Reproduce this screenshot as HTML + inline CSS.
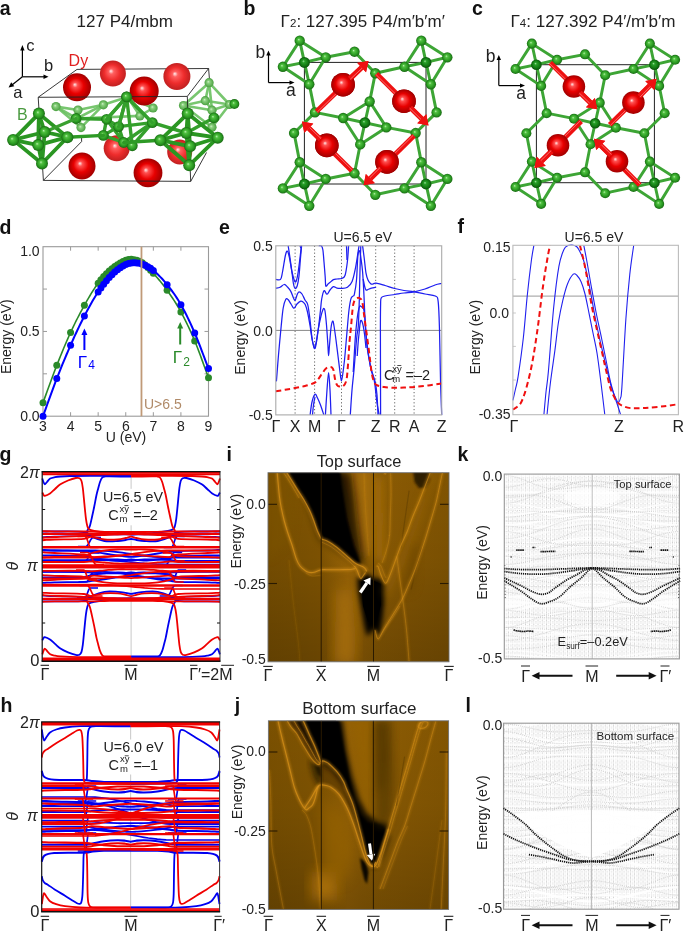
<!DOCTYPE html>
<html><head><meta charset="utf-8"><style>
html,body{margin:0;padding:0;background:#fff;}
svg{display:block;font-family:"Liberation Sans",sans-serif;will-change:transform;}
</style></head><body>
<svg width="685" height="932" viewBox="0 0 685 932">
<rect x="0" y="0" width="685" height="932" fill="#fff"/>
<defs>
<radialGradient id="gRed" cx="0.5" cy="0.5" r="0.5" fx="0.42" fy="0.40">
 <stop offset="0" stop-color="#ffe8e8"/><stop offset="0.18" stop-color="#ff5050"/><stop offset="0.55" stop-color="#e80000"/><stop offset="1" stop-color="#a00000"/>
</radialGradient>
<radialGradient id="gRedL" cx="0.5" cy="0.5" r="0.5" fx="0.42" fy="0.40">
 <stop offset="0" stop-color="#fff0f0"/><stop offset="0.2" stop-color="#ff6060"/><stop offset="0.6" stop-color="#ee2c2c"/><stop offset="1" stop-color="#c02020"/>
</radialGradient>
<radialGradient id="gGrn" cx="0.5" cy="0.5" r="0.5" fx="0.40" fy="0.38">
 <stop offset="0" stop-color="#b8f0b0"/><stop offset="0.25" stop-color="#50c040"/><stop offset="0.7" stop-color="#2a9a22"/><stop offset="1" stop-color="#1a6a14"/>
</radialGradient>
<radialGradient id="gGrnD" cx="0.5" cy="0.5" r="0.5" fx="0.40" fy="0.38">
 <stop offset="0" stop-color="#a0e0a0"/><stop offset="0.25" stop-color="#28a028"/><stop offset="0.7" stop-color="#137a13"/><stop offset="1" stop-color="#0a500a"/>
</radialGradient>
<radialGradient id="gGrnL" cx="0.5" cy="0.5" r="0.5" fx="0.40" fy="0.38">
 <stop offset="0" stop-color="#d0f0c8"/><stop offset="0.3" stop-color="#8ad07e"/><stop offset="1" stop-color="#4aa040"/>
</radialGradient>

<filter id="bl1" x="-20%" y="-20%" width="140%" height="140%"><feGaussianBlur stdDeviation="1.2"/></filter>
<filter id="bl2" x="-20%" y="-20%" width="140%" height="140%"><feGaussianBlur stdDeviation="2.5"/></filter>
<filter id="bl4" x="-30%" y="-30%" width="160%" height="160%"><feGaussianBlur stdDeviation="4.5"/></filter>
<filter id="bl7" x="-30%" y="-30%" width="160%" height="160%"><feGaussianBlur stdDeviation="7"/></filter>
<linearGradient id="vdark" x1="0" y1="0" x2="0" y2="1">
 <stop offset="0" stop-color="#000" stop-opacity="0"/><stop offset="0.45" stop-color="#000" stop-opacity="0.05"/><stop offset="1" stop-color="#000" stop-opacity="0.2"/>
</linearGradient>
<clipPath id="clipI"><rect x="268.0" y="472.7" width="181.0" height="189.1"/></clipPath>
<clipPath id="clipJ"><rect x="268.4" y="720.8" width="180.2" height="188.6"/></clipPath>
<linearGradient id="baseI" x1="268" y1="0" x2="449" y2="0" gradientUnits="userSpaceOnUse">
 <stop offset="0" stop-color="#7a5001"/><stop offset="0.18" stop-color="#7e5302"/><stop offset="0.29" stop-color="#825502"/>
 <stop offset="0.37" stop-color="#915f04"/><stop offset="0.44" stop-color="#9e6706"/><stop offset="0.52" stop-color="#925f05"/>
 <stop offset="0.58" stop-color="#8c5c04"/><stop offset="0.75" stop-color="#875803"/><stop offset="1" stop-color="#805402"/>
</linearGradient>
<linearGradient id="baseJ" x1="268" y1="0" x2="449" y2="0" gradientUnits="userSpaceOnUse">
 <stop offset="0" stop-color="#7a5001"/><stop offset="0.18" stop-color="#7e5302"/><stop offset="0.29" stop-color="#825502"/>
 <stop offset="0.37" stop-color="#8c5c04"/><stop offset="0.44" stop-color="#946106"/><stop offset="0.52" stop-color="#8e5d05"/>
 <stop offset="0.58" stop-color="#8c5c04"/><stop offset="0.75" stop-color="#885903"/><stop offset="1" stop-color="#825502"/>
</linearGradient>

<pattern id="dotpat" x="0" y="0" width="4.2" height="3.9" patternUnits="userSpaceOnUse">
 <rect x="0" y="0" width="0.85" height="0.8" fill="#c4c4c4"/><rect x="2.1" y="1.3" width="0.85" height="0.8" fill="#c4c4c4"/>
 <rect x="0" y="2.6" width="0.85" height="0.8" fill="#c4c4c4"/><rect x="2.1" y="2.6" width="0.85" height="0.8" fill="#cccccc"/>
 <rect x="0" y="1.3" width="0.85" height="0.8" fill="#dadada"/>
</pattern>
</defs>
<text x="-0.3" y="14.5" font-size="19.5" text-anchor="start" fill="#111" font-weight="bold" >a</text>
<text x="243.6" y="14.5" font-size="19.5" text-anchor="start" fill="#111" font-weight="bold" >b</text>
<text x="472.0" y="14.5" font-size="19.5" text-anchor="start" fill="#111" font-weight="bold" >c</text>
<text x="-0.5" y="233.6" font-size="19.5" text-anchor="start" fill="#111" font-weight="bold" >d</text>
<text x="219.0" y="233.6" font-size="19.5" text-anchor="start" fill="#111" font-weight="bold" >e</text>
<text x="457.6" y="233.4" font-size="19.5" text-anchor="start" fill="#111" font-weight="bold" >f</text>
<text x="-0.5" y="460.5" font-size="19.5" text-anchor="start" fill="#111" font-weight="bold" >g</text>
<text x="226.6" y="461.0" font-size="19.5" text-anchor="start" fill="#111" font-weight="bold" >i</text>
<text x="457.6" y="460.8" font-size="19.5" text-anchor="start" fill="#111" font-weight="bold" >k</text>
<text x="0.4" y="711.7" font-size="19.5" text-anchor="start" fill="#111" font-weight="bold" >h</text>
<text x="234.8" y="712.0" font-size="19.5" text-anchor="start" fill="#111" font-weight="bold" >j</text>
<text x="465.6" y="711.8" font-size="19.5" text-anchor="start" fill="#111" font-weight="bold" >l</text>
<text x="76.6" y="26.9" font-size="17.0" text-anchor="start" fill="#222" font-weight="normal" >127 P4/mbm</text>
<line x1="22.40" y1="76.80" x2="22.40" y2="49.50" stroke="#000" stroke-width="1.2" />
<path d="M22.4,45.0 L20.2,50.5 L24.599999999999998,50.5 Z" fill="#000"/>
<line x1="22.40" y1="76.80" x2="44.50" y2="76.80" stroke="#000" stroke-width="1.2" />
<path d="M48.5,76.8 L43.5,74.6 L43.5,79.0 Z" fill="#000"/>
<line x1="22.40" y1="76.80" x2="12.00" y2="85.00" stroke="#000" stroke-width="1.2" />
<path d="M8.6,87.4 L11.2,82.2 L14.3,86.2 Z" fill="#000"/>
<text x="26.2" y="50.6" font-size="16.5" text-anchor="start" fill="#222" font-weight="normal" >c</text>
<text x="44.0" y="70.6" font-size="16.5" text-anchor="start" fill="#222" font-weight="normal" >b</text>
<text x="13.2" y="98.2" font-size="16.5" text-anchor="start" fill="#222" font-weight="normal" >a</text>
<text x="68.6" y="66.0" font-size="16" text-anchor="start" fill="#e02020" font-weight="normal" >Dy</text>
<text x="17.0" y="120.0" font-size="16" text-anchor="start" fill="#4a9a40" font-weight="normal" >B</text>
<line x1="77.00" y1="69.40" x2="208.60" y2="68.50" stroke="#222" stroke-width="0.9" />
<line x1="77.00" y1="69.40" x2="38.20" y2="97.30" stroke="#222" stroke-width="0.9" />
<line x1="208.60" y1="68.50" x2="187.30" y2="96.40" stroke="#222" stroke-width="0.9" />
<line x1="208.60" y1="68.50" x2="209.50" y2="80.00" stroke="#222" stroke-width="0.9" />
<line x1="43.40" y1="180.40" x2="81.60" y2="141.60" stroke="#222" stroke-width="0.9" />
<line x1="81.60" y1="141.60" x2="81.60" y2="136.00" stroke="#222" stroke-width="0.9" />
<line x1="190.70" y1="181.40" x2="206.50" y2="152.50" stroke="#222" stroke-width="0.9" />
<circle cx="112.90" cy="73.60" r="13.00" fill="url(#gRedL)"/>
<circle cx="176.90" cy="76.40" r="13.50" fill="url(#gRedL)"/>
<circle cx="116.70" cy="148.20" r="13.00" fill="url(#gRedL)"/>
<circle cx="179.70" cy="152.00" r="12.50" fill="url(#gRedL)"/>
<line x1="56.00" y1="106.60" x2="78.00" y2="110.00" stroke="#6ac060" stroke-width="2.6" stroke-linecap="round" opacity="0.9"/>
<line x1="78.00" y1="110.00" x2="103.40" y2="104.80" stroke="#6ac060" stroke-width="2.6" stroke-linecap="round" opacity="0.9"/>
<line x1="56.00" y1="106.60" x2="81.00" y2="127.60" stroke="#6ac060" stroke-width="2.6" stroke-linecap="round" opacity="0.9"/>
<line x1="78.00" y1="110.00" x2="81.00" y2="127.60" stroke="#6ac060" stroke-width="2.6" stroke-linecap="round" opacity="0.9"/>
<line x1="103.40" y1="104.80" x2="81.00" y2="127.60" stroke="#6ac060" stroke-width="2.6" stroke-linecap="round" opacity="0.9"/>
<line x1="56.00" y1="106.60" x2="76.70" y2="118.50" stroke="#6ac060" stroke-width="2.6" stroke-linecap="round" opacity="0.9"/>
<line x1="103.40" y1="104.80" x2="76.70" y2="118.50" stroke="#6ac060" stroke-width="2.6" stroke-linecap="round" opacity="0.9"/>
<line x1="78.00" y1="110.00" x2="76.70" y2="118.50" stroke="#6ac060" stroke-width="2.6" stroke-linecap="round" opacity="0.9"/>
<line x1="103.40" y1="104.80" x2="127.50" y2="97.00" stroke="#6ac060" stroke-width="2.6" stroke-linecap="round" opacity="0.9"/>
<line x1="127.50" y1="97.00" x2="153.10" y2="108.00" stroke="#6ac060" stroke-width="2.6" stroke-linecap="round" opacity="0.9"/>
<line x1="153.10" y1="108.00" x2="139.90" y2="115.90" stroke="#6ac060" stroke-width="2.6" stroke-linecap="round" opacity="0.9"/>
<line x1="127.50" y1="97.00" x2="139.90" y2="115.90" stroke="#6ac060" stroke-width="2.6" stroke-linecap="round" opacity="0.9"/>
<line x1="139.90" y1="115.90" x2="76.70" y2="118.50" stroke="#6ac060" stroke-width="2.6" stroke-linecap="round" opacity="0.9"/>
<line x1="209.10" y1="82.70" x2="183.50" y2="105.50" stroke="#6ac060" stroke-width="2.6" stroke-linecap="round" opacity="0.9"/>
<line x1="209.10" y1="82.70" x2="205.30" y2="100.70" stroke="#6ac060" stroke-width="2.6" stroke-linecap="round" opacity="0.9"/>
<line x1="209.10" y1="82.70" x2="212.00" y2="110.20" stroke="#6ac060" stroke-width="2.6" stroke-linecap="round" opacity="0.9"/>
<line x1="183.50" y1="105.50" x2="205.30" y2="100.70" stroke="#6ac060" stroke-width="2.6" stroke-linecap="round" opacity="0.9"/>
<line x1="205.30" y1="100.70" x2="212.00" y2="110.20" stroke="#6ac060" stroke-width="2.6" stroke-linecap="round" opacity="0.9"/>
<line x1="183.50" y1="105.50" x2="212.00" y2="110.20" stroke="#6ac060" stroke-width="2.6" stroke-linecap="round" opacity="0.9"/>
<line x1="212.00" y1="110.20" x2="212.00" y2="127.30" stroke="#6ac060" stroke-width="2.6" stroke-linecap="round" opacity="0.9"/>
<line x1="183.50" y1="105.50" x2="212.00" y2="127.30" stroke="#6ac060" stroke-width="2.6" stroke-linecap="round" opacity="0.9"/>
<line x1="212.00" y1="110.20" x2="229.50" y2="104.50" stroke="#6ac060" stroke-width="2.6" stroke-linecap="round" opacity="0.9"/>
<line x1="205.30" y1="100.70" x2="229.50" y2="104.50" stroke="#6ac060" stroke-width="2.6" stroke-linecap="round" opacity="0.9"/>
<line x1="209.10" y1="82.70" x2="229.50" y2="104.50" stroke="#6ac060" stroke-width="2.6" stroke-linecap="round" opacity="0.9"/>
<line x1="212.00" y1="127.30" x2="229.50" y2="104.50" stroke="#6ac060" stroke-width="2.6" stroke-linecap="round" opacity="0.9"/>
<circle cx="56.00" cy="106.60" r="4.60" fill="url(#gGrnL)"/>
<circle cx="78.00" cy="110.00" r="4.60" fill="url(#gGrnL)"/>
<circle cx="103.40" cy="104.80" r="4.60" fill="url(#gGrnL)"/>
<circle cx="81.00" cy="127.60" r="4.60" fill="url(#gGrnL)"/>
<circle cx="76.70" cy="118.50" r="4.60" fill="url(#gGrnL)"/>
<circle cx="127.50" cy="97.00" r="4.60" fill="url(#gGrnL)"/>
<circle cx="153.10" cy="108.00" r="4.60" fill="url(#gGrnL)"/>
<circle cx="139.90" cy="115.90" r="4.60" fill="url(#gGrnL)"/>
<circle cx="209.10" cy="82.70" r="4.60" fill="url(#gGrnL)"/>
<circle cx="183.50" cy="105.50" r="4.60" fill="url(#gGrnL)"/>
<circle cx="205.30" cy="100.70" r="4.60" fill="url(#gGrnL)"/>
<circle cx="212.00" cy="110.20" r="4.60" fill="url(#gGrnL)"/>
<circle cx="212.00" cy="127.30" r="4.60" fill="url(#gGrnL)"/>
<circle cx="229.50" cy="104.50" r="4.60" fill="url(#gGrnL)"/>
<line x1="126.60" y1="96.90" x2="106.60" y2="119.30" stroke="#34a02c" stroke-width="3.4" stroke-linecap="round" opacity="1.0"/>
<line x1="126.60" y1="96.90" x2="118.60" y2="126.60" stroke="#34a02c" stroke-width="3.4" stroke-linecap="round" opacity="1.0"/>
<line x1="126.60" y1="96.90" x2="152.30" y2="122.60" stroke="#34a02c" stroke-width="3.4" stroke-linecap="round" opacity="1.0"/>
<line x1="106.60" y1="119.30" x2="118.60" y2="126.60" stroke="#34a02c" stroke-width="3.4" stroke-linecap="round" opacity="1.0"/>
<line x1="118.60" y1="126.60" x2="152.30" y2="122.60" stroke="#34a02c" stroke-width="3.4" stroke-linecap="round" opacity="1.0"/>
<line x1="106.60" y1="119.30" x2="123.70" y2="142.50" stroke="#34a02c" stroke-width="3.4" stroke-linecap="round" opacity="1.0"/>
<line x1="118.60" y1="126.60" x2="123.70" y2="142.50" stroke="#34a02c" stroke-width="3.4" stroke-linecap="round" opacity="1.0"/>
<line x1="152.30" y1="122.60" x2="123.70" y2="142.50" stroke="#34a02c" stroke-width="3.4" stroke-linecap="round" opacity="1.0"/>
<line x1="123.70" y1="142.50" x2="132.30" y2="145.80" stroke="#34a02c" stroke-width="3.4" stroke-linecap="round" opacity="1.0"/>
<line x1="152.30" y1="122.60" x2="132.30" y2="145.80" stroke="#34a02c" stroke-width="3.4" stroke-linecap="round" opacity="1.0"/>
<line x1="106.60" y1="119.30" x2="103.40" y2="135.40" stroke="#34a02c" stroke-width="3.4" stroke-linecap="round" opacity="1.0"/>
<line x1="103.40" y1="135.40" x2="123.70" y2="142.50" stroke="#34a02c" stroke-width="3.4" stroke-linecap="round" opacity="1.0"/>
<line x1="152.30" y1="122.60" x2="186.40" y2="133.00" stroke="#34a02c" stroke-width="3.4" stroke-linecap="round" opacity="1.0"/>
<line x1="186.40" y1="133.00" x2="213.90" y2="117.80" stroke="#34a02c" stroke-width="3.4" stroke-linecap="round" opacity="1.0"/>
<line x1="118.60" y1="126.60" x2="103.40" y2="135.40" stroke="#34a02c" stroke-width="3.4" stroke-linecap="round" opacity="1.0"/>
<line x1="76.10" y1="118.50" x2="106.60" y2="119.30" stroke="#34a02c" stroke-width="3.4" stroke-linecap="round" opacity="1.0"/>
<line x1="126.60" y1="96.90" x2="132.30" y2="145.80" stroke="#34a02c" stroke-width="3.4" stroke-linecap="round" opacity="1.0"/>
<circle cx="106.60" cy="119.30" r="5.40" fill="url(#gGrn)"/>
<circle cx="118.60" cy="126.60" r="5.40" fill="url(#gGrn)"/>
<circle cx="152.30" cy="122.60" r="5.40" fill="url(#gGrn)"/>
<circle cx="126.60" cy="96.90" r="5.40" fill="url(#gGrn)"/>
<circle cx="123.70" cy="142.50" r="5.40" fill="url(#gGrn)"/>
<circle cx="103.40" cy="135.40" r="5.40" fill="url(#gGrn)"/>
<circle cx="132.30" cy="145.80" r="5.40" fill="url(#gGrn)"/>
<circle cx="76.10" cy="118.50" r="5.40" fill="url(#gGrn)"/>
<circle cx="186.40" cy="133.00" r="5.40" fill="url(#gGrn)"/>
<circle cx="213.90" cy="117.80" r="5.40" fill="url(#gGrn)"/>
<circle cx="77.00" cy="87.30" r="14.00" fill="url(#gRed)"/>
<circle cx="144.20" cy="90.90" r="14.50" fill="url(#gRed)"/>
<line x1="126.60" y1="96.90" x2="118.60" y2="126.60" stroke="#34a02c" stroke-width="3.4" stroke-linecap="round" opacity="1.0"/>
<line x1="126.60" y1="96.90" x2="152.30" y2="122.60" stroke="#34a02c" stroke-width="3.4" stroke-linecap="round" opacity="1.0"/>
<line x1="126.60" y1="96.90" x2="106.60" y2="119.30" stroke="#34a02c" stroke-width="3.4" stroke-linecap="round" opacity="1.0"/>
<line x1="38.20" y1="97.30" x2="187.30" y2="96.40" stroke="#222" stroke-width="0.9" />
<line x1="38.20" y1="97.30" x2="43.40" y2="180.40" stroke="#222" stroke-width="0.9" />
<line x1="187.30" y1="96.40" x2="190.70" y2="181.40" stroke="#222" stroke-width="0.9" />
<circle cx="126.60" cy="96.90" r="5.40" fill="url(#gGrn)"/>
<line x1="38.90" y1="113.60" x2="13.10" y2="139.90" stroke="#2a9622" stroke-width="3.8" stroke-linecap="round" opacity="1.0"/>
<line x1="42.00" y1="163.50" x2="13.10" y2="139.90" stroke="#2a9622" stroke-width="3.8" stroke-linecap="round" opacity="1.0"/>
<line x1="38.90" y1="113.60" x2="38.20" y2="145.10" stroke="#2a9622" stroke-width="3.8" stroke-linecap="round" opacity="1.0"/>
<line x1="42.00" y1="163.50" x2="38.20" y2="145.10" stroke="#2a9622" stroke-width="3.8" stroke-linecap="round" opacity="1.0"/>
<line x1="38.90" y1="113.60" x2="67.40" y2="137.20" stroke="#2a9622" stroke-width="3.8" stroke-linecap="round" opacity="1.0"/>
<line x1="42.00" y1="163.50" x2="67.40" y2="137.20" stroke="#2a9622" stroke-width="3.8" stroke-linecap="round" opacity="1.0"/>
<line x1="38.90" y1="113.60" x2="44.70" y2="132.00" stroke="#2a9622" stroke-width="3.8" stroke-linecap="round" opacity="1.0"/>
<line x1="42.00" y1="163.50" x2="44.70" y2="132.00" stroke="#2a9622" stroke-width="3.8" stroke-linecap="round" opacity="1.0"/>
<line x1="13.10" y1="139.90" x2="38.20" y2="145.10" stroke="#2a9622" stroke-width="3.8" stroke-linecap="round" opacity="1.0"/>
<line x1="38.20" y1="145.10" x2="67.40" y2="137.20" stroke="#2a9622" stroke-width="3.8" stroke-linecap="round" opacity="1.0"/>
<line x1="67.40" y1="137.20" x2="44.70" y2="132.00" stroke="#2a9622" stroke-width="3.8" stroke-linecap="round" opacity="1.0"/>
<line x1="44.70" y1="132.00" x2="13.10" y2="139.90" stroke="#2a9622" stroke-width="3.8" stroke-linecap="round" opacity="1.0"/>
<line x1="187.70" y1="113.60" x2="160.40" y2="140.20" stroke="#2a9622" stroke-width="3.8" stroke-linecap="round" opacity="1.0"/>
<line x1="189.20" y1="165.30" x2="160.40" y2="140.20" stroke="#2a9622" stroke-width="3.8" stroke-linecap="round" opacity="1.0"/>
<line x1="187.70" y1="113.60" x2="190.10" y2="146.30" stroke="#2a9622" stroke-width="3.8" stroke-linecap="round" opacity="1.0"/>
<line x1="189.20" y1="165.30" x2="190.10" y2="146.30" stroke="#2a9622" stroke-width="3.8" stroke-linecap="round" opacity="1.0"/>
<line x1="187.70" y1="113.60" x2="217.70" y2="137.70" stroke="#2a9622" stroke-width="3.8" stroke-linecap="round" opacity="1.0"/>
<line x1="189.20" y1="165.30" x2="217.70" y2="137.70" stroke="#2a9622" stroke-width="3.8" stroke-linecap="round" opacity="1.0"/>
<line x1="187.70" y1="113.60" x2="186.40" y2="133.00" stroke="#2a9622" stroke-width="3.8" stroke-linecap="round" opacity="1.0"/>
<line x1="189.20" y1="165.30" x2="186.40" y2="133.00" stroke="#2a9622" stroke-width="3.8" stroke-linecap="round" opacity="1.0"/>
<line x1="160.40" y1="140.20" x2="190.10" y2="146.30" stroke="#2a9622" stroke-width="3.8" stroke-linecap="round" opacity="1.0"/>
<line x1="190.10" y1="146.30" x2="217.70" y2="137.70" stroke="#2a9622" stroke-width="3.8" stroke-linecap="round" opacity="1.0"/>
<line x1="217.70" y1="137.70" x2="186.40" y2="133.00" stroke="#2a9622" stroke-width="3.8" stroke-linecap="round" opacity="1.0"/>
<line x1="186.40" y1="133.00" x2="160.40" y2="140.20" stroke="#2a9622" stroke-width="3.8" stroke-linecap="round" opacity="1.0"/>
<line x1="67.40" y1="137.20" x2="103.40" y2="135.40" stroke="#2e9a26" stroke-width="3.4" stroke-linecap="round" opacity="1.0"/>
<line x1="123.70" y1="142.50" x2="160.40" y2="140.20" stroke="#2e9a26" stroke-width="3.4" stroke-linecap="round" opacity="1.0"/>
<line x1="44.70" y1="132.00" x2="76.10" y2="118.50" stroke="#3aa030" stroke-width="3.0" stroke-linecap="round" opacity="1.0"/>
<circle cx="44.70" cy="132.00" r="6.00" fill="url(#gGrn)"/>
<circle cx="67.40" cy="137.20" r="6.00" fill="url(#gGrn)"/>
<circle cx="38.20" cy="145.10" r="6.00" fill="url(#gGrn)"/>
<circle cx="13.10" cy="139.90" r="6.00" fill="url(#gGrn)"/>
<circle cx="42.00" cy="163.50" r="6.00" fill="url(#gGrn)"/>
<circle cx="38.90" cy="113.60" r="6.00" fill="url(#gGrn)"/>
<circle cx="186.40" cy="133.00" r="6.00" fill="url(#gGrn)"/>
<circle cx="217.70" cy="137.70" r="6.00" fill="url(#gGrn)"/>
<circle cx="190.10" cy="146.30" r="6.00" fill="url(#gGrn)"/>
<circle cx="160.40" cy="140.20" r="6.00" fill="url(#gGrn)"/>
<circle cx="189.20" cy="165.30" r="6.00" fill="url(#gGrn)"/>
<circle cx="187.70" cy="113.60" r="6.00" fill="url(#gGrn)"/>
<circle cx="82.00" cy="166.00" r="13.50" fill="url(#gRed)"/>
<circle cx="148.00" cy="172.80" r="14.40" fill="url(#gRed)"/>
<line x1="43.40" y1="180.40" x2="190.70" y2="181.40" stroke="#222" stroke-width="0.9" />
<text x="280.6" y="26.5" font-size="17.0" text-anchor="start" fill="#222" font-weight="normal" >Γ<tspan font-size="11.5">2</tspan>: 127.395 P4/m′b′m′</text>
<rect x="304.40" y="62.40" width="121.60" height="121.60" stroke="#222" stroke-width="1.0" fill="none" />
<line x1="304.40" y1="62.40" x2="299.72" y2="40.67" stroke="#3da535" stroke-width="2.990163934426229" stroke-linecap="round" opacity="1.0"/>
<line x1="304.40" y1="62.40" x2="325.73" y2="57.32" stroke="#3da535" stroke-width="2.990163934426229" stroke-linecap="round" opacity="1.0"/>
<line x1="304.40" y1="62.40" x2="282.87" y2="66.79" stroke="#3da535" stroke-width="2.990163934426229" stroke-linecap="round" opacity="1.0"/>
<line x1="304.40" y1="62.40" x2="309.28" y2="84.23" stroke="#3da535" stroke-width="2.990163934426229" stroke-linecap="round" opacity="1.0"/>
<line x1="299.72" y1="40.67" x2="325.73" y2="57.32" stroke="#3da535" stroke-width="2.990163934426229" stroke-linecap="round" opacity="1.0"/>
<line x1="299.72" y1="40.67" x2="282.87" y2="66.79" stroke="#3da535" stroke-width="2.990163934426229" stroke-linecap="round" opacity="1.0"/>
<line x1="325.73" y1="57.32" x2="309.28" y2="84.23" stroke="#3da535" stroke-width="2.990163934426229" stroke-linecap="round" opacity="1.0"/>
<line x1="325.73" y1="57.32" x2="354.50" y2="51.70" stroke="#3da535" stroke-width="2.990163934426229" stroke-linecap="round" opacity="1.0"/>
<line x1="282.87" y1="66.79" x2="309.28" y2="84.23" stroke="#3da535" stroke-width="2.990163934426229" stroke-linecap="round" opacity="1.0"/>
<line x1="309.28" y1="84.23" x2="314.98" y2="112.38" stroke="#3da535" stroke-width="2.990163934426229" stroke-linecap="round" opacity="1.0"/>
<line x1="364.90" y1="122.71" x2="369.68" y2="101.48" stroke="#3da535" stroke-width="2.990163934426229" stroke-linecap="round" opacity="1.0"/>
<line x1="364.90" y1="122.71" x2="386.33" y2="127.40" stroke="#3da535" stroke-width="2.990163934426229" stroke-linecap="round" opacity="1.0"/>
<line x1="364.90" y1="122.71" x2="360.21" y2="144.44" stroke="#3da535" stroke-width="2.990163934426229" stroke-linecap="round" opacity="1.0"/>
<line x1="364.90" y1="122.71" x2="343.17" y2="118.03" stroke="#3da535" stroke-width="2.990163934426229" stroke-linecap="round" opacity="1.0"/>
<line x1="369.68" y1="101.48" x2="386.33" y2="127.40" stroke="#3da535" stroke-width="2.990163934426229" stroke-linecap="round" opacity="1.0"/>
<line x1="369.68" y1="101.48" x2="343.17" y2="118.03" stroke="#3da535" stroke-width="2.990163934426229" stroke-linecap="round" opacity="1.0"/>
<line x1="369.68" y1="101.48" x2="375.29" y2="73.22" stroke="#3da535" stroke-width="2.990163934426229" stroke-linecap="round" opacity="1.0"/>
<line x1="386.33" y1="127.40" x2="360.21" y2="144.44" stroke="#3da535" stroke-width="2.990163934426229" stroke-linecap="round" opacity="1.0"/>
<line x1="386.33" y1="127.40" x2="415.66" y2="133.05" stroke="#3da535" stroke-width="2.990163934426229" stroke-linecap="round" opacity="1.0"/>
<line x1="360.21" y1="144.44" x2="343.17" y2="118.03" stroke="#3da535" stroke-width="2.990163934426229" stroke-linecap="round" opacity="1.0"/>
<line x1="360.21" y1="144.44" x2="354.50" y2="173.30" stroke="#3da535" stroke-width="2.990163934426229" stroke-linecap="round" opacity="1.0"/>
<line x1="343.17" y1="118.03" x2="314.98" y2="112.38" stroke="#3da535" stroke-width="2.990163934426229" stroke-linecap="round" opacity="1.0"/>
<line x1="354.50" y1="51.70" x2="375.29" y2="73.22" stroke="#3da535" stroke-width="2.990163934426229" stroke-linecap="round" opacity="1.0"/>
<line x1="375.29" y1="73.22" x2="404.47" y2="66.79" stroke="#3da535" stroke-width="2.990163934426229" stroke-linecap="round" opacity="1.0"/>
<line x1="314.98" y1="112.38" x2="294.06" y2="133.05" stroke="#3da535" stroke-width="2.990163934426229" stroke-linecap="round" opacity="1.0"/>
<line x1="294.06" y1="133.05" x2="299.72" y2="162.27" stroke="#3da535" stroke-width="2.990163934426229" stroke-linecap="round" opacity="1.0"/>
<line x1="304.40" y1="184.00" x2="299.72" y2="162.27" stroke="#3da535" stroke-width="2.990163934426229" stroke-linecap="round" opacity="1.0"/>
<line x1="304.40" y1="184.00" x2="325.73" y2="178.92" stroke="#3da535" stroke-width="2.990163934426229" stroke-linecap="round" opacity="1.0"/>
<line x1="304.40" y1="184.00" x2="282.87" y2="188.39" stroke="#3da535" stroke-width="2.990163934426229" stroke-linecap="round" opacity="1.0"/>
<line x1="304.40" y1="184.00" x2="309.28" y2="205.83" stroke="#3da535" stroke-width="2.990163934426229" stroke-linecap="round" opacity="1.0"/>
<line x1="299.72" y1="162.27" x2="325.73" y2="178.92" stroke="#3da535" stroke-width="2.990163934426229" stroke-linecap="round" opacity="1.0"/>
<line x1="299.72" y1="162.27" x2="282.87" y2="188.39" stroke="#3da535" stroke-width="2.990163934426229" stroke-linecap="round" opacity="1.0"/>
<line x1="325.73" y1="178.92" x2="309.28" y2="205.83" stroke="#3da535" stroke-width="2.990163934426229" stroke-linecap="round" opacity="1.0"/>
<line x1="325.73" y1="178.92" x2="354.50" y2="173.30" stroke="#3da535" stroke-width="2.990163934426229" stroke-linecap="round" opacity="1.0"/>
<line x1="282.87" y1="188.39" x2="309.28" y2="205.83" stroke="#3da535" stroke-width="2.990163934426229" stroke-linecap="round" opacity="1.0"/>
<line x1="354.50" y1="173.30" x2="375.29" y2="194.82" stroke="#3da535" stroke-width="2.990163934426229" stroke-linecap="round" opacity="1.0"/>
<line x1="375.29" y1="194.82" x2="404.47" y2="188.39" stroke="#3da535" stroke-width="2.990163934426229" stroke-linecap="round" opacity="1.0"/>
<line x1="426.00" y1="62.40" x2="421.32" y2="40.67" stroke="#3da535" stroke-width="2.990163934426229" stroke-linecap="round" opacity="1.0"/>
<line x1="426.00" y1="62.40" x2="447.33" y2="57.32" stroke="#3da535" stroke-width="2.990163934426229" stroke-linecap="round" opacity="1.0"/>
<line x1="426.00" y1="62.40" x2="404.47" y2="66.79" stroke="#3da535" stroke-width="2.990163934426229" stroke-linecap="round" opacity="1.0"/>
<line x1="426.00" y1="62.40" x2="430.88" y2="84.23" stroke="#3da535" stroke-width="2.990163934426229" stroke-linecap="round" opacity="1.0"/>
<line x1="421.32" y1="40.67" x2="447.33" y2="57.32" stroke="#3da535" stroke-width="2.990163934426229" stroke-linecap="round" opacity="1.0"/>
<line x1="421.32" y1="40.67" x2="404.47" y2="66.79" stroke="#3da535" stroke-width="2.990163934426229" stroke-linecap="round" opacity="1.0"/>
<line x1="447.33" y1="57.32" x2="430.88" y2="84.23" stroke="#3da535" stroke-width="2.990163934426229" stroke-linecap="round" opacity="1.0"/>
<line x1="404.47" y1="66.79" x2="430.88" y2="84.23" stroke="#3da535" stroke-width="2.990163934426229" stroke-linecap="round" opacity="1.0"/>
<line x1="430.88" y1="84.23" x2="436.58" y2="112.38" stroke="#3da535" stroke-width="2.990163934426229" stroke-linecap="round" opacity="1.0"/>
<line x1="436.58" y1="112.38" x2="415.66" y2="133.05" stroke="#3da535" stroke-width="2.990163934426229" stroke-linecap="round" opacity="1.0"/>
<line x1="415.66" y1="133.05" x2="421.32" y2="162.27" stroke="#3da535" stroke-width="2.990163934426229" stroke-linecap="round" opacity="1.0"/>
<line x1="426.00" y1="184.00" x2="421.32" y2="162.27" stroke="#3da535" stroke-width="2.990163934426229" stroke-linecap="round" opacity="1.0"/>
<line x1="426.00" y1="184.00" x2="447.33" y2="178.92" stroke="#3da535" stroke-width="2.990163934426229" stroke-linecap="round" opacity="1.0"/>
<line x1="426.00" y1="184.00" x2="404.47" y2="188.39" stroke="#3da535" stroke-width="2.990163934426229" stroke-linecap="round" opacity="1.0"/>
<line x1="426.00" y1="184.00" x2="430.88" y2="205.83" stroke="#3da535" stroke-width="2.990163934426229" stroke-linecap="round" opacity="1.0"/>
<line x1="421.32" y1="162.27" x2="447.33" y2="178.92" stroke="#3da535" stroke-width="2.990163934426229" stroke-linecap="round" opacity="1.0"/>
<line x1="421.32" y1="162.27" x2="404.47" y2="188.39" stroke="#3da535" stroke-width="2.990163934426229" stroke-linecap="round" opacity="1.0"/>
<line x1="447.33" y1="178.92" x2="430.88" y2="205.83" stroke="#3da535" stroke-width="2.990163934426229" stroke-linecap="round" opacity="1.0"/>
<line x1="404.47" y1="188.39" x2="430.88" y2="205.83" stroke="#3da535" stroke-width="2.990163934426229" stroke-linecap="round" opacity="1.0"/>
<circle cx="304.40" cy="62.40" r="5.48" fill="url(#gGrnD)"/>
<circle cx="299.72" cy="40.67" r="5.18" fill="url(#gGrn)"/>
<circle cx="325.73" cy="57.32" r="5.18" fill="url(#gGrn)"/>
<circle cx="282.87" cy="66.79" r="5.18" fill="url(#gGrn)"/>
<circle cx="309.28" cy="84.23" r="5.18" fill="url(#gGrn)"/>
<circle cx="364.90" cy="122.71" r="5.48" fill="url(#gGrnD)"/>
<circle cx="369.68" cy="101.48" r="5.18" fill="url(#gGrn)"/>
<circle cx="386.33" cy="127.40" r="5.18" fill="url(#gGrn)"/>
<circle cx="360.21" cy="144.44" r="5.18" fill="url(#gGrn)"/>
<circle cx="343.17" cy="118.03" r="5.18" fill="url(#gGrn)"/>
<circle cx="354.50" cy="51.70" r="5.18" fill="url(#gGrn)"/>
<circle cx="375.29" cy="73.22" r="5.18" fill="url(#gGrn)"/>
<circle cx="314.98" cy="112.38" r="5.18" fill="url(#gGrn)"/>
<circle cx="294.06" cy="133.05" r="5.18" fill="url(#gGrn)"/>
<circle cx="304.40" cy="184.00" r="5.48" fill="url(#gGrnD)"/>
<circle cx="299.72" cy="162.27" r="5.18" fill="url(#gGrn)"/>
<circle cx="325.73" cy="178.92" r="5.18" fill="url(#gGrn)"/>
<circle cx="282.87" cy="188.39" r="5.18" fill="url(#gGrn)"/>
<circle cx="309.28" cy="205.83" r="5.18" fill="url(#gGrn)"/>
<circle cx="354.50" cy="173.30" r="5.18" fill="url(#gGrn)"/>
<circle cx="375.29" cy="194.82" r="5.18" fill="url(#gGrn)"/>
<circle cx="426.00" cy="62.40" r="5.48" fill="url(#gGrnD)"/>
<circle cx="421.32" cy="40.67" r="5.18" fill="url(#gGrn)"/>
<circle cx="447.33" cy="57.32" r="5.18" fill="url(#gGrn)"/>
<circle cx="404.47" cy="66.79" r="5.18" fill="url(#gGrn)"/>
<circle cx="430.88" cy="84.23" r="5.18" fill="url(#gGrn)"/>
<circle cx="436.58" cy="112.38" r="5.18" fill="url(#gGrn)"/>
<circle cx="415.66" cy="133.05" r="5.18" fill="url(#gGrn)"/>
<circle cx="426.00" cy="184.00" r="5.48" fill="url(#gGrnD)"/>
<circle cx="421.32" cy="162.27" r="5.18" fill="url(#gGrn)"/>
<circle cx="447.33" cy="178.92" r="5.18" fill="url(#gGrn)"/>
<circle cx="404.47" cy="188.39" r="5.18" fill="url(#gGrn)"/>
<circle cx="430.88" cy="205.83" r="5.18" fill="url(#gGrn)"/>
<circle cx="343.10" cy="84.70" r="11.80" fill="url(#gRed)"/>
<circle cx="404.00" cy="101.20" r="11.80" fill="url(#gRed)"/>
<circle cx="387.00" cy="161.90" r="11.80" fill="url(#gRed)"/>
<circle cx="326.80" cy="145.40" r="11.80" fill="url(#gRed)"/>
<line x1="316.50" y1="111.50" x2="361.68" y2="67.62" stroke="#ee1111" stroke-width="5.0"/>
<line x1="317.13" y1="112.15" x2="362.31" y2="68.26" stroke="#ff9090" stroke-width="1" opacity="0.7"/>
<path d="M368.50,61.00 L366.14,72.21 L357.23,63.03 Z" fill="#ee1111"/>
<circle cx="343.10" cy="84.70" r="11.80" fill="url(#gRed)"/>
<line x1="349.57" y1="78.66" x2="361.55" y2="67.48" stroke="#ee1111" stroke-width="5.0"/>
<line x1="350.18" y1="79.32" x2="362.17" y2="68.14" stroke="#ff9090" stroke-width="1" opacity="0.7"/>
<path d="M368.50,61.00 L365.92,72.16 L357.19,62.80 Z" fill="#ee1111"/>
<line x1="376.50" y1="73.80" x2="421.76" y2="118.80" stroke="#ee1111" stroke-width="5.0"/>
<line x1="375.87" y1="74.44" x2="421.13" y2="119.44" stroke="#ff9090" stroke-width="1" opacity="0.7"/>
<path d="M428.50,125.50 L417.25,123.34 L426.28,114.26 Z" fill="#ee1111"/>
<circle cx="404.00" cy="101.20" r="11.80" fill="url(#gRed)"/>
<line x1="410.28" y1="107.43" x2="421.76" y2="118.81" stroke="#ee1111" stroke-width="5.0"/>
<line x1="409.65" y1="108.07" x2="421.12" y2="119.45" stroke="#ff9090" stroke-width="1" opacity="0.7"/>
<path d="M428.50,125.50 L417.25,123.35 L426.26,114.27 Z" fill="#ee1111"/>
<line x1="414.00" y1="135.80" x2="370.38" y2="178.64" stroke="#ee1111" stroke-width="5.0"/>
<line x1="413.37" y1="135.16" x2="369.75" y2="178.00" stroke="#ff9090" stroke-width="1" opacity="0.7"/>
<path d="M363.60,185.30 L365.89,174.08 L374.86,183.21 Z" fill="#ee1111"/>
<circle cx="387.00" cy="161.90" r="11.80" fill="url(#gRed)"/>
<line x1="380.74" y1="168.16" x2="370.32" y2="178.58" stroke="#ee1111" stroke-width="5.0"/>
<line x1="380.11" y1="167.52" x2="369.68" y2="177.95" stroke="#ff9090" stroke-width="1" opacity="0.7"/>
<path d="M363.60,185.30 L365.79,174.06 L374.84,183.11 Z" fill="#ee1111"/>
<line x1="351.80" y1="170.80" x2="308.75" y2="128.18" stroke="#ee1111" stroke-width="5.0"/>
<line x1="352.43" y1="170.16" x2="309.38" y2="127.54" stroke="#ff9090" stroke-width="1" opacity="0.7"/>
<path d="M302.00,121.50 L313.25,123.64 L304.25,132.73 Z" fill="#ee1111"/>
<circle cx="326.80" cy="145.40" r="11.80" fill="url(#gRed)"/>
<line x1="320.43" y1="139.26" x2="308.84" y2="128.09" stroke="#ee1111" stroke-width="5.0"/>
<line x1="321.05" y1="138.61" x2="309.47" y2="127.44" stroke="#ff9090" stroke-width="1" opacity="0.7"/>
<path d="M302.00,121.50 L313.28,123.48 L304.40,132.70 Z" fill="#ee1111"/>
<line x1="268.50" y1="82.60" x2="268.50" y2="54.50" stroke="#000" stroke-width="1.2" />
<path d="M268.5,50.5 L266.3,55.5 L270.7,55.5 Z" fill="#000"/>
<line x1="268.50" y1="82.60" x2="290.50" y2="82.60" stroke="#000" stroke-width="1.2" />
<path d="M294.5,82.6 L289.5,80.4 L289.5,84.8 Z" fill="#000"/>
<text x="255.4" y="58.4" font-size="17.5" text-anchor="start" fill="#222" font-weight="normal" >b</text>
<text x="285.9" y="95.6" font-size="17.5" text-anchor="start" fill="#222" font-weight="normal" >a</text>
<circle cx="234.40" cy="104.00" r="4.90" fill="url(#gGrn)"/>
<text x="510.4" y="27.0" font-size="17.1" text-anchor="start" fill="#222" font-weight="normal" >Γ<tspan font-size="11.5">4</tspan>: 127.392 P4′/m′b′m</text>
<rect x="536.40" y="64.70" width="118.00" height="118.00" stroke="#222" stroke-width="1.0" fill="none" />
<line x1="536.40" y1="64.70" x2="531.85" y2="43.61" stroke="#3da535" stroke-width="2.901639344262295" stroke-linecap="round" opacity="1.0"/>
<line x1="536.40" y1="64.70" x2="557.10" y2="59.77" stroke="#3da535" stroke-width="2.901639344262295" stroke-linecap="round" opacity="1.0"/>
<line x1="536.40" y1="64.70" x2="515.51" y2="68.96" stroke="#3da535" stroke-width="2.901639344262295" stroke-linecap="round" opacity="1.0"/>
<line x1="536.40" y1="64.70" x2="541.14" y2="85.88" stroke="#3da535" stroke-width="2.901639344262295" stroke-linecap="round" opacity="1.0"/>
<line x1="531.85" y1="43.61" x2="557.10" y2="59.77" stroke="#3da535" stroke-width="2.901639344262295" stroke-linecap="round" opacity="1.0"/>
<line x1="531.85" y1="43.61" x2="515.51" y2="68.96" stroke="#3da535" stroke-width="2.901639344262295" stroke-linecap="round" opacity="1.0"/>
<line x1="557.10" y1="59.77" x2="541.14" y2="85.88" stroke="#3da535" stroke-width="2.901639344262295" stroke-linecap="round" opacity="1.0"/>
<line x1="557.10" y1="59.77" x2="585.02" y2="54.32" stroke="#3da535" stroke-width="2.901639344262295" stroke-linecap="round" opacity="1.0"/>
<line x1="515.51" y1="68.96" x2="541.14" y2="85.88" stroke="#3da535" stroke-width="2.901639344262295" stroke-linecap="round" opacity="1.0"/>
<line x1="541.14" y1="85.88" x2="546.67" y2="113.20" stroke="#3da535" stroke-width="2.901639344262295" stroke-linecap="round" opacity="1.0"/>
<line x1="595.11" y1="123.23" x2="599.75" y2="102.63" stroke="#3da535" stroke-width="2.901639344262295" stroke-linecap="round" opacity="1.0"/>
<line x1="595.11" y1="123.23" x2="615.90" y2="127.77" stroke="#3da535" stroke-width="2.901639344262295" stroke-linecap="round" opacity="1.0"/>
<line x1="595.11" y1="123.23" x2="590.56" y2="144.31" stroke="#3da535" stroke-width="2.901639344262295" stroke-linecap="round" opacity="1.0"/>
<line x1="595.11" y1="123.23" x2="574.02" y2="118.68" stroke="#3da535" stroke-width="2.901639344262295" stroke-linecap="round" opacity="1.0"/>
<line x1="599.75" y1="102.63" x2="615.90" y2="127.77" stroke="#3da535" stroke-width="2.901639344262295" stroke-linecap="round" opacity="1.0"/>
<line x1="599.75" y1="102.63" x2="574.02" y2="118.68" stroke="#3da535" stroke-width="2.901639344262295" stroke-linecap="round" opacity="1.0"/>
<line x1="599.75" y1="102.63" x2="605.19" y2="75.20" stroke="#3da535" stroke-width="2.901639344262295" stroke-linecap="round" opacity="1.0"/>
<line x1="615.90" y1="127.77" x2="590.56" y2="144.31" stroke="#3da535" stroke-width="2.901639344262295" stroke-linecap="round" opacity="1.0"/>
<line x1="615.90" y1="127.77" x2="644.37" y2="133.26" stroke="#3da535" stroke-width="2.901639344262295" stroke-linecap="round" opacity="1.0"/>
<line x1="590.56" y1="144.31" x2="574.02" y2="118.68" stroke="#3da535" stroke-width="2.901639344262295" stroke-linecap="round" opacity="1.0"/>
<line x1="590.56" y1="144.31" x2="585.02" y2="172.32" stroke="#3da535" stroke-width="2.901639344262295" stroke-linecap="round" opacity="1.0"/>
<line x1="574.02" y1="118.68" x2="546.67" y2="113.20" stroke="#3da535" stroke-width="2.901639344262295" stroke-linecap="round" opacity="1.0"/>
<line x1="585.02" y1="54.32" x2="605.19" y2="75.20" stroke="#3da535" stroke-width="2.901639344262295" stroke-linecap="round" opacity="1.0"/>
<line x1="605.19" y1="75.20" x2="633.51" y2="68.96" stroke="#3da535" stroke-width="2.901639344262295" stroke-linecap="round" opacity="1.0"/>
<line x1="546.67" y1="113.20" x2="526.37" y2="133.26" stroke="#3da535" stroke-width="2.901639344262295" stroke-linecap="round" opacity="1.0"/>
<line x1="526.37" y1="133.26" x2="531.85" y2="161.61" stroke="#3da535" stroke-width="2.901639344262295" stroke-linecap="round" opacity="1.0"/>
<line x1="536.40" y1="182.70" x2="531.85" y2="161.61" stroke="#3da535" stroke-width="2.901639344262295" stroke-linecap="round" opacity="1.0"/>
<line x1="536.40" y1="182.70" x2="557.10" y2="177.77" stroke="#3da535" stroke-width="2.901639344262295" stroke-linecap="round" opacity="1.0"/>
<line x1="536.40" y1="182.70" x2="515.51" y2="186.96" stroke="#3da535" stroke-width="2.901639344262295" stroke-linecap="round" opacity="1.0"/>
<line x1="536.40" y1="182.70" x2="541.14" y2="203.88" stroke="#3da535" stroke-width="2.901639344262295" stroke-linecap="round" opacity="1.0"/>
<line x1="531.85" y1="161.61" x2="557.10" y2="177.77" stroke="#3da535" stroke-width="2.901639344262295" stroke-linecap="round" opacity="1.0"/>
<line x1="531.85" y1="161.61" x2="515.51" y2="186.96" stroke="#3da535" stroke-width="2.901639344262295" stroke-linecap="round" opacity="1.0"/>
<line x1="557.10" y1="177.77" x2="541.14" y2="203.88" stroke="#3da535" stroke-width="2.901639344262295" stroke-linecap="round" opacity="1.0"/>
<line x1="557.10" y1="177.77" x2="585.02" y2="172.32" stroke="#3da535" stroke-width="2.901639344262295" stroke-linecap="round" opacity="1.0"/>
<line x1="515.51" y1="186.96" x2="541.14" y2="203.88" stroke="#3da535" stroke-width="2.901639344262295" stroke-linecap="round" opacity="1.0"/>
<line x1="585.02" y1="172.32" x2="605.19" y2="193.20" stroke="#3da535" stroke-width="2.901639344262295" stroke-linecap="round" opacity="1.0"/>
<line x1="605.19" y1="193.20" x2="633.51" y2="186.96" stroke="#3da535" stroke-width="2.901639344262295" stroke-linecap="round" opacity="1.0"/>
<line x1="654.40" y1="64.70" x2="649.85" y2="43.61" stroke="#3da535" stroke-width="2.901639344262295" stroke-linecap="round" opacity="1.0"/>
<line x1="654.40" y1="64.70" x2="675.10" y2="59.77" stroke="#3da535" stroke-width="2.901639344262295" stroke-linecap="round" opacity="1.0"/>
<line x1="654.40" y1="64.70" x2="633.51" y2="68.96" stroke="#3da535" stroke-width="2.901639344262295" stroke-linecap="round" opacity="1.0"/>
<line x1="654.40" y1="64.70" x2="659.14" y2="85.88" stroke="#3da535" stroke-width="2.901639344262295" stroke-linecap="round" opacity="1.0"/>
<line x1="649.85" y1="43.61" x2="675.10" y2="59.77" stroke="#3da535" stroke-width="2.901639344262295" stroke-linecap="round" opacity="1.0"/>
<line x1="649.85" y1="43.61" x2="633.51" y2="68.96" stroke="#3da535" stroke-width="2.901639344262295" stroke-linecap="round" opacity="1.0"/>
<line x1="675.10" y1="59.77" x2="659.14" y2="85.88" stroke="#3da535" stroke-width="2.901639344262295" stroke-linecap="round" opacity="1.0"/>
<line x1="633.51" y1="68.96" x2="659.14" y2="85.88" stroke="#3da535" stroke-width="2.901639344262295" stroke-linecap="round" opacity="1.0"/>
<line x1="659.14" y1="85.88" x2="664.67" y2="113.20" stroke="#3da535" stroke-width="2.901639344262295" stroke-linecap="round" opacity="1.0"/>
<line x1="664.67" y1="113.20" x2="644.37" y2="133.26" stroke="#3da535" stroke-width="2.901639344262295" stroke-linecap="round" opacity="1.0"/>
<line x1="644.37" y1="133.26" x2="649.85" y2="161.61" stroke="#3da535" stroke-width="2.901639344262295" stroke-linecap="round" opacity="1.0"/>
<line x1="654.40" y1="182.70" x2="649.85" y2="161.61" stroke="#3da535" stroke-width="2.901639344262295" stroke-linecap="round" opacity="1.0"/>
<line x1="654.40" y1="182.70" x2="675.10" y2="177.77" stroke="#3da535" stroke-width="2.901639344262295" stroke-linecap="round" opacity="1.0"/>
<line x1="654.40" y1="182.70" x2="633.51" y2="186.96" stroke="#3da535" stroke-width="2.901639344262295" stroke-linecap="round" opacity="1.0"/>
<line x1="654.40" y1="182.70" x2="659.14" y2="203.88" stroke="#3da535" stroke-width="2.901639344262295" stroke-linecap="round" opacity="1.0"/>
<line x1="649.85" y1="161.61" x2="675.10" y2="177.77" stroke="#3da535" stroke-width="2.901639344262295" stroke-linecap="round" opacity="1.0"/>
<line x1="649.85" y1="161.61" x2="633.51" y2="186.96" stroke="#3da535" stroke-width="2.901639344262295" stroke-linecap="round" opacity="1.0"/>
<line x1="675.10" y1="177.77" x2="659.14" y2="203.88" stroke="#3da535" stroke-width="2.901639344262295" stroke-linecap="round" opacity="1.0"/>
<line x1="633.51" y1="186.96" x2="659.14" y2="203.88" stroke="#3da535" stroke-width="2.901639344262295" stroke-linecap="round" opacity="1.0"/>
<circle cx="536.40" cy="64.70" r="5.32" fill="url(#gGrnD)"/>
<circle cx="531.85" cy="43.61" r="5.03" fill="url(#gGrn)"/>
<circle cx="557.10" cy="59.77" r="5.03" fill="url(#gGrn)"/>
<circle cx="515.51" cy="68.96" r="5.03" fill="url(#gGrn)"/>
<circle cx="541.14" cy="85.88" r="5.03" fill="url(#gGrn)"/>
<circle cx="595.11" cy="123.23" r="5.32" fill="url(#gGrnD)"/>
<circle cx="599.75" cy="102.63" r="5.03" fill="url(#gGrn)"/>
<circle cx="615.90" cy="127.77" r="5.03" fill="url(#gGrn)"/>
<circle cx="590.56" cy="144.31" r="5.03" fill="url(#gGrn)"/>
<circle cx="574.02" cy="118.68" r="5.03" fill="url(#gGrn)"/>
<circle cx="585.02" cy="54.32" r="5.03" fill="url(#gGrn)"/>
<circle cx="605.19" cy="75.20" r="5.03" fill="url(#gGrn)"/>
<circle cx="546.67" cy="113.20" r="5.03" fill="url(#gGrn)"/>
<circle cx="526.37" cy="133.26" r="5.03" fill="url(#gGrn)"/>
<circle cx="536.40" cy="182.70" r="5.32" fill="url(#gGrnD)"/>
<circle cx="531.85" cy="161.61" r="5.03" fill="url(#gGrn)"/>
<circle cx="557.10" cy="177.77" r="5.03" fill="url(#gGrn)"/>
<circle cx="515.51" cy="186.96" r="5.03" fill="url(#gGrn)"/>
<circle cx="541.14" cy="203.88" r="5.03" fill="url(#gGrn)"/>
<circle cx="585.02" cy="172.32" r="5.03" fill="url(#gGrn)"/>
<circle cx="605.19" cy="193.20" r="5.03" fill="url(#gGrn)"/>
<circle cx="654.40" cy="64.70" r="5.32" fill="url(#gGrnD)"/>
<circle cx="649.85" cy="43.61" r="5.03" fill="url(#gGrn)"/>
<circle cx="675.10" cy="59.77" r="5.03" fill="url(#gGrn)"/>
<circle cx="633.51" cy="68.96" r="5.03" fill="url(#gGrn)"/>
<circle cx="659.14" cy="85.88" r="5.03" fill="url(#gGrn)"/>
<circle cx="664.67" cy="113.20" r="5.03" fill="url(#gGrn)"/>
<circle cx="644.37" cy="133.26" r="5.03" fill="url(#gGrn)"/>
<circle cx="654.40" cy="182.70" r="5.32" fill="url(#gGrnD)"/>
<circle cx="649.85" cy="161.61" r="5.03" fill="url(#gGrn)"/>
<circle cx="675.10" cy="177.77" r="5.03" fill="url(#gGrn)"/>
<circle cx="633.51" cy="186.96" r="5.03" fill="url(#gGrn)"/>
<circle cx="659.14" cy="203.88" r="5.03" fill="url(#gGrn)"/>
<line x1="550.20" y1="62.80" x2="590.45" y2="102.62" stroke="#ee1111" stroke-width="5.0"/>
<line x1="549.57" y1="63.44" x2="589.81" y2="103.26" stroke="#ff9090" stroke-width="1" opacity="0.7"/>
<path d="M597.20,109.30 L585.95,107.17 L594.95,98.07 Z" fill="#ee1111"/>
<circle cx="573.90" cy="86.50" r="11.30" fill="url(#gRed)"/>
<line x1="579.96" y1="92.43" x2="590.41" y2="102.66" stroke="#ee1111" stroke-width="5.0"/>
<line x1="579.33" y1="93.07" x2="589.78" y2="103.30" stroke="#ff9090" stroke-width="1" opacity="0.7"/>
<path d="M597.20,109.30 L585.93,107.23 L594.89,98.08 Z" fill="#ee1111"/>
<line x1="609.70" y1="124.80" x2="649.72" y2="85.46" stroke="#ee1111" stroke-width="5.0"/>
<line x1="610.33" y1="125.44" x2="650.36" y2="86.10" stroke="#ff9090" stroke-width="1" opacity="0.7"/>
<path d="M656.50,78.80 L654.21,90.02 L645.24,80.90 Z" fill="#ee1111"/>
<circle cx="633.40" cy="102.60" r="11.30" fill="url(#gRed)"/>
<line x1="639.30" y1="96.52" x2="649.88" y2="85.62" stroke="#ee1111" stroke-width="5.0"/>
<line x1="639.95" y1="97.15" x2="650.53" y2="86.24" stroke="#ff9090" stroke-width="1" opacity="0.7"/>
<path d="M656.50,78.80 L654.48,90.07 L645.29,81.16 Z" fill="#ee1111"/>
<line x1="639.80" y1="185.00" x2="600.69" y2="145.55" stroke="#ee1111" stroke-width="5.0"/>
<line x1="640.44" y1="184.37" x2="601.33" y2="144.91" stroke="#ff9090" stroke-width="1" opacity="0.7"/>
<path d="M594.00,138.80 L605.23,141.04 L596.14,150.05 Z" fill="#ee1111"/>
<circle cx="617.00" cy="161.30" r="11.30" fill="url(#gRed)"/>
<line x1="610.94" y1="155.37" x2="600.79" y2="145.44" stroke="#ee1111" stroke-width="5.0"/>
<line x1="611.57" y1="154.73" x2="601.42" y2="144.80" stroke="#ff9090" stroke-width="1" opacity="0.7"/>
<path d="M594.00,138.80 L605.27,140.87 L596.32,150.02 Z" fill="#ee1111"/>
<line x1="581.20" y1="121.20" x2="541.21" y2="161.28" stroke="#ee1111" stroke-width="5.0"/>
<line x1="580.56" y1="120.56" x2="540.57" y2="160.64" stroke="#ff9090" stroke-width="1" opacity="0.7"/>
<path d="M534.50,168.00 L536.68,156.75 L545.74,165.80 Z" fill="#ee1111"/>
<circle cx="558.00" cy="145.30" r="11.30" fill="url(#gRed)"/>
<line x1="551.90" y1="151.19" x2="541.33" y2="161.40" stroke="#ee1111" stroke-width="5.0"/>
<line x1="551.28" y1="150.54" x2="540.71" y2="160.75" stroke="#ff9090" stroke-width="1" opacity="0.7"/>
<path d="M534.50,168.00 L536.89,156.80 L545.78,166.00 Z" fill="#ee1111"/>
<line x1="498.80" y1="85.60" x2="498.80" y2="59.00" stroke="#000" stroke-width="1.2" />
<path d="M498.8,55.0 L496.6,60.0 L501.0,60.0 Z" fill="#000"/>
<line x1="498.80" y1="85.60" x2="521.00" y2="85.60" stroke="#000" stroke-width="1.2" />
<path d="M525.0,85.6 L520.0,83.4 L520.0,87.8 Z" fill="#000"/>
<text x="485.7" y="61.6" font-size="17.5" text-anchor="start" fill="#222" font-weight="normal" >b</text>
<text x="516.2" y="98.8" font-size="17.5" text-anchor="start" fill="#222" font-weight="normal" >a</text>
<rect x="43.00" y="246.70" width="165.50" height="169.50" stroke="#9a9a9a" stroke-width="1.1" fill="none" />
<line x1="70.58" y1="416.20" x2="70.58" y2="412.20" stroke="#9a9a9a" stroke-width="1" />
<line x1="70.58" y1="246.70" x2="70.58" y2="250.70" stroke="#9a9a9a" stroke-width="1" />
<line x1="98.17" y1="416.20" x2="98.17" y2="412.20" stroke="#9a9a9a" stroke-width="1" />
<line x1="98.17" y1="246.70" x2="98.17" y2="250.70" stroke="#9a9a9a" stroke-width="1" />
<line x1="125.75" y1="416.20" x2="125.75" y2="412.20" stroke="#9a9a9a" stroke-width="1" />
<line x1="125.75" y1="246.70" x2="125.75" y2="250.70" stroke="#9a9a9a" stroke-width="1" />
<line x1="153.33" y1="416.20" x2="153.33" y2="412.20" stroke="#9a9a9a" stroke-width="1" />
<line x1="153.33" y1="246.70" x2="153.33" y2="250.70" stroke="#9a9a9a" stroke-width="1" />
<line x1="180.92" y1="416.20" x2="180.92" y2="412.20" stroke="#9a9a9a" stroke-width="1" />
<line x1="180.92" y1="246.70" x2="180.92" y2="250.70" stroke="#9a9a9a" stroke-width="1" />
<line x1="43.00" y1="373.82" x2="47.00" y2="373.82" stroke="#9a9a9a" stroke-width="1" />
<line x1="208.50" y1="373.82" x2="204.50" y2="373.82" stroke="#9a9a9a" stroke-width="1" />
<line x1="43.00" y1="331.45" x2="47.00" y2="331.45" stroke="#9a9a9a" stroke-width="1" />
<line x1="208.50" y1="331.45" x2="204.50" y2="331.45" stroke="#9a9a9a" stroke-width="1" />
<line x1="43.00" y1="289.07" x2="47.00" y2="289.07" stroke="#9a9a9a" stroke-width="1" />
<line x1="208.50" y1="289.07" x2="204.50" y2="289.07" stroke="#9a9a9a" stroke-width="1" />
<path d="M43.00,402.64 L44.38,398.89 L45.76,395.11 L47.14,391.31 L48.52,387.51 L49.90,383.72 L51.27,379.95 L52.65,376.21 L54.03,372.53 L55.41,368.90 L56.79,365.35 L58.17,361.86 L59.55,358.40 L60.93,354.98 L62.31,351.60 L63.69,348.27 L65.07,344.99 L66.45,341.77 L67.83,338.60 L69.20,335.50 L70.58,332.47 L71.96,329.50 L73.34,326.60 L74.72,323.75 L76.10,320.97 L77.48,318.24 L78.86,315.56 L80.24,312.94 L81.62,310.36 L83.00,307.83 L84.38,305.35 L85.75,302.89 L87.13,300.47 L88.51,298.08 L89.89,295.74 L91.27,293.45 L92.65,291.23 L94.03,289.08 L95.41,287.01 L96.79,285.03 L98.17,283.14 L99.55,281.36 L100.92,279.67 L102.30,278.06 L103.68,276.53 L105.06,275.08 L106.44,273.70 L107.82,272.38 L109.20,271.11 L110.58,269.90 L111.96,268.74 L113.34,267.63 L114.72,266.59 L116.10,265.61 L117.48,264.70 L118.85,263.84 L120.23,263.04 L121.61,262.28 L122.99,261.57 L124.37,260.90 L125.75,260.26 L127.13,259.74 L128.51,259.41 L129.89,259.26 L131.27,259.27 L132.65,259.41 L134.03,259.64 L135.40,259.92 L136.78,260.27 L138.16,260.72 L139.54,261.27 L140.92,261.96 L142.30,262.80 L143.68,263.80 L145.06,264.91 L146.44,266.14 L147.82,267.46 L149.20,268.85 L150.57,270.30 L151.95,271.79 L153.33,273.31 L154.71,274.85 L156.09,276.41 L157.47,278.00 L158.85,279.62 L160.23,281.28 L161.61,282.98 L162.99,284.72 L164.37,286.51 L165.75,288.36 L167.12,290.26 L168.50,292.21 L169.88,294.18 L171.26,296.19 L172.64,298.25 L174.02,300.36 L175.40,302.53 L176.78,304.76 L178.16,307.08 L179.54,309.47 L180.92,311.96 L182.30,314.53 L183.68,317.16 L185.05,319.87 L186.43,322.65 L187.81,325.51 L189.19,328.44 L190.57,331.44 L191.95,334.53 L193.33,337.69 L194.71,340.94 L196.09,344.30 L197.47,347.80 L198.85,351.40 L200.22,355.09 L201.60,358.85 L202.98,362.64 L204.36,366.44 L205.74,370.24 L207.12,374.01 L208.50,377.72" fill="none" stroke="#2a8a2a" stroke-width="1.6"/>
<circle cx="43.00" cy="402.64" r="3.5" fill="#2a8a2a"/>
<circle cx="56.79" cy="365.35" r="3.5" fill="#2a8a2a"/>
<circle cx="70.58" cy="332.47" r="3.5" fill="#2a8a2a"/>
<circle cx="84.38" cy="305.35" r="3.5" fill="#2a8a2a"/>
<circle cx="98.17" cy="283.14" r="3.5" fill="#2a8a2a"/>
<circle cx="100.92" cy="279.67" r="3.5" fill="#2a8a2a"/>
<circle cx="103.68" cy="276.53" r="3.5" fill="#2a8a2a"/>
<circle cx="106.44" cy="273.70" r="3.5" fill="#2a8a2a"/>
<circle cx="109.20" cy="271.11" r="3.5" fill="#2a8a2a"/>
<circle cx="111.96" cy="268.74" r="3.5" fill="#2a8a2a"/>
<circle cx="114.72" cy="266.59" r="3.5" fill="#2a8a2a"/>
<circle cx="117.48" cy="264.70" r="3.5" fill="#2a8a2a"/>
<circle cx="120.23" cy="263.04" r="3.5" fill="#2a8a2a"/>
<circle cx="122.99" cy="261.57" r="3.5" fill="#2a8a2a"/>
<circle cx="125.75" cy="260.26" r="3.5" fill="#2a8a2a"/>
<circle cx="128.51" cy="259.41" r="3.5" fill="#2a8a2a"/>
<circle cx="131.27" cy="259.27" r="3.5" fill="#2a8a2a"/>
<circle cx="134.02" cy="259.64" r="3.5" fill="#2a8a2a"/>
<circle cx="136.78" cy="260.27" r="3.5" fill="#2a8a2a"/>
<circle cx="139.54" cy="261.27" r="3.5" fill="#2a8a2a"/>
<circle cx="142.30" cy="262.80" r="3.5" fill="#2a8a2a"/>
<circle cx="145.06" cy="264.91" r="3.5" fill="#2a8a2a"/>
<circle cx="147.82" cy="267.46" r="3.5" fill="#2a8a2a"/>
<circle cx="150.57" cy="270.30" r="3.5" fill="#2a8a2a"/>
<circle cx="153.33" cy="273.31" r="3.5" fill="#2a8a2a"/>
<circle cx="167.12" cy="290.26" r="3.5" fill="#2a8a2a"/>
<circle cx="180.92" cy="311.96" r="3.5" fill="#2a8a2a"/>
<circle cx="194.71" cy="340.94" r="3.5" fill="#2a8a2a"/>
<circle cx="208.50" cy="377.72" r="3.5" fill="#2a8a2a"/>
<path d="M43.00,416.20 L44.38,412.42 L45.76,408.61 L47.14,404.78 L48.52,400.94 L49.90,397.12 L51.27,393.32 L52.65,389.55 L54.03,385.83 L55.41,382.16 L56.79,378.57 L58.17,375.04 L59.55,371.55 L60.93,368.11 L62.31,364.71 L63.69,361.35 L65.07,358.03 L66.45,354.75 L67.83,351.52 L69.20,348.33 L70.58,345.18 L71.96,342.07 L73.34,339.00 L74.72,335.96 L76.10,332.97 L77.48,330.02 L78.86,327.12 L80.24,324.26 L81.62,321.46 L83.00,318.72 L84.38,316.03 L85.75,313.38 L87.13,310.78 L88.51,308.22 L89.89,305.71 L91.27,303.25 L92.65,300.85 L94.03,298.52 L95.41,296.26 L96.79,294.07 L98.17,291.96 L99.55,289.92 L100.92,287.95 L102.30,286.05 L103.68,284.21 L105.06,282.44 L106.44,280.75 L107.82,279.12 L109.20,277.56 L110.58,276.08 L111.96,274.67 L113.34,273.34 L114.72,272.09 L116.10,270.92 L117.48,269.82 L118.85,268.79 L120.23,267.83 L121.61,266.92 L122.99,266.07 L124.37,265.26 L125.75,264.50 L127.13,263.86 L128.51,263.41 L129.89,263.12 L131.27,262.94 L132.65,262.84 L134.03,262.80 L135.40,262.81 L136.78,262.89 L138.16,263.05 L139.54,263.31 L140.92,263.68 L142.30,264.16 L143.68,264.72 L145.06,265.32 L146.44,265.98 L147.82,266.70 L149.20,267.49 L150.57,268.37 L151.95,269.35 L153.33,270.43 L154.71,271.60 L156.09,272.82 L157.47,274.10 L158.85,275.44 L160.23,276.83 L161.61,278.28 L162.99,279.79 L164.37,281.36 L165.75,282.99 L167.12,284.67 L168.50,286.40 L169.88,288.17 L171.26,289.98 L172.64,291.85 L174.02,293.79 L175.40,295.79 L176.78,297.88 L178.16,300.05 L179.54,302.31 L180.92,304.67 L182.30,307.13 L183.68,309.68 L185.05,312.32 L186.43,315.04 L187.81,317.85 L189.19,320.73 L190.57,323.69 L191.95,326.71 L193.33,329.81 L194.71,332.98 L196.09,336.24 L197.47,339.63 L198.85,343.12 L200.22,346.69 L201.60,350.32 L202.98,353.98 L204.36,357.66 L205.74,361.33 L207.12,364.98 L208.50,368.57" fill="none" stroke="#0000ff" stroke-width="2.0"/>
<circle cx="43.00" cy="416.20" r="3.5" fill="#0000ff"/>
<circle cx="56.79" cy="378.57" r="3.5" fill="#0000ff"/>
<circle cx="70.58" cy="345.18" r="3.5" fill="#0000ff"/>
<circle cx="84.38" cy="316.03" r="3.5" fill="#0000ff"/>
<circle cx="98.17" cy="291.96" r="3.5" fill="#0000ff"/>
<circle cx="100.92" cy="287.95" r="3.5" fill="#0000ff"/>
<circle cx="103.68" cy="284.21" r="3.5" fill="#0000ff"/>
<circle cx="106.44" cy="280.75" r="3.5" fill="#0000ff"/>
<circle cx="109.20" cy="277.56" r="3.5" fill="#0000ff"/>
<circle cx="111.96" cy="274.67" r="3.5" fill="#0000ff"/>
<circle cx="114.72" cy="272.09" r="3.5" fill="#0000ff"/>
<circle cx="117.48" cy="269.82" r="3.5" fill="#0000ff"/>
<circle cx="120.23" cy="267.83" r="3.5" fill="#0000ff"/>
<circle cx="122.99" cy="266.07" r="3.5" fill="#0000ff"/>
<circle cx="125.75" cy="264.50" r="3.5" fill="#0000ff"/>
<circle cx="128.51" cy="263.41" r="3.5" fill="#0000ff"/>
<circle cx="131.27" cy="262.94" r="3.5" fill="#0000ff"/>
<circle cx="134.02" cy="262.80" r="3.5" fill="#0000ff"/>
<circle cx="136.78" cy="262.89" r="3.5" fill="#0000ff"/>
<circle cx="139.54" cy="263.31" r="3.5" fill="#0000ff"/>
<circle cx="142.30" cy="264.16" r="3.5" fill="#0000ff"/>
<circle cx="145.06" cy="265.32" r="3.5" fill="#0000ff"/>
<circle cx="147.82" cy="266.70" r="3.5" fill="#0000ff"/>
<circle cx="150.57" cy="268.37" r="3.5" fill="#0000ff"/>
<circle cx="153.33" cy="270.43" r="3.5" fill="#0000ff"/>
<circle cx="167.12" cy="284.67" r="3.5" fill="#0000ff"/>
<circle cx="180.92" cy="304.67" r="3.5" fill="#0000ff"/>
<circle cx="194.71" cy="332.98" r="3.5" fill="#0000ff"/>
<circle cx="208.50" cy="368.57" r="3.5" fill="#0000ff"/>
<line x1="141.47" y1="246.70" x2="141.47" y2="416.20" stroke="#c09a78" stroke-width="1.8" />
<text x="43.0" y="430.6" font-size="14" text-anchor="middle" fill="#222" font-weight="normal" >3</text>
<text x="70.6" y="430.6" font-size="14" text-anchor="middle" fill="#222" font-weight="normal" >4</text>
<text x="98.2" y="430.6" font-size="14" text-anchor="middle" fill="#222" font-weight="normal" >5</text>
<text x="125.8" y="430.6" font-size="14" text-anchor="middle" fill="#222" font-weight="normal" >6</text>
<text x="153.3" y="430.6" font-size="14" text-anchor="middle" fill="#222" font-weight="normal" >7</text>
<text x="180.9" y="430.6" font-size="14" text-anchor="middle" fill="#222" font-weight="normal" >8</text>
<text x="208.5" y="430.6" font-size="14" text-anchor="middle" fill="#222" font-weight="normal" >9</text>
<text x="39.6" y="255.8" font-size="14" text-anchor="end" fill="#222" font-weight="normal" >1.0</text>
<text x="39.6" y="336.0" font-size="14" text-anchor="end" fill="#222" font-weight="normal" >0.5</text>
<text x="39.6" y="421.0" font-size="14" text-anchor="end" fill="#222" font-weight="normal" >0.0</text>
<text x="126.0" y="441.5" font-size="14" text-anchor="middle" fill="#222" font-weight="normal" >U (eV)</text>
<text x="0.0" y="0.0" font-size="14" text-anchor="middle" fill="#222" font-weight="normal" transform="translate(11.3,336.7) rotate(-90)">Energy (eV)</text>
<line x1="84.40" y1="333.00" x2="84.40" y2="350.00" stroke="#0000ff" stroke-width="2" />
<path d="M84.4,328.5 L81.4,335 L87.4,335 Z" fill="#0000ff"/>
<text x="77.8" y="368.3" font-size="17" text-anchor="start" fill="#0000ff" font-weight="normal" >Γ</text>
<text x="88.2" y="369.2" font-size="12" text-anchor="start" fill="#0000ff" font-weight="normal" >4</text>
<line x1="180.20" y1="326.50" x2="180.20" y2="344.50" stroke="#2a8a2a" stroke-width="2" />
<path d="M180.2,322 L177.2,328.5 L183.2,328.5 Z" fill="#2a8a2a"/>
<text x="172.8" y="362.7" font-size="17" text-anchor="start" fill="#2a8a2a" font-weight="normal" >Γ</text>
<text x="183.2" y="366.0" font-size="12" text-anchor="start" fill="#2a8a2a" font-weight="normal" >2</text>
<text x="144.0" y="409.0" font-size="14" text-anchor="start" fill="#b08a68" font-weight="normal" >U&gt;6.5</text>
<line x1="295.10" y1="245.80" x2="295.10" y2="414.90" stroke="#555" stroke-width="0.9" stroke-dasharray="1.2,2.2"/>
<line x1="314.60" y1="245.80" x2="314.60" y2="414.90" stroke="#555" stroke-width="0.9" stroke-dasharray="1.2,2.2"/>
<line x1="341.50" y1="245.80" x2="341.50" y2="414.90" stroke="#555" stroke-width="0.9" stroke-dasharray="1.2,2.2"/>
<line x1="375.70" y1="245.80" x2="375.70" y2="414.90" stroke="#555" stroke-width="0.9" stroke-dasharray="1.2,2.2"/>
<line x1="394.70" y1="245.80" x2="394.70" y2="414.90" stroke="#555" stroke-width="0.9" stroke-dasharray="1.2,2.2"/>
<line x1="414.10" y1="245.80" x2="414.10" y2="414.90" stroke="#555" stroke-width="0.9" stroke-dasharray="1.2,2.2"/>
<line x1="275.80" y1="330.40" x2="441.70" y2="330.40" stroke="#888" stroke-width="1" />
<path d="M275.80,279.40 C276.58,279.40 279.38,280.63 280.50,279.40 C281.62,278.17 281.67,276.07 282.50,272.00 C283.33,267.93 284.67,258.45 285.50,255.00 C286.33,251.55 286.83,250.80 287.50,251.30 C288.17,251.80 288.75,254.55 289.50,258.00 C290.25,261.45 291.05,268.00 292.00,272.00 C292.95,276.00 294.28,281.33 295.20,282.00 C296.12,282.67 296.78,279.33 297.50,276.00 C298.22,272.67 298.85,267.03 299.50,262.00 C300.15,256.97 301.08,248.50 301.40,245.80" fill="none" stroke="#1e1ef0" stroke-width="1.25"/>
<path d="M288.20,245.80 C288.50,247.83 289.40,253.80 290.00,258.00 C290.60,262.20 291.22,266.67 291.80,271.00 C292.38,275.33 292.93,281.08 293.50,284.00 C294.07,286.92 294.57,288.25 295.20,288.50 C295.83,288.75 296.67,287.58 297.30,285.50 C297.93,283.42 298.47,280.58 299.00,276.00 C299.53,271.42 300.07,263.03 300.50,258.00 C300.93,252.97 301.42,247.83 301.60,245.80" fill="none" stroke="#1e1ef0" stroke-width="1.25"/>
<path d="M275.80,288.20 C276.50,288.03 278.60,287.82 280.00,287.20 C281.40,286.58 282.95,284.53 284.20,284.50 C285.45,284.47 286.40,285.85 287.50,287.00 C288.60,288.15 289.80,289.57 290.80,291.40 C291.80,293.23 292.77,296.53 293.50,298.00 C294.23,299.47 294.58,300.78 295.20,300.20 C295.82,299.62 296.57,295.90 297.20,294.50 C297.83,293.10 298.20,291.88 299.00,291.80 C299.80,291.72 301.00,292.63 302.00,294.00 C303.00,295.37 304.05,298.22 305.00,300.00 C305.95,301.78 306.90,301.70 307.70,304.70 C308.50,307.70 309.08,312.45 309.80,318.00 C310.52,323.55 311.22,332.92 312.00,338.00 C312.78,343.08 313.75,347.83 314.50,348.50 C315.25,349.17 315.78,345.92 316.50,342.00 C317.22,338.08 318.13,330.33 318.80,325.00 C319.47,319.67 320.02,314.33 320.50,310.00 C320.98,305.67 321.12,302.22 321.70,299.00 C322.28,295.78 323.12,291.50 324.00,290.70 C324.88,289.90 326.00,294.32 327.00,294.20 C328.00,294.08 328.93,291.27 330.00,290.00 C331.07,288.73 332.25,286.92 333.40,286.60 C334.55,286.28 335.55,287.80 336.90,288.10 C338.25,288.40 339.75,288.55 341.50,288.40 C343.25,288.25 345.63,288.37 347.40,287.20 C349.17,286.03 350.73,284.70 352.10,281.40 C353.47,278.10 354.45,273.33 355.60,267.40 C356.75,261.47 358.43,249.40 359.00,245.80" fill="none" stroke="#1e1ef0" stroke-width="1.25"/>
<path d="M276.40,381.40 C276.75,377.00 277.70,364.23 278.50,355.00 C279.30,345.77 280.42,333.83 281.20,326.00 C281.98,318.17 282.45,312.42 283.20,308.00 C283.95,303.58 284.90,300.92 285.70,299.50 C286.50,298.08 287.12,298.75 288.00,299.50 C288.88,300.25 290.08,302.58 291.00,304.00 C291.92,305.42 292.80,307.50 293.50,308.00 C294.20,308.50 294.62,307.67 295.20,307.00 C295.78,306.33 296.08,304.97 297.00,304.00 C297.92,303.03 299.70,301.53 300.70,301.20 C301.70,300.87 302.23,301.42 303.00,302.00 C303.77,302.58 304.55,303.03 305.30,304.70 C306.05,306.37 306.70,308.45 307.50,312.00 C308.30,315.55 309.32,321.33 310.10,326.00 C310.88,330.67 311.47,336.25 312.20,340.00 C312.93,343.75 314.12,347.08 314.50,348.50" fill="none" stroke="#1e1ef0" stroke-width="1.25"/>
<path d="M318.80,245.80 C319.25,245.83 320.82,245.30 321.50,246.00 C322.18,246.70 322.48,247.33 322.90,250.00 C323.32,252.67 323.62,257.50 324.00,262.00 C324.38,266.50 324.90,273.00 325.20,277.00 C325.50,281.00 325.33,284.83 325.80,286.00 C326.27,287.17 327.32,284.58 328.00,284.00 C328.68,283.42 329.00,283.23 329.90,282.50 C330.80,281.77 332.22,280.18 333.40,279.60 C334.58,279.02 335.65,279.18 337.00,279.00 C338.35,278.82 340.17,279.08 341.50,278.50 C342.83,277.92 344.02,278.33 345.00,275.50 C345.98,272.67 346.80,266.45 347.40,261.50 C348.00,256.55 348.40,248.42 348.60,245.80" fill="none" stroke="#1e1ef0" stroke-width="1.25"/>
<path d="M314.50,348.50 C314.78,347.42 315.53,345.42 316.20,342.00 C316.87,338.58 317.70,332.33 318.50,328.00 C319.30,323.67 320.25,319.08 321.00,316.00 C321.75,312.92 322.50,310.75 323.00,309.50 C323.50,308.25 323.67,308.25 324.00,308.50 C324.33,308.75 324.58,308.25 325.00,311.00 C325.42,313.75 326.02,319.33 326.50,325.00 C326.98,330.67 327.55,339.88 327.90,345.00 C328.25,350.12 328.33,355.70 328.60,355.70 C328.87,355.70 329.10,349.62 329.50,345.00 C329.90,340.38 330.47,331.98 331.00,328.00 C331.53,324.02 332.20,321.43 332.70,321.10 C333.20,320.77 333.45,322.85 334.00,326.00 C334.55,329.15 335.25,334.33 336.00,340.00 C336.75,345.67 337.75,354.00 338.50,360.00 C339.25,366.00 340.02,372.52 340.50,376.00 C340.98,379.48 341.07,380.90 341.40,380.90 C341.73,380.90 341.98,379.48 342.50,376.00 C343.02,372.52 343.87,366.00 344.50,360.00 C345.13,354.00 345.80,345.67 346.30,340.00 C346.80,334.33 347.05,331.00 347.50,326.00 C347.95,321.00 348.43,314.52 349.00,310.00 C349.57,305.48 350.23,301.23 350.90,298.90 C351.57,296.57 352.42,296.78 353.00,296.00 C353.58,295.22 353.82,296.87 354.40,294.20 C354.98,291.53 355.92,286.42 356.50,280.00 C357.08,273.58 357.38,260.53 357.90,255.70 C358.42,250.87 359.02,250.03 359.60,251.00 C360.18,251.97 360.90,258.00 361.40,261.50 C361.90,265.00 362.22,267.25 362.60,272.00 C362.98,276.75 363.13,279.67 363.70,290.00 C364.27,300.33 364.88,321.32 366.00,334.00 C367.12,346.68 369.00,358.20 370.40,366.10 C371.80,374.00 373.33,375.50 374.40,381.40 C375.47,387.30 376.00,395.92 376.80,401.50 C377.60,407.08 378.80,412.67 379.20,414.90" fill="none" stroke="#1e1ef0" stroke-width="1.25"/>
<path d="M362.60,245.80 C362.87,247.83 363.63,253.43 364.20,258.00 C364.77,262.57 365.37,269.53 366.00,273.20 C366.63,276.87 367.22,278.25 368.00,280.00 C368.78,281.75 369.87,283.03 370.70,283.70 C371.53,284.37 372.12,284.10 373.00,284.00 C373.88,283.90 374.00,282.85 376.00,283.10 C378.00,283.35 381.88,284.60 385.00,285.50 C388.12,286.40 391.53,287.67 394.70,288.50 C397.87,289.33 400.77,289.95 404.00,290.50 C407.23,291.05 410.60,291.22 414.10,291.80 C417.60,292.38 421.47,293.30 425.00,294.00 C428.53,294.70 433.10,294.70 435.30,296.00 C437.50,297.30 437.50,296.13 438.20,301.80 C438.90,307.47 439.12,316.97 439.50,330.00 C439.88,343.03 440.13,365.85 440.50,380.00 C440.87,394.15 441.50,409.08 441.70,414.90" fill="none" stroke="#1e1ef0" stroke-width="1.25"/>
<path d="M363.20,279.00 C363.47,280.33 364.33,285.15 364.80,287.00 C365.27,288.85 365.47,289.68 366.00,290.10 C366.53,290.52 367.22,289.78 368.00,289.50 C368.78,289.22 369.87,288.68 370.70,288.40 C371.53,288.12 372.12,288.00 373.00,287.80 C373.88,287.60 375.50,287.30 376.00,287.20" fill="none" stroke="#1e1ef0" stroke-width="1.25"/>
<path d="M380.60,414.90 C380.57,400.75 380.40,348.32 380.40,330.00 C380.40,311.68 380.47,310.33 380.60,305.00 C380.73,299.67 380.47,299.50 381.20,298.00 C381.93,296.50 382.75,296.58 385.00,296.00 C387.25,295.42 391.53,295.00 394.70,294.50 C397.87,294.00 400.77,293.45 404.00,293.00 C407.23,292.55 410.60,292.47 414.10,291.80 C417.60,291.13 421.52,290.13 425.00,289.00 C428.48,287.87 432.22,285.92 435.00,285.00 C437.78,284.08 440.58,283.75 441.70,283.50" fill="none" stroke="#1e1ef0" stroke-width="1.25"/>
<path d="M353.20,372.00 C353.40,368.67 354.00,358.33 354.40,352.00 C354.80,345.67 355.08,340.00 355.60,334.00 C356.12,328.00 356.83,320.58 357.50,316.00 C358.17,311.42 358.93,308.03 359.60,306.50 C360.27,304.97 360.82,306.32 361.50,306.80 C362.18,307.28 363.12,307.20 363.70,309.40 C364.28,311.60 364.62,315.90 365.00,320.00 C365.38,324.10 365.58,329.00 366.00,334.00 C366.42,339.00 366.77,344.67 367.50,350.00 C368.23,355.33 369.65,362.33 370.40,366.00 C371.15,369.67 371.20,369.30 372.00,372.00 C372.80,374.70 374.37,378.37 375.20,382.20 C376.03,386.03 376.53,389.55 377.00,395.00 C377.47,400.45 377.83,411.58 378.00,414.90" fill="none" stroke="#1e1ef0" stroke-width="1.25"/>
<path d="M357.20,356.00 C357.37,353.67 357.90,345.67 358.20,342.00 C358.50,338.33 358.70,337.00 359.00,334.00 C359.30,331.00 359.70,326.25 360.00,324.00 C360.30,321.75 360.47,320.92 360.80,320.50 C361.13,320.08 361.60,320.62 362.00,321.50 C362.40,322.38 362.78,323.72 363.20,325.80 C363.62,327.88 364.03,330.30 364.50,334.00 C364.97,337.70 365.75,345.67 366.00,348.00" fill="none" stroke="#1e1ef0" stroke-width="1.25"/>
<path d="M310.10,414.90 C310.42,412.75 311.18,405.43 312.00,402.00 C312.82,398.57 314.08,394.97 315.00,394.30 C315.92,393.63 316.58,396.22 317.50,398.00 C318.42,399.78 319.45,402.18 320.50,405.00 C321.55,407.82 323.25,413.25 323.80,414.90" fill="none" stroke="#1e1ef0" stroke-width="1.25"/>
<path d="M312.50,414.90 C312.67,413.25 313.08,407.98 313.50,405.00 C313.92,402.02 314.75,398.33 315.00,397.00" fill="none" stroke="#1e1ef0" stroke-width="1.25"/>
<path d="M325.40,414.90 C325.67,410.75 326.47,397.05 327.00,390.00 C327.53,382.95 328.10,372.60 328.60,372.60 C329.10,372.60 329.60,382.95 330.00,390.00 C330.40,397.05 330.83,410.75 331.00,414.90" fill="none" stroke="#1e1ef0" stroke-width="1.25"/>
<path d="M350.30,414.90 C350.58,410.75 351.38,397.48 352.00,390.00 C352.62,382.52 353.35,377.18 354.00,370.00 C354.65,362.82 355.40,352.73 355.90,346.90 C356.40,341.07 356.60,338.48 357.00,335.00 C357.40,331.52 357.92,331.83 358.30,326.00 C358.68,320.17 359.02,309.33 359.30,300.00 C359.58,290.67 359.75,279.03 360.00,270.00 C360.25,260.97 360.67,249.83 360.80,245.80" fill="none" stroke="#1e1ef0" stroke-width="1.25"/>
<path d="M346.50,245.80 C346.58,248.17 346.92,257.63 347.00,260.00" fill="none" stroke="#1e1ef0" stroke-width="1.25"/>
<path d="M300.00,245.80 C300.13,246.17 300.67,247.63 300.80,248.00" fill="none" stroke="#1e1ef0" stroke-width="1.25"/>
<path d="M275.80,391.20 C277.33,390.97 281.78,390.33 285.00,389.80 C288.22,389.27 291.77,388.63 295.10,388.00 C298.43,387.37 301.83,386.83 305.00,386.00 C308.17,385.17 311.93,384.08 314.10,383.00 C316.27,381.92 316.65,381.10 318.00,379.50 C319.35,377.90 320.87,375.23 322.20,373.40 C323.53,371.57 324.80,369.57 326.00,368.50 C327.20,367.43 328.40,367.17 329.40,367.00 C330.40,366.83 331.30,366.92 332.00,367.50 C332.70,368.08 333.10,368.58 333.60,370.50 C334.10,372.42 334.43,376.58 335.00,379.00 C335.57,381.42 336.25,383.75 337.00,385.00 C337.75,386.25 338.50,386.30 339.50,386.50 C340.50,386.70 341.87,387.18 343.00,386.20 C344.13,385.22 345.48,383.95 346.30,380.60 C347.12,377.25 347.37,372.52 347.90,366.10 C348.43,359.68 348.97,348.78 349.50,342.10 C350.03,335.42 350.60,331.35 351.10,326.00 C351.60,320.65 352.02,314.03 352.50,310.00 C352.98,305.97 353.12,303.82 354.00,301.80 C354.88,299.78 356.80,298.45 357.80,297.90 C358.80,297.35 359.25,297.85 360.00,298.50 C360.75,299.15 361.57,298.67 362.30,301.80 C363.03,304.93 363.35,309.57 364.40,317.30 C365.45,325.03 367.42,339.18 368.60,348.20 C369.78,357.22 370.67,366.00 371.50,371.40 C372.33,376.80 372.78,378.35 373.60,380.60 C374.42,382.85 374.67,383.83 376.40,384.90 C378.13,385.97 381.10,386.52 384.00,387.00 C386.90,387.48 390.47,387.70 393.80,387.80 C397.13,387.90 400.47,387.75 404.00,387.60 C407.53,387.45 411.00,387.25 415.00,386.90 C419.00,386.55 423.55,386.08 428.00,385.50 C432.45,384.92 439.42,383.75 441.70,383.40" fill="none" stroke="#f01010" stroke-width="2" stroke-dasharray="5.5,3.5"/>
<rect x="275.80" y="245.80" width="165.90" height="169.10" stroke="#aaa" stroke-width="1.1" fill="none" />
<text x="362.8" y="241.5" font-size="14" text-anchor="middle" fill="#222" font-weight="normal" >U=6.5 eV</text>
<text x="272.8" y="251.2" font-size="14" text-anchor="end" fill="#222" font-weight="normal" >0.5</text>
<text x="272.8" y="335.5" font-size="14" text-anchor="end" fill="#222" font-weight="normal" >0.0</text>
<text x="272.8" y="419.6" font-size="14" text-anchor="end" fill="#222" font-weight="normal" >-0.5</text>
<text x="0.0" y="0.0" font-size="14" text-anchor="middle" fill="#222" font-weight="normal" transform="translate(245.3,337.4) rotate(-90)">Energy (eV)</text>
<text x="275.8" y="431.6" font-size="16" text-anchor="middle" fill="#222" font-weight="normal" >Γ</text>
<text x="295.1" y="431.6" font-size="16" text-anchor="middle" fill="#222" font-weight="normal" >X</text>
<text x="314.6" y="431.6" font-size="16" text-anchor="middle" fill="#222" font-weight="normal" >M</text>
<text x="341.5" y="431.6" font-size="16" text-anchor="middle" fill="#222" font-weight="normal" >Γ</text>
<text x="375.7" y="431.6" font-size="16" text-anchor="middle" fill="#222" font-weight="normal" >Z</text>
<text x="394.7" y="431.6" font-size="16" text-anchor="middle" fill="#222" font-weight="normal" >R</text>
<text x="414.1" y="431.6" font-size="16" text-anchor="middle" fill="#222" font-weight="normal" >A</text>
<text x="441.7" y="431.6" font-size="16" text-anchor="middle" fill="#222" font-weight="normal" >Z</text>
<text x="384.0" y="379.5" font-size="14.5" text-anchor="start" fill="#222" font-weight="normal" >C</text>
<text x="392.2" y="371.8" font-size="9.5" text-anchor="start" fill="#222" font-weight="normal" >x<tspan>y</tspan></text>
<line x1="397.30" y1="365.50" x2="401.30" y2="365.50" stroke="#222" stroke-width="0.8" />
<text x="392.2" y="381.8" font-size="9.5" text-anchor="start" fill="#222" font-weight="normal" >m</text>
<text x="405.5" y="379.5" font-size="14.5" text-anchor="start" fill="#222" font-weight="normal" >=–2</text>
<line x1="512.90" y1="296.10" x2="678.40" y2="296.10" stroke="#999" stroke-width="1" />
<line x1="618.50" y1="245.30" x2="618.50" y2="414.70" stroke="#bbb" stroke-width="1" />
<line x1="512.90" y1="279.40" x2="515.90" y2="279.40" stroke="#bbb" stroke-width="0.8" />
<line x1="512.90" y1="313.00" x2="515.90" y2="313.00" stroke="#bbb" stroke-width="0.8" />
<line x1="512.90" y1="346.40" x2="515.90" y2="346.40" stroke="#bbb" stroke-width="0.8" />
<line x1="512.90" y1="380.00" x2="515.90" y2="380.00" stroke="#bbb" stroke-width="0.8" />
<path d="M512.90,400.30 C513.33,398.42 514.63,392.95 515.50,389.00 C516.37,385.05 516.78,385.23 518.10,376.60 C519.42,367.97 521.87,350.77 523.40,337.20 C524.93,323.63 525.98,307.90 527.30,295.20 C528.62,282.50 530.20,269.32 531.30,261.00 C532.40,252.68 533.47,247.92 533.90,245.30" fill="none" stroke="#2020ee" stroke-width="1.1"/>
<path d="M543.90,414.70 C544.25,410.92 545.25,399.22 546.00,392.00 C546.75,384.78 547.13,385.35 548.40,371.40 C549.67,357.45 551.85,325.82 553.60,308.30 C555.35,290.78 557.15,276.15 558.90,266.30 C560.65,256.45 562.58,252.65 564.10,249.20 C565.62,245.75 566.68,246.30 568.00,245.60 C569.32,244.90 570.67,244.90 572.00,245.00 C573.33,245.10 574.90,245.50 576.00,246.20 C577.10,246.90 577.30,246.73 578.60,249.20 C579.90,251.67 582.05,255.08 583.80,261.00 C585.55,266.92 586.90,273.75 589.10,284.70 C591.30,295.65 594.38,314.00 597.00,326.70 C599.62,339.40 602.40,350.83 604.80,360.90 C607.20,370.97 609.42,380.53 611.40,387.10 C613.38,393.67 615.52,397.75 616.70,400.30 C617.88,402.85 617.87,402.78 618.50,402.40 C619.13,402.02 619.93,400.55 620.50,398.00 C621.07,395.45 621.00,400.30 621.90,387.10 C622.80,373.90 624.58,337.62 625.90,318.80 C627.22,299.98 628.50,286.45 629.80,274.20 C631.10,261.95 633.05,250.12 633.70,245.30" fill="none" stroke="#2020ee" stroke-width="1.1"/>
<path d="M547.00,414.70 C547.58,409.25 549.18,392.72 550.50,382.00 C551.82,371.28 553.57,360.40 554.90,350.40 C556.23,340.40 557.18,330.33 558.50,322.00 C559.82,313.67 561.30,306.73 562.80,300.40 C564.30,294.07 565.75,288.37 567.50,284.00 C569.25,279.63 571.72,275.62 573.30,274.20 C574.88,272.78 575.68,274.20 577.00,275.50 C578.32,276.80 579.87,278.92 581.20,282.00 C582.53,285.08 583.68,288.73 585.00,294.00 C586.32,299.27 587.77,307.10 589.10,313.60 C590.43,320.10 591.68,326.43 593.00,333.00 C594.32,339.57 595.67,344.67 597.00,353.00 C598.33,361.33 599.70,372.72 601.00,383.00 C602.30,393.28 604.17,409.42 604.80,414.70" fill="none" stroke="#2020ee" stroke-width="1.1"/>
<path d="M583.80,245.30 C584.33,248.08 585.80,255.38 587.00,262.00 C588.20,268.62 589.50,276.67 591.00,285.00 C592.50,293.33 594.25,303.17 596.00,312.00 C597.75,320.83 599.83,330.00 601.50,338.00 C603.17,346.00 604.50,352.67 606.00,360.00 C607.50,367.33 609.08,376.00 610.50,382.00 C611.92,388.00 613.33,392.17 614.50,396.00 C615.67,399.83 616.48,401.88 617.50,405.00 C618.52,408.12 620.08,413.08 620.60,414.70" fill="none" stroke="#2020ee" stroke-width="1.1"/>
<path d="M512.90,409.50 C513.58,409.08 515.68,408.10 517.00,407.00 C518.32,405.90 519.55,405.07 520.80,402.90 C522.05,400.73 523.20,397.93 524.50,394.00 C525.80,390.07 527.35,384.30 528.60,379.30 C529.85,374.30 530.90,369.70 532.00,364.00 C533.10,358.30 534.12,352.10 535.20,345.10 C536.28,338.10 537.40,330.32 538.50,322.00 C539.60,313.68 540.80,302.87 541.80,295.20 C542.80,287.53 543.63,281.70 544.50,276.00 C545.37,270.30 546.32,265.00 547.00,261.00 C547.68,257.00 548.07,254.62 548.60,252.00 C549.13,249.38 549.93,246.42 550.20,245.30" fill="none" stroke="#f01010" stroke-width="2" stroke-dasharray="5.5,3.5"/>
<path d="M579.90,245.30 C580.58,248.08 582.65,255.72 584.00,262.00 C585.35,268.28 586.72,275.72 588.00,283.00 C589.28,290.28 590.20,297.87 591.70,305.70 C593.20,313.53 595.25,322.12 597.00,330.00 C598.75,337.88 600.70,346.33 602.20,353.00 C603.70,359.67 604.68,364.32 606.00,370.00 C607.32,375.68 608.77,382.68 610.10,387.10 C611.43,391.52 612.68,393.87 614.00,396.50 C615.32,399.13 616.33,401.23 618.00,402.90 C619.67,404.57 621.82,405.62 624.00,406.50 C626.18,407.38 628.43,407.92 631.10,408.20 C633.77,408.48 636.93,408.30 640.00,408.20 C643.07,408.10 645.50,407.93 649.50,407.60 C653.50,407.27 659.18,406.77 664.00,406.20 C668.82,405.63 676.00,404.53 678.40,404.20" fill="none" stroke="#f01010" stroke-width="2" stroke-dasharray="5.5,3.5"/>
<rect x="512.90" y="245.30" width="165.50" height="169.40" stroke="#bbb" stroke-width="1.1" fill="none" />
<text x="593.9" y="241.7" font-size="14" text-anchor="middle" fill="#222" font-weight="normal" >U=6.5 eV</text>
<text x="510.6" y="251.8" font-size="14" text-anchor="end" fill="#222" font-weight="normal" >0.15</text>
<text x="509.0" y="318.0" font-size="14" text-anchor="end" fill="#222" font-weight="normal" >0.0</text>
<text x="510.6" y="418.8" font-size="14" text-anchor="end" fill="#222" font-weight="normal" >-0.35</text>
<text x="0.0" y="0.0" font-size="14" text-anchor="middle" fill="#222" font-weight="normal" transform="translate(479.6,337.2) rotate(-90)">Energy (eV)</text>
<text x="513.8" y="432.2" font-size="16" text-anchor="middle" fill="#222" font-weight="normal" >Γ</text>
<text x="618.9" y="432.2" font-size="16" text-anchor="middle" fill="#222" font-weight="normal" >Z</text>
<text x="678.3" y="432.2" font-size="16" text-anchor="middle" fill="#222" font-weight="normal" >R</text>
<line x1="131.10" y1="471.60" x2="131.10" y2="661.30" stroke="#c8c8c8" stroke-width="1" />
<path d="M42.30,478.50 C42.50,479.08 43.08,481.03 43.50,482.00 C43.92,482.97 44.22,484.30 44.80,484.30 C45.38,484.30 46.10,482.95 47.00,482.00 C47.90,481.05 48.87,479.40 50.20,478.60 C51.53,477.80 53.30,477.55 55.00,477.20 C56.70,476.85 57.90,476.70 60.40,476.50 C62.90,476.30 65.07,476.12 70.00,476.00 C74.93,475.88 79.82,475.83 90.00,475.80 C100.18,475.77 124.25,475.80 131.10,475.80" fill="none" stroke="#0000f0" stroke-width="1.8"/>
<path d="M219.90,654.40 C219.70,653.82 219.12,651.87 218.70,650.90 C218.28,649.93 217.98,648.60 217.40,648.60 C216.82,648.60 216.10,649.95 215.20,650.90 C214.30,651.85 213.33,653.50 212.00,654.30 C210.67,655.10 208.90,655.35 207.20,655.70 C205.50,656.05 204.30,656.20 201.80,656.40 C199.30,656.60 197.13,656.78 192.20,656.90 C187.27,657.02 182.38,657.07 172.20,657.10 C162.02,657.13 137.95,657.10 131.10,657.10" fill="none" stroke="#0000f0" stroke-width="1.8"/>
<path d="M42.30,640.40 C42.50,640.02 43.08,638.65 43.50,638.10 C43.92,637.55 43.72,636.88 44.80,637.10 C45.88,637.32 48.30,638.27 50.00,639.40 C51.70,640.53 53.27,642.37 55.00,643.90 C56.73,645.43 58.23,647.18 60.40,648.60 C62.57,650.02 65.43,651.35 68.00,652.40 C70.57,653.45 73.88,654.52 75.80,654.90 C77.72,655.28 78.55,655.20 79.50,654.70 C80.45,654.20 80.95,653.53 81.50,651.90 C82.05,650.27 82.40,647.85 82.80,644.90 C83.20,641.95 83.53,637.87 83.90,634.20 C84.27,630.53 84.65,626.30 85.00,622.90 C85.35,619.50 85.62,616.47 86.00,613.80 C86.38,611.13 86.80,608.60 87.30,606.90 C87.80,605.20 87.85,604.43 89.00,603.60 C90.15,602.77 90.70,602.55 94.20,601.90 C97.70,601.25 103.85,600.28 110.00,599.70 C116.15,599.12 127.58,598.62 131.10,598.40" fill="none" stroke="#0000f0" stroke-width="1.8"/>
<path d="M219.90,492.50 C219.70,492.88 219.12,494.25 218.70,494.80 C218.28,495.35 218.48,496.02 217.40,495.80 C216.32,495.58 213.90,494.63 212.20,493.50 C210.50,492.37 208.93,490.53 207.20,489.00 C205.47,487.47 203.97,485.72 201.80,484.30 C199.63,482.88 196.77,481.55 194.20,480.50 C191.63,479.45 188.32,478.38 186.40,478.00 C184.48,477.62 183.65,477.70 182.70,478.20 C181.75,478.70 181.25,479.37 180.70,481.00 C180.15,482.63 179.80,485.05 179.40,488.00 C179.00,490.95 178.67,495.03 178.30,498.70 C177.93,502.37 177.55,506.60 177.20,510.00 C176.85,513.40 176.58,516.43 176.20,519.10 C175.82,521.77 175.40,524.30 174.90,526.00 C174.40,527.70 174.35,528.47 173.20,529.30 C172.05,530.13 171.50,530.35 168.00,531.00 C164.50,531.65 158.35,532.62 152.20,533.20 C146.05,533.78 134.62,534.28 131.10,534.50" fill="none" stroke="#0000f0" stroke-width="1.8"/>
<path d="M87.00,531.00 C87.25,530.63 87.98,529.77 88.50,528.80 C89.02,527.83 89.52,527.17 90.10,525.20 C90.68,523.23 91.32,520.07 92.00,517.00 C92.68,513.93 93.45,510.47 94.20,506.80 C94.95,503.13 95.83,498.07 96.50,495.00 C97.17,491.93 97.62,490.57 98.20,488.40 C98.78,486.23 99.32,483.82 100.00,482.00 C100.68,480.18 101.47,478.42 102.30,477.50 C103.13,476.58 103.72,476.68 105.00,476.50 C106.28,476.32 105.65,476.38 110.00,476.40 C114.35,476.42 127.58,476.57 131.10,476.60" fill="none" stroke="#0000f0" stroke-width="1.8"/>
<path d="M175.20,601.90 C174.95,602.27 174.22,603.13 173.70,604.10 C173.18,605.07 172.68,605.73 172.10,607.70 C171.52,609.67 170.88,612.83 170.20,615.90 C169.52,618.97 168.75,622.43 168.00,626.10 C167.25,629.77 166.37,634.83 165.70,637.90 C165.03,640.97 164.58,642.33 164.00,644.50 C163.42,646.67 162.88,649.08 162.20,650.90 C161.52,652.72 160.73,654.48 159.90,655.40 C159.07,656.32 158.48,656.22 157.20,656.40 C155.92,656.58 156.55,656.52 152.20,656.50 C147.85,656.48 134.62,656.33 131.10,656.30" fill="none" stroke="#0000f0" stroke-width="1.8"/>
<path d="M42.20,531.50 C42.64,531.50 42.79,531.50 44.87,531.50 C46.94,531.50 48.13,531.42 54.65,531.50 C61.17,531.58 77.76,531.08 83.98,532.00 C90.21,532.92 88.58,535.50 91.98,537.00 C95.39,538.50 100.13,540.33 104.43,541.00 C108.73,541.67 114.21,541.17 117.77,541.00 C121.32,540.83 123.54,540.33 125.77,540.00 C127.99,539.67 129.32,539.00 131.10,539.00 C132.88,539.00 134.21,539.67 136.43,540.00 C138.66,540.33 140.88,540.83 144.44,541.00 C147.99,541.17 153.47,541.67 157.77,541.00 C162.07,540.33 166.81,538.50 170.22,537.00 C173.62,535.50 171.99,532.92 178.22,532.00 C184.44,531.08 201.03,531.58 207.55,531.50 C214.07,531.42 215.26,531.50 217.33,531.50 C219.41,531.50 219.56,531.50 220.00,531.50" fill="none" stroke="#0000f0" stroke-width="1.8"/>
<path d="M42.20,537.00 C42.64,537.00 42.79,537.08 44.87,537.00 C46.94,536.92 48.13,536.67 54.65,536.50 C61.17,536.33 77.76,536.25 83.98,536.00 C90.21,535.75 88.58,535.25 91.98,535.00 C95.39,534.75 100.13,534.58 104.43,534.50 C108.73,534.42 114.21,534.50 117.77,534.50 C121.32,534.50 123.54,534.50 125.77,534.50 C127.99,534.50 129.32,534.50 131.10,534.50 C132.88,534.50 134.21,534.50 136.43,534.50 C138.66,534.50 140.88,534.50 144.44,534.50 C147.99,534.50 153.47,534.42 157.77,534.50 C162.07,534.58 166.81,534.75 170.22,535.00 C173.62,535.25 171.99,535.75 178.22,536.00 C184.44,536.25 201.03,536.33 207.55,536.50 C214.07,536.67 215.26,536.92 217.33,537.00 C219.41,537.08 219.56,537.00 220.00,537.00" fill="none" stroke="#0000f0" stroke-width="1.6"/>
<path d="M42.20,550.00 C42.64,550.00 42.79,549.92 44.87,550.00 C46.94,550.08 48.13,550.33 54.65,550.50 C61.17,550.67 77.76,550.77 83.98,551.00 C90.21,551.23 88.58,551.48 91.98,551.90 C95.39,552.32 100.13,552.90 104.43,553.50 C108.73,554.10 114.21,555.00 117.77,555.50 C121.32,556.00 123.54,556.28 125.77,556.50 C127.99,556.72 129.32,556.80 131.10,556.80 C132.88,556.80 134.21,556.72 136.43,556.50 C138.66,556.28 140.88,556.00 144.44,555.50 C147.99,555.00 153.47,554.10 157.77,553.50 C162.07,552.90 166.81,552.32 170.22,551.90 C173.62,551.48 171.99,551.23 178.22,551.00 C184.44,550.77 201.03,550.67 207.55,550.50 C214.07,550.33 215.26,550.08 217.33,550.00 C219.41,549.92 219.56,550.00 220.00,550.00" fill="none" stroke="#0000f0" stroke-width="1.8"/>
<path d="M42.20,555.50 C42.64,555.50 42.79,555.50 44.87,555.50 C46.94,555.50 48.13,555.42 54.65,555.50 C61.17,555.58 77.76,555.58 83.98,556.00 C90.21,556.42 88.58,557.42 91.98,558.00 C95.39,558.58 100.13,559.08 104.43,559.50 C108.73,559.92 114.21,560.42 117.77,560.50 C121.32,560.58 123.54,560.17 125.77,560.00 C127.99,559.83 129.32,559.50 131.10,559.50 C132.88,559.50 134.21,559.83 136.43,560.00 C138.66,560.17 140.88,560.58 144.44,560.50 C147.99,560.42 153.47,559.92 157.77,559.50 C162.07,559.08 166.81,558.58 170.22,558.00 C173.62,557.42 171.99,556.42 178.22,556.00 C184.44,555.58 201.03,555.58 207.55,555.50 C214.07,555.42 215.26,555.50 217.33,555.50 C219.41,555.50 219.56,555.50 220.00,555.50" fill="none" stroke="#0000f0" stroke-width="1.8"/>
<path d="M42.20,561.00 C42.64,561.00 42.79,561.00 44.87,561.00 C46.94,561.00 48.13,561.03 54.65,561.00 C61.17,560.97 77.76,560.97 83.98,560.80 C90.21,560.63 88.58,560.22 91.98,560.00 C95.39,559.78 100.13,559.58 104.43,559.50 C108.73,559.42 114.21,559.42 117.77,559.50 C121.32,559.58 123.54,559.83 125.77,560.00 C127.99,560.17 129.32,560.50 131.10,560.50 C132.88,560.50 134.21,560.17 136.43,560.00 C138.66,559.83 140.88,559.58 144.44,559.50 C147.99,559.42 153.47,559.42 157.77,559.50 C162.07,559.58 166.81,559.78 170.22,560.00 C173.62,560.22 171.99,560.63 178.22,560.80 C184.44,560.97 201.03,560.97 207.55,561.00 C214.07,561.03 215.26,561.00 217.33,561.00 C219.41,561.00 219.56,561.00 220.00,561.00" fill="none" stroke="#0000f0" stroke-width="1.8"/>
<path d="M42.20,601.30 C42.64,601.30 42.79,601.30 44.87,601.30 C46.94,601.30 48.13,601.38 54.65,601.30 C61.17,601.22 77.76,601.72 83.98,600.80 C90.21,599.88 88.58,597.30 91.98,595.80 C95.39,594.30 100.13,592.47 104.43,591.80 C108.73,591.13 114.21,591.63 117.77,591.80 C121.32,591.97 123.54,592.47 125.77,592.80 C127.99,593.13 129.32,593.80 131.10,593.80 C132.88,593.80 134.21,593.13 136.43,592.80 C138.66,592.47 140.88,591.97 144.44,591.80 C147.99,591.63 153.47,591.13 157.77,591.80 C162.07,592.47 166.81,594.30 170.22,595.80 C173.62,597.30 171.99,599.88 178.22,600.80 C184.44,601.72 201.03,601.22 207.55,601.30 C214.07,601.38 215.26,601.30 217.33,601.30 C219.41,601.30 219.56,601.30 220.00,601.30" fill="none" stroke="#0000f0" stroke-width="1.8"/>
<path d="M42.20,595.80 C42.64,595.80 42.79,595.72 44.87,595.80 C46.94,595.88 48.13,596.13 54.65,596.30 C61.17,596.47 77.76,596.55 83.98,596.80 C90.21,597.05 88.58,597.55 91.98,597.80 C95.39,598.05 100.13,598.22 104.43,598.30 C108.73,598.38 114.21,598.30 117.77,598.30 C121.32,598.30 123.54,598.30 125.77,598.30 C127.99,598.30 129.32,598.30 131.10,598.30 C132.88,598.30 134.21,598.30 136.43,598.30 C138.66,598.30 140.88,598.30 144.44,598.30 C147.99,598.30 153.47,598.38 157.77,598.30 C162.07,598.22 166.81,598.05 170.22,597.80 C173.62,597.55 171.99,597.05 178.22,596.80 C184.44,596.55 201.03,596.47 207.55,596.30 C214.07,596.13 215.26,595.88 217.33,595.80 C219.41,595.72 219.56,595.80 220.00,595.80" fill="none" stroke="#0000f0" stroke-width="1.6"/>
<path d="M42.20,582.80 C42.64,582.80 42.79,582.88 44.87,582.80 C46.94,582.72 48.13,582.47 54.65,582.30 C61.17,582.13 77.76,582.03 83.98,581.80 C90.21,581.57 88.58,581.32 91.98,580.90 C95.39,580.48 100.13,579.90 104.43,579.30 C108.73,578.70 114.21,577.80 117.77,577.30 C121.32,576.80 123.54,576.52 125.77,576.30 C127.99,576.08 129.32,576.00 131.10,576.00 C132.88,576.00 134.21,576.08 136.43,576.30 C138.66,576.52 140.88,576.80 144.44,577.30 C147.99,577.80 153.47,578.70 157.77,579.30 C162.07,579.90 166.81,580.48 170.22,580.90 C173.62,581.32 171.99,581.57 178.22,581.80 C184.44,582.03 201.03,582.13 207.55,582.30 C214.07,582.47 215.26,582.72 217.33,582.80 C219.41,582.88 219.56,582.80 220.00,582.80" fill="none" stroke="#0000f0" stroke-width="1.8"/>
<path d="M42.20,577.30 C42.64,577.30 42.79,577.30 44.87,577.30 C46.94,577.30 48.13,577.38 54.65,577.30 C61.17,577.22 77.76,577.22 83.98,576.80 C90.21,576.38 88.58,575.38 91.98,574.80 C95.39,574.22 100.13,573.72 104.43,573.30 C108.73,572.88 114.21,572.38 117.77,572.30 C121.32,572.22 123.54,572.63 125.77,572.80 C127.99,572.97 129.32,573.30 131.10,573.30 C132.88,573.30 134.21,572.97 136.43,572.80 C138.66,572.63 140.88,572.22 144.44,572.30 C147.99,572.38 153.47,572.88 157.77,573.30 C162.07,573.72 166.81,574.22 170.22,574.80 C173.62,575.38 171.99,576.38 178.22,576.80 C184.44,577.22 201.03,577.22 207.55,577.30 C214.07,577.38 215.26,577.30 217.33,577.30 C219.41,577.30 219.56,577.30 220.00,577.30" fill="none" stroke="#0000f0" stroke-width="1.8"/>
<path d="M42.20,571.80 C42.64,571.80 42.79,571.80 44.87,571.80 C46.94,571.80 48.13,571.77 54.65,571.80 C61.17,571.83 77.76,571.83 83.98,572.00 C90.21,572.17 88.58,572.58 91.98,572.80 C95.39,573.02 100.13,573.22 104.43,573.30 C108.73,573.38 114.21,573.38 117.77,573.30 C121.32,573.22 123.54,572.97 125.77,572.80 C127.99,572.63 129.32,572.30 131.10,572.30 C132.88,572.30 134.21,572.63 136.43,572.80 C138.66,572.97 140.88,573.22 144.44,573.30 C147.99,573.38 153.47,573.38 157.77,573.30 C162.07,573.22 166.81,573.02 170.22,572.80 C173.62,572.58 171.99,572.17 178.22,572.00 C184.44,571.83 201.03,571.83 207.55,571.80 C214.07,571.77 215.26,571.80 217.33,571.80 C219.41,571.80 219.56,571.80 220.00,571.80" fill="none" stroke="#0000f0" stroke-width="1.8"/>
<path d="M163.7,547.5 L165.0,547.5 L166.3,547.5 L167.6,547.5 L168.9,547.5 L170.3,547.5 L171.6,547.5 L172.9,545.9 L174.2,542.0 L175.5,538.1 L176.8,536.5 L178.1,536.5 L179.4,536.5 L180.8,536.5 L182.1,536.5 L183.4,536.5 L184.7,536.5" fill="none" stroke="#0000f0" stroke-width="1.7"/>
<path d="M78.0,546.5 L79.4,546.5 L80.9,546.5 L82.3,546.5 L83.8,546.5 L85.2,546.5 L86.6,546.3 L88.1,544.6 L89.5,542.0 L90.9,539.4 L92.4,537.7 L93.8,537.5 L95.2,537.5 L96.7,537.5 L98.1,537.5 L99.6,537.5 L101.0,537.5" fill="none" stroke="#0000f0" stroke-width="1.7"/>
<path d="M158.2,564.5 L159.7,564.5 L161.2,564.5 L162.7,564.5 L164.2,564.5 L165.7,564.5 L167.2,564.0 L168.7,561.7 L170.2,558.5 L171.7,555.3 L173.2,553.0 L174.7,552.5 L176.2,552.5 L177.7,552.5 L179.2,552.5 L180.7,552.5 L182.2,552.5" fill="none" stroke="#0000f0" stroke-width="1.7"/>
<path d="M77.5,561.0 L78.9,561.0 L80.2,561.0 L81.6,561.0 L83.0,561.0 L84.4,561.0 L85.8,561.0 L87.1,559.6 L88.5,557.0 L89.9,554.4 L91.2,553.0 L92.6,553.0 L94.0,553.0 L95.4,553.0 L96.8,553.0 L98.1,553.0 L99.5,553.0" fill="none" stroke="#0000f0" stroke-width="1.7"/>
<path d="M165.2,580.0 L166.5,580.0 L167.8,580.0 L169.1,580.0 L170.4,580.0 L171.8,580.0 L173.1,580.0 L174.4,578.6 L175.7,575.0 L177.0,571.4 L178.3,570.0 L179.6,570.0 L180.9,570.0 L182.3,570.0 L183.6,570.0 L184.9,570.0 L186.2,570.0" fill="none" stroke="#0000f0" stroke-width="1.7"/>
<path d="M78.5,582.0 L79.9,582.0 L81.4,582.0 L82.8,582.0 L84.2,582.0 L85.7,582.0 L87.1,581.8 L88.6,579.9 L90.0,577.0 L91.4,574.1 L92.9,572.2 L94.3,572.0 L95.8,572.0 L97.2,572.0 L98.6,572.0 L100.1,572.0 L101.5,572.0" fill="none" stroke="#0000f0" stroke-width="1.7"/>
<path d="M159.7,596.0 L161.1,596.0 L162.6,596.0 L164.0,596.0 L165.4,596.0 L166.9,596.0 L168.3,595.8 L169.8,593.8 L171.2,590.8 L172.6,587.7 L174.1,585.7 L175.5,585.5 L176.9,585.5 L178.4,585.5 L179.8,585.5 L181.3,585.5 L182.7,585.5" fill="none" stroke="#0000f0" stroke-width="1.7"/>
<path d="M77.0,598.0 L78.3,598.0 L79.6,598.0 L80.9,598.0 L82.2,598.0 L83.6,598.0 L84.9,598.0 L86.2,596.6 L87.5,593.0 L88.8,589.4 L90.1,588.0 L91.4,588.0 L92.8,588.0 L94.1,588.0 L95.4,588.0 L96.7,588.0 L98.0,588.0" fill="none" stroke="#0000f0" stroke-width="1.7"/>
<path d="M42.2,550.5 L46.6,550.5 L51.1,550.5 L55.5,550.5 L60.0,550.5 L64.4,550.5 L68.9,550.5 L73.3,550.5 L77.8,550.5 L82.2,550.5 L86.7,550.5 L91.1,550.5 L95.5,550.5 L100.0,550.6 L104.4,550.8 L108.9,551.2 L113.3,551.6 L117.8,552.1 L122.2,552.7 L126.7,553.3 L131.1,553.9 L135.5,554.6 L140.0,555.2 L144.4,555.8 L148.9,556.3 L153.3,556.8 L157.8,557.1 L162.2,557.4 L166.7,557.5 L171.1,557.5 L175.6,557.5 L180.0,557.5 L184.4,557.5 L188.9,557.5 L193.3,557.5 L197.8,557.5 L202.2,557.5 L206.7,557.5 L211.1,557.5 L215.6,557.5 L220.0,557.5" fill="none" stroke="#0000f0" stroke-width="1.8"/>
<path d="M42.2,571.5 L46.6,571.5 L51.1,571.5 L55.5,571.5 L60.0,571.5 L64.4,571.5 L68.9,571.5 L73.3,571.5 L77.8,571.5 L82.2,571.5 L86.7,571.5 L91.1,571.5 L95.5,571.5 L100.0,571.6 L104.4,571.8 L108.9,572.2 L113.3,572.6 L117.8,573.1 L122.2,573.7 L126.7,574.3 L131.1,574.9 L135.5,575.6 L140.0,576.2 L144.4,576.8 L148.9,577.3 L153.3,577.8 L157.8,578.1 L162.2,578.4 L166.7,578.5 L171.1,578.5 L175.6,578.5 L180.0,578.5 L184.4,578.5 L188.9,578.5 L193.3,578.5 L197.8,578.5 L202.2,578.5 L206.7,578.5 L211.1,578.5 L215.6,578.5 L220.0,578.5" fill="none" stroke="#0000f0" stroke-width="1.8"/>
<path d="M42.2,560.0 L46.6,560.0 L51.1,560.0 L55.5,560.0 L60.0,560.0 L64.4,560.0 L68.9,560.0 L73.3,560.0 L77.8,560.0 L82.2,560.0 L86.7,560.0 L91.1,560.0 L95.5,560.0 L100.0,560.1 L104.4,560.2 L108.9,560.4 L113.3,560.7 L117.8,561.0 L122.2,561.4 L126.7,561.8 L131.1,562.2 L135.5,562.6 L140.0,563.0 L144.4,563.4 L148.9,563.7 L153.3,564.0 L157.8,564.3 L162.2,564.4 L166.7,564.5 L171.1,564.5 L175.6,564.5 L180.0,564.5 L184.4,564.5 L188.9,564.5 L193.3,564.5 L197.8,564.5 L202.2,564.5 L206.7,564.5 L211.1,564.5 L215.6,564.5 L220.0,564.5" fill="none" stroke="#0000f0" stroke-width="1.6"/>
<path d="M42.30,654.40 C42.50,653.82 43.08,651.87 43.50,650.90 C43.92,649.93 44.22,648.60 44.80,648.60 C45.38,648.60 46.10,649.95 47.00,650.90 C47.90,651.85 48.87,653.50 50.20,654.30 C51.53,655.10 53.30,655.35 55.00,655.70 C56.70,656.05 57.90,656.20 60.40,656.40 C62.90,656.60 65.07,656.78 70.00,656.90 C74.93,657.02 79.82,657.07 90.00,657.10 C100.18,657.13 124.25,657.10 131.10,657.10" fill="none" stroke="#f00000" stroke-width="1.8"/>
<path d="M219.90,478.50 C219.70,479.08 219.12,481.03 218.70,482.00 C218.28,482.97 217.98,484.30 217.40,484.30 C216.82,484.30 216.10,482.95 215.20,482.00 C214.30,481.05 213.33,479.40 212.00,478.60 C210.67,477.80 208.90,477.55 207.20,477.20 C205.50,476.85 204.30,476.70 201.80,476.50 C199.30,476.30 197.13,476.12 192.20,476.00 C187.27,475.88 182.38,475.83 172.20,475.80 C162.02,475.77 137.95,475.80 131.10,475.80" fill="none" stroke="#f00000" stroke-width="1.8"/>
<path d="M42.30,492.50 C42.50,492.88 43.08,494.25 43.50,494.80 C43.92,495.35 43.72,496.02 44.80,495.80 C45.88,495.58 48.30,494.63 50.00,493.50 C51.70,492.37 53.27,490.53 55.00,489.00 C56.73,487.47 58.23,485.72 60.40,484.30 C62.57,482.88 65.43,481.55 68.00,480.50 C70.57,479.45 73.88,478.38 75.80,478.00 C77.72,477.62 78.55,477.70 79.50,478.20 C80.45,478.70 80.95,479.37 81.50,481.00 C82.05,482.63 82.40,485.05 82.80,488.00 C83.20,490.95 83.53,495.03 83.90,498.70 C84.27,502.37 84.65,506.60 85.00,510.00 C85.35,513.40 85.62,516.43 86.00,519.10 C86.38,521.77 86.80,524.30 87.30,526.00 C87.80,527.70 87.85,528.47 89.00,529.30 C90.15,530.13 90.70,530.35 94.20,531.00 C97.70,531.65 103.85,532.62 110.00,533.20 C116.15,533.78 127.58,534.28 131.10,534.50" fill="none" stroke="#f00000" stroke-width="1.8"/>
<path d="M219.90,640.40 C219.70,640.02 219.12,638.65 218.70,638.10 C218.28,637.55 218.48,636.88 217.40,637.10 C216.32,637.32 213.90,638.27 212.20,639.40 C210.50,640.53 208.93,642.37 207.20,643.90 C205.47,645.43 203.97,647.18 201.80,648.60 C199.63,650.02 196.77,651.35 194.20,652.40 C191.63,653.45 188.32,654.52 186.40,654.90 C184.48,655.28 183.65,655.20 182.70,654.70 C181.75,654.20 181.25,653.53 180.70,651.90 C180.15,650.27 179.80,647.85 179.40,644.90 C179.00,641.95 178.67,637.87 178.30,634.20 C177.93,630.53 177.55,626.30 177.20,622.90 C176.85,619.50 176.58,616.47 176.20,613.80 C175.82,611.13 175.40,608.60 174.90,606.90 C174.40,605.20 174.35,604.43 173.20,603.60 C172.05,602.77 171.50,602.55 168.00,601.90 C164.50,601.25 158.35,600.28 152.20,599.70 C146.05,599.12 134.62,598.62 131.10,598.40" fill="none" stroke="#f00000" stroke-width="1.8"/>
<path d="M87.00,601.90 C87.25,602.27 87.98,603.13 88.50,604.10 C89.02,605.07 89.52,605.73 90.10,607.70 C90.68,609.67 91.32,612.83 92.00,615.90 C92.68,618.97 93.45,622.43 94.20,626.10 C94.95,629.77 95.83,634.83 96.50,637.90 C97.17,640.97 97.62,642.33 98.20,644.50 C98.78,646.67 99.32,649.08 100.00,650.90 C100.68,652.72 101.47,654.48 102.30,655.40 C103.13,656.32 103.72,656.22 105.00,656.40 C106.28,656.58 105.65,656.52 110.00,656.50 C114.35,656.48 127.58,656.33 131.10,656.30" fill="none" stroke="#f00000" stroke-width="1.8"/>
<path d="M175.20,531.00 C174.95,530.63 174.22,529.77 173.70,528.80 C173.18,527.83 172.68,527.17 172.10,525.20 C171.52,523.23 170.88,520.07 170.20,517.00 C169.52,513.93 168.75,510.47 168.00,506.80 C167.25,503.13 166.37,498.07 165.70,495.00 C165.03,491.93 164.58,490.57 164.00,488.40 C163.42,486.23 162.88,483.82 162.20,482.00 C161.52,480.18 160.73,478.42 159.90,477.50 C159.07,476.58 158.48,476.68 157.20,476.50 C155.92,476.32 156.55,476.38 152.20,476.40 C147.85,476.42 134.62,476.57 131.10,476.60" fill="none" stroke="#f00000" stroke-width="1.8"/>
<path d="M42.20,533.90 C42.64,533.90 42.79,533.90 44.87,533.90 C46.94,533.90 48.13,533.90 54.65,533.90 C61.17,533.90 77.76,533.90 83.98,533.90 C90.21,533.90 88.58,533.90 91.98,533.90 C95.39,533.90 100.13,533.90 104.43,533.90 C108.73,533.90 114.21,533.90 117.77,533.90 C121.32,533.90 123.54,533.90 125.77,533.90 C127.99,533.90 129.32,533.90 131.10,533.90 C132.88,533.90 134.21,533.90 136.43,533.90 C138.66,533.90 140.88,533.90 144.44,533.90 C147.99,533.90 153.47,533.90 157.77,533.90 C162.07,533.90 166.81,533.90 170.22,533.90 C173.62,533.90 171.99,533.90 178.22,533.90 C184.44,533.90 201.03,533.90 207.55,533.90 C214.07,533.90 215.26,533.90 217.33,533.90 C219.41,533.90 219.56,533.90 220.00,533.90" fill="none" stroke="#f00000" stroke-width="2.4"/>
<path d="M42.20,531.00 C42.64,531.03 42.79,531.13 44.87,531.20 C46.94,531.27 48.13,531.35 54.65,531.40 C61.17,531.45 77.76,531.48 83.98,531.50 C90.21,531.52 88.58,531.45 91.98,531.50 C95.39,531.55 100.13,531.72 104.43,531.80 C108.73,531.88 114.21,531.97 117.77,532.00 C121.32,532.03 123.54,532.00 125.77,532.00 C127.99,532.00 129.32,532.00 131.10,532.00 C132.88,532.00 134.21,532.00 136.43,532.00 C138.66,532.00 140.88,532.03 144.44,532.00 C147.99,531.97 153.47,531.88 157.77,531.80 C162.07,531.72 166.81,531.55 170.22,531.50 C173.62,531.45 171.99,531.52 178.22,531.50 C184.44,531.48 201.03,531.45 207.55,531.40 C214.07,531.35 215.26,531.27 217.33,531.20 C219.41,531.13 219.56,531.03 220.00,531.00" fill="none" stroke="#f00000" stroke-width="1.8"/>
<path d="M42.20,538.00 C42.64,537.92 42.79,537.67 44.87,537.50 C46.94,537.33 48.13,537.25 54.65,537.00 C61.17,536.75 77.76,536.00 83.98,536.00 C90.21,536.00 88.58,536.42 91.98,537.00 C95.39,537.58 100.13,539.08 104.43,539.50 C108.73,539.92 114.21,539.75 117.77,539.50 C121.32,539.25 123.54,538.48 125.77,538.00 C127.99,537.52 129.32,536.60 131.10,536.60 C132.88,536.60 134.21,537.52 136.43,538.00 C138.66,538.48 140.88,539.25 144.44,539.50 C147.99,539.75 153.47,539.92 157.77,539.50 C162.07,539.08 166.81,537.58 170.22,537.00 C173.62,536.42 171.99,536.00 178.22,536.00 C184.44,536.00 201.03,536.75 207.55,537.00 C214.07,537.25 215.26,537.33 217.33,537.50 C219.41,537.67 219.56,537.92 220.00,538.00" fill="none" stroke="#f00000" stroke-width="1.8"/>
<path d="M42.20,540.30 C42.64,540.25 42.79,540.13 44.87,540.00 C46.94,539.87 48.13,539.70 54.65,539.50 C61.17,539.30 77.76,539.38 83.98,538.80 C90.21,538.22 88.58,536.63 91.98,536.00 C95.39,535.37 100.13,535.25 104.43,535.00 C108.73,534.75 114.21,534.63 117.77,534.50 C121.32,534.37 123.54,534.25 125.77,534.20 C127.99,534.15 129.32,534.20 131.10,534.20 C132.88,534.20 134.21,534.15 136.43,534.20 C138.66,534.25 140.88,534.37 144.44,534.50 C147.99,534.63 153.47,534.75 157.77,535.00 C162.07,535.25 166.81,535.37 170.22,536.00 C173.62,536.63 171.99,538.22 178.22,538.80 C184.44,539.38 201.03,539.30 207.55,539.50 C214.07,539.70 215.26,539.87 217.33,540.00 C219.41,540.13 219.56,540.25 220.00,540.30" fill="none" stroke="#f00000" stroke-width="1.8"/>
<path d="M42.20,547.30 C42.64,547.30 42.79,547.30 44.87,547.30 C46.94,547.30 48.13,547.30 54.65,547.30 C61.17,547.30 77.76,547.30 83.98,547.30 C90.21,547.30 88.58,547.30 91.98,547.30 C95.39,547.30 100.13,547.30 104.43,547.30 C108.73,547.30 114.21,547.30 117.77,547.30 C121.32,547.30 123.54,547.30 125.77,547.30 C127.99,547.30 129.32,547.30 131.10,547.30 C132.88,547.30 134.21,547.30 136.43,547.30 C138.66,547.30 140.88,547.30 144.44,547.30 C147.99,547.30 153.47,547.30 157.77,547.30 C162.07,547.30 166.81,547.30 170.22,547.30 C173.62,547.30 171.99,547.30 178.22,547.30 C184.44,547.30 201.03,547.30 207.55,547.30 C214.07,547.30 215.26,547.30 217.33,547.30 C219.41,547.30 219.56,547.30 220.00,547.30" fill="none" stroke="#f00000" stroke-width="2.4"/>
<path d="M42.20,552.50 C42.64,552.50 42.79,552.42 44.87,552.50 C46.94,552.58 48.13,552.67 54.65,553.00 C61.17,553.33 77.76,553.83 83.98,554.50 C90.21,555.17 88.58,556.67 91.98,557.00 C95.39,557.33 100.13,556.75 104.43,556.50 C108.73,556.25 114.21,555.75 117.77,555.50 C121.32,555.25 123.54,555.13 125.77,555.00 C127.99,554.87 129.32,554.70 131.10,554.70 C132.88,554.70 134.21,554.87 136.43,555.00 C138.66,555.13 140.88,555.25 144.44,555.50 C147.99,555.75 153.47,556.25 157.77,556.50 C162.07,556.75 166.81,557.33 170.22,557.00 C173.62,556.67 171.99,555.17 178.22,554.50 C184.44,553.83 201.03,553.33 207.55,553.00 C214.07,552.67 215.26,552.58 217.33,552.50 C219.41,552.42 219.56,552.50 220.00,552.50" fill="none" stroke="#f00000" stroke-width="1.8"/>
<path d="M42.20,557.60 C42.64,557.58 42.79,557.60 44.87,557.50 C46.94,557.40 48.13,557.25 54.65,557.00 C61.17,556.75 77.76,556.67 83.98,556.00 C90.21,555.33 88.58,553.92 91.98,553.00 C95.39,552.08 100.13,551.08 104.43,550.50 C108.73,549.92 114.21,549.67 117.77,549.50 C121.32,549.33 123.54,549.50 125.77,549.50 C127.99,549.50 129.32,549.50 131.10,549.50 C132.88,549.50 134.21,549.50 136.43,549.50 C138.66,549.50 140.88,549.33 144.44,549.50 C147.99,549.67 153.47,549.92 157.77,550.50 C162.07,551.08 166.81,552.08 170.22,553.00 C173.62,553.92 171.99,555.33 178.22,556.00 C184.44,556.67 201.03,556.75 207.55,557.00 C214.07,557.25 215.26,557.40 217.33,557.50 C219.41,557.60 219.56,557.58 220.00,557.60" fill="none" stroke="#f00000" stroke-width="1.8"/>
<path d="M42.20,562.00 C42.64,562.00 42.79,562.00 44.87,562.00 C46.94,562.00 48.13,562.00 54.65,562.00 C61.17,562.00 77.76,562.08 83.98,562.00 C90.21,561.92 88.58,561.42 91.98,561.50 C95.39,561.58 100.13,562.17 104.43,562.50 C108.73,562.83 114.21,563.33 117.77,563.50 C121.32,563.67 123.54,563.50 125.77,563.50 C127.99,563.50 129.32,563.50 131.10,563.50 C132.88,563.50 134.21,563.50 136.43,563.50 C138.66,563.50 140.88,563.67 144.44,563.50 C147.99,563.33 153.47,562.83 157.77,562.50 C162.07,562.17 166.81,561.58 170.22,561.50 C173.62,561.42 171.99,561.92 178.22,562.00 C184.44,562.08 201.03,562.00 207.55,562.00 C214.07,562.00 215.26,562.00 217.33,562.00 C219.41,562.00 219.56,562.00 220.00,562.00" fill="none" stroke="#f00000" stroke-width="1.8"/>
<path d="M42.20,598.90 C42.64,598.90 42.79,598.90 44.87,598.90 C46.94,598.90 48.13,598.90 54.65,598.90 C61.17,598.90 77.76,598.90 83.98,598.90 C90.21,598.90 88.58,598.90 91.98,598.90 C95.39,598.90 100.13,598.90 104.43,598.90 C108.73,598.90 114.21,598.90 117.77,598.90 C121.32,598.90 123.54,598.90 125.77,598.90 C127.99,598.90 129.32,598.90 131.10,598.90 C132.88,598.90 134.21,598.90 136.43,598.90 C138.66,598.90 140.88,598.90 144.44,598.90 C147.99,598.90 153.47,598.90 157.77,598.90 C162.07,598.90 166.81,598.90 170.22,598.90 C173.62,598.90 171.99,598.90 178.22,598.90 C184.44,598.90 201.03,598.90 207.55,598.90 C214.07,598.90 215.26,598.90 217.33,598.90 C219.41,598.90 219.56,598.90 220.00,598.90" fill="none" stroke="#f00000" stroke-width="2.4"/>
<path d="M42.20,601.80 C42.64,601.77 42.79,601.67 44.87,601.60 C46.94,601.53 48.13,601.45 54.65,601.40 C61.17,601.35 77.76,601.32 83.98,601.30 C90.21,601.28 88.58,601.35 91.98,601.30 C95.39,601.25 100.13,601.08 104.43,601.00 C108.73,600.92 114.21,600.83 117.77,600.80 C121.32,600.77 123.54,600.80 125.77,600.80 C127.99,600.80 129.32,600.80 131.10,600.80 C132.88,600.80 134.21,600.80 136.43,600.80 C138.66,600.80 140.88,600.77 144.44,600.80 C147.99,600.83 153.47,600.92 157.77,601.00 C162.07,601.08 166.81,601.25 170.22,601.30 C173.62,601.35 171.99,601.28 178.22,601.30 C184.44,601.32 201.03,601.35 207.55,601.40 C214.07,601.45 215.26,601.53 217.33,601.60 C219.41,601.67 219.56,601.77 220.00,601.80" fill="none" stroke="#f00000" stroke-width="1.8"/>
<path d="M42.20,594.80 C42.64,594.88 42.79,595.13 44.87,595.30 C46.94,595.47 48.13,595.55 54.65,595.80 C61.17,596.05 77.76,596.80 83.98,596.80 C90.21,596.80 88.58,596.38 91.98,595.80 C95.39,595.22 100.13,593.72 104.43,593.30 C108.73,592.88 114.21,593.05 117.77,593.30 C121.32,593.55 123.54,594.32 125.77,594.80 C127.99,595.28 129.32,596.20 131.10,596.20 C132.88,596.20 134.21,595.28 136.43,594.80 C138.66,594.32 140.88,593.55 144.44,593.30 C147.99,593.05 153.47,592.88 157.77,593.30 C162.07,593.72 166.81,595.22 170.22,595.80 C173.62,596.38 171.99,596.80 178.22,596.80 C184.44,596.80 201.03,596.05 207.55,595.80 C214.07,595.55 215.26,595.47 217.33,595.30 C219.41,595.13 219.56,594.88 220.00,594.80" fill="none" stroke="#f00000" stroke-width="1.8"/>
<path d="M42.20,592.50 C42.64,592.55 42.79,592.67 44.87,592.80 C46.94,592.93 48.13,593.10 54.65,593.30 C61.17,593.50 77.76,593.42 83.98,594.00 C90.21,594.58 88.58,596.17 91.98,596.80 C95.39,597.43 100.13,597.55 104.43,597.80 C108.73,598.05 114.21,598.17 117.77,598.30 C121.32,598.43 123.54,598.55 125.77,598.60 C127.99,598.65 129.32,598.60 131.10,598.60 C132.88,598.60 134.21,598.65 136.43,598.60 C138.66,598.55 140.88,598.43 144.44,598.30 C147.99,598.17 153.47,598.05 157.77,597.80 C162.07,597.55 166.81,597.43 170.22,596.80 C173.62,596.17 171.99,594.58 178.22,594.00 C184.44,593.42 201.03,593.50 207.55,593.30 C214.07,593.10 215.26,592.93 217.33,592.80 C219.41,592.67 219.56,592.55 220.00,592.50" fill="none" stroke="#f00000" stroke-width="1.8"/>
<path d="M42.20,585.50 C42.64,585.50 42.79,585.50 44.87,585.50 C46.94,585.50 48.13,585.50 54.65,585.50 C61.17,585.50 77.76,585.50 83.98,585.50 C90.21,585.50 88.58,585.50 91.98,585.50 C95.39,585.50 100.13,585.50 104.43,585.50 C108.73,585.50 114.21,585.50 117.77,585.50 C121.32,585.50 123.54,585.50 125.77,585.50 C127.99,585.50 129.32,585.50 131.10,585.50 C132.88,585.50 134.21,585.50 136.43,585.50 C138.66,585.50 140.88,585.50 144.44,585.50 C147.99,585.50 153.47,585.50 157.77,585.50 C162.07,585.50 166.81,585.50 170.22,585.50 C173.62,585.50 171.99,585.50 178.22,585.50 C184.44,585.50 201.03,585.50 207.55,585.50 C214.07,585.50 215.26,585.50 217.33,585.50 C219.41,585.50 219.56,585.50 220.00,585.50" fill="none" stroke="#f00000" stroke-width="2.4"/>
<path d="M42.20,580.30 C42.64,580.30 42.79,580.38 44.87,580.30 C46.94,580.22 48.13,580.13 54.65,579.80 C61.17,579.47 77.76,578.97 83.98,578.30 C90.21,577.63 88.58,576.13 91.98,575.80 C95.39,575.47 100.13,576.05 104.43,576.30 C108.73,576.55 114.21,577.05 117.77,577.30 C121.32,577.55 123.54,577.67 125.77,577.80 C127.99,577.93 129.32,578.10 131.10,578.10 C132.88,578.10 134.21,577.93 136.43,577.80 C138.66,577.67 140.88,577.55 144.44,577.30 C147.99,577.05 153.47,576.55 157.77,576.30 C162.07,576.05 166.81,575.47 170.22,575.80 C173.62,576.13 171.99,577.63 178.22,578.30 C184.44,578.97 201.03,579.47 207.55,579.80 C214.07,580.13 215.26,580.22 217.33,580.30 C219.41,580.38 219.56,580.30 220.00,580.30" fill="none" stroke="#f00000" stroke-width="1.8"/>
<path d="M42.20,575.20 C42.64,575.22 42.79,575.20 44.87,575.30 C46.94,575.40 48.13,575.55 54.65,575.80 C61.17,576.05 77.76,576.13 83.98,576.80 C90.21,577.47 88.58,578.88 91.98,579.80 C95.39,580.72 100.13,581.72 104.43,582.30 C108.73,582.88 114.21,583.13 117.77,583.30 C121.32,583.47 123.54,583.30 125.77,583.30 C127.99,583.30 129.32,583.30 131.10,583.30 C132.88,583.30 134.21,583.30 136.43,583.30 C138.66,583.30 140.88,583.47 144.44,583.30 C147.99,583.13 153.47,582.88 157.77,582.30 C162.07,581.72 166.81,580.72 170.22,579.80 C173.62,578.88 171.99,577.47 178.22,576.80 C184.44,576.13 201.03,576.05 207.55,575.80 C214.07,575.55 215.26,575.40 217.33,575.30 C219.41,575.20 219.56,575.22 220.00,575.20" fill="none" stroke="#f00000" stroke-width="1.8"/>
<path d="M42.20,570.80 C42.64,570.80 42.79,570.80 44.87,570.80 C46.94,570.80 48.13,570.80 54.65,570.80 C61.17,570.80 77.76,570.72 83.98,570.80 C90.21,570.88 88.58,571.38 91.98,571.30 C95.39,571.22 100.13,570.63 104.43,570.30 C108.73,569.97 114.21,569.47 117.77,569.30 C121.32,569.13 123.54,569.30 125.77,569.30 C127.99,569.30 129.32,569.30 131.10,569.30 C132.88,569.30 134.21,569.30 136.43,569.30 C138.66,569.30 140.88,569.13 144.44,569.30 C147.99,569.47 153.47,569.97 157.77,570.30 C162.07,570.63 166.81,571.22 170.22,571.30 C173.62,571.38 171.99,570.88 178.22,570.80 C184.44,570.72 201.03,570.80 207.55,570.80 C214.07,570.80 215.26,570.80 217.33,570.80 C219.41,570.80 219.56,570.80 220.00,570.80" fill="none" stroke="#f00000" stroke-width="1.8"/>
<path d="M42.20,566.40 C42.64,566.40 42.79,566.40 44.87,566.40 C46.94,566.40 48.13,566.40 54.65,566.40 C61.17,566.40 77.76,566.40 83.98,566.40 C90.21,566.40 88.58,566.40 91.98,566.40 C95.39,566.40 100.13,566.40 104.43,566.40 C108.73,566.40 114.21,566.40 117.77,566.40 C121.32,566.40 123.54,566.40 125.77,566.40 C127.99,566.40 129.32,566.40 131.10,566.40 C132.88,566.40 134.21,566.40 136.43,566.40 C138.66,566.40 140.88,566.40 144.44,566.40 C147.99,566.40 153.47,566.40 157.77,566.40 C162.07,566.40 166.81,566.40 170.22,566.40 C173.62,566.40 171.99,566.40 178.22,566.40 C184.44,566.40 201.03,566.40 207.55,566.40 C214.07,566.40 215.26,566.40 217.33,566.40 C219.41,566.40 219.56,566.40 220.00,566.40" fill="none" stroke="#f00000" stroke-width="2.6"/>
<path d="M42.20,565.00 C42.64,565.00 42.79,565.00 44.87,565.00 C46.94,565.00 48.13,565.00 54.65,565.00 C61.17,565.00 77.76,565.00 83.98,565.00 C90.21,565.00 88.58,565.00 91.98,565.00 C95.39,565.00 100.13,565.00 104.43,565.00 C108.73,565.00 114.21,565.00 117.77,565.00 C121.32,565.00 123.54,565.00 125.77,565.00 C127.99,565.00 129.32,565.00 131.10,565.00 C132.88,565.00 134.21,565.00 136.43,565.00 C138.66,565.00 140.88,565.00 144.44,565.00 C147.99,565.00 153.47,565.00 157.77,565.00 C162.07,565.00 166.81,565.00 170.22,565.00 C173.62,565.00 171.99,565.00 178.22,565.00 C184.44,565.00 201.03,565.00 207.55,565.00 C214.07,565.00 215.26,565.00 217.33,565.00 C219.41,565.00 219.56,565.00 220.00,565.00" fill="none" stroke="#f00000" stroke-width="1.6"/>
<path d="M42.20,567.80 C42.64,567.80 42.79,567.80 44.87,567.80 C46.94,567.80 48.13,567.80 54.65,567.80 C61.17,567.80 77.76,567.80 83.98,567.80 C90.21,567.80 88.58,567.80 91.98,567.80 C95.39,567.80 100.13,567.80 104.43,567.80 C108.73,567.80 114.21,567.80 117.77,567.80 C121.32,567.80 123.54,567.80 125.77,567.80 C127.99,567.80 129.32,567.80 131.10,567.80 C132.88,567.80 134.21,567.80 136.43,567.80 C138.66,567.80 140.88,567.80 144.44,567.80 C147.99,567.80 153.47,567.80 157.77,567.80 C162.07,567.80 166.81,567.80 170.22,567.80 C173.62,567.80 171.99,567.80 178.22,567.80 C184.44,567.80 201.03,567.80 207.55,567.80 C214.07,567.80 215.26,567.80 217.33,567.80 C219.41,567.80 219.56,567.80 220.00,567.80" fill="none" stroke="#f00000" stroke-width="1.6"/>
<path d="M77.5,536.5 L78.8,536.5 L80.1,536.5 L81.4,536.5 L82.8,536.5 L84.1,536.5 L85.4,536.5 L86.7,538.1 L88.0,542.0 L89.3,545.9 L90.6,547.5 L91.9,547.5 L93.2,547.5 L94.6,547.5 L95.9,547.5 L97.2,547.5 L98.5,547.5" fill="none" stroke="#f00000" stroke-width="1.7"/>
<path d="M161.2,537.5 L162.6,537.5 L164.1,537.5 L165.5,537.5 L166.9,537.5 L168.4,537.5 L169.8,537.7 L171.3,539.4 L172.7,542.0 L174.1,544.6 L175.6,546.3 L177.0,546.5 L178.4,546.5 L179.9,546.5 L181.3,546.5 L182.8,546.5 L184.2,546.5" fill="none" stroke="#f00000" stroke-width="1.7"/>
<path d="M80.0,552.5 L81.5,552.5 L83.0,552.5 L84.5,552.5 L86.0,552.5 L87.5,552.5 L89.0,553.0 L90.5,555.3 L92.0,558.5 L93.5,561.7 L95.0,564.0 L96.5,564.5 L98.0,564.5 L99.5,564.5 L101.0,564.5 L102.5,564.5 L104.0,564.5" fill="none" stroke="#f00000" stroke-width="1.7"/>
<path d="M162.7,553.0 L164.1,553.0 L165.4,553.0 L166.8,553.0 L168.2,553.0 L169.6,553.0 L170.9,553.0 L172.3,554.4 L173.7,557.0 L175.1,559.6 L176.4,561.0 L177.8,561.0 L179.2,561.0 L180.6,561.0 L181.9,561.0 L183.3,561.0 L184.7,561.0" fill="none" stroke="#f00000" stroke-width="1.7"/>
<path d="M76.0,570.0 L77.3,570.0 L78.6,570.0 L79.9,570.0 L81.2,570.0 L82.6,570.0 L83.9,570.0 L85.2,571.4 L86.5,575.0 L87.8,578.6 L89.1,580.0 L90.4,580.0 L91.8,580.0 L93.1,580.0 L94.4,580.0 L95.7,580.0 L97.0,580.0" fill="none" stroke="#f00000" stroke-width="1.7"/>
<path d="M160.7,572.0 L162.1,572.0 L163.6,572.0 L165.0,572.0 L166.4,572.0 L167.9,572.0 L169.3,572.2 L170.8,574.1 L172.2,577.0 L173.6,579.9 L175.1,581.8 L176.5,582.0 L177.9,582.0 L179.4,582.0 L180.8,582.0 L182.3,582.0 L183.7,582.0" fill="none" stroke="#f00000" stroke-width="1.7"/>
<path d="M79.5,585.5 L80.9,585.5 L82.4,585.5 L83.8,585.5 L85.2,585.5 L86.7,585.5 L88.1,585.7 L89.6,587.7 L91.0,590.8 L92.4,593.8 L93.9,595.8 L95.3,596.0 L96.8,596.0 L98.2,596.0 L99.6,596.0 L101.1,596.0 L102.5,596.0" fill="none" stroke="#f00000" stroke-width="1.7"/>
<path d="M164.2,588.0 L165.5,588.0 L166.8,588.0 L168.1,588.0 L169.4,588.0 L170.8,588.0 L172.1,588.0 L173.4,589.4 L174.7,593.0 L176.0,596.6 L177.3,598.0 L178.6,598.0 L179.9,598.0 L181.3,598.0 L182.6,598.0 L183.9,598.0 L185.2,598.0" fill="none" stroke="#f00000" stroke-width="1.7"/>
<path d="M42.2,557.5 L46.6,557.5 L51.1,557.5 L55.5,557.5 L60.0,557.5 L64.4,557.5 L68.9,557.5 L73.3,557.5 L77.8,557.5 L82.2,557.5 L86.7,557.5 L91.1,557.5 L95.5,557.5 L100.0,557.4 L104.4,557.2 L108.9,556.8 L113.3,556.4 L117.8,555.9 L122.2,555.3 L126.7,554.7 L131.1,554.1 L135.5,553.4 L140.0,552.8 L144.4,552.2 L148.9,551.7 L153.3,551.2 L157.8,550.9 L162.2,550.6 L166.7,550.5 L171.1,550.5 L175.6,550.5 L180.0,550.5 L184.4,550.5 L188.9,550.5 L193.3,550.5 L197.8,550.5 L202.2,550.5 L206.7,550.5 L211.1,550.5 L215.6,550.5 L220.0,550.5" fill="none" stroke="#f00000" stroke-width="1.8"/>
<path d="M42.2,578.5 L46.6,578.5 L51.1,578.5 L55.5,578.5 L60.0,578.5 L64.4,578.5 L68.9,578.5 L73.3,578.5 L77.8,578.5 L82.2,578.5 L86.7,578.5 L91.1,578.5 L95.5,578.5 L100.0,578.4 L104.4,578.2 L108.9,577.8 L113.3,577.4 L117.8,576.9 L122.2,576.3 L126.7,575.7 L131.1,575.1 L135.5,574.4 L140.0,573.8 L144.4,573.2 L148.9,572.7 L153.3,572.2 L157.8,571.9 L162.2,571.6 L166.7,571.5 L171.1,571.5 L175.6,571.5 L180.0,571.5 L184.4,571.5 L188.9,571.5 L193.3,571.5 L197.8,571.5 L202.2,571.5 L206.7,571.5 L211.1,571.5 L215.6,571.5 L220.0,571.5" fill="none" stroke="#f00000" stroke-width="1.8"/>
<path d="M42.2,584.5 L46.6,584.5 L51.1,584.5 L55.5,584.5 L60.0,584.5 L64.4,584.5 L68.9,584.5 L73.3,584.5 L77.8,584.5 L82.2,584.5 L86.7,584.5 L91.1,584.5 L95.5,584.5 L100.0,584.6 L104.4,584.7 L108.9,584.9 L113.3,585.2 L117.8,585.5 L122.2,585.9 L126.7,586.3 L131.1,586.7 L135.5,587.1 L140.0,587.5 L144.4,587.9 L148.9,588.2 L153.3,588.5 L157.8,588.8 L162.2,588.9 L166.7,589.0 L171.1,589.0 L175.6,589.0 L180.0,589.0 L184.4,589.0 L188.9,589.0 L193.3,589.0 L197.8,589.0 L202.2,589.0 L206.7,589.0 L211.1,589.0 L215.6,589.0 L220.0,589.0" fill="none" stroke="#f00000" stroke-width="1.6"/>
<path d="M42.2,472.60 L220.0,472.60" fill="none" stroke="#f00000" stroke-width="2.2"/>
<path d="M42.2,474.30 L220.0,474.30" fill="none" stroke="#f00000" stroke-width="1.8"/>
<path d="M42.2,660.20 L220.0,660.20" fill="none" stroke="#f00000" stroke-width="2.2"/>
<path d="M42.2,658.30 L220.0,658.30" fill="none" stroke="#f00000" stroke-width="1.8"/>
<line x1="42.20" y1="471.60" x2="42.20" y2="661.30" stroke="#111" stroke-width="1.2" />
<line x1="220.00" y1="471.60" x2="220.00" y2="661.30" stroke="#333" stroke-width="1.0" />
<line x1="41.60" y1="661.30" x2="220.50" y2="661.30" stroke="#111" stroke-width="1.4" />
<line x1="41.60" y1="471.60" x2="220.50" y2="471.60" stroke="#111" stroke-width="1.2" />
<line x1="42.20" y1="509.50" x2="45.20" y2="509.50" stroke="#111" stroke-width="1" />
<line x1="220.00" y1="509.50" x2="217.00" y2="509.50" stroke="#111" stroke-width="1" />
<line x1="42.20" y1="623.00" x2="45.20" y2="623.00" stroke="#111" stroke-width="1" />
<line x1="220.00" y1="623.00" x2="217.00" y2="623.00" stroke="#111" stroke-width="1" />
<text x="39.6" y="478.0" font-size="16" text-anchor="end" fill="#222" font-weight="normal" >2<tspan font-style="italic">π</tspan></text>
<text x="37.8" y="570.6" font-size="16" text-anchor="end" fill="#222" font-weight="normal" ><tspan font-style="italic">π</tspan></text>
<text x="39.4" y="665.8" font-size="16.5" text-anchor="end" fill="#222" font-weight="normal" >0</text>
<text x="0.0" y="0.0" font-size="16" text-anchor="middle" fill="#222" font-weight="normal" transform="translate(17.8,566.2) rotate(-90)"><tspan font-style="italic">θ</tspan></text>
<rect x="103.5" y="488.8" width="59" height="36.5" fill="#fff"/>
<text x="133.0" y="502.0" font-size="14.3" text-anchor="middle" fill="#222" font-weight="normal" >U=6.5 eV</text>
<text x="108.2" y="519.8" font-size="14.5" text-anchor="start" fill="#222" font-weight="normal" >C</text>
<text x="119.6" y="512.2" font-size="9.5" text-anchor="start" fill="#222" font-weight="normal" >xy</text>
<line x1="124.40" y1="505.60" x2="128.40" y2="505.60" stroke="#222" stroke-width="0.8" />
<text x="119.6" y="521.8" font-size="9.5" text-anchor="start" fill="#222" font-weight="normal" >m</text>
<text x="133.2" y="519.8" font-size="14.5" text-anchor="start" fill="#222" font-weight="normal" >=–2</text>
<text x="44.8" y="679.8" font-size="16" text-anchor="middle" fill="#222" font-weight="normal" >Γ</text>
<line x1="40.58" y1="665.30" x2="49.02" y2="665.30" stroke="#222" stroke-width="1.1" />
<text x="130.9" y="679.8" font-size="16" text-anchor="middle" fill="#222" font-weight="normal" >M</text>
<line x1="124.45" y1="665.30" x2="137.35" y2="665.30" stroke="#222" stroke-width="1.1" />
<text x="189.2" y="679.8" font-size="16" text-anchor="start" fill="#222" font-weight="normal" >Γ′=2M</text>
<line x1="190.00" y1="665.30" x2="197.40" y2="665.30" stroke="#222" stroke-width="1" />
<line x1="221.20" y1="665.30" x2="234.00" y2="665.30" stroke="#222" stroke-width="1" />
<line x1="130.65" y1="721.90" x2="130.65" y2="911.80" stroke="#c8c8c8" stroke-width="1" />
<path d="M41.80,729.50 C41.97,730.58 42.43,734.17 42.80,736.00 C43.17,737.83 43.38,740.33 44.00,740.50 C44.62,740.67 45.50,738.33 46.50,737.00 C47.50,735.67 48.38,733.75 50.00,732.50 C51.62,731.25 53.70,730.33 56.20,729.50 C58.70,728.67 60.95,728.05 65.00,727.50 C69.05,726.95 74.67,726.45 80.50,726.20 C86.33,725.95 91.65,726.03 100.00,726.00 C108.35,725.97 125.50,726.00 130.60,726.00" fill="none" stroke="#0000f0" stroke-width="1.8"/>
<path d="M219.50,904.20 C219.33,903.12 218.87,899.53 218.50,897.70 C218.13,895.87 217.92,893.37 217.30,893.20 C216.68,893.03 215.80,895.37 214.80,896.70 C213.80,898.03 212.92,899.95 211.30,901.20 C209.68,902.45 207.60,903.37 205.10,904.20 C202.60,905.03 200.35,905.65 196.30,906.20 C192.25,906.75 186.63,907.25 180.80,907.50 C174.97,907.75 169.65,907.67 161.30,907.70 C152.95,907.73 135.80,907.70 130.70,907.70" fill="none" stroke="#0000f0" stroke-width="1.8"/>
<path d="M41.80,876.20 C41.95,876.87 42.17,879.03 42.70,880.20 C43.23,881.37 44.10,882.42 45.00,883.20 C45.90,883.98 46.43,883.82 48.10,884.90 C49.77,885.98 52.18,887.90 55.00,889.70 C57.82,891.50 62.17,893.95 65.00,895.70 C67.83,897.45 70.00,898.95 72.00,900.20 C74.00,901.45 75.75,902.58 77.00,903.20 C78.25,903.82 78.80,903.98 79.50,903.90 C80.20,903.82 80.73,903.90 81.20,902.70 C81.67,901.50 82.02,899.87 82.30,896.70 C82.58,893.53 82.73,888.37 82.90,883.70 C83.07,879.03 83.18,873.37 83.30,868.70 C83.42,864.03 83.40,858.53 83.60,855.70 C83.80,852.87 83.77,852.53 84.50,851.70 C85.23,850.87 85.42,850.95 88.00,850.70 C90.58,850.45 92.90,850.37 100.00,850.20 C107.10,850.03 125.50,849.78 130.60,849.70" fill="none" stroke="#0000f0" stroke-width="1.8"/>
<path d="M219.50,757.50 C219.35,756.83 219.13,754.67 218.60,753.50 C218.07,752.33 217.20,751.28 216.30,750.50 C215.40,749.72 214.87,749.88 213.20,748.80 C211.53,747.72 209.12,745.80 206.30,744.00 C203.48,742.20 199.13,739.75 196.30,738.00 C193.47,736.25 191.30,734.75 189.30,733.50 C187.30,732.25 185.55,731.12 184.30,730.50 C183.05,729.88 182.50,729.72 181.80,729.80 C181.10,729.88 180.57,729.80 180.10,731.00 C179.63,732.20 179.28,733.83 179.00,737.00 C178.72,740.17 178.57,745.33 178.40,750.00 C178.23,754.67 178.12,760.33 178.00,765.00 C177.88,769.67 177.90,775.17 177.70,778.00 C177.50,780.83 177.53,781.17 176.80,782.00 C176.07,782.83 175.88,782.75 173.30,783.00 C170.72,783.25 168.40,783.33 161.30,783.50 C154.20,783.67 135.80,783.92 130.70,784.00" fill="none" stroke="#0000f0" stroke-width="1.8"/>
<path d="M86.60,781.00 C86.67,780.00 86.88,778.50 87.00,775.00 C87.12,771.50 87.20,765.83 87.30,760.00 C87.40,754.17 87.43,744.83 87.60,740.00 C87.77,735.17 87.90,733.12 88.30,731.00 C88.70,728.88 89.22,728.08 90.00,727.30 C90.78,726.52 91.33,726.48 93.00,726.30 C94.67,726.12 93.73,726.18 100.00,726.20 C106.27,726.22 125.50,726.37 130.60,726.40" fill="none" stroke="#0000f0" stroke-width="1.8"/>
<path d="M174.70,852.70 C174.63,853.70 174.42,855.20 174.30,858.70 C174.18,862.20 174.10,867.87 174.00,873.70 C173.90,879.53 173.87,888.87 173.70,893.70 C173.53,898.53 173.40,900.58 173.00,902.70 C172.60,904.82 172.08,905.62 171.30,906.40 C170.52,907.18 169.97,907.22 168.30,907.40 C166.63,907.58 167.57,907.52 161.30,907.50 C155.03,907.48 135.80,907.33 130.70,907.30" fill="none" stroke="#0000f0" stroke-width="1.8"/>
<path d="M41.70,771.00 C42.14,772.00 42.29,775.55 44.37,777.00 C46.44,778.45 47.63,779.20 54.15,779.70 C60.68,780.20 77.28,779.78 83.51,780.00 C89.73,780.22 88.10,780.67 91.51,781.00 C94.92,781.33 99.67,781.83 103.97,782.00 C108.26,782.17 113.75,782.00 117.31,782.00 C120.87,782.00 123.09,782.00 125.31,782.00 C127.54,782.00 128.87,782.00 130.65,782.00 C132.43,782.00 133.76,782.00 135.99,782.00 C138.21,782.00 140.43,782.00 143.99,782.00 C147.55,782.00 153.04,782.17 157.34,782.00 C161.63,781.83 166.38,781.33 169.79,781.00 C173.20,780.67 171.57,780.22 177.79,780.00 C184.02,779.78 200.62,780.20 207.15,779.70 C213.67,779.20 214.86,778.45 216.93,777.00 C219.01,775.55 219.16,772.00 219.60,771.00" fill="none" stroke="#0000f0" stroke-width="2.1"/>
<path d="M41.70,788.00 C42.14,788.00 42.29,788.00 44.37,788.00 C46.44,788.00 47.63,788.00 54.15,788.00 C60.68,788.00 77.28,787.83 83.51,788.00 C89.73,788.17 88.10,788.42 91.51,789.00 C94.92,789.58 99.67,790.92 103.97,791.50 C108.26,792.08 113.75,792.42 117.31,792.50 C120.87,792.58 123.09,792.25 125.31,792.00 C127.54,791.75 128.87,791.00 130.65,791.00 C132.43,791.00 133.76,791.75 135.99,792.00 C138.21,792.25 140.43,792.58 143.99,792.50 C147.55,792.42 153.04,792.08 157.34,791.50 C161.63,790.92 166.38,789.58 169.79,789.00 C173.20,788.42 171.57,788.17 177.79,788.00 C184.02,787.83 200.62,788.00 207.15,788.00 C213.67,788.00 214.86,788.00 216.93,788.00 C219.01,788.00 219.16,788.00 219.60,788.00" fill="none" stroke="#0000f0" stroke-width="2.1"/>
<path d="M41.70,801.00 C42.14,801.00 42.29,800.92 44.37,801.00 C46.44,801.08 47.63,801.33 54.15,801.50 C60.68,801.67 77.28,801.75 83.51,802.00 C89.73,802.25 88.10,802.58 91.51,803.00 C94.92,803.42 99.67,804.00 103.97,804.50 C108.26,805.00 113.75,805.67 117.31,806.00 C120.87,806.33 123.09,806.37 125.31,806.50 C127.54,806.63 128.87,806.80 130.65,806.80 C132.43,806.80 133.76,806.63 135.99,806.50 C138.21,806.37 140.43,806.33 143.99,806.00 C147.55,805.67 153.04,805.00 157.34,804.50 C161.63,804.00 166.38,803.42 169.79,803.00 C173.20,802.58 171.57,802.25 177.79,802.00 C184.02,801.75 200.62,801.67 207.15,801.50 C213.67,801.33 214.86,801.08 216.93,801.00 C219.01,800.92 219.16,801.00 219.60,801.00" fill="none" stroke="#0000f0" stroke-width="2.1"/>
<path d="M41.70,806.00 C42.14,806.00 42.29,806.00 44.37,806.00 C46.44,806.00 47.63,806.00 54.15,806.00 C60.68,806.00 77.28,806.17 83.51,806.00 C89.73,805.83 88.10,805.50 91.51,805.00 C94.92,804.50 99.67,803.58 103.97,803.00 C108.26,802.42 113.75,801.83 117.31,801.50 C120.87,801.17 123.09,801.12 125.31,801.00 C127.54,800.88 128.87,800.80 130.65,800.80 C132.43,800.80 133.76,800.88 135.99,801.00 C138.21,801.12 140.43,801.17 143.99,801.50 C147.55,801.83 153.04,802.42 157.34,803.00 C161.63,803.58 166.38,804.50 169.79,805.00 C173.20,805.50 171.57,805.83 177.79,806.00 C184.02,806.17 200.62,806.00 207.15,806.00 C213.67,806.00 214.86,806.00 216.93,806.00 C219.01,806.00 219.16,806.00 219.60,806.00" fill="none" stroke="#0000f0" stroke-width="1.8"/>
<path d="M41.70,812.00 C42.14,812.00 42.29,812.00 44.37,812.00 C46.44,812.00 47.63,812.00 54.15,812.00 C60.68,812.00 77.28,812.17 83.51,812.00 C89.73,811.83 88.10,811.33 91.51,811.00 C94.92,810.67 99.67,810.25 103.97,810.00 C108.26,809.75 113.75,809.58 117.31,809.50 C120.87,809.42 123.09,809.50 125.31,809.50 C127.54,809.50 128.87,809.50 130.65,809.50 C132.43,809.50 133.76,809.50 135.99,809.50 C138.21,809.50 140.43,809.42 143.99,809.50 C147.55,809.58 153.04,809.75 157.34,810.00 C161.63,810.25 166.38,810.67 169.79,811.00 C173.20,811.33 171.57,811.83 177.79,812.00 C184.02,812.17 200.62,812.00 207.15,812.00 C213.67,812.00 214.86,812.00 216.93,812.00 C219.01,812.00 219.16,812.00 219.60,812.00" fill="none" stroke="#0000f0" stroke-width="1.8"/>
<path d="M41.70,861.70 C42.14,860.70 42.29,857.15 44.37,855.70 C46.44,854.25 47.63,853.50 54.15,853.00 C60.68,852.50 77.28,852.92 83.51,852.70 C89.73,852.48 88.10,852.03 91.51,851.70 C94.92,851.37 99.67,850.87 103.97,850.70 C108.26,850.53 113.75,850.70 117.31,850.70 C120.87,850.70 123.09,850.70 125.31,850.70 C127.54,850.70 128.87,850.70 130.65,850.70 C132.43,850.70 133.76,850.70 135.99,850.70 C138.21,850.70 140.43,850.70 143.99,850.70 C147.55,850.70 153.04,850.53 157.34,850.70 C161.63,850.87 166.38,851.37 169.79,851.70 C173.20,852.03 171.57,852.48 177.79,852.70 C184.02,852.92 200.62,852.50 207.15,853.00 C213.67,853.50 214.86,854.25 216.93,855.70 C219.01,857.15 219.16,860.70 219.60,861.70" fill="none" stroke="#0000f0" stroke-width="2.1"/>
<path d="M41.70,844.70 C42.14,844.70 42.29,844.70 44.37,844.70 C46.44,844.70 47.63,844.70 54.15,844.70 C60.68,844.70 77.28,844.87 83.51,844.70 C89.73,844.53 88.10,844.28 91.51,843.70 C94.92,843.12 99.67,841.78 103.97,841.20 C108.26,840.62 113.75,840.28 117.31,840.20 C120.87,840.12 123.09,840.45 125.31,840.70 C127.54,840.95 128.87,841.70 130.65,841.70 C132.43,841.70 133.76,840.95 135.99,840.70 C138.21,840.45 140.43,840.12 143.99,840.20 C147.55,840.28 153.04,840.62 157.34,841.20 C161.63,841.78 166.38,843.12 169.79,843.70 C173.20,844.28 171.57,844.53 177.79,844.70 C184.02,844.87 200.62,844.70 207.15,844.70 C213.67,844.70 214.86,844.70 216.93,844.70 C219.01,844.70 219.16,844.70 219.60,844.70" fill="none" stroke="#0000f0" stroke-width="2.1"/>
<path d="M41.70,831.70 C42.14,831.70 42.29,831.78 44.37,831.70 C46.44,831.62 47.63,831.37 54.15,831.20 C60.68,831.03 77.28,830.95 83.51,830.70 C89.73,830.45 88.10,830.12 91.51,829.70 C94.92,829.28 99.67,828.70 103.97,828.20 C108.26,827.70 113.75,827.03 117.31,826.70 C120.87,826.37 123.09,826.33 125.31,826.20 C127.54,826.07 128.87,825.90 130.65,825.90 C132.43,825.90 133.76,826.07 135.99,826.20 C138.21,826.33 140.43,826.37 143.99,826.70 C147.55,827.03 153.04,827.70 157.34,828.20 C161.63,828.70 166.38,829.28 169.79,829.70 C173.20,830.12 171.57,830.45 177.79,830.70 C184.02,830.95 200.62,831.03 207.15,831.20 C213.67,831.37 214.86,831.62 216.93,831.70 C219.01,831.78 219.16,831.70 219.60,831.70" fill="none" stroke="#0000f0" stroke-width="2.1"/>
<path d="M41.70,826.70 C42.14,826.70 42.29,826.70 44.37,826.70 C46.44,826.70 47.63,826.70 54.15,826.70 C60.68,826.70 77.28,826.53 83.51,826.70 C89.73,826.87 88.10,827.20 91.51,827.70 C94.92,828.20 99.67,829.12 103.97,829.70 C108.26,830.28 113.75,830.87 117.31,831.20 C120.87,831.53 123.09,831.58 125.31,831.70 C127.54,831.82 128.87,831.90 130.65,831.90 C132.43,831.90 133.76,831.82 135.99,831.70 C138.21,831.58 140.43,831.53 143.99,831.20 C147.55,830.87 153.04,830.28 157.34,829.70 C161.63,829.12 166.38,828.20 169.79,827.70 C173.20,827.20 171.57,826.87 177.79,826.70 C184.02,826.53 200.62,826.70 207.15,826.70 C213.67,826.70 214.86,826.70 216.93,826.70 C219.01,826.70 219.16,826.70 219.60,826.70" fill="none" stroke="#0000f0" stroke-width="1.8"/>
<path d="M41.70,820.70 C42.14,820.70 42.29,820.70 44.37,820.70 C46.44,820.70 47.63,820.70 54.15,820.70 C60.68,820.70 77.28,820.53 83.51,820.70 C89.73,820.87 88.10,821.37 91.51,821.70 C94.92,822.03 99.67,822.45 103.97,822.70 C108.26,822.95 113.75,823.12 117.31,823.20 C120.87,823.28 123.09,823.20 125.31,823.20 C127.54,823.20 128.87,823.20 130.65,823.20 C132.43,823.20 133.76,823.20 135.99,823.20 C138.21,823.20 140.43,823.28 143.99,823.20 C147.55,823.12 153.04,822.95 157.34,822.70 C161.63,822.45 166.38,822.03 169.79,821.70 C173.20,821.37 171.57,820.87 177.79,820.70 C184.02,820.53 200.62,820.70 207.15,820.70 C213.67,820.70 214.86,820.70 216.93,820.70 C219.01,820.70 219.16,820.70 219.60,820.70" fill="none" stroke="#0000f0" stroke-width="1.8"/>
<path d="M168.1,799.0 L169.2,799.0 L170.4,799.0 L171.5,799.0 L172.7,799.0 L173.8,799.0 L175.0,799.0 L176.2,799.0 L177.3,791.5 L178.4,784.0 L179.6,784.0 L180.8,784.0 L181.9,784.0 L183.0,784.0 L184.2,784.0 L185.3,784.0 L186.5,784.0" fill="none" stroke="#0000f0" stroke-width="1.7"/>
<path d="M77.8,801.0 L79.0,801.0 L80.1,801.0 L81.2,801.0 L82.4,801.0 L83.5,801.0 L84.7,801.0 L85.8,801.0 L87.0,793.5 L88.1,786.0 L89.3,786.0 L90.4,786.0 L91.6,786.0 L92.8,786.0 L93.9,786.0 L95.0,786.0 L96.2,786.0" fill="none" stroke="#0000f0" stroke-width="1.7"/>
<path d="M168.1,815.0 L169.2,815.0 L170.4,815.0 L171.5,815.0 L172.7,815.0 L173.8,815.0 L175.0,815.0 L176.2,815.0 L177.3,807.0 L178.4,799.0 L179.6,799.0 L180.8,799.0 L181.9,799.0 L183.0,799.0 L184.2,799.0 L185.3,799.0 L186.5,799.0" fill="none" stroke="#0000f0" stroke-width="1.7"/>
<path d="M77.8,816.0 L79.0,816.0 L80.1,816.0 L81.2,816.0 L82.4,816.0 L83.5,816.0 L84.7,816.0 L85.8,816.0 L87.0,808.5 L88.1,801.0 L89.3,801.0 L90.4,801.0 L91.6,801.0 L92.8,801.0 L93.9,801.0 L95.0,801.0 L96.2,801.0" fill="none" stroke="#0000f0" stroke-width="1.7"/>
<path d="M168.1,833.0 L169.2,833.0 L170.4,833.0 L171.5,833.0 L172.7,833.0 L173.8,833.0 L175.0,833.0 L176.2,833.0 L177.3,825.0 L178.4,817.0 L179.6,817.0 L180.8,817.0 L181.9,817.0 L183.0,817.0 L184.2,817.0 L185.3,817.0 L186.5,817.0" fill="none" stroke="#0000f0" stroke-width="1.7"/>
<path d="M77.8,833.0 L79.0,833.0 L80.1,833.0 L81.2,833.0 L82.4,833.0 L83.5,833.0 L84.7,833.0 L85.8,833.0 L87.0,824.5 L88.1,816.0 L89.3,816.0 L90.4,816.0 L91.6,816.0 L92.8,816.0 L93.9,816.0 L95.0,816.0 L96.2,816.0" fill="none" stroke="#0000f0" stroke-width="1.7"/>
<path d="M168.1,850.0 L169.2,850.0 L170.4,850.0 L171.5,850.0 L172.7,850.0 L173.8,850.0 L175.0,850.0 L176.2,850.0 L177.3,841.5 L178.4,833.0 L179.6,833.0 L180.8,833.0 L181.9,833.0 L183.0,833.0 L184.2,833.0 L185.3,833.0 L186.5,833.0" fill="none" stroke="#0000f0" stroke-width="1.7"/>
<path d="M77.8,851.0 L79.0,851.0 L80.1,851.0 L81.2,851.0 L82.4,851.0 L83.5,851.0 L84.7,851.0 L85.8,851.0 L87.0,842.0 L88.1,833.0 L89.3,833.0 L90.4,833.0 L91.6,833.0 L92.8,833.0 L93.9,833.0 L95.0,833.0 L96.2,833.0" fill="none" stroke="#0000f0" stroke-width="1.7"/>
<path d="M41.7,803.5 L46.1,803.5 L50.6,803.5 L55.0,803.5 L59.5,803.5 L63.9,803.5 L68.4,803.5 L72.8,803.5 L77.3,803.5 L81.7,803.5 L86.2,803.5 L90.6,803.5 L95.1,803.7 L99.5,804.3 L104.0,805.1 L108.4,806.1 L112.9,807.4 L117.3,808.8 L121.8,810.3 L126.2,812.0 L130.6,813.6 L135.1,815.3 L139.5,816.9 L144.0,818.5 L148.4,819.9 L152.9,821.2 L157.3,822.3 L161.8,823.1 L166.2,823.7 L170.7,824.0 L175.1,824.0 L179.6,824.0 L184.0,824.0 L188.5,824.0 L192.9,824.0 L197.4,824.0 L201.8,824.0 L206.3,824.0 L210.7,824.0 L215.2,824.0 L219.6,824.0" fill="none" stroke="#0000f0" stroke-width="1.9"/>
<path d="M41.7,797.0 L46.1,797.0 L50.6,797.0 L55.0,797.0 L59.5,797.0 L63.9,797.0 L68.4,797.0 L72.8,797.0 L77.3,797.0 L81.7,797.0 L86.2,797.0 L90.6,797.0 L95.1,797.1 L99.5,797.5 L104.0,798.0 L108.4,798.7 L112.9,799.5 L117.3,800.4 L121.8,801.3 L126.2,802.4 L130.6,803.4 L135.1,804.5 L139.5,805.5 L144.0,806.5 L148.4,807.4 L152.9,808.2 L157.3,808.9 L161.8,809.4 L166.2,809.8 L170.7,810.0 L175.1,810.0 L179.6,810.0 L184.0,810.0 L188.5,810.0 L192.9,810.0 L197.4,810.0 L201.8,810.0 L206.3,810.0 L210.7,810.0 L215.2,810.0 L219.6,810.0" fill="none" stroke="#0000f0" stroke-width="1.7"/>
<path d="M41.7,830.0 L46.1,830.0 L50.6,830.0 L55.0,830.0 L59.5,830.0 L63.9,830.0 L68.4,830.0 L72.8,830.0 L77.3,830.0 L81.7,830.0 L86.2,830.0 L90.6,830.0 L95.1,830.1 L99.5,830.4 L104.0,830.8 L108.4,831.3 L112.9,831.9 L117.3,832.6 L121.8,833.3 L126.2,834.1 L130.6,834.9 L135.1,835.7 L139.5,836.5 L144.0,837.3 L148.4,838.0 L152.9,838.6 L157.3,839.2 L161.8,839.6 L166.2,839.9 L170.7,840.0 L175.1,840.0 L179.6,840.0 L184.0,840.0 L188.5,840.0 L192.9,840.0 L197.4,840.0 L201.8,840.0 L206.3,840.0 L210.7,840.0 L215.2,840.0 L219.6,840.0" fill="none" stroke="#0000f0" stroke-width="1.7"/>
<path d="M41.80,904.20 C41.97,903.12 42.43,899.53 42.80,897.70 C43.17,895.87 43.38,893.37 44.00,893.20 C44.62,893.03 45.50,895.37 46.50,896.70 C47.50,898.03 48.38,899.95 50.00,901.20 C51.62,902.45 53.70,903.37 56.20,904.20 C58.70,905.03 60.95,905.65 65.00,906.20 C69.05,906.75 74.67,907.25 80.50,907.50 C86.33,907.75 91.65,907.67 100.00,907.70 C108.35,907.73 125.50,907.70 130.60,907.70" fill="none" stroke="#f00000" stroke-width="1.8"/>
<path d="M219.50,729.50 C219.33,730.58 218.87,734.17 218.50,736.00 C218.13,737.83 217.92,740.33 217.30,740.50 C216.68,740.67 215.80,738.33 214.80,737.00 C213.80,735.67 212.92,733.75 211.30,732.50 C209.68,731.25 207.60,730.33 205.10,729.50 C202.60,728.67 200.35,728.05 196.30,727.50 C192.25,726.95 186.63,726.45 180.80,726.20 C174.97,725.95 169.65,726.03 161.30,726.00 C152.95,725.97 135.80,726.00 130.70,726.00" fill="none" stroke="#f00000" stroke-width="1.8"/>
<path d="M41.80,757.50 C41.95,756.83 42.17,754.67 42.70,753.50 C43.23,752.33 44.10,751.28 45.00,750.50 C45.90,749.72 46.43,749.88 48.10,748.80 C49.77,747.72 52.18,745.80 55.00,744.00 C57.82,742.20 62.17,739.75 65.00,738.00 C67.83,736.25 70.00,734.75 72.00,733.50 C74.00,732.25 75.75,731.12 77.00,730.50 C78.25,729.88 78.80,729.72 79.50,729.80 C80.20,729.88 80.73,729.80 81.20,731.00 C81.67,732.20 82.02,733.83 82.30,737.00 C82.58,740.17 82.73,745.33 82.90,750.00 C83.07,754.67 83.18,760.33 83.30,765.00 C83.42,769.67 83.40,775.17 83.60,778.00 C83.80,780.83 83.77,781.17 84.50,782.00 C85.23,782.83 85.42,782.75 88.00,783.00 C90.58,783.25 92.90,783.33 100.00,783.50 C107.10,783.67 125.50,783.92 130.60,784.00" fill="none" stroke="#f00000" stroke-width="1.8"/>
<path d="M219.50,876.20 C219.35,876.87 219.13,879.03 218.60,880.20 C218.07,881.37 217.20,882.42 216.30,883.20 C215.40,883.98 214.87,883.82 213.20,884.90 C211.53,885.98 209.12,887.90 206.30,889.70 C203.48,891.50 199.13,893.95 196.30,895.70 C193.47,897.45 191.30,898.95 189.30,900.20 C187.30,901.45 185.55,902.58 184.30,903.20 C183.05,903.82 182.50,903.98 181.80,903.90 C181.10,903.82 180.57,903.90 180.10,902.70 C179.63,901.50 179.28,899.87 179.00,896.70 C178.72,893.53 178.57,888.37 178.40,883.70 C178.23,879.03 178.12,873.37 178.00,868.70 C177.88,864.03 177.90,858.53 177.70,855.70 C177.50,852.87 177.53,852.53 176.80,851.70 C176.07,850.87 175.88,850.95 173.30,850.70 C170.72,850.45 168.40,850.37 161.30,850.20 C154.20,850.03 135.80,849.78 130.70,849.70" fill="none" stroke="#f00000" stroke-width="1.8"/>
<path d="M86.60,852.70 C86.67,853.70 86.88,855.20 87.00,858.70 C87.12,862.20 87.20,867.87 87.30,873.70 C87.40,879.53 87.43,888.87 87.60,893.70 C87.77,898.53 87.90,900.58 88.30,902.70 C88.70,904.82 89.22,905.62 90.00,906.40 C90.78,907.18 91.33,907.22 93.00,907.40 C94.67,907.58 93.73,907.52 100.00,907.50 C106.27,907.48 125.50,907.33 130.60,907.30" fill="none" stroke="#f00000" stroke-width="1.8"/>
<path d="M174.70,781.00 C174.63,780.00 174.42,778.50 174.30,775.00 C174.18,771.50 174.10,765.83 174.00,760.00 C173.90,754.17 173.87,744.83 173.70,740.00 C173.53,735.17 173.40,733.12 173.00,731.00 C172.60,728.88 172.08,728.08 171.30,727.30 C170.52,726.52 169.97,726.48 168.30,726.30 C166.63,726.12 167.57,726.18 161.30,726.20 C155.03,726.22 135.80,726.37 130.70,726.40" fill="none" stroke="#f00000" stroke-width="1.8"/>
<path d="M41.70,783.50 C42.14,783.50 42.29,783.50 44.37,783.50 C46.44,783.50 47.63,783.50 54.15,783.50 C60.68,783.50 77.28,783.50 83.51,783.50 C89.73,783.50 88.10,783.50 91.51,783.50 C94.92,783.50 99.67,783.50 103.97,783.50 C108.26,783.50 113.75,783.50 117.31,783.50 C120.87,783.50 123.09,783.50 125.31,783.50 C127.54,783.50 128.87,783.50 130.65,783.50 C132.43,783.50 133.76,783.50 135.99,783.50 C138.21,783.50 140.43,783.50 143.99,783.50 C147.55,783.50 153.04,783.50 157.34,783.50 C161.63,783.50 166.38,783.50 169.79,783.50 C173.20,783.50 171.57,783.50 177.79,783.50 C184.02,783.50 200.62,783.50 207.15,783.50 C213.67,783.50 214.86,783.50 216.93,783.50 C219.01,783.50 219.16,783.50 219.60,783.50" fill="none" stroke="#f00000" stroke-width="2.4"/>
<path d="M41.70,786.00 C42.14,786.00 42.29,786.00 44.37,786.00 C46.44,786.00 47.63,786.00 54.15,786.00 C60.68,786.00 77.28,785.92 83.51,786.00 C89.73,786.08 88.10,786.08 91.51,786.50 C94.92,786.92 99.67,788.00 103.97,788.50 C108.26,789.00 113.75,789.42 117.31,789.50 C120.87,789.58 123.09,789.25 125.31,789.00 C127.54,788.75 128.87,788.00 130.65,788.00 C132.43,788.00 133.76,788.75 135.99,789.00 C138.21,789.25 140.43,789.58 143.99,789.50 C147.55,789.42 153.04,789.00 157.34,788.50 C161.63,788.00 166.38,786.92 169.79,786.50 C173.20,786.08 171.57,786.08 177.79,786.00 C184.02,785.92 200.62,786.00 207.15,786.00 C213.67,786.00 214.86,786.00 216.93,786.00 C219.01,786.00 219.16,786.00 219.60,786.00" fill="none" stroke="#f00000" stroke-width="2.1"/>
<path d="M41.70,790.80 C42.14,790.75 42.29,790.60 44.37,790.50 C46.44,790.40 47.63,790.32 54.15,790.20 C60.68,790.08 77.28,790.00 83.51,789.80 C89.73,789.60 88.10,789.38 91.51,789.00 C94.92,788.62 99.67,787.92 103.97,787.50 C108.26,787.08 113.75,786.67 117.31,786.50 C120.87,786.33 123.09,786.50 125.31,786.50 C127.54,786.50 128.87,786.50 130.65,786.50 C132.43,786.50 133.76,786.50 135.99,786.50 C138.21,786.50 140.43,786.33 143.99,786.50 C147.55,786.67 153.04,787.08 157.34,787.50 C161.63,787.92 166.38,788.62 169.79,789.00 C173.20,789.38 171.57,789.60 177.79,789.80 C184.02,790.00 200.62,790.08 207.15,790.20 C213.67,790.32 214.86,790.40 216.93,790.50 C219.01,790.60 219.16,790.75 219.60,790.80" fill="none" stroke="#f00000" stroke-width="2.1"/>
<path d="M41.70,798.50 C42.14,798.50 42.29,798.50 44.37,798.50 C46.44,798.50 47.63,798.50 54.15,798.50 C60.68,798.50 77.28,798.50 83.51,798.50 C89.73,798.50 88.10,798.50 91.51,798.50 C94.92,798.50 99.67,798.50 103.97,798.50 C108.26,798.50 113.75,798.50 117.31,798.50 C120.87,798.50 123.09,798.50 125.31,798.50 C127.54,798.50 128.87,798.50 130.65,798.50 C132.43,798.50 133.76,798.50 135.99,798.50 C138.21,798.50 140.43,798.50 143.99,798.50 C147.55,798.50 153.04,798.50 157.34,798.50 C161.63,798.50 166.38,798.50 169.79,798.50 C173.20,798.50 171.57,798.50 177.79,798.50 C184.02,798.50 200.62,798.50 207.15,798.50 C213.67,798.50 214.86,798.50 216.93,798.50 C219.01,798.50 219.16,798.50 219.60,798.50" fill="none" stroke="#f00000" stroke-width="2.2"/>
<path d="M41.70,803.50 C42.14,803.50 42.29,803.42 44.37,803.50 C46.44,803.58 47.63,803.75 54.15,804.00 C60.68,804.25 77.28,804.58 83.51,805.00 C89.73,805.42 88.10,806.42 91.51,806.50 C94.92,806.58 99.67,805.83 103.97,805.50 C108.26,805.17 113.75,804.75 117.31,804.50 C120.87,804.25 123.09,804.12 125.31,804.00 C127.54,803.88 128.87,803.80 130.65,803.80 C132.43,803.80 133.76,803.88 135.99,804.00 C138.21,804.12 140.43,804.25 143.99,804.50 C147.55,804.75 153.04,805.17 157.34,805.50 C161.63,805.83 166.38,806.58 169.79,806.50 C173.20,806.42 171.57,805.42 177.79,805.00 C184.02,804.58 200.62,804.25 207.15,804.00 C213.67,803.75 214.86,803.58 216.93,803.50 C219.01,803.42 219.16,803.50 219.60,803.50" fill="none" stroke="#f00000" stroke-width="2.1"/>
<path d="M41.70,810.50 C42.14,810.50 42.29,810.50 44.37,810.50 C46.44,810.50 47.63,810.45 54.15,810.50 C60.68,810.55 77.28,810.63 83.51,810.80 C89.73,810.97 88.10,811.22 91.51,811.50 C94.92,811.78 99.67,812.25 103.97,812.50 C108.26,812.75 113.75,812.92 117.31,813.00 C120.87,813.08 123.09,813.00 125.31,813.00 C127.54,813.00 128.87,813.00 130.65,813.00 C132.43,813.00 133.76,813.00 135.99,813.00 C138.21,813.00 140.43,813.08 143.99,813.00 C147.55,812.92 153.04,812.75 157.34,812.50 C161.63,812.25 166.38,811.78 169.79,811.50 C173.20,811.22 171.57,810.97 177.79,810.80 C184.02,810.63 200.62,810.55 207.15,810.50 C213.67,810.45 214.86,810.50 216.93,810.50 C219.01,810.50 219.16,810.50 219.60,810.50" fill="none" stroke="#f00000" stroke-width="2.1"/>
<path d="M41.70,849.20 C42.14,849.20 42.29,849.20 44.37,849.20 C46.44,849.20 47.63,849.20 54.15,849.20 C60.68,849.20 77.28,849.20 83.51,849.20 C89.73,849.20 88.10,849.20 91.51,849.20 C94.92,849.20 99.67,849.20 103.97,849.20 C108.26,849.20 113.75,849.20 117.31,849.20 C120.87,849.20 123.09,849.20 125.31,849.20 C127.54,849.20 128.87,849.20 130.65,849.20 C132.43,849.20 133.76,849.20 135.99,849.20 C138.21,849.20 140.43,849.20 143.99,849.20 C147.55,849.20 153.04,849.20 157.34,849.20 C161.63,849.20 166.38,849.20 169.79,849.20 C173.20,849.20 171.57,849.20 177.79,849.20 C184.02,849.20 200.62,849.20 207.15,849.20 C213.67,849.20 214.86,849.20 216.93,849.20 C219.01,849.20 219.16,849.20 219.60,849.20" fill="none" stroke="#f00000" stroke-width="2.4"/>
<path d="M41.70,846.70 C42.14,846.70 42.29,846.70 44.37,846.70 C46.44,846.70 47.63,846.70 54.15,846.70 C60.68,846.70 77.28,846.78 83.51,846.70 C89.73,846.62 88.10,846.62 91.51,846.20 C94.92,845.78 99.67,844.70 103.97,844.20 C108.26,843.70 113.75,843.28 117.31,843.20 C120.87,843.12 123.09,843.45 125.31,843.70 C127.54,843.95 128.87,844.70 130.65,844.70 C132.43,844.70 133.76,843.95 135.99,843.70 C138.21,843.45 140.43,843.12 143.99,843.20 C147.55,843.28 153.04,843.70 157.34,844.20 C161.63,844.70 166.38,845.78 169.79,846.20 C173.20,846.62 171.57,846.62 177.79,846.70 C184.02,846.78 200.62,846.70 207.15,846.70 C213.67,846.70 214.86,846.70 216.93,846.70 C219.01,846.70 219.16,846.70 219.60,846.70" fill="none" stroke="#f00000" stroke-width="2.1"/>
<path d="M41.70,841.90 C42.14,841.95 42.29,842.10 44.37,842.20 C46.44,842.30 47.63,842.38 54.15,842.50 C60.68,842.62 77.28,842.70 83.51,842.90 C89.73,843.10 88.10,843.32 91.51,843.70 C94.92,844.08 99.67,844.78 103.97,845.20 C108.26,845.62 113.75,846.03 117.31,846.20 C120.87,846.37 123.09,846.20 125.31,846.20 C127.54,846.20 128.87,846.20 130.65,846.20 C132.43,846.20 133.76,846.20 135.99,846.20 C138.21,846.20 140.43,846.37 143.99,846.20 C147.55,846.03 153.04,845.62 157.34,845.20 C161.63,844.78 166.38,844.08 169.79,843.70 C173.20,843.32 171.57,843.10 177.79,842.90 C184.02,842.70 200.62,842.62 207.15,842.50 C213.67,842.38 214.86,842.30 216.93,842.20 C219.01,842.10 219.16,841.95 219.60,841.90" fill="none" stroke="#f00000" stroke-width="2.1"/>
<path d="M41.70,834.20 C42.14,834.20 42.29,834.20 44.37,834.20 C46.44,834.20 47.63,834.20 54.15,834.20 C60.68,834.20 77.28,834.20 83.51,834.20 C89.73,834.20 88.10,834.20 91.51,834.20 C94.92,834.20 99.67,834.20 103.97,834.20 C108.26,834.20 113.75,834.20 117.31,834.20 C120.87,834.20 123.09,834.20 125.31,834.20 C127.54,834.20 128.87,834.20 130.65,834.20 C132.43,834.20 133.76,834.20 135.99,834.20 C138.21,834.20 140.43,834.20 143.99,834.20 C147.55,834.20 153.04,834.20 157.34,834.20 C161.63,834.20 166.38,834.20 169.79,834.20 C173.20,834.20 171.57,834.20 177.79,834.20 C184.02,834.20 200.62,834.20 207.15,834.20 C213.67,834.20 214.86,834.20 216.93,834.20 C219.01,834.20 219.16,834.20 219.60,834.20" fill="none" stroke="#f00000" stroke-width="2.2"/>
<path d="M41.70,829.20 C42.14,829.20 42.29,829.28 44.37,829.20 C46.44,829.12 47.63,828.95 54.15,828.70 C60.68,828.45 77.28,828.12 83.51,827.70 C89.73,827.28 88.10,826.28 91.51,826.20 C94.92,826.12 99.67,826.87 103.97,827.20 C108.26,827.53 113.75,827.95 117.31,828.20 C120.87,828.45 123.09,828.58 125.31,828.70 C127.54,828.82 128.87,828.90 130.65,828.90 C132.43,828.90 133.76,828.82 135.99,828.70 C138.21,828.58 140.43,828.45 143.99,828.20 C147.55,827.95 153.04,827.53 157.34,827.20 C161.63,826.87 166.38,826.12 169.79,826.20 C173.20,826.28 171.57,827.28 177.79,827.70 C184.02,828.12 200.62,828.45 207.15,828.70 C213.67,828.95 214.86,829.12 216.93,829.20 C219.01,829.28 219.16,829.20 219.60,829.20" fill="none" stroke="#f00000" stroke-width="2.1"/>
<path d="M41.70,822.20 C42.14,822.20 42.29,822.20 44.37,822.20 C46.44,822.20 47.63,822.25 54.15,822.20 C60.68,822.15 77.28,822.07 83.51,821.90 C89.73,821.73 88.10,821.48 91.51,821.20 C94.92,820.92 99.67,820.45 103.97,820.20 C108.26,819.95 113.75,819.78 117.31,819.70 C120.87,819.62 123.09,819.70 125.31,819.70 C127.54,819.70 128.87,819.70 130.65,819.70 C132.43,819.70 133.76,819.70 135.99,819.70 C138.21,819.70 140.43,819.62 143.99,819.70 C147.55,819.78 153.04,819.95 157.34,820.20 C161.63,820.45 166.38,820.92 169.79,821.20 C173.20,821.48 171.57,821.73 177.79,821.90 C184.02,822.07 200.62,822.15 207.15,822.20 C213.67,822.25 214.86,822.20 216.93,822.20 C219.01,822.20 219.16,822.20 219.60,822.20" fill="none" stroke="#f00000" stroke-width="2.1"/>
<path d="M41.70,816.35 C42.14,816.35 42.29,816.35 44.37,816.35 C46.44,816.35 47.63,816.35 54.15,816.35 C60.68,816.35 77.28,816.35 83.51,816.35 C89.73,816.35 88.10,816.35 91.51,816.35 C94.92,816.35 99.67,816.35 103.97,816.35 C108.26,816.35 113.75,816.35 117.31,816.35 C120.87,816.35 123.09,816.35 125.31,816.35 C127.54,816.35 128.87,816.35 130.65,816.35 C132.43,816.35 133.76,816.35 135.99,816.35 C138.21,816.35 140.43,816.35 143.99,816.35 C147.55,816.35 153.04,816.35 157.34,816.35 C161.63,816.35 166.38,816.35 169.79,816.35 C173.20,816.35 171.57,816.35 177.79,816.35 C184.02,816.35 200.62,816.35 207.15,816.35 C213.67,816.35 214.86,816.35 216.93,816.35 C219.01,816.35 219.16,816.35 219.60,816.35" fill="none" stroke="#f00000" stroke-width="2.6"/>
<path d="M41.70,814.85 C42.14,814.85 42.29,814.85 44.37,814.85 C46.44,814.85 47.63,814.85 54.15,814.85 C60.68,814.85 77.28,814.85 83.51,814.85 C89.73,814.85 88.10,814.85 91.51,814.85 C94.92,814.85 99.67,814.85 103.97,814.85 C108.26,814.85 113.75,814.85 117.31,814.85 C120.87,814.85 123.09,814.85 125.31,814.85 C127.54,814.85 128.87,814.85 130.65,814.85 C132.43,814.85 133.76,814.85 135.99,814.85 C138.21,814.85 140.43,814.85 143.99,814.85 C147.55,814.85 153.04,814.85 157.34,814.85 C161.63,814.85 166.38,814.85 169.79,814.85 C173.20,814.85 171.57,814.85 177.79,814.85 C184.02,814.85 200.62,814.85 207.15,814.85 C213.67,814.85 214.86,814.85 216.93,814.85 C219.01,814.85 219.16,814.85 219.60,814.85" fill="none" stroke="#f00000" stroke-width="1.6"/>
<path d="M41.70,817.85 C42.14,817.85 42.29,817.85 44.37,817.85 C46.44,817.85 47.63,817.85 54.15,817.85 C60.68,817.85 77.28,817.85 83.51,817.85 C89.73,817.85 88.10,817.85 91.51,817.85 C94.92,817.85 99.67,817.85 103.97,817.85 C108.26,817.85 113.75,817.85 117.31,817.85 C120.87,817.85 123.09,817.85 125.31,817.85 C127.54,817.85 128.87,817.85 130.65,817.85 C132.43,817.85 133.76,817.85 135.99,817.85 C138.21,817.85 140.43,817.85 143.99,817.85 C147.55,817.85 153.04,817.85 157.34,817.85 C161.63,817.85 166.38,817.85 169.79,817.85 C173.20,817.85 171.57,817.85 177.79,817.85 C184.02,817.85 200.62,817.85 207.15,817.85 C213.67,817.85 214.86,817.85 216.93,817.85 C219.01,817.85 219.16,817.85 219.60,817.85" fill="none" stroke="#f00000" stroke-width="1.6"/>
<path d="M74.8,784.0 L76.0,784.0 L77.1,784.0 L78.2,784.0 L79.4,784.0 L80.5,784.0 L81.7,784.0 L82.8,784.0 L84.0,791.5 L85.1,799.0 L86.3,799.0 L87.4,799.0 L88.6,799.0 L89.8,799.0 L90.9,799.0 L92.0,799.0 L93.2,799.0" fill="none" stroke="#f00000" stroke-width="1.7"/>
<path d="M165.1,786.0 L166.2,786.0 L167.4,786.0 L168.5,786.0 L169.7,786.0 L170.8,786.0 L172.0,786.0 L173.2,786.0 L174.3,793.5 L175.4,801.0 L176.6,801.0 L177.8,801.0 L178.9,801.0 L180.0,801.0 L181.2,801.0 L182.3,801.0 L183.5,801.0" fill="none" stroke="#f00000" stroke-width="1.7"/>
<path d="M74.8,799.0 L76.0,799.0 L77.1,799.0 L78.2,799.0 L79.4,799.0 L80.5,799.0 L81.7,799.0 L82.8,799.0 L84.0,807.0 L85.1,815.0 L86.3,815.0 L87.4,815.0 L88.6,815.0 L89.8,815.0 L90.9,815.0 L92.0,815.0 L93.2,815.0" fill="none" stroke="#f00000" stroke-width="1.7"/>
<path d="M165.1,801.0 L166.2,801.0 L167.4,801.0 L168.5,801.0 L169.7,801.0 L170.8,801.0 L172.0,801.0 L173.2,801.0 L174.3,808.5 L175.4,816.0 L176.6,816.0 L177.8,816.0 L178.9,816.0 L180.0,816.0 L181.2,816.0 L182.3,816.0 L183.5,816.0" fill="none" stroke="#f00000" stroke-width="1.7"/>
<path d="M74.8,817.0 L76.0,817.0 L77.1,817.0 L78.2,817.0 L79.4,817.0 L80.5,817.0 L81.7,817.0 L82.8,817.0 L84.0,825.0 L85.1,833.0 L86.3,833.0 L87.4,833.0 L88.6,833.0 L89.8,833.0 L90.9,833.0 L92.0,833.0 L93.2,833.0" fill="none" stroke="#f00000" stroke-width="1.7"/>
<path d="M165.1,816.0 L166.2,816.0 L167.4,816.0 L168.5,816.0 L169.7,816.0 L170.8,816.0 L172.0,816.0 L173.2,816.0 L174.3,824.5 L175.4,833.0 L176.6,833.0 L177.8,833.0 L178.9,833.0 L180.0,833.0 L181.2,833.0 L182.3,833.0 L183.5,833.0" fill="none" stroke="#f00000" stroke-width="1.7"/>
<path d="M74.8,833.0 L76.0,833.0 L77.1,833.0 L78.2,833.0 L79.4,833.0 L80.5,833.0 L81.7,833.0 L82.8,833.0 L84.0,841.5 L85.1,850.0 L86.3,850.0 L87.4,850.0 L88.6,850.0 L89.8,850.0 L90.9,850.0 L92.0,850.0 L93.2,850.0" fill="none" stroke="#f00000" stroke-width="1.7"/>
<path d="M165.1,833.0 L166.2,833.0 L167.4,833.0 L168.5,833.0 L169.7,833.0 L170.8,833.0 L172.0,833.0 L173.2,833.0 L174.3,842.0 L175.4,851.0 L176.6,851.0 L177.8,851.0 L178.9,851.0 L180.0,851.0 L181.2,851.0 L182.3,851.0 L183.5,851.0" fill="none" stroke="#f00000" stroke-width="1.7"/>
<path d="M41.7,824.0 L46.1,824.0 L50.6,824.0 L55.0,824.0 L59.5,824.0 L63.9,824.0 L68.4,824.0 L72.8,824.0 L77.3,824.0 L81.7,824.0 L86.2,824.0 L90.6,824.0 L95.1,823.8 L99.5,823.2 L104.0,822.4 L108.4,821.4 L112.9,820.1 L117.3,818.7 L121.8,817.2 L126.2,815.5 L130.6,813.9 L135.1,812.2 L139.5,810.6 L144.0,809.0 L148.4,807.6 L152.9,806.3 L157.3,805.2 L161.8,804.4 L166.2,803.8 L170.7,803.5 L175.1,803.5 L179.6,803.5 L184.0,803.5 L188.5,803.5 L192.9,803.5 L197.4,803.5 L201.8,803.5 L206.3,803.5 L210.7,803.5 L215.2,803.5 L219.6,803.5" fill="none" stroke="#f00000" stroke-width="1.9"/>
<path d="M41.7,836.0 L46.1,836.0 L50.6,836.0 L55.0,836.0 L59.5,836.0 L63.9,836.0 L68.4,836.0 L72.8,836.0 L77.3,836.0 L81.7,836.0 L86.2,836.0 L90.6,836.0 L95.1,835.9 L99.5,835.5 L104.0,835.0 L108.4,834.3 L112.9,833.4 L117.3,832.5 L121.8,831.5 L126.2,830.4 L130.6,829.3 L135.1,828.2 L139.5,827.2 L144.0,826.1 L148.4,825.2 L152.9,824.4 L157.3,823.6 L161.8,823.1 L166.2,822.7 L170.7,822.5 L175.1,822.5 L179.6,822.5 L184.0,822.5 L188.5,822.5 L192.9,822.5 L197.4,822.5 L201.8,822.5 L206.3,822.5 L210.7,822.5 L215.2,822.5 L219.6,822.5" fill="none" stroke="#f00000" stroke-width="1.7"/>
<path d="M41.7,808.5 L46.1,808.5 L50.6,808.5 L55.0,808.5 L59.5,808.5 L63.9,808.5 L68.4,808.5 L72.8,808.5 L77.3,808.5 L81.7,808.5 L86.2,808.5 L90.6,808.5 L95.1,808.6 L99.5,808.9 L104.0,809.2 L108.4,809.7 L112.9,810.3 L117.3,811.0 L121.8,811.7 L126.2,812.4 L130.6,813.2 L135.1,814.0 L139.5,814.7 L144.0,815.4 L148.4,816.1 L152.9,816.7 L157.3,817.2 L161.8,817.6 L166.2,817.9 L170.7,818.0 L175.1,818.0 L179.6,818.0 L184.0,818.0 L188.5,818.0 L192.9,818.0 L197.4,818.0 L201.8,818.0 L206.3,818.0 L210.7,818.0 L215.2,818.0 L219.6,818.0" fill="none" stroke="#f00000" stroke-width="1.7"/>
<path d="M41.7,723.00 L219.6,723.00" fill="none" stroke="#f00000" stroke-width="2.2"/>
<path d="M41.7,724.60 L219.6,724.60" fill="none" stroke="#f00000" stroke-width="1.6"/>
<path d="M41.7,910.70 L219.6,910.70" fill="none" stroke="#f00000" stroke-width="2.2"/>
<path d="M41.7,909.00 L219.6,909.00" fill="none" stroke="#f00000" stroke-width="1.6"/>
<line x1="41.70" y1="721.90" x2="41.70" y2="911.80" stroke="#111" stroke-width="1.2" />
<line x1="219.60" y1="721.90" x2="219.60" y2="911.80" stroke="#333" stroke-width="1.0" />
<line x1="41.10" y1="911.80" x2="220.10" y2="911.80" stroke="#111" stroke-width="1.4" />
<line x1="41.10" y1="721.90" x2="220.10" y2="721.90" stroke="#111" stroke-width="1.2" />
<text x="39.6" y="728.2" font-size="16" text-anchor="end" fill="#222" font-weight="normal" >2<tspan font-style="italic">π</tspan></text>
<text x="37.8" y="820.6" font-size="16" text-anchor="end" fill="#222" font-weight="normal" ><tspan font-style="italic">π</tspan></text>
<text x="39.4" y="916.5" font-size="16.5" text-anchor="end" fill="#222" font-weight="normal" >0</text>
<text x="0.0" y="0.0" font-size="16" text-anchor="middle" fill="#222" font-weight="normal" transform="translate(17.8,816.3) rotate(-90)"><tspan font-style="italic">θ</tspan></text>
<rect x="104" y="739.5" width="59" height="35" fill="#fff"/>
<text x="133.5" y="752.0" font-size="14.3" text-anchor="middle" fill="#222" font-weight="normal" >U=6.0 eV</text>
<text x="108.5" y="770.0" font-size="14.5" text-anchor="start" fill="#222" font-weight="normal" >C</text>
<text x="119.9" y="762.4" font-size="9.5" text-anchor="start" fill="#222" font-weight="normal" >xy</text>
<line x1="124.70" y1="755.80" x2="128.70" y2="755.80" stroke="#222" stroke-width="0.8" />
<text x="119.9" y="772.0" font-size="9.5" text-anchor="start" fill="#222" font-weight="normal" >m</text>
<text x="133.5" y="770.0" font-size="14.5" text-anchor="start" fill="#222" font-weight="normal" >=–1</text>
<text x="44.9" y="930.8" font-size="16" text-anchor="middle" fill="#222" font-weight="normal" >Γ</text>
<line x1="40.68" y1="916.30" x2="49.12" y2="916.30" stroke="#222" stroke-width="1.1" />
<text x="130.9" y="930.8" font-size="16" text-anchor="middle" fill="#222" font-weight="normal" >M</text>
<line x1="124.45" y1="916.30" x2="137.35" y2="916.30" stroke="#222" stroke-width="1.1" />
<text x="213.3" y="930.8" font-size="16" text-anchor="start" fill="#222" font-weight="normal" >Γ′</text>
<line x1="214.50" y1="916.30" x2="221.70" y2="916.30" stroke="#222" stroke-width="1" />
<g clip-path="url(#clipI)">
<rect x="268.0" y="472.7" width="181.0" height="189.09999999999997" fill="url(#baseI)"/>
<rect x="268.0" y="472.7" width="181.0" height="189.09999999999997" fill="url(#vdark)"/>
<path d="M352.0,470.0 L372.0,470.0 L372.0,545.0 L367.0,562.0 L362.0,558.0 L357.0,520.0 Z" fill="#a87008" opacity="0.8" filter="url(#bl4)"/>
<path d="M374.0,478.0 L382.0,478.0 L384.0,560.0 L376.0,560.0 Z" fill="#a87008" opacity="0.8" filter="url(#bl4)"/>
<path d="M336.0,590.0 L352.0,590.0 L356.0,640.0 L354.0,665.0 L334.0,665.0 Z" fill="#a87008" opacity="0.85" filter="url(#bl7)"/>
<path d="M268.0,470.0 L300.0,470.0 L290.0,540.0 L268.0,560.0 Z" fill="#7c5202" opacity="0.5" filter="url(#bl4)"/>
<path d="M409.0,545.0 L420.0,545.0 L414.0,590.0 L405.0,595.0 Z" fill="#6a4400" opacity="0.55" filter="url(#bl4)"/>
<path d="M352.00,472.00 C352.33,476.67 353.17,490.33 354.00,500.00 C354.83,509.67 355.83,520.67 357.00,530.00 C358.17,539.33 360.33,551.67 361.00,556.00" fill="none" stroke="#d8921a" stroke-width="2.60" opacity="0.16" filter="url(#bl1)"/>
<path d="M352.00,472.00 C352.33,476.67 353.17,490.33 354.00,500.00 C354.83,509.67 355.83,520.67 357.00,530.00 C358.17,539.33 360.33,551.67 361.00,556.00" fill="none" stroke="#d8921a" stroke-width="0.85" opacity="0.24"/>
<path d="M364.00,472.00 C364.17,476.67 364.50,490.33 365.00,500.00 C365.50,509.67 366.33,520.67 367.00,530.00 C367.67,539.33 368.67,551.67 369.00,556.00" fill="none" stroke="#d8921a" stroke-width="2.60" opacity="0.14" filter="url(#bl1)"/>
<path d="M364.00,472.00 C364.17,476.67 364.50,490.33 365.00,500.00 C365.50,509.67 366.33,520.67 367.00,530.00 C367.67,539.33 368.67,551.67 369.00,556.00" fill="none" stroke="#d8921a" stroke-width="0.85" opacity="0.21"/>
<path d="M300.0,472.0 L346.0,472.0 L349.0,490.0 L352.5,518.0 L358.0,546.0 L363.5,560.0 L362.0,566.0 L350.0,558.0 L330.0,543.0 L321.4,539.0 Z" fill="#000" opacity="0.85" filter="url(#bl4)"/>
<path d="M336.0,472.0 L352.0,472.0 L356.0,500.0 L359.0,530.0 L362.0,552.0 L356.0,552.0 L348.0,520.0 L342.0,490.0 Z" fill="#1a1000" opacity="0.6" filter="url(#bl4)"/>
<path d="M286.8,472.0 L340.5,472.0 L341.6,484.0 L346.8,518.6 L353.7,546.0 L359.5,559.8 L361.0,564.7 L354.2,562.5 L342.8,552.5 L331.4,543.5 L321.4,539.1 L317.4,531.0 L313.5,520.0 L309.4,510.1 L304.0,500.0 L298.1,490.9 L292.0,481.0 Z" fill="#000" opacity="1.0" filter="url(#bl1)"/>
<path d="M290.0,472.0 L338.5,472.0 L340.0,485.0 L344.5,518.0 L350.0,540.0 L338.0,545.0 L322.0,535.0 L314.0,516.0 L300.0,492.0 Z" fill="#000" opacity="1.0"/>
<path d="M357.5,578.0 L362.0,576.0 L366.0,573.5 L370.0,576.0 L374.0,578.0 L378.0,579.0 L382.0,580.0 L384.5,586.0 L384.0,602.0 L382.5,618.0 L380.5,630.0 L379.0,637.0 L376.5,633.0 L373.5,628.0 L370.0,634.0 L367.0,636.0 L364.5,626.0 L362.0,612.0 L359.5,598.0 L358.0,588.0 Z" fill="#000" opacity="1.0" filter="url(#bl2)"/>
<path d="M361.0,582.0 L372.0,580.0 L381.0,584.0 L381.0,605.0 L377.0,620.0 L368.0,622.0 L363.0,606.0 Z" fill="#000" opacity="1.0"/>
<path d="M413.0,470.0 L430.0,470.0 L429.5,481.0 L425.0,488.0 L419.0,488.0 L414.5,482.0 Z" fill="#2a1a00" opacity="0.95" filter="url(#bl1)"/>
<path d="M286.80,472.70 C287.67,474.08 290.12,477.97 292.00,481.00 C293.88,484.03 296.10,487.73 298.10,490.90 C300.10,494.07 302.12,496.80 304.00,500.00 C305.88,503.20 307.82,506.77 309.40,510.10 C310.98,513.43 312.17,516.52 313.50,520.00 C314.83,523.48 316.08,527.82 317.40,531.00 C318.72,534.18 320.73,537.75 321.40,539.10" fill="none" stroke="#d8921a" stroke-width="3.64" opacity="0.45" filter="url(#bl1)"/>
<path d="M286.80,472.70 C287.67,474.08 290.12,477.97 292.00,481.00 C293.88,484.03 296.10,487.73 298.10,490.90 C300.10,494.07 302.12,496.80 304.00,500.00 C305.88,503.20 307.82,506.77 309.40,510.10 C310.98,513.43 312.17,516.52 313.50,520.00 C314.83,523.48 316.08,527.82 317.40,531.00 C318.72,534.18 320.73,537.75 321.40,539.10" fill="none" stroke="#d8921a" stroke-width="1.19" opacity="0.70"/>
<path d="M283.60,472.70 C284.50,474.08 287.10,477.95 289.00,481.00 C290.90,484.05 293.33,488.17 295.00,491.00 C296.67,493.83 298.33,496.83 299.00,498.00" fill="none" stroke="#d8921a" stroke-width="2.34" opacity="0.27" filter="url(#bl1)"/>
<path d="M283.60,472.70 C284.50,474.08 287.10,477.95 289.00,481.00 C290.90,484.05 293.33,488.17 295.00,491.00 C296.67,493.83 298.33,496.83 299.00,498.00" fill="none" stroke="#d8921a" stroke-width="0.77" opacity="0.42"/>
<path d="M321.40,539.10 C322.17,539.33 324.33,539.77 326.00,540.50 C327.67,541.23 329.57,542.33 331.40,543.50 C333.23,544.67 335.10,546.00 337.00,547.50 C338.90,549.00 340.80,550.75 342.80,552.50 C344.80,554.25 347.10,556.33 349.00,558.00 C350.90,559.67 352.62,561.33 354.20,562.50 C355.78,563.67 357.12,564.33 358.50,565.00 C359.88,565.67 361.33,565.83 362.50,566.50 C363.67,567.17 364.83,568.17 365.50,569.00 C366.17,569.83 366.33,571.08 366.50,571.50" fill="none" stroke="#d8921a" stroke-width="3.64" opacity="0.45" filter="url(#bl1)"/>
<path d="M321.40,539.10 C322.17,539.33 324.33,539.77 326.00,540.50 C327.67,541.23 329.57,542.33 331.40,543.50 C333.23,544.67 335.10,546.00 337.00,547.50 C338.90,549.00 340.80,550.75 342.80,552.50 C344.80,554.25 347.10,556.33 349.00,558.00 C350.90,559.67 352.62,561.33 354.20,562.50 C355.78,563.67 357.12,564.33 358.50,565.00 C359.88,565.67 361.33,565.83 362.50,566.50 C363.67,567.17 364.83,568.17 365.50,569.00 C366.17,569.83 366.33,571.08 366.50,571.50" fill="none" stroke="#d8921a" stroke-width="1.19" opacity="0.70"/>
<path d="M354.50,566.00 C354.92,566.67 356.17,568.25 357.00,570.00 C357.83,571.75 358.83,575.08 359.50,576.50 C360.17,577.92 360.42,578.58 361.00,578.50 C361.58,578.42 362.25,577.00 363.00,576.00 C363.75,575.00 365.08,573.08 365.50,572.50" fill="none" stroke="#d8921a" stroke-width="3.12" opacity="0.45" filter="url(#bl1)"/>
<path d="M354.50,566.00 C354.92,566.67 356.17,568.25 357.00,570.00 C357.83,571.75 358.83,575.08 359.50,576.50 C360.17,577.92 360.42,578.58 361.00,578.50 C361.58,578.42 362.25,577.00 363.00,576.00 C363.75,575.00 365.08,573.08 365.50,572.50" fill="none" stroke="#d8921a" stroke-width="1.02" opacity="0.70"/>
<path d="M321.40,542.00 C323.07,542.83 327.83,544.67 331.40,547.00 C334.97,549.33 339.70,553.50 342.80,556.00 C345.90,558.50 347.97,560.17 350.00,562.00 C352.03,563.83 354.17,566.17 355.00,567.00" fill="none" stroke="#d8921a" stroke-width="2.60" opacity="0.23" filter="url(#bl1)"/>
<path d="M321.40,542.00 C323.07,542.83 327.83,544.67 331.40,547.00 C334.97,549.33 339.70,553.50 342.80,556.00 C345.90,558.50 347.97,560.17 350.00,562.00 C352.03,563.83 354.17,566.17 355.00,567.00" fill="none" stroke="#d8921a" stroke-width="0.85" opacity="0.35"/>
<path d="M277.20,472.70 C277.38,474.75 277.92,480.95 278.30,485.00 C278.68,489.05 279.00,493.17 279.50,497.00 C280.00,500.83 280.55,504.17 281.30,508.00 C282.05,511.83 282.97,516.00 284.00,520.00 C285.03,524.00 286.17,527.83 287.50,532.00 C288.83,536.17 290.53,540.52 292.00,545.00 C293.47,549.48 294.97,555.40 296.30,558.90 C297.63,562.40 298.37,563.95 300.00,566.00 C301.63,568.05 304.43,570.12 306.10,571.20 C307.77,572.28 308.65,572.32 310.00,572.50 C311.35,572.68 312.30,572.75 314.20,572.30 C316.10,571.85 318.77,570.22 321.40,569.80 C324.03,569.38 326.90,569.82 330.00,569.80 C333.10,569.78 336.67,569.75 340.00,569.70 C343.33,569.65 347.42,569.70 350.00,569.50 C352.58,569.30 354.58,568.67 355.50,568.50" fill="none" stroke="#d8921a" stroke-width="3.38" opacity="0.45" filter="url(#bl1)"/>
<path d="M277.20,472.70 C277.38,474.75 277.92,480.95 278.30,485.00 C278.68,489.05 279.00,493.17 279.50,497.00 C280.00,500.83 280.55,504.17 281.30,508.00 C282.05,511.83 282.97,516.00 284.00,520.00 C285.03,524.00 286.17,527.83 287.50,532.00 C288.83,536.17 290.53,540.52 292.00,545.00 C293.47,549.48 294.97,555.40 296.30,558.90 C297.63,562.40 298.37,563.95 300.00,566.00 C301.63,568.05 304.43,570.12 306.10,571.20 C307.77,572.28 308.65,572.32 310.00,572.50 C311.35,572.68 312.30,572.75 314.20,572.30 C316.10,571.85 318.77,570.22 321.40,569.80 C324.03,569.38 326.90,569.82 330.00,569.80 C333.10,569.78 336.67,569.75 340.00,569.70 C343.33,569.65 347.42,569.70 350.00,569.50 C352.58,569.30 354.58,568.67 355.50,568.50" fill="none" stroke="#d8921a" stroke-width="1.10" opacity="0.70"/>
<path d="M306.00,573.00 C307.00,573.50 309.43,575.67 312.00,576.00 C314.57,576.33 319.83,575.17 321.40,575.00" fill="none" stroke="#d8921a" stroke-width="2.08" opacity="0.18" filter="url(#bl1)"/>
<path d="M306.00,573.00 C307.00,573.50 309.43,575.67 312.00,576.00 C314.57,576.33 319.83,575.17 321.40,575.00" fill="none" stroke="#d8921a" stroke-width="0.68" opacity="0.28"/>
<path d="M386.0,600.0 L404.0,565.0 L420.0,522.0 L432.0,485.0 L441.0,474.0 L432.0,474.0 L420.0,500.0 L406.0,540.0 L392.0,572.0 L383.0,590.0 Z" fill="#a06a08" opacity="0.45" filter="url(#bl4)"/>
<path d="M400.90,548.30 C401.58,543.42 403.63,528.62 405.00,519.00 C406.37,509.38 408.42,495.33 409.10,490.60" fill="none" stroke="#4a3000" stroke-width="1.19" opacity="0.35"/>
<path d="M411.20,589.50 C412.00,586.08 414.28,575.87 416.00,569.00 C417.72,562.13 420.58,551.75 421.50,548.30" fill="none" stroke="#4a3000" stroke-width="1.19" opacity="0.32"/>
<path d="M376.50,566.00 C376.78,566.13 377.45,565.30 378.20,566.80 C378.95,568.30 379.78,572.25 381.00,575.00 C382.22,577.75 384.00,583.30 385.50,583.30 C387.00,583.30 388.12,579.47 390.00,575.00 C391.88,570.53 394.88,561.67 396.80,556.50 C398.72,551.33 399.78,548.12 401.50,544.00 C403.22,539.88 405.18,536.47 407.10,531.80 C409.02,527.13 410.95,521.15 413.00,516.00 C415.05,510.85 417.48,505.65 419.40,500.90 C421.32,496.15 422.78,491.97 424.50,487.50 C426.22,483.03 428.70,476.68 429.70,474.10 C430.70,471.52 430.37,472.35 430.50,472.00" fill="none" stroke="#d8921a" stroke-width="3.12" opacity="0.38" filter="url(#bl1)"/>
<path d="M376.50,566.00 C376.78,566.13 377.45,565.30 378.20,566.80 C378.95,568.30 379.78,572.25 381.00,575.00 C382.22,577.75 384.00,583.30 385.50,583.30 C387.00,583.30 388.12,579.47 390.00,575.00 C391.88,570.53 394.88,561.67 396.80,556.50 C398.72,551.33 399.78,548.12 401.50,544.00 C403.22,539.88 405.18,536.47 407.10,531.80 C409.02,527.13 410.95,521.15 413.00,516.00 C415.05,510.85 417.48,505.65 419.40,500.90 C421.32,496.15 422.78,491.97 424.50,487.50 C426.22,483.03 428.70,476.68 429.70,474.10 C430.70,471.52 430.37,472.35 430.50,472.00" fill="none" stroke="#d8921a" stroke-width="1.02" opacity="0.59"/>
<path d="M378.00,563.00 C378.50,563.50 380.00,564.17 381.00,566.00 C382.00,567.83 383.17,572.00 384.00,574.00 C384.83,576.00 385.67,577.33 386.00,578.00" fill="none" stroke="#d8921a" stroke-width="2.34" opacity="0.23" filter="url(#bl1)"/>
<path d="M378.00,563.00 C378.50,563.50 380.00,564.17 381.00,566.00 C382.00,567.83 383.17,572.00 384.00,574.00 C384.83,576.00 385.67,577.33 386.00,578.00" fill="none" stroke="#d8921a" stroke-width="0.77" opacity="0.35"/>
<path d="M375.00,630.00 C375.53,631.50 376.70,639.17 378.20,639.00 C379.70,638.83 381.93,632.45 384.00,629.00 C386.07,625.55 388.43,621.80 390.60,618.30 C392.77,614.80 394.93,611.43 397.00,608.00 C399.07,604.57 401.00,601.70 403.00,597.70 C405.00,593.70 406.95,588.80 409.00,584.00 C411.05,579.20 413.38,573.98 415.30,568.90 C417.22,563.82 418.78,558.65 420.50,553.50 C422.22,548.35 423.85,543.58 425.60,538.00 C427.35,532.42 429.28,525.83 431.00,520.00 C432.72,514.17 434.57,508.17 435.90,503.00 C437.23,497.83 437.97,493.82 439.00,489.00 C440.03,484.18 441.47,476.93 442.10,474.10 C442.73,471.27 442.68,472.35 442.80,472.00" fill="none" stroke="#d8921a" stroke-width="2.86" opacity="0.36" filter="url(#bl1)"/>
<path d="M375.00,630.00 C375.53,631.50 376.70,639.17 378.20,639.00 C379.70,638.83 381.93,632.45 384.00,629.00 C386.07,625.55 388.43,621.80 390.60,618.30 C392.77,614.80 394.93,611.43 397.00,608.00 C399.07,604.57 401.00,601.70 403.00,597.70 C405.00,593.70 406.95,588.80 409.00,584.00 C411.05,579.20 413.38,573.98 415.30,568.90 C417.22,563.82 418.78,558.65 420.50,553.50 C422.22,548.35 423.85,543.58 425.60,538.00 C427.35,532.42 429.28,525.83 431.00,520.00 C432.72,514.17 434.57,508.17 435.90,503.00 C437.23,497.83 437.97,493.82 439.00,489.00 C440.03,484.18 441.47,476.93 442.10,474.10 C442.73,471.27 442.68,472.35 442.80,472.00" fill="none" stroke="#d8921a" stroke-width="0.94" opacity="0.56"/>
<path d="M380.00,636.00 C381.00,634.50 383.83,630.17 386.00,627.00 C388.17,623.83 390.67,620.50 393.00,617.00 C395.33,613.50 398.83,607.83 400.00,606.00" fill="none" stroke="#d8921a" stroke-width="2.34" opacity="0.20" filter="url(#bl1)"/>
<path d="M380.00,636.00 C381.00,634.50 383.83,630.17 386.00,627.00 C388.17,623.83 390.67,620.50 393.00,617.00 C395.33,613.50 398.83,607.83 400.00,606.00" fill="none" stroke="#d8921a" stroke-width="0.77" opacity="0.32"/>
<path d="M396.80,556.50 C397.33,560.42 398.88,571.92 400.00,580.00 C401.12,588.08 402.42,596.67 403.50,605.00 C404.58,613.33 405.57,620.50 406.50,630.00 C407.43,639.50 408.67,656.67 409.10,662.00" fill="none" stroke="#d8921a" stroke-width="2.60" opacity="0.27" filter="url(#bl1)"/>
<path d="M396.80,556.50 C397.33,560.42 398.88,571.92 400.00,580.00 C401.12,588.08 402.42,596.67 403.50,605.00 C404.58,613.33 405.57,620.50 406.50,630.00 C407.43,639.50 408.67,656.67 409.10,662.00" fill="none" stroke="#d8921a" stroke-width="0.85" opacity="0.42"/>
<path d="M390.60,472.50 C390.67,476.25 391.05,487.92 391.00,495.00 C390.95,502.08 390.53,508.35 390.30,515.00 C390.07,521.65 390.23,529.07 389.60,534.90 C388.97,540.73 387.77,545.32 386.50,550.00 C385.23,554.68 382.75,560.83 382.00,563.00" fill="none" stroke="#d8921a" stroke-width="2.60" opacity="0.25" filter="url(#bl1)"/>
<path d="M390.60,472.50 C390.67,476.25 391.05,487.92 391.00,495.00 C390.95,502.08 390.53,508.35 390.30,515.00 C390.07,521.65 390.23,529.07 389.60,534.90 C388.97,540.73 387.77,545.32 386.50,550.00 C385.23,554.68 382.75,560.83 382.00,563.00" fill="none" stroke="#d8921a" stroke-width="0.85" opacity="0.39"/>
<path d="M389.60,534.90 C389.62,534.95 389.68,535.15 389.70,535.20" fill="none" stroke="#d8921a" stroke-width="7.80" opacity="0.27" filter="url(#bl1)"/>
<path d="M389.60,534.90 C389.62,534.95 389.68,535.15 389.70,535.20" fill="none" stroke="#d8921a" stroke-width="2.55" opacity="0.42"/>
<path d="M384.20,472.90 C384.50,473.08 385.70,473.82 386.00,474.00" fill="none" stroke="#d8921a" stroke-width="5.20" opacity="0.27" filter="url(#bl1)"/>
<path d="M384.20,472.90 C384.50,473.08 385.70,473.82 386.00,474.00" fill="none" stroke="#d8921a" stroke-width="1.70" opacity="0.42"/>
<path d="M289.00,560.00 C289.67,566.67 291.50,586.67 293.00,600.00 C294.50,613.33 296.83,629.67 298.00,640.00 C299.17,650.33 299.67,658.33 300.00,662.00" fill="none" stroke="#d8921a" stroke-width="2.08" opacity="0.09" filter="url(#bl1)"/>
<path d="M289.00,560.00 C289.67,566.67 291.50,586.67 293.00,600.00 C294.50,613.33 296.83,629.67 298.00,640.00 C299.17,650.33 299.67,658.33 300.00,662.00" fill="none" stroke="#d8921a" stroke-width="0.68" opacity="0.14"/>
</g>
<line x1="360.3" y1="592.5" x2="366.9" y2="582.9" stroke="#fff" stroke-width="3.2"/>
<path d="M370.6,577.6 L370.4,585.3 L363.4,580.6 Z" fill="#fff"/>
<line x1="321.20" y1="472.70" x2="321.20" y2="661.80" stroke="#2a1a00" stroke-width="1.0" />
<line x1="373.50" y1="472.70" x2="373.50" y2="661.80" stroke="#2a1a00" stroke-width="1.0" />
<line x1="268.00" y1="504.30" x2="277.00" y2="504.30" stroke="#2a1a00" stroke-width="1.1" />
<line x1="440.00" y1="504.30" x2="449.00" y2="504.30" stroke="#2a1a00" stroke-width="1.1" />
<line x1="268.00" y1="583.50" x2="277.00" y2="583.50" stroke="#2a1a00" stroke-width="1.1" />
<line x1="440.00" y1="583.50" x2="449.00" y2="583.50" stroke="#2a1a00" stroke-width="1.1" />
<rect x="268.0" y="472.7" width="181.0" height="189.1" fill="none" stroke="#6a6a6a" stroke-width="0.9"/>
<text x="265.8" y="508.7" font-size="14" text-anchor="end" fill="#222" font-weight="normal" >0.0</text>
<text x="265.8" y="588.8" font-size="14" text-anchor="end" fill="#222" font-weight="normal" >-0.25</text>
<text x="265.8" y="664.3" font-size="14" text-anchor="end" fill="#222" font-weight="normal" >-0.5</text>
<text x="359.0" y="466.6" font-size="16.4" text-anchor="middle" fill="#222" font-weight="normal" >Top surface</text>
<text x="268.0" y="680.9" font-size="16" text-anchor="middle" fill="#222" font-weight="normal" >Γ</text>
<line x1="263.25" y1="666.40" x2="272.75" y2="666.40" stroke="#222" stroke-width="1.1" />
<text x="321.2" y="680.9" font-size="16" text-anchor="middle" fill="#222" font-weight="normal" >X</text>
<line x1="316.45" y1="666.40" x2="325.95" y2="666.40" stroke="#222" stroke-width="1.1" />
<text x="373.5" y="680.9" font-size="16" text-anchor="middle" fill="#222" font-weight="normal" >M</text>
<line x1="367.25" y1="666.40" x2="379.75" y2="666.40" stroke="#222" stroke-width="1.1" />
<text x="449.0" y="680.9" font-size="16" text-anchor="middle" fill="#222" font-weight="normal" >Γ</text>
<line x1="444.25" y1="666.40" x2="453.75" y2="666.40" stroke="#222" stroke-width="1.1" />
<text x="0.0" y="0.0" font-size="14" text-anchor="middle" fill="#222" font-weight="normal" transform="translate(241.3,531.2) rotate(-90)">Energy (eV)</text>
<g clip-path="url(#clipJ)">
<rect x="268.4" y="720.8" width="180.20000000000005" height="188.60000000000002" fill="url(#baseJ)"/>
<rect x="268.4" y="720.8" width="180.20000000000005" height="188.60000000000002" fill="url(#vdark)"/>
<path d="M352.0,718.0 L372.0,718.0 L372.0,815.0 L364.0,812.0 L358.0,780.0 Z" fill="#9a6506" opacity="0.6" filter="url(#bl4)"/>
<path d="M312.0,872.0 L336.0,872.0 L338.0,900.0 L312.0,900.0 Z" fill="#b67808" opacity="0.8" filter="url(#bl7)"/>
<path d="M322.0,800.0 L345.0,815.0 L355.0,850.0 L345.0,880.0 L322.0,880.0 Z" fill="#9a6506" opacity="0.6" filter="url(#bl7)"/>
<path d="M376.0,721.0 L386.0,721.0 L388.0,760.0 L384.0,790.0 L377.0,790.0 Z" fill="#5a3a00" opacity="0.6" filter="url(#bl4)"/>
<path d="M321.9,760.9 L330.9,765.5 L338.6,774.5 L346.3,788.6 L352.8,804.1 L357.9,822.1 L361.8,837.5 L365.6,853.0 L363.1,853.0 L357.9,837.5 L352.8,822.1 L346.3,806.6 L338.6,793.8 L330.9,787.3 L321.9,784.8 Z" fill="#3a2400" opacity="0.4" filter="url(#bl1)"/>
<path d="M321.9,760.9 L330.9,765.5 L338.6,774.5 L346.3,788.6 L352.8,804.1 L357.9,822.1 L361.8,837.5 L362.5,841.4 L357.9,826.0 L352.8,808.6 L346.3,793.1 L338.6,779.3 L330.9,771.0 L321.9,766.9 Z" fill="#1a1000" opacity="0.45" filter="url(#bl2)"/>
<path d="M287.2,720.8 L303.1,720.8 L308.7,733.3 L314.8,746.6 L318.9,756.8 L321.0,762.0 L319.0,764.5 L316.9,764.0 L311.8,758.9 L304.6,747.6 L296.4,733.3 Z" fill="#3a2400" opacity="0.85" filter="url(#bl1)"/>
<path d="M293.9,720.8 L303.1,720.8 L308.7,733.3 L314.8,746.6 L318.9,756.8 L320.0,763.0 L315.9,758.9 L309.7,747.6 L301.5,733.3 Z" fill="#120a00" opacity="0.8" filter="url(#bl1)"/>
<path d="M309.0,760.0 L319.0,764.5 L321.2,768.0 L321.2,784.0 L318.0,786.0 L313.0,776.0 Z" fill="#1e1300" opacity="0.65" filter="url(#bl2)"/>
<path d="M314.0,763.0 L319.5,765.0 L321.2,770.0 L321.2,778.0 L318.0,774.0 Z" fill="#000" opacity="0.5" filter="url(#bl1)"/>
<path d="M303.0,720.0 L342.5,720.0 L346.5,750.0 L352.0,776.0 L359.0,799.0 L367.0,814.0 L377.0,821.0 L387.0,823.0 L389.0,838.0 L383.0,855.0 L376.0,868.0 L369.0,866.0 L358.0,822.0 L346.0,788.0 L330.0,765.0 L321.9,760.9 L318.0,752.0 L310.0,735.0 Z" fill="#000" opacity="0.85" filter="url(#bl2)"/>
<path d="M303.1,720.0 L339.0,720.0 L341.5,735.0 L344.0,750.0 L349.0,775.7 L354.5,798.9 L361.0,814.4 L368.0,822.5 L376.0,823.0 L382.0,825.0 L386.0,830.0 L385.0,836.0 L381.6,842.0 L377.4,853.6 L375.5,866.0 L372.1,865.9 L369.5,863.3 L365.6,853.0 L361.8,837.5 L357.9,822.1 L352.8,804.1 L346.3,788.6 L337.3,772.2 L329.1,764.0 L322.5,760.9 L321.0,762.0 L318.9,756.8 L314.8,746.6 L308.7,733.3 Z" fill="#000" opacity="1.0" filter="url(#bl1)"/>
<path d="M306.0,720.0 L336.0,720.0 L339.0,745.0 L342.0,765.0 L338.0,768.0 L323.0,758.0 L316.0,745.0 L310.0,732.0 Z" fill="#000" opacity="1.0"/>
<path d="M362.0,828.0 L380.0,828.0 L378.0,848.0 L373.0,860.0 L368.0,852.0 Z" fill="#000" opacity="1.0"/>
<path d="M360.0,858.0 L366.0,862.0 L368.5,872.0 L367.0,884.0 L364.5,880.0 L361.5,868.0 Z" fill="#000" opacity="0.9" filter="url(#bl1)"/>
<path d="M287.20,720.80 C287.83,721.83 289.47,724.92 291.00,727.00 C292.53,729.08 294.82,731.05 296.40,733.30 C297.98,735.55 299.13,738.12 300.50,740.50 C301.87,742.88 302.72,744.53 304.60,747.60 C306.48,750.67 309.75,756.17 311.80,758.90 C313.85,761.63 315.72,763.07 316.90,764.00 C318.08,764.93 318.30,764.67 318.90,764.50 C319.50,764.33 320.23,763.25 320.50,763.00" fill="none" stroke="#d8921a" stroke-width="3.12" opacity="0.41" filter="url(#bl1)"/>
<path d="M287.20,720.80 C287.83,721.83 289.47,724.92 291.00,727.00 C292.53,729.08 294.82,731.05 296.40,733.30 C297.98,735.55 299.13,738.12 300.50,740.50 C301.87,742.88 302.72,744.53 304.60,747.60 C306.48,750.67 309.75,756.17 311.80,758.90 C313.85,761.63 315.72,763.07 316.90,764.00 C318.08,764.93 318.30,764.67 318.90,764.50 C319.50,764.33 320.23,763.25 320.50,763.00" fill="none" stroke="#d8921a" stroke-width="1.02" opacity="0.63"/>
<path d="M293.90,720.80 C294.50,721.83 296.23,724.92 297.50,727.00 C298.77,729.08 300.17,731.05 301.50,733.30 C302.83,735.55 304.13,738.12 305.50,740.50 C306.87,742.88 307.97,744.53 309.70,747.60 C311.43,750.67 314.43,756.50 315.90,758.90 C317.37,761.30 317.82,761.32 318.50,762.00 C319.18,762.68 319.75,762.83 320.00,763.00" fill="none" stroke="#d8921a" stroke-width="2.86" opacity="0.36" filter="url(#bl1)"/>
<path d="M293.90,720.80 C294.50,721.83 296.23,724.92 297.50,727.00 C298.77,729.08 300.17,731.05 301.50,733.30 C302.83,735.55 304.13,738.12 305.50,740.50 C306.87,742.88 307.97,744.53 309.70,747.60 C311.43,750.67 314.43,756.50 315.90,758.90 C317.37,761.30 317.82,761.32 318.50,762.00 C319.18,762.68 319.75,762.83 320.00,763.00" fill="none" stroke="#d8921a" stroke-width="0.94" opacity="0.56"/>
<path d="M303.10,720.80 C303.58,721.83 305.07,724.92 306.00,727.00 C306.93,729.08 307.73,731.13 308.70,733.30 C309.67,735.47 310.78,737.78 311.80,740.00 C312.82,742.22 313.62,743.80 314.80,746.60 C315.98,749.40 317.87,754.23 318.90,756.80 C319.93,759.37 320.40,761.32 321.00,762.00 C321.60,762.68 321.67,760.90 322.50,760.90 C323.33,760.90 324.90,761.48 326.00,762.00 C327.10,762.52 327.22,762.30 329.10,764.00 C330.98,765.70 334.92,769.30 337.30,772.20 C339.68,775.10 341.90,778.67 343.40,781.40 C344.90,784.13 344.73,784.82 346.30,788.60 C347.87,792.38 350.87,798.52 352.80,804.10 C354.73,809.68 356.40,816.53 357.90,822.10 C359.40,827.67 360.52,832.35 361.80,837.50 C363.08,842.65 364.32,848.70 365.60,853.00 C366.88,857.30 368.42,861.15 369.50,863.30 C370.58,865.45 371.27,865.37 372.10,865.90 C372.93,866.43 373.77,866.82 374.50,866.50 C375.23,866.18 375.75,865.42 376.50,864.00 C377.25,862.58 378.15,860.17 379.00,858.00 C379.85,855.83 380.60,854.00 381.60,851.00 C382.60,848.00 383.85,843.67 385.00,840.00 C386.15,836.33 387.92,830.83 388.50,829.00" fill="none" stroke="#d8921a" stroke-width="3.64" opacity="0.45" filter="url(#bl1)"/>
<path d="M303.10,720.80 C303.58,721.83 305.07,724.92 306.00,727.00 C306.93,729.08 307.73,731.13 308.70,733.30 C309.67,735.47 310.78,737.78 311.80,740.00 C312.82,742.22 313.62,743.80 314.80,746.60 C315.98,749.40 317.87,754.23 318.90,756.80 C319.93,759.37 320.40,761.32 321.00,762.00 C321.60,762.68 321.67,760.90 322.50,760.90 C323.33,760.90 324.90,761.48 326.00,762.00 C327.10,762.52 327.22,762.30 329.10,764.00 C330.98,765.70 334.92,769.30 337.30,772.20 C339.68,775.10 341.90,778.67 343.40,781.40 C344.90,784.13 344.73,784.82 346.30,788.60 C347.87,792.38 350.87,798.52 352.80,804.10 C354.73,809.68 356.40,816.53 357.90,822.10 C359.40,827.67 360.52,832.35 361.80,837.50 C363.08,842.65 364.32,848.70 365.60,853.00 C366.88,857.30 368.42,861.15 369.50,863.30 C370.58,865.45 371.27,865.37 372.10,865.90 C372.93,866.43 373.77,866.82 374.50,866.50 C375.23,866.18 375.75,865.42 376.50,864.00 C377.25,862.58 378.15,860.17 379.00,858.00 C379.85,855.83 380.60,854.00 381.60,851.00 C382.60,848.00 383.85,843.67 385.00,840.00 C386.15,836.33 387.92,830.83 388.50,829.00" fill="none" stroke="#d8921a" stroke-width="1.19" opacity="0.70"/>
<path d="M278.00,720.80 C278.67,723.67 280.67,732.47 282.00,738.00 C283.33,743.53 284.67,748.67 286.00,754.00 C287.33,759.33 288.60,764.42 290.00,770.00 C291.40,775.58 292.98,782.83 294.40,787.50 C295.82,792.17 297.08,794.87 298.50,798.00 C299.92,801.13 301.63,804.33 302.90,806.30 C304.17,808.27 305.08,809.52 306.10,809.80 C307.12,810.08 307.92,808.85 309.00,808.00 C310.08,807.15 311.52,806.53 312.60,804.70 C313.68,802.87 314.70,799.67 315.50,797.00 C316.30,794.33 316.82,790.53 317.40,788.70 C317.98,786.87 318.73,786.45 319.00,786.00" fill="none" stroke="#d8921a" stroke-width="3.38" opacity="0.45" filter="url(#bl1)"/>
<path d="M278.00,720.80 C278.67,723.67 280.67,732.47 282.00,738.00 C283.33,743.53 284.67,748.67 286.00,754.00 C287.33,759.33 288.60,764.42 290.00,770.00 C291.40,775.58 292.98,782.83 294.40,787.50 C295.82,792.17 297.08,794.87 298.50,798.00 C299.92,801.13 301.63,804.33 302.90,806.30 C304.17,808.27 305.08,809.52 306.10,809.80 C307.12,810.08 307.92,808.85 309.00,808.00 C310.08,807.15 311.52,806.53 312.60,804.70 C313.68,802.87 314.70,799.67 315.50,797.00 C316.30,794.33 316.82,790.53 317.40,788.70 C317.98,786.87 318.73,786.45 319.00,786.00" fill="none" stroke="#d8921a" stroke-width="1.10" opacity="0.70"/>
<path d="M304.50,808.00 C305.08,807.17 306.92,804.62 308.00,803.00 C309.08,801.38 309.92,800.13 311.00,798.30 C312.08,796.47 313.43,793.87 314.50,792.00 C315.57,790.13 316.62,788.22 317.40,787.10 C318.18,785.98 318.45,785.68 319.20,785.30 C319.95,784.92 320.77,784.77 321.90,784.80 C323.03,784.83 324.50,785.08 326.00,785.50 C327.50,785.92 328.80,785.92 330.90,787.30 C333.00,788.68 336.03,790.58 338.60,793.80 C341.17,797.02 343.93,801.88 346.30,806.60 C348.67,811.32 350.87,816.95 352.80,822.10 C354.73,827.25 356.18,832.35 357.90,837.50 C359.62,842.65 361.60,848.92 363.10,853.00 C364.60,857.08 365.62,859.85 366.90,862.00 C368.18,864.15 369.70,865.23 370.80,865.90 C371.90,866.57 372.63,866.65 373.50,866.00 C374.37,865.35 375.58,862.67 376.00,862.00" fill="none" stroke="#d8921a" stroke-width="3.64" opacity="0.45" filter="url(#bl1)"/>
<path d="M304.50,808.00 C305.08,807.17 306.92,804.62 308.00,803.00 C309.08,801.38 309.92,800.13 311.00,798.30 C312.08,796.47 313.43,793.87 314.50,792.00 C315.57,790.13 316.62,788.22 317.40,787.10 C318.18,785.98 318.45,785.68 319.20,785.30 C319.95,784.92 320.77,784.77 321.90,784.80 C323.03,784.83 324.50,785.08 326.00,785.50 C327.50,785.92 328.80,785.92 330.90,787.30 C333.00,788.68 336.03,790.58 338.60,793.80 C341.17,797.02 343.93,801.88 346.30,806.60 C348.67,811.32 350.87,816.95 352.80,822.10 C354.73,827.25 356.18,832.35 357.90,837.50 C359.62,842.65 361.60,848.92 363.10,853.00 C364.60,857.08 365.62,859.85 366.90,862.00 C368.18,864.15 369.70,865.23 370.80,865.90 C371.90,866.57 372.63,866.65 373.50,866.00 C374.37,865.35 375.58,862.67 376.00,862.00" fill="none" stroke="#d8921a" stroke-width="1.19" opacity="0.70"/>
<path d="M374.0,720.0 L392.0,720.0 L394.0,780.0 L392.0,815.0 L386.0,826.0 L376.0,826.0 Z" fill="#4a3000" opacity="0.55" filter="url(#bl4)"/>
<path d="M376.00,866.00 C376.33,866.12 377.00,869.20 378.00,866.70 C379.00,864.20 380.50,856.45 382.00,851.00 C383.50,845.55 385.42,839.50 387.00,834.00 C388.58,828.50 389.93,823.42 391.50,818.00 C393.07,812.58 394.57,807.67 396.40,801.50 C398.23,795.33 400.47,787.80 402.50,781.00 C404.53,774.20 406.90,766.45 408.60,760.70 C410.30,754.95 411.33,751.25 412.70,746.50 C414.07,741.75 415.75,735.62 416.80,732.20 C417.85,728.78 418.32,727.70 419.00,726.00 C419.68,724.30 420.58,722.67 420.90,722.00" fill="none" stroke="#d8921a" stroke-width="2.86" opacity="0.38" filter="url(#bl1)"/>
<path d="M376.00,866.00 C376.33,866.12 377.00,869.20 378.00,866.70 C379.00,864.20 380.50,856.45 382.00,851.00 C383.50,845.55 385.42,839.50 387.00,834.00 C388.58,828.50 389.93,823.42 391.50,818.00 C393.07,812.58 394.57,807.67 396.40,801.50 C398.23,795.33 400.47,787.80 402.50,781.00 C404.53,774.20 406.90,766.45 408.60,760.70 C410.30,754.95 411.33,751.25 412.70,746.50 C414.07,741.75 415.75,735.62 416.80,732.20 C417.85,728.78 418.32,727.70 419.00,726.00 C419.68,724.30 420.58,722.67 420.90,722.00" fill="none" stroke="#d8921a" stroke-width="0.94" opacity="0.59"/>
<path d="M379.00,867.00 C379.83,864.33 382.25,856.50 384.00,851.00 C385.75,845.50 387.83,839.50 389.50,834.00 C391.17,828.50 392.42,823.42 394.00,818.00 C395.58,812.58 397.17,807.67 399.00,801.50 C400.83,795.33 403.00,787.80 405.00,781.00 C407.00,774.20 409.33,766.45 411.00,760.70 C412.67,754.95 413.62,751.25 415.00,746.50 C416.38,741.75 418.22,735.62 419.30,732.20 C420.38,728.78 420.82,727.70 421.50,726.00 C422.18,724.30 423.08,722.67 423.40,722.00" fill="none" stroke="#d8921a" stroke-width="2.60" opacity="0.27" filter="url(#bl1)"/>
<path d="M379.00,867.00 C379.83,864.33 382.25,856.50 384.00,851.00 C385.75,845.50 387.83,839.50 389.50,834.00 C391.17,828.50 392.42,823.42 394.00,818.00 C395.58,812.58 397.17,807.67 399.00,801.50 C400.83,795.33 403.00,787.80 405.00,781.00 C407.00,774.20 409.33,766.45 411.00,760.70 C412.67,754.95 413.62,751.25 415.00,746.50 C416.38,741.75 418.22,735.62 419.30,732.20 C420.38,728.78 420.82,727.70 421.50,726.00 C422.18,724.30 423.08,722.67 423.40,722.00" fill="none" stroke="#d8921a" stroke-width="0.85" opacity="0.42"/>
<path d="M380.00,889.00 C381.00,886.33 384.00,878.33 386.00,873.00 C388.00,867.67 390.00,862.33 392.00,857.00 C394.00,851.67 395.90,846.17 398.00,841.00 C400.10,835.83 402.60,831.33 404.60,826.00 C406.60,820.67 408.27,814.50 410.00,809.00 C411.73,803.50 413.33,798.33 415.00,793.00 C416.67,787.67 418.33,782.38 420.00,777.00 C421.67,771.62 423.33,766.53 425.00,760.70 C426.67,754.87 428.33,748.12 430.00,742.00 C431.67,735.88 434.00,727.50 435.00,724.00 C436.00,720.50 435.83,721.50 436.00,721.00" fill="none" stroke="#d8921a" stroke-width="2.60" opacity="0.32" filter="url(#bl1)"/>
<path d="M380.00,889.00 C381.00,886.33 384.00,878.33 386.00,873.00 C388.00,867.67 390.00,862.33 392.00,857.00 C394.00,851.67 395.90,846.17 398.00,841.00 C400.10,835.83 402.60,831.33 404.60,826.00 C406.60,820.67 408.27,814.50 410.00,809.00 C411.73,803.50 413.33,798.33 415.00,793.00 C416.67,787.67 418.33,782.38 420.00,777.00 C421.67,771.62 423.33,766.53 425.00,760.70 C426.67,754.87 428.33,748.12 430.00,742.00 C431.67,735.88 434.00,727.50 435.00,724.00 C436.00,720.50 435.83,721.50 436.00,721.00" fill="none" stroke="#d8921a" stroke-width="0.85" opacity="0.49"/>
<path d="M383.00,889.00 C384.00,886.33 387.00,878.33 389.00,873.00 C391.00,867.67 393.00,862.33 395.00,857.00 C397.00,851.67 398.92,846.17 401.00,841.00 C403.08,835.83 406.42,828.50 407.50,826.00" fill="none" stroke="#d8921a" stroke-width="2.34" opacity="0.18" filter="url(#bl1)"/>
<path d="M383.00,889.00 C384.00,886.33 387.00,878.33 389.00,873.00 C391.00,867.67 393.00,862.33 395.00,857.00 C397.00,851.67 398.92,846.17 401.00,841.00 C403.08,835.83 406.42,828.50 407.50,826.00" fill="none" stroke="#d8921a" stroke-width="0.77" opacity="0.28"/>
<path d="M441.20,909.00 C441.50,902.50 442.32,884.52 443.00,870.00 C443.68,855.48 444.80,835.23 445.30,821.90 C445.80,808.57 445.83,801.88 446.00,790.00 C446.17,778.12 446.25,757.17 446.30,750.60" fill="none" stroke="#d8921a" stroke-width="2.60" opacity="0.23" filter="url(#bl1)"/>
<path d="M441.20,909.00 C441.50,902.50 442.32,884.52 443.00,870.00 C443.68,855.48 444.80,835.23 445.30,821.90 C445.80,808.57 445.83,801.88 446.00,790.00 C446.17,778.12 446.25,757.17 446.30,750.60" fill="none" stroke="#d8921a" stroke-width="0.85" opacity="0.35"/>
<path d="M396.40,805.60 C397.08,801.50 399.13,789.15 400.50,781.00 C401.87,772.85 403.92,760.75 404.60,756.70" fill="none" stroke="#4a3000" stroke-width="1.19" opacity="0.35"/>
<path d="M418.00,727.00 C418.33,726.33 418.83,723.92 420.00,723.00 C421.17,722.08 423.67,721.50 425.00,721.50 C426.33,721.50 427.83,722.08 428.00,723.00 C428.17,723.92 427.17,726.08 426.00,727.00 C424.83,727.92 422.33,728.50 421.00,728.50 C419.67,728.50 418.50,727.25 418.00,727.00" fill="none" stroke="#d8921a" stroke-width="3.38" opacity="0.32" filter="url(#bl1)"/>
<path d="M418.00,727.00 C418.33,726.33 418.83,723.92 420.00,723.00 C421.17,722.08 423.67,721.50 425.00,721.50 C426.33,721.50 427.83,722.08 428.00,723.00 C428.17,723.92 427.17,726.08 426.00,727.00 C424.83,727.92 422.33,728.50 421.00,728.50 C419.67,728.50 418.50,727.25 418.00,727.00" fill="none" stroke="#d8921a" stroke-width="1.10" opacity="0.49"/>
<path d="M430.00,909.00 C430.67,904.17 432.67,889.83 434.00,880.00 C435.33,870.17 436.67,860.00 438.00,850.00 C439.33,840.00 441.33,825.00 442.00,820.00" fill="none" stroke="#d8921a" stroke-width="2.34" opacity="0.14" filter="url(#bl1)"/>
<path d="M430.00,909.00 C430.67,904.17 432.67,889.83 434.00,880.00 C435.33,870.17 436.67,860.00 438.00,850.00 C439.33,840.00 441.33,825.00 442.00,820.00" fill="none" stroke="#d8921a" stroke-width="0.77" opacity="0.21"/>
<path d="M302.00,810.00 C302.68,810.73 305.02,812.73 306.10,814.40 C307.18,816.07 307.68,817.73 308.50,820.00 C309.32,822.27 310.08,823.83 311.00,828.00 C311.92,832.17 313.00,838.83 314.00,845.00 C315.00,851.17 316.17,858.33 317.00,865.00 C317.83,871.67 318.42,877.67 319.00,885.00 C319.58,892.33 320.25,905.00 320.50,909.00" fill="none" stroke="#d8921a" stroke-width="2.34" opacity="0.20" filter="url(#bl1)"/>
<path d="M302.00,810.00 C302.68,810.73 305.02,812.73 306.10,814.40 C307.18,816.07 307.68,817.73 308.50,820.00 C309.32,822.27 310.08,823.83 311.00,828.00 C311.92,832.17 313.00,838.83 314.00,845.00 C315.00,851.17 316.17,858.33 317.00,865.00 C317.83,871.67 318.42,877.67 319.00,885.00 C319.58,892.33 320.25,905.00 320.50,909.00" fill="none" stroke="#d8921a" stroke-width="0.77" opacity="0.32"/>
<path d="M269.50,770.00 C269.72,775.00 270.43,787.70 270.80,800.00 C271.17,812.30 270.83,832.13 271.70,843.80 C272.57,855.47 274.05,859.13 276.00,870.00 C277.95,880.87 282.17,902.50 283.40,909.00" fill="none" stroke="#d8921a" stroke-width="2.34" opacity="0.23" filter="url(#bl1)"/>
<path d="M269.50,770.00 C269.72,775.00 270.43,787.70 270.80,800.00 C271.17,812.30 270.83,832.13 271.70,843.80 C272.57,855.47 274.05,859.13 276.00,870.00 C277.95,880.87 282.17,902.50 283.40,909.00" fill="none" stroke="#d8921a" stroke-width="0.77" opacity="0.35"/>
</g>
<line x1="369.5" y1="843.5" x2="371.0" y2="854.4" stroke="#fff" stroke-width="3.0"/>
<path d="M371.9,860.8 L366.8,854.9 L375.2,853.8 Z" fill="#fff"/>
<line x1="321.30" y1="720.80" x2="321.30" y2="909.40" stroke="#2a1a00" stroke-width="1.0" />
<line x1="373.40" y1="720.80" x2="373.40" y2="909.40" stroke="#2a1a00" stroke-width="1.0" />
<line x1="268.40" y1="752.00" x2="277.40" y2="752.00" stroke="#2a1a00" stroke-width="1.1" />
<line x1="439.60" y1="752.00" x2="448.60" y2="752.00" stroke="#2a1a00" stroke-width="1.1" />
<line x1="268.40" y1="831.00" x2="277.40" y2="831.00" stroke="#2a1a00" stroke-width="1.1" />
<line x1="439.60" y1="831.00" x2="448.60" y2="831.00" stroke="#2a1a00" stroke-width="1.1" />
<rect x="268.4" y="720.8" width="180.2" height="188.6" fill="none" stroke="#6a6a6a" stroke-width="0.9"/>
<text x="265.8" y="756.3" font-size="14" text-anchor="end" fill="#222" font-weight="normal" >0.0</text>
<text x="265.8" y="836.2" font-size="14" text-anchor="end" fill="#222" font-weight="normal" >-0.25</text>
<text x="265.8" y="913.8" font-size="14" text-anchor="end" fill="#222" font-weight="normal" >-0.5</text>
<text x="359.3" y="713.9" font-size="17.0" text-anchor="middle" fill="#222" font-weight="normal" >Bottom surface</text>
<text x="268.4" y="930.8" font-size="16" text-anchor="middle" fill="#222" font-weight="normal" >Γ</text>
<line x1="263.65" y1="916.30" x2="273.15" y2="916.30" stroke="#222" stroke-width="1.1" />
<text x="321.3" y="930.8" font-size="16" text-anchor="middle" fill="#222" font-weight="normal" >X</text>
<line x1="316.55" y1="916.30" x2="326.05" y2="916.30" stroke="#222" stroke-width="1.1" />
<text x="373.4" y="930.8" font-size="16" text-anchor="middle" fill="#222" font-weight="normal" >M</text>
<line x1="367.15" y1="916.30" x2="379.65" y2="916.30" stroke="#222" stroke-width="1.1" />
<text x="448.6" y="930.8" font-size="16" text-anchor="middle" fill="#222" font-weight="normal" >Γ</text>
<line x1="443.85" y1="916.30" x2="453.35" y2="916.30" stroke="#222" stroke-width="1.1" />
<text x="0.0" y="0.0" font-size="14" text-anchor="middle" fill="#222" font-weight="normal" transform="translate(241.6,782.0) rotate(-90)">Energy (eV)</text>
<clipPath id="clipK"><rect x="504.3" y="474.1" width="175.1" height="184.8"/></clipPath>
<g clip-path="url(#clipK)">
<rect x="504.3" y="474.1" width="175.09999999999997" height="184.79999999999995" fill="url(#dotpat)"/>
<path d="M504.3,475.9 L510.1,475.9 L516.0,475.8 L521.8,475.8 L527.6,475.7 L533.5,475.6 L539.3,475.5 L545.2,475.4 L551.0,475.3 L556.8,475.2 L562.7,475.1 L568.5,475.0 L574.3,474.9 L580.2,474.9 L586.0,474.8 L591.9,474.8 L597.7,474.8 L603.5,474.9 L609.4,474.9 L615.2,475.0 L621.0,475.1 L626.9,475.2 L632.7,475.3 L638.5,475.4 L644.4,475.5 L650.2,475.6 L656.1,475.7 L661.9,475.8 L667.7,475.8 L673.6,475.9 L679.4,475.9" fill="none" stroke="#fff" stroke-width="2.5" opacity="0.69"/>
<path d="M504.3,483.7 L510.1,483.7 L516.0,483.6 L521.8,483.5 L527.6,483.3 L533.5,483.1 L539.3,482.9 L545.2,482.6 L551.0,482.3 L556.8,482.1 L562.7,481.8 L568.5,481.6 L574.3,481.4 L580.2,481.3 L586.0,481.2 L591.9,481.2 L597.7,481.2 L603.5,481.3 L609.4,481.4 L615.2,481.6 L621.0,481.8 L626.9,482.1 L632.7,482.3 L638.5,482.6 L644.4,482.9 L650.2,483.1 L656.1,483.3 L661.9,483.5 L667.7,483.6 L673.6,483.7 L679.4,483.7" fill="none" stroke="#fff" stroke-width="1.6" opacity="0.59"/>
<path d="M504.3,491.9 L510.1,492.0 L516.0,492.0 L521.8,492.1 L527.6,492.1 L533.5,492.2 L539.3,492.4 L545.2,492.5 L551.0,492.6 L556.8,492.7 L562.7,492.8 L568.5,492.9 L574.3,493.0 L580.2,493.1 L586.0,493.1 L591.9,493.1 L597.7,493.1 L603.5,493.1 L609.4,493.0 L615.2,492.9 L621.0,492.8 L626.9,492.7 L632.7,492.6 L638.5,492.5 L644.4,492.4 L650.2,492.2 L656.1,492.1 L661.9,492.1 L667.7,492.0 L673.6,492.0 L679.4,491.9" fill="none" stroke="#fff" stroke-width="1.9" opacity="0.76"/>
<path d="M504.3,493.9 L510.1,493.9 L516.0,493.7 L521.8,493.4 L527.6,493.0 L533.5,492.6 L539.3,492.1 L545.2,491.5 L551.0,491.0 L556.8,490.4 L562.7,489.9 L568.5,489.4 L574.3,489.1 L580.2,488.8 L586.0,488.6 L591.9,488.5 L597.7,488.6 L603.5,488.8 L609.4,489.1 L615.2,489.4 L621.0,489.9 L626.9,490.4 L632.7,491.0 L638.5,491.5 L644.4,492.1 L650.2,492.6 L656.1,493.0 L661.9,493.4 L667.7,493.7 L673.6,493.9 L679.4,493.9" fill="none" stroke="#fff" stroke-width="1.7" opacity="0.51"/>
<path d="M504.3,503.2 L510.1,503.3 L516.0,503.8 L521.8,504.5 L527.6,505.4 L533.5,506.6 L539.3,507.9 L545.2,509.3 L551.0,510.7 L556.8,512.1 L562.7,513.4 L568.5,514.6 L574.3,515.5 L580.2,516.2 L586.0,516.7 L591.9,516.8 L597.7,516.7 L603.5,516.2 L609.4,515.5 L615.2,514.6 L621.0,513.4 L626.9,512.1 L632.7,510.7 L638.5,509.3 L644.4,507.9 L650.2,506.6 L656.1,505.4 L661.9,504.5 L667.7,503.8 L673.6,503.3 L679.4,503.2" fill="none" stroke="#fff" stroke-width="1.3" opacity="0.81"/>
<path d="M504.3,509.6 L510.1,509.7 L516.0,510.0 L521.8,510.5 L527.6,511.1 L533.5,511.9 L539.3,512.8 L545.2,513.7 L551.0,514.7 L556.8,515.6 L562.7,516.5 L568.5,517.3 L574.3,517.9 L580.2,518.4 L586.0,518.7 L591.9,518.8 L597.7,518.7 L603.5,518.4 L609.4,517.9 L615.2,517.3 L621.0,516.5 L626.9,515.6 L632.7,514.7 L638.5,513.7 L644.4,512.8 L650.2,511.9 L656.1,511.1 L661.9,510.5 L667.7,510.0 L673.6,509.7 L679.4,509.6" fill="none" stroke="#fff" stroke-width="2.2" opacity="0.85"/>
<path d="M504.3,515.2 L510.1,515.1 L516.0,514.8 L521.8,514.2 L527.6,513.5 L533.5,512.7 L539.3,511.7 L545.2,510.7 L551.0,509.6 L556.8,508.6 L562.7,507.6 L568.5,506.8 L574.3,506.1 L580.2,505.5 L586.0,505.2 L591.9,505.1 L597.7,505.2 L603.5,505.5 L609.4,506.1 L615.2,506.8 L621.0,507.6 L626.9,508.6 L632.7,509.6 L638.5,510.7 L644.4,511.7 L650.2,512.7 L656.1,513.5 L661.9,514.2 L667.7,514.8 L673.6,515.1 L679.4,515.2" fill="none" stroke="#fff" stroke-width="2.2" opacity="0.73"/>
<path d="M504.3,522.6 L510.1,522.7 L516.0,523.0 L521.8,523.4 L527.6,524.0 L533.5,524.8 L539.3,525.6 L545.2,526.5 L551.0,527.4 L556.8,528.3 L562.7,529.2 L568.5,529.9 L574.3,530.5 L580.2,531.0 L586.0,531.3 L591.9,531.4 L597.7,531.3 L603.5,531.0 L609.4,530.5 L615.2,529.9 L621.0,529.2 L626.9,528.3 L632.7,527.4 L638.5,526.5 L644.4,525.6 L650.2,524.8 L656.1,524.0 L661.9,523.4 L667.7,523.0 L673.6,522.7 L679.4,522.6" fill="none" stroke="#fff" stroke-width="1.3" opacity="0.55"/>
<path d="M504.3,525.1 L510.1,524.9 L516.0,524.6 L521.8,524.0 L527.6,523.2 L533.5,522.3 L539.3,521.2 L545.2,520.1 L551.0,518.9 L556.8,517.8 L562.7,516.7 L568.5,515.7 L574.3,515.0 L580.2,514.4 L586.0,514.0 L591.9,513.9 L597.7,514.0 L603.5,514.4 L609.4,515.0 L615.2,515.7 L621.0,516.7 L626.9,517.8 L632.7,518.9 L638.5,520.1 L644.4,521.2 L650.2,522.3 L656.1,523.2 L661.9,524.0 L667.7,524.6 L673.6,524.9 L679.4,525.1" fill="none" stroke="#fff" stroke-width="2.3" opacity="0.84"/>
<path d="M504.3,532.2 L510.1,532.1 L516.0,531.7 L521.8,531.0 L527.6,530.0 L533.5,528.9 L539.3,527.6 L545.2,526.3 L551.0,524.9 L556.8,523.5 L562.7,522.2 L568.5,521.1 L574.3,520.2 L580.2,519.5 L586.0,519.0 L591.9,518.9 L597.7,519.0 L603.5,519.5 L609.4,520.2 L615.2,521.1 L621.0,522.2 L626.9,523.5 L632.7,524.9 L638.5,526.3 L644.4,527.6 L650.2,528.9 L656.1,530.0 L661.9,531.0 L667.7,531.7 L673.6,532.1 L679.4,532.2" fill="none" stroke="#fff" stroke-width="1.7" opacity="0.73"/>
<path d="M504.3,539.2 L510.1,539.0 L516.0,538.5 L521.8,537.7 L527.6,536.5 L533.5,535.2 L539.3,533.6 L545.2,532.0 L551.0,530.3 L556.8,528.6 L562.7,527.1 L568.5,525.7 L574.3,524.6 L580.2,523.7 L586.0,523.2 L591.9,523.0 L597.7,523.2 L603.5,523.7 L609.4,524.6 L615.2,525.7 L621.0,527.1 L626.9,528.6 L632.7,530.3 L638.5,532.0 L644.4,533.6 L650.2,535.2 L656.1,536.5 L661.9,537.7 L667.7,538.5 L673.6,539.0 L679.4,539.2" fill="none" stroke="#fff" stroke-width="2.5" opacity="0.51"/>
<path d="M504.3,543.9 L510.1,543.8 L516.0,543.7 L521.8,543.5 L527.6,543.2 L533.5,542.8 L539.3,542.4 L545.2,542.0 L551.0,541.5 L556.8,541.1 L562.7,540.7 L568.5,540.3 L574.3,540.0 L580.2,539.8 L586.0,539.7 L591.9,539.6 L597.7,539.7 L603.5,539.8 L609.4,540.0 L615.2,540.3 L621.0,540.7 L626.9,541.1 L632.7,541.5 L638.5,542.0 L644.4,542.4 L650.2,542.8 L656.1,543.2 L661.9,543.5 L667.7,543.7 L673.6,543.8 L679.4,543.9" fill="none" stroke="#fff" stroke-width="1.4" opacity="0.84"/>
<path d="M504.3,553.4 L510.1,553.2 L516.0,552.7 L521.8,551.8 L527.6,550.7 L533.5,549.3 L539.3,547.8 L545.2,546.1 L551.0,544.4 L556.8,542.8 L562.7,541.2 L568.5,539.9 L574.3,538.7 L580.2,537.9 L586.0,537.4 L591.9,537.2 L597.7,537.4 L603.5,537.9 L609.4,538.7 L615.2,539.9 L621.0,541.2 L626.9,542.8 L632.7,544.4 L638.5,546.1 L644.4,547.8 L650.2,549.3 L656.1,550.7 L661.9,551.8 L667.7,552.7 L673.6,553.2 L679.4,553.4" fill="none" stroke="#fff" stroke-width="1.3" opacity="0.76"/>
<path d="M504.3,557.9 L510.1,557.8 L516.0,557.4 L521.8,556.8 L527.6,556.0 L533.5,555.0 L539.3,553.9 L545.2,552.7 L551.0,551.4 L556.8,550.2 L562.7,549.1 L568.5,548.1 L574.3,547.3 L580.2,546.7 L586.0,546.3 L591.9,546.2 L597.7,546.3 L603.5,546.7 L609.4,547.3 L615.2,548.1 L621.0,549.1 L626.9,550.2 L632.7,551.4 L638.5,552.7 L644.4,553.9 L650.2,555.0 L656.1,556.0 L661.9,556.8 L667.7,557.4 L673.6,557.8 L679.4,557.9" fill="none" stroke="#fff" stroke-width="1.6" opacity="0.53"/>
<path d="M504.3,565.2 L510.1,565.1 L516.0,564.9 L521.8,564.6 L527.6,564.2 L533.5,563.7 L539.3,563.1 L545.2,562.5 L551.0,561.9 L556.8,561.3 L562.7,560.8 L568.5,560.3 L574.3,559.8 L580.2,559.5 L586.0,559.4 L591.9,559.3 L597.7,559.4 L603.5,559.5 L609.4,559.8 L615.2,560.3 L621.0,560.8 L626.9,561.3 L632.7,561.9 L638.5,562.5 L644.4,563.1 L650.2,563.7 L656.1,564.2 L661.9,564.6 L667.7,564.9 L673.6,565.1 L679.4,565.2" fill="none" stroke="#fff" stroke-width="1.7" opacity="0.53"/>
<path d="M504.3,571.5 L510.1,571.7 L516.0,572.0 L521.8,572.6 L527.6,573.4 L533.5,574.4 L539.3,575.5 L545.2,576.7 L551.0,577.9 L556.8,579.1 L562.7,580.2 L568.5,581.1 L574.3,582.0 L580.2,582.6 L586.0,582.9 L591.9,583.1 L597.7,582.9 L603.5,582.6 L609.4,582.0 L615.2,581.1 L621.0,580.2 L626.9,579.1 L632.7,577.9 L638.5,576.7 L644.4,575.5 L650.2,574.4 L656.1,573.4 L661.9,572.6 L667.7,572.0 L673.6,571.7 L679.4,571.5" fill="none" stroke="#fff" stroke-width="2.3" opacity="0.85"/>
<path d="M504.3,573.5 L510.1,573.5 L516.0,573.4 L521.8,573.4 L527.6,573.3 L533.5,573.2 L539.3,573.0 L545.2,572.9 L551.0,572.7 L556.8,572.6 L562.7,572.5 L568.5,572.3 L574.3,572.3 L580.2,572.2 L586.0,572.1 L591.9,572.1 L597.7,572.1 L603.5,572.2 L609.4,572.3 L615.2,572.3 L621.0,572.5 L626.9,572.6 L632.7,572.7 L638.5,572.9 L644.4,573.0 L650.2,573.2 L656.1,573.3 L661.9,573.4 L667.7,573.4 L673.6,573.5 L679.4,573.5" fill="none" stroke="#fff" stroke-width="1.7" opacity="0.73"/>
<path d="M504.3,582.2 L510.1,582.0 L516.0,581.7 L521.8,581.2 L527.6,580.5 L533.5,579.6 L539.3,578.7 L545.2,577.6 L551.0,576.6 L556.8,575.5 L562.7,574.6 L568.5,573.7 L574.3,573.0 L580.2,572.5 L586.0,572.1 L591.9,572.0 L597.7,572.1 L603.5,572.5 L609.4,573.0 L615.2,573.7 L621.0,574.6 L626.9,575.5 L632.7,576.6 L638.5,577.6 L644.4,578.7 L650.2,579.6 L656.1,580.5 L661.9,581.2 L667.7,581.7 L673.6,582.0 L679.4,582.2" fill="none" stroke="#fff" stroke-width="1.9" opacity="0.90"/>
<path d="M504.3,587.1 L510.1,587.3 L516.0,587.9 L521.8,588.7 L527.6,589.9 L533.5,591.4 L539.3,593.0 L545.2,594.7 L551.0,596.5 L556.8,598.2 L562.7,599.8 L568.5,601.2 L574.3,602.4 L580.2,603.3 L586.0,603.9 L591.9,604.0 L597.7,603.9 L603.5,603.3 L609.4,602.4 L615.2,601.2 L621.0,599.8 L626.9,598.2 L632.7,596.5 L638.5,594.7 L644.4,593.0 L650.2,591.4 L656.1,589.9 L661.9,588.7 L667.7,587.9 L673.6,587.3 L679.4,587.1" fill="none" stroke="#fff" stroke-width="1.9" opacity="0.88"/>
<path d="M504.3,596.5 L510.1,596.6 L516.0,596.8 L521.8,597.0 L527.6,597.4 L533.5,597.8 L539.3,598.3 L545.2,598.8 L551.0,599.3 L556.8,599.8 L562.7,600.3 L568.5,600.7 L574.3,601.1 L580.2,601.3 L586.0,601.5 L591.9,601.5 L597.7,601.5 L603.5,601.3 L609.4,601.1 L615.2,600.7 L621.0,600.3 L626.9,599.8 L632.7,599.3 L638.5,598.8 L644.4,598.3 L650.2,597.8 L656.1,597.4 L661.9,597.0 L667.7,596.8 L673.6,596.6 L679.4,596.5" fill="none" stroke="#fff" stroke-width="1.4" opacity="0.52"/>
<path d="M504.3,602.2 L510.1,602.2 L516.0,602.3 L521.8,602.4 L527.6,602.6 L533.5,602.8 L539.3,603.0 L545.2,603.2 L551.0,603.4 L556.8,603.7 L562.7,603.9 L568.5,604.1 L574.3,604.2 L580.2,604.3 L586.0,604.4 L591.9,604.4 L597.7,604.4 L603.5,604.3 L609.4,604.2 L615.2,604.1 L621.0,603.9 L626.9,603.7 L632.7,603.4 L638.5,603.2 L644.4,603.0 L650.2,602.8 L656.1,602.6 L661.9,602.4 L667.7,602.3 L673.6,602.2 L679.4,602.2" fill="none" stroke="#fff" stroke-width="2.5" opacity="0.65"/>
<path d="M504.3,606.3 L510.1,606.3 L516.0,606.3 L521.8,606.3 L527.6,606.2 L533.5,606.1 L539.3,606.1 L545.2,606.0 L551.0,605.9 L556.8,605.8 L562.7,605.7 L568.5,605.7 L574.3,605.6 L580.2,605.6 L586.0,605.6 L591.9,605.5 L597.7,605.6 L603.5,605.6 L609.4,605.6 L615.2,605.7 L621.0,605.7 L626.9,605.8 L632.7,605.9 L638.5,606.0 L644.4,606.1 L650.2,606.1 L656.1,606.2 L661.9,606.3 L667.7,606.3 L673.6,606.3 L679.4,606.3" fill="none" stroke="#fff" stroke-width="2.4" opacity="0.77"/>
<path d="M504.3,610.7 L510.1,610.5 L516.0,609.9 L521.8,608.9 L527.6,607.6 L533.5,606.0 L539.3,604.2 L545.2,602.3 L551.0,600.3 L556.8,598.4 L562.7,596.6 L568.5,595.0 L574.3,593.6 L580.2,592.6 L586.0,592.0 L591.9,591.8 L597.7,592.0 L603.5,592.6 L609.4,593.6 L615.2,595.0 L621.0,596.6 L626.9,598.4 L632.7,600.3 L638.5,602.3 L644.4,604.2 L650.2,606.0 L656.1,607.6 L661.9,608.9 L667.7,609.9 L673.6,610.5 L679.4,610.7" fill="none" stroke="#fff" stroke-width="1.6" opacity="0.75"/>
<path d="M504.3,619.9 L510.1,619.8 L516.0,619.5 L521.8,618.9 L527.6,618.2 L533.5,617.3 L539.3,616.3 L545.2,615.2 L551.0,614.1 L556.8,613.1 L562.7,612.1 L568.5,611.2 L574.3,610.4 L580.2,609.9 L586.0,609.6 L591.9,609.4 L597.7,609.6 L603.5,609.9 L609.4,610.4 L615.2,611.2 L621.0,612.1 L626.9,613.1 L632.7,614.1 L638.5,615.2 L644.4,616.3 L650.2,617.3 L656.1,618.2 L661.9,618.9 L667.7,619.5 L673.6,619.8 L679.4,619.9" fill="none" stroke="#fff" stroke-width="2.6" opacity="0.71"/>
<path d="M504.3,625.3 L510.1,625.4 L516.0,625.8 L521.8,626.4 L527.6,627.2 L533.5,628.2 L539.3,629.3 L545.2,630.5 L551.0,631.7 L556.8,632.9 L562.7,634.1 L568.5,635.0 L574.3,635.9 L580.2,636.5 L586.0,636.9 L591.9,637.0 L597.7,636.9 L603.5,636.5 L609.4,635.9 L615.2,635.0 L621.0,634.1 L626.9,632.9 L632.7,631.7 L638.5,630.5 L644.4,629.3 L650.2,628.2 L656.1,627.2 L661.9,626.4 L667.7,625.8 L673.6,625.4 L679.4,625.3" fill="none" stroke="#fff" stroke-width="2.6" opacity="0.63"/>
<path d="M504.3,630.6 L510.1,630.6 L516.0,630.5 L521.8,630.5 L527.6,630.4 L533.5,630.3 L539.3,630.2 L545.2,630.1 L551.0,630.0 L556.8,629.9 L562.7,629.8 L568.5,629.7 L574.3,629.6 L580.2,629.5 L586.0,629.5 L591.9,629.5 L597.7,629.5 L603.5,629.5 L609.4,629.6 L615.2,629.7 L621.0,629.8 L626.9,629.9 L632.7,630.0 L638.5,630.1 L644.4,630.2 L650.2,630.3 L656.1,630.4 L661.9,630.5 L667.7,630.5 L673.6,630.6 L679.4,630.6" fill="none" stroke="#fff" stroke-width="1.3" opacity="0.75"/>
<path d="M504.3,637.2 L510.1,637.1 L516.0,637.0 L521.8,636.8 L527.6,636.5 L533.5,636.1 L539.3,635.7 L545.2,635.2 L551.0,634.8 L556.8,634.4 L562.7,633.9 L568.5,633.6 L574.3,633.3 L580.2,633.1 L586.0,632.9 L591.9,632.9 L597.7,632.9 L603.5,633.1 L609.4,633.3 L615.2,633.6 L621.0,633.9 L626.9,634.4 L632.7,634.8 L638.5,635.2 L644.4,635.7 L650.2,636.1 L656.1,636.5 L661.9,636.8 L667.7,637.0 L673.6,637.1 L679.4,637.2" fill="none" stroke="#fff" stroke-width="2.1" opacity="0.61"/>
<path d="M504.3,643.4 L510.1,643.4 L516.0,643.3 L521.8,643.1 L527.6,642.9 L533.5,642.6 L539.3,642.2 L545.2,641.8 L551.0,641.5 L556.8,641.1 L562.7,640.8 L568.5,640.5 L574.3,640.2 L580.2,640.0 L586.0,639.9 L591.9,639.9 L597.7,639.9 L603.5,640.0 L609.4,640.2 L615.2,640.5 L621.0,640.8 L626.9,641.1 L632.7,641.5 L638.5,641.8 L644.4,642.2 L650.2,642.6 L656.1,642.9 L661.9,643.1 L667.7,643.3 L673.6,643.4 L679.4,643.4" fill="none" stroke="#fff" stroke-width="1.2" opacity="0.65"/>
<path d="M504.3,650.3 L510.1,650.4 L516.0,650.6 L521.8,651.1 L527.6,651.6 L533.5,652.3 L539.3,653.1 L545.2,653.9 L551.0,654.7 L556.8,655.6 L562.7,656.3 L568.5,657.0 L574.3,657.6 L580.2,658.0 L586.0,658.3 L591.9,658.3 L597.7,658.3 L603.5,658.0 L609.4,657.6 L615.2,657.0 L621.0,656.3 L626.9,655.6 L632.7,654.7 L638.5,653.9 L644.4,653.1 L650.2,652.3 L656.1,651.6 L661.9,651.1 L667.7,650.6 L673.6,650.4 L679.4,650.3" fill="none" stroke="#fff" stroke-width="1.6" opacity="0.65"/>
<path d="M504.3,654.9 L510.1,655.0 L516.0,655.1 L521.8,655.4 L527.6,655.8 L533.5,656.2 L539.3,656.7 L545.2,657.2 L551.0,657.8 L556.8,658.3 L562.7,658.8 L568.5,659.3 L574.3,659.6 L580.2,659.9 L586.0,660.1 L591.9,660.1 L597.7,660.1 L603.5,659.9 L609.4,659.6 L615.2,659.3 L621.0,658.8 L626.9,658.3 L632.7,657.8 L638.5,657.2 L644.4,656.7 L650.2,656.2 L656.1,655.8 L661.9,655.4 L667.7,655.1 L673.6,655.0 L679.4,654.9" fill="none" stroke="#fff" stroke-width="1.6" opacity="0.81"/>
<path d="M504.3,467.2 L507.2,467.1 L510.1,467.0 L513.1,466.8 L516.0,466.6 L518.9,466.3 L521.8,466.0 L524.7,465.6 L527.6,465.2 L530.6,464.8 L533.5,464.4 L536.4,464.0 L539.3,463.7 L542.2,463.4 L545.2,463.1 L548.1,462.9 L551.0,462.7 L553.9,462.6 L556.8,462.5 L559.7,462.5 L562.7,462.6 L565.6,462.6 L568.5,462.7 L571.4,462.8 L574.3,463.0 L577.3,463.1 L580.2,463.2 L583.1,463.3 L586.0,463.4 L588.9,463.4 L591.9,463.5 L594.8,463.4 L597.7,463.4 L600.6,463.3 L603.5,463.2 L606.4,463.1 L609.4,463.0 L612.3,462.8 L615.2,462.7 L618.1,462.6 L621.0,462.6 L624.0,462.5 L626.9,462.5 L629.8,462.6 L632.7,462.7 L635.6,462.9 L638.5,463.1 L641.5,463.4 L644.4,463.7 L647.3,464.0 L650.2,464.4 L653.1,464.8 L656.1,465.2 L659.0,465.6 L661.9,466.0 L664.8,466.3 L667.7,466.6 L670.6,466.8 L673.6,467.0 L676.5,467.1 L679.4,467.2 M504.3,471.0 L507.2,471.0 L510.1,471.2 L513.1,471.4 L516.0,471.6 L518.9,472.0 L521.8,472.3 L524.7,472.7 L527.6,473.0 L530.6,473.3 L533.5,473.6 L536.4,473.7 L539.3,473.8 L542.2,473.7 L545.2,473.5 L548.1,473.2 L551.0,472.8 L553.9,472.2 L556.8,471.5 L559.7,470.7 L562.7,469.9 L565.6,469.0 L568.5,468.1 L571.4,467.2 L574.3,466.3 L577.3,465.6 L580.2,464.9 L583.1,464.3 L586.0,463.9 L588.9,463.7 L591.9,463.6 L594.8,463.7 L597.7,463.9 L600.6,464.3 L603.5,464.9 L606.4,465.6 L609.4,466.3 L612.3,467.2 L615.2,468.1 L618.1,469.0 L621.0,469.9 L624.0,470.7 L626.9,471.5 L629.8,472.2 L632.7,472.8 L635.6,473.2 L638.5,473.5 L641.5,473.7 L644.4,473.8 L647.3,473.7 L650.2,473.6 L653.1,473.3 L656.1,473.0 L659.0,472.7 L661.9,472.3 L664.8,472.0 L667.7,471.6 L670.6,471.4 L673.6,471.2 L676.5,471.0 L679.4,471.0 M504.3,475.5 L507.2,475.7 L510.1,476.0 L513.1,476.5 L516.0,477.2 L518.9,478.1 L521.8,479.1 L524.7,480.2 L527.6,481.4 L530.6,482.6 L533.5,483.8 L536.4,484.9 L539.3,485.9 L542.2,486.8 L545.2,487.6 L548.1,488.2 L551.0,488.7 L553.9,489.0 L556.8,489.1 L559.7,489.1 L562.7,488.9 L565.6,488.6 L568.5,488.3 L571.4,487.9 L574.3,487.5 L577.3,487.0 L580.2,486.6 L583.1,486.3 L586.0,486.1 L588.9,485.9 L591.9,485.8 L594.8,485.9 L597.7,486.1 L600.6,486.3 L603.5,486.6 L606.4,487.0 L609.4,487.5 L612.3,487.9 L615.2,488.3 L618.1,488.6 L621.0,488.9 L624.0,489.1 L626.9,489.1 L629.8,489.0 L632.7,488.7 L635.6,488.2 L638.5,487.6 L641.5,486.8 L644.4,485.9 L647.3,484.9 L650.2,483.8 L653.1,482.6 L656.1,481.4 L659.0,480.2 L661.9,479.1 L664.8,478.1 L667.7,477.2 L670.6,476.5 L673.6,476.0 L676.5,475.7 L679.4,475.5 M504.3,487.3 L507.2,487.2 L510.1,487.0 L513.1,486.5 L516.0,486.0 L518.9,485.3 L521.8,484.5 L524.7,483.6 L527.6,482.7 L530.6,481.9 L533.5,481.0 L536.4,480.3 L539.3,479.7 L542.2,479.2 L545.2,478.9 L548.1,478.7 L551.0,478.7 L553.9,478.9 L556.8,479.2 L559.7,479.7 L562.7,480.3 L565.6,481.0 L568.5,481.7 L571.4,482.5 L574.3,483.3 L577.3,484.0 L580.2,484.6 L583.1,485.1 L586.0,485.5 L588.9,485.8 L591.9,485.9 L594.8,485.8 L597.7,485.5 L600.6,485.1 L603.5,484.6 L606.4,484.0 L609.4,483.3 L612.3,482.5 L615.2,481.7 L618.1,481.0 L621.0,480.3 L624.0,479.7 L626.9,479.2 L629.8,478.9 L632.7,478.7 L635.6,478.7 L638.5,478.9 L641.5,479.2 L644.4,479.7 L647.3,480.3 L650.2,481.0 L653.1,481.9 L656.1,482.7 L659.0,483.6 L661.9,484.5 L664.8,485.3 L667.7,486.0 L670.6,486.5 L673.6,487.0 L676.5,487.2 L679.4,487.3 M504.3,495.4 L507.2,495.4 L510.1,495.4 L513.1,495.3 L516.0,495.2 L518.9,495.1 L521.8,495.1 L524.7,495.0 L527.6,495.0 L530.6,495.1 L533.5,495.2 L536.4,495.5 L539.3,495.9 L542.2,496.3 L545.2,497.0 L548.1,497.7 L551.0,498.5 L553.9,499.5 L556.8,500.5 L559.7,501.6 L562.7,502.7 L565.6,503.9 L568.5,505.0 L571.4,506.1 L574.3,507.1 L577.3,508.1 L580.2,508.9 L583.1,509.5 L586.0,510.0 L588.9,510.3 L591.9,510.4 L594.8,510.3 L597.7,510.0 L600.6,509.5 L603.5,508.9 L606.4,508.1 L609.4,507.1 L612.3,506.1 L615.2,505.0 L618.1,503.9 L621.0,502.7 L624.0,501.6 L626.9,500.5 L629.8,499.5 L632.7,498.5 L635.6,497.7 L638.5,497.0 L641.5,496.3 L644.4,495.9 L647.3,495.5 L650.2,495.2 L653.1,495.1 L656.1,495.0 L659.0,495.0 L661.9,495.1 L664.8,495.1 L667.7,495.2 L670.6,495.3 L673.6,495.4 L676.5,495.4 L679.4,495.4 M504.3,497.3 L507.2,497.2 L510.1,497.2 L513.1,497.1 L516.0,496.9 L518.9,496.7 L521.8,496.5 L524.7,496.2 L527.6,495.9 L530.6,495.4 L533.5,494.9 L536.4,494.4 L539.3,493.8 L542.2,493.1 L545.2,492.3 L548.1,491.5 L551.0,490.6 L553.9,489.7 L556.8,488.8 L559.7,487.8 L562.7,486.9 L565.6,485.9 L568.5,485.0 L571.4,484.2 L574.3,483.4 L577.3,482.7 L580.2,482.2 L583.1,481.7 L586.0,481.4 L588.9,481.1 L591.9,481.1 L594.8,481.1 L597.7,481.4 L600.6,481.7 L603.5,482.2 L606.4,482.7 L609.4,483.4 L612.3,484.2 L615.2,485.0 L618.1,485.9 L621.0,486.9 L624.0,487.8 L626.9,488.8 L629.8,489.7 L632.7,490.6 L635.6,491.5 L638.5,492.3 L641.5,493.1 L644.4,493.8 L647.3,494.4 L650.2,494.9 L653.1,495.4 L656.1,495.9 L659.0,496.2 L661.9,496.5 L664.8,496.7 L667.7,496.9 L670.6,497.1 L673.6,497.2 L676.5,497.2 L679.4,497.3 M504.3,503.3 L507.2,503.2 L510.1,503.0 L513.1,502.5 L516.0,501.9 L518.9,501.2 L521.8,500.3 L524.7,499.2 L527.6,498.1 L530.6,497.0 L533.5,495.7 L536.4,494.4 L539.3,493.2 L542.2,491.9 L545.2,490.7 L548.1,489.5 L551.0,488.3 L553.9,487.3 L556.8,486.3 L559.7,485.4 L562.7,484.6 L565.6,483.8 L568.5,483.2 L571.4,482.7 L574.3,482.2 L577.3,481.8 L580.2,481.5 L583.1,481.3 L586.0,481.2 L588.9,481.1 L591.9,481.0 L594.8,481.1 L597.7,481.2 L600.6,481.3 L603.5,481.5 L606.4,481.8 L609.4,482.2 L612.3,482.7 L615.2,483.2 L618.1,483.8 L621.0,484.6 L624.0,485.4 L626.9,486.3 L629.8,487.3 L632.7,488.3 L635.6,489.5 L638.5,490.7 L641.5,491.9 L644.4,493.2 L647.3,494.4 L650.2,495.7 L653.1,497.0 L656.1,498.1 L659.0,499.2 L661.9,500.3 L664.8,501.2 L667.7,501.9 L670.6,502.5 L673.6,503.0 L676.5,503.2 L679.4,503.3 M504.3,509.9 L507.2,509.9 L510.1,510.0 L513.1,510.1 L516.0,510.3 L518.9,510.5 L521.8,510.7 L524.7,510.9 L527.6,511.1 L530.6,511.3 L533.5,511.5 L536.4,511.6 L539.3,511.8 L542.2,511.8 L545.2,511.9 L548.1,511.8 L551.0,511.7 L553.9,511.6 L556.8,511.4 L559.7,511.2 L562.7,510.9 L565.6,510.6 L568.5,510.4 L571.4,510.1 L574.3,509.8 L577.3,509.5 L580.2,509.3 L583.1,509.1 L586.0,508.9 L588.9,508.8 L591.9,508.8 L594.8,508.8 L597.7,508.9 L600.6,509.1 L603.5,509.3 L606.4,509.5 L609.4,509.8 L612.3,510.1 L615.2,510.4 L618.1,510.6 L621.0,510.9 L624.0,511.2 L626.9,511.4 L629.8,511.6 L632.7,511.7 L635.6,511.8 L638.5,511.9 L641.5,511.8 L644.4,511.8 L647.3,511.6 L650.2,511.5 L653.1,511.3 L656.1,511.1 L659.0,510.9 L661.9,510.7 L664.8,510.5 L667.7,510.3 L670.6,510.1 L673.6,510.0 L676.5,509.9 L679.4,509.9 M504.3,517.3 L507.2,517.2 L510.1,517.1 L513.1,516.9 L516.0,516.6 L518.9,516.2 L521.8,515.8 L524.7,515.3 L527.6,514.8 L530.6,514.3 L533.5,513.8 L536.4,513.3 L539.3,512.9 L542.2,512.5 L545.2,512.1 L548.1,511.8 L551.0,511.6 L553.9,511.5 L556.8,511.4 L559.7,511.3 L562.7,511.4 L565.6,511.5 L568.5,511.6 L571.4,511.7 L574.3,511.9 L577.3,512.0 L580.2,512.2 L583.1,512.3 L586.0,512.4 L588.9,512.4 L591.9,512.5 L594.8,512.4 L597.7,512.4 L600.6,512.3 L603.5,512.2 L606.4,512.0 L609.4,511.9 L612.3,511.7 L615.2,511.6 L618.1,511.5 L621.0,511.4 L624.0,511.3 L626.9,511.4 L629.8,511.5 L632.7,511.6 L635.6,511.8 L638.5,512.1 L641.5,512.5 L644.4,512.9 L647.3,513.3 L650.2,513.8 L653.1,514.3 L656.1,514.8 L659.0,515.3 L661.9,515.8 L664.8,516.2 L667.7,516.6 L670.6,516.9 L673.6,517.1 L676.5,517.2 L679.4,517.3 M504.3,521.1 L507.2,521.1 L510.1,521.1 L513.1,521.1 L516.0,521.1 L518.9,521.0 L521.8,521.0 L524.7,520.9 L527.6,520.8 L530.6,520.7 L533.5,520.6 L536.4,520.4 L539.3,520.3 L542.2,520.1 L545.2,519.8 L548.1,519.6 L551.0,519.3 L553.9,519.0 L556.8,518.7 L559.7,518.4 L562.7,518.1 L565.6,517.8 L568.5,517.5 L571.4,517.2 L574.3,516.9 L577.3,516.7 L580.2,516.5 L583.1,516.4 L586.0,516.2 L588.9,516.2 L591.9,516.1 L594.8,516.2 L597.7,516.2 L600.6,516.4 L603.5,516.5 L606.4,516.7 L609.4,516.9 L612.3,517.2 L615.2,517.5 L618.1,517.8 L621.0,518.1 L624.0,518.4 L626.9,518.7 L629.8,519.0 L632.7,519.3 L635.6,519.6 L638.5,519.8 L641.5,520.1 L644.4,520.3 L647.3,520.4 L650.2,520.6 L653.1,520.7 L656.1,520.8 L659.0,520.9 L661.9,521.0 L664.8,521.0 L667.7,521.1 L670.6,521.1 L673.6,521.1 L676.5,521.1 L679.4,521.1 M504.3,526.1 L507.2,526.1 L510.1,526.3 L513.1,526.5 L516.0,526.8 L518.9,527.2 L521.8,527.6 L524.7,528.0 L527.6,528.5 L530.6,528.9 L533.5,529.3 L536.4,529.7 L539.3,529.9 L542.2,530.1 L545.2,530.2 L548.1,530.2 L551.0,530.1 L553.9,529.8 L556.8,529.5 L559.7,529.1 L562.7,528.7 L565.6,528.2 L568.5,527.6 L571.4,527.1 L574.3,526.5 L577.3,526.1 L580.2,525.6 L583.1,525.3 L586.0,525.0 L588.9,524.8 L591.9,524.8 L594.8,524.8 L597.7,525.0 L600.6,525.3 L603.5,525.6 L606.4,526.1 L609.4,526.5 L612.3,527.1 L615.2,527.6 L618.1,528.2 L621.0,528.7 L624.0,529.1 L626.9,529.5 L629.8,529.8 L632.7,530.1 L635.6,530.2 L638.5,530.2 L641.5,530.1 L644.4,529.9 L647.3,529.7 L650.2,529.3 L653.1,528.9 L656.1,528.5 L659.0,528.0 L661.9,527.6 L664.8,527.2 L667.7,526.8 L670.6,526.5 L673.6,526.3 L676.5,526.1 L679.4,526.1 M504.3,531.6 L507.2,531.7 L510.1,531.9 L513.1,532.3 L516.0,532.8 L518.9,533.5 L521.8,534.2 L524.7,535.1 L527.6,536.0 L530.6,536.9 L533.5,537.9 L536.4,538.9 L539.3,539.8 L542.2,540.7 L545.2,541.5 L548.1,542.3 L551.0,543.0 L553.9,543.6 L556.8,544.1 L559.7,544.5 L562.7,544.8 L565.6,545.0 L568.5,545.2 L571.4,545.3 L574.3,545.4 L577.3,545.4 L580.2,545.4 L583.1,545.4 L586.0,545.4 L588.9,545.4 L591.9,545.4 L594.8,545.4 L597.7,545.4 L600.6,545.4 L603.5,545.4 L606.4,545.4 L609.4,545.4 L612.3,545.3 L615.2,545.2 L618.1,545.0 L621.0,544.8 L624.0,544.5 L626.9,544.1 L629.8,543.6 L632.7,543.0 L635.6,542.3 L638.5,541.5 L641.5,540.7 L644.4,539.8 L647.3,538.9 L650.2,537.9 L653.1,536.9 L656.1,536.0 L659.0,535.1 L661.9,534.2 L664.8,533.5 L667.7,532.8 L670.6,532.3 L673.6,531.9 L676.5,531.7 L679.4,531.6 M504.3,538.7 L507.2,538.7 L510.1,538.5 L513.1,538.1 L516.0,537.7 L518.9,537.1 L521.8,536.4 L524.7,535.6 L527.6,534.7 L530.6,533.7 L533.5,532.7 L536.4,531.6 L539.3,530.5 L542.2,529.3 L545.2,528.2 L548.1,527.0 L551.0,525.9 L553.9,524.8 L556.8,523.7 L559.7,522.7 L562.7,521.8 L565.6,520.9 L568.5,520.1 L571.4,519.4 L574.3,518.7 L577.3,518.2 L580.2,517.7 L583.1,517.4 L586.0,517.1 L588.9,517.0 L591.9,516.9 L594.8,517.0 L597.7,517.1 L600.6,517.4 L603.5,517.7 L606.4,518.2 L609.4,518.7 L612.3,519.4 L615.2,520.1 L618.1,520.9 L621.0,521.8 L624.0,522.7 L626.9,523.7 L629.8,524.8 L632.7,525.9 L635.6,527.0 L638.5,528.2 L641.5,529.3 L644.4,530.5 L647.3,531.6 L650.2,532.7 L653.1,533.7 L656.1,534.7 L659.0,535.6 L661.9,536.4 L664.8,537.1 L667.7,537.7 L670.6,538.1 L673.6,538.5 L676.5,538.7 L679.4,538.7 M504.3,542.8 L507.2,542.8 L510.1,542.9 L513.1,543.0 L516.0,543.2 L518.9,543.3 L521.8,543.5 L524.7,543.6 L527.6,543.7 L530.6,543.8 L533.5,543.7 L536.4,543.6 L539.3,543.3 L542.2,542.9 L545.2,542.4 L548.1,541.7 L551.0,540.9 L553.9,540.0 L556.8,539.0 L559.7,537.9 L562.7,536.8 L565.6,535.6 L568.5,534.4 L571.4,533.3 L574.3,532.2 L577.3,531.3 L580.2,530.4 L583.1,529.8 L586.0,529.3 L588.9,529.0 L591.9,528.9 L594.8,529.0 L597.7,529.3 L600.6,529.8 L603.5,530.4 L606.4,531.3 L609.4,532.2 L612.3,533.3 L615.2,534.4 L618.1,535.6 L621.0,536.8 L624.0,537.9 L626.9,539.0 L629.8,540.0 L632.7,540.9 L635.6,541.7 L638.5,542.4 L641.5,542.9 L644.4,543.3 L647.3,543.6 L650.2,543.7 L653.1,543.8 L656.1,543.7 L659.0,543.6 L661.9,543.5 L664.8,543.3 L667.7,543.2 L670.6,543.0 L673.6,542.9 L676.5,542.8 L679.4,542.8 M504.3,550.2 L507.2,550.2 L510.1,550.2 L513.1,550.2 L516.0,550.2 L518.9,550.2 L521.8,550.1 L524.7,550.1 L527.6,550.0 L530.6,549.9 L533.5,549.7 L536.4,549.6 L539.3,549.3 L542.2,549.0 L545.2,548.7 L548.1,548.4 L551.0,548.0 L553.9,547.5 L556.8,547.1 L559.7,546.6 L562.7,546.1 L565.6,545.6 L568.5,545.2 L571.4,544.7 L574.3,544.3 L577.3,543.9 L580.2,543.6 L583.1,543.3 L586.0,543.1 L588.9,543.0 L591.9,543.0 L594.8,543.0 L597.7,543.1 L600.6,543.3 L603.5,543.6 L606.4,543.9 L609.4,544.3 L612.3,544.7 L615.2,545.2 L618.1,545.6 L621.0,546.1 L624.0,546.6 L626.9,547.1 L629.8,547.5 L632.7,548.0 L635.6,548.4 L638.5,548.7 L641.5,549.0 L644.4,549.3 L647.3,549.6 L650.2,549.7 L653.1,549.9 L656.1,550.0 L659.0,550.1 L661.9,550.1 L664.8,550.2 L667.7,550.2 L670.6,550.2 L673.6,550.2 L676.5,550.2 L679.4,550.2 M504.3,556.3 L507.2,556.4 L510.1,556.5 L513.1,556.7 L516.0,556.9 L518.9,557.2 L521.8,557.5 L524.7,557.8 L527.6,558.2 L530.6,558.5 L533.5,558.8 L536.4,559.0 L539.3,559.1 L542.2,559.2 L545.2,559.1 L548.1,559.0 L551.0,558.8 L553.9,558.4 L556.8,558.0 L559.7,557.6 L562.7,557.0 L565.6,556.4 L568.5,555.9 L571.4,555.3 L574.3,554.7 L577.3,554.2 L580.2,553.7 L583.1,553.4 L586.0,553.1 L588.9,552.9 L591.9,552.9 L594.8,552.9 L597.7,553.1 L600.6,553.4 L603.5,553.7 L606.4,554.2 L609.4,554.7 L612.3,555.3 L615.2,555.9 L618.1,556.4 L621.0,557.0 L624.0,557.6 L626.9,558.0 L629.8,558.4 L632.7,558.8 L635.6,559.0 L638.5,559.1 L641.5,559.2 L644.4,559.1 L647.3,559.0 L650.2,558.8 L653.1,558.5 L656.1,558.2 L659.0,557.8 L661.9,557.5 L664.8,557.2 L667.7,556.9 L670.6,556.7 L673.6,556.5 L676.5,556.4 L679.4,556.3 M504.3,564.6 L507.2,564.5 L510.1,564.4 L513.1,564.1 L516.0,563.7 L518.9,563.3 L521.8,562.8 L524.7,562.2 L527.6,561.5 L530.6,560.8 L533.5,560.1 L536.4,559.4 L539.3,558.7 L542.2,558.1 L545.2,557.4 L548.1,556.8 L551.0,556.3 L553.9,555.8 L556.8,555.3 L559.7,554.9 L562.7,554.6 L565.6,554.3 L568.5,554.1 L571.4,553.9 L574.3,553.8 L577.3,553.7 L580.2,553.6 L583.1,553.6 L586.0,553.5 L588.9,553.5 L591.9,553.5 L594.8,553.5 L597.7,553.5 L600.6,553.6 L603.5,553.6 L606.4,553.7 L609.4,553.8 L612.3,553.9 L615.2,554.1 L618.1,554.3 L621.0,554.6 L624.0,554.9 L626.9,555.3 L629.8,555.8 L632.7,556.3 L635.6,556.8 L638.5,557.4 L641.5,558.1 L644.4,558.7 L647.3,559.4 L650.2,560.1 L653.1,560.8 L656.1,561.5 L659.0,562.2 L661.9,562.8 L664.8,563.3 L667.7,563.7 L670.6,564.1 L673.6,564.4 L676.5,564.5 L679.4,564.6 M504.3,571.0 L507.2,570.9 L510.1,570.7 L513.1,570.4 L516.0,570.1 L518.9,569.6 L521.8,569.1 L524.7,568.6 L527.6,568.1 L530.6,567.6 L533.5,567.1 L536.4,566.7 L539.3,566.4 L542.2,566.3 L545.2,566.2 L548.1,566.3 L551.0,566.6 L553.9,566.9 L556.8,567.4 L559.7,568.0 L562.7,568.7 L565.6,569.4 L568.5,570.1 L571.4,570.9 L574.3,571.6 L577.3,572.3 L580.2,572.9 L583.1,573.4 L586.0,573.8 L588.9,574.0 L591.9,574.1 L594.8,574.0 L597.7,573.8 L600.6,573.4 L603.5,572.9 L606.4,572.3 L609.4,571.6 L612.3,570.9 L615.2,570.1 L618.1,569.4 L621.0,568.7 L624.0,568.0 L626.9,567.4 L629.8,566.9 L632.7,566.6 L635.6,566.3 L638.5,566.2 L641.5,566.3 L644.4,566.4 L647.3,566.7 L650.2,567.1 L653.1,567.6 L656.1,568.1 L659.0,568.6 L661.9,569.1 L664.8,569.6 L667.7,570.1 L670.6,570.4 L673.6,570.7 L676.5,570.9 L679.4,571.0 M504.3,577.2 L507.2,577.2 L510.1,577.3 L513.1,577.4 L516.0,577.6 L518.9,577.8 L521.8,578.1 L524.7,578.4 L527.6,578.7 L530.6,579.1 L533.5,579.6 L536.4,580.1 L539.3,580.6 L542.2,581.1 L545.2,581.6 L548.1,582.2 L551.0,582.7 L553.9,583.3 L556.8,583.9 L559.7,584.4 L562.7,584.9 L565.6,585.4 L568.5,585.9 L571.4,586.3 L574.3,586.7 L577.3,587.1 L580.2,587.3 L583.1,587.6 L586.0,587.7 L588.9,587.8 L591.9,587.8 L594.8,587.8 L597.7,587.7 L600.6,587.6 L603.5,587.3 L606.4,587.1 L609.4,586.7 L612.3,586.3 L615.2,585.9 L618.1,585.4 L621.0,584.9 L624.0,584.4 L626.9,583.9 L629.8,583.3 L632.7,582.7 L635.6,582.2 L638.5,581.6 L641.5,581.1 L644.4,580.6 L647.3,580.1 L650.2,579.6 L653.1,579.1 L656.1,578.7 L659.0,578.4 L661.9,578.1 L664.8,577.8 L667.7,577.6 L670.6,577.4 L673.6,577.3 L676.5,577.2 L679.4,577.2 M504.3,584.1 L507.2,584.0 L510.1,583.9 L513.1,583.6 L516.0,583.2 L518.9,582.7 L521.8,582.1 L524.7,581.5 L527.6,580.8 L530.6,580.1 L533.5,579.4 L536.4,578.7 L539.3,578.1 L542.2,577.5 L545.2,577.0 L548.1,576.5 L551.0,576.1 L553.9,575.8 L556.8,575.6 L559.7,575.5 L562.7,575.4 L565.6,575.4 L568.5,575.4 L571.4,575.5 L574.3,575.6 L577.3,575.7 L580.2,575.8 L583.1,575.9 L586.0,576.0 L588.9,576.1 L591.9,576.1 L594.8,576.1 L597.7,576.0 L600.6,575.9 L603.5,575.8 L606.4,575.7 L609.4,575.6 L612.3,575.5 L615.2,575.4 L618.1,575.4 L621.0,575.4 L624.0,575.5 L626.9,575.6 L629.8,575.8 L632.7,576.1 L635.6,576.5 L638.5,577.0 L641.5,577.5 L644.4,578.1 L647.3,578.7 L650.2,579.4 L653.1,580.1 L656.1,580.8 L659.0,581.5 L661.9,582.1 L664.8,582.7 L667.7,583.2 L670.6,583.6 L673.6,583.9 L676.5,584.0 L679.4,584.1 M504.3,585.1 L507.2,585.1 L510.1,585.2 L513.1,585.3 L516.0,585.4 L518.9,585.6 L521.8,585.8 L524.7,586.0 L527.6,586.2 L530.6,586.3 L533.5,586.5 L536.4,586.7 L539.3,586.8 L542.2,586.8 L545.2,586.9 L548.1,586.8 L551.0,586.8 L553.9,586.7 L556.8,586.5 L559.7,586.3 L562.7,586.1 L565.6,585.8 L568.5,585.5 L571.4,585.3 L574.3,585.0 L577.3,584.8 L580.2,584.5 L583.1,584.4 L586.0,584.2 L588.9,584.2 L591.9,584.1 L594.8,584.2 L597.7,584.2 L600.6,584.4 L603.5,584.5 L606.4,584.8 L609.4,585.0 L612.3,585.3 L615.2,585.5 L618.1,585.8 L621.0,586.1 L624.0,586.3 L626.9,586.5 L629.8,586.7 L632.7,586.8 L635.6,586.8 L638.5,586.9 L641.5,586.8 L644.4,586.8 L647.3,586.7 L650.2,586.5 L653.1,586.3 L656.1,586.2 L659.0,586.0 L661.9,585.8 L664.8,585.6 L667.7,585.4 L670.6,585.3 L673.6,585.2 L676.5,585.1 L679.4,585.1 M504.3,592.2 L507.2,592.3 L510.1,592.5 L513.1,592.9 L516.0,593.3 L518.9,593.9 L521.8,594.5 L524.7,595.2 L527.6,595.9 L530.6,596.6 L533.5,597.4 L536.4,598.0 L539.3,598.7 L542.2,599.2 L545.2,599.7 L548.1,600.0 L551.0,600.3 L553.9,600.4 L556.8,600.4 L559.7,600.4 L562.7,600.2 L565.6,600.0 L568.5,599.7 L571.4,599.4 L574.3,599.1 L577.3,598.8 L580.2,598.5 L583.1,598.3 L586.0,598.1 L588.9,598.0 L591.9,598.0 L594.8,598.0 L597.7,598.1 L600.6,598.3 L603.5,598.5 L606.4,598.8 L609.4,599.1 L612.3,599.4 L615.2,599.7 L618.1,600.0 L621.0,600.2 L624.0,600.4 L626.9,600.4 L629.8,600.4 L632.7,600.3 L635.6,600.0 L638.5,599.7 L641.5,599.2 L644.4,598.7 L647.3,598.0 L650.2,597.4 L653.1,596.6 L656.1,595.9 L659.0,595.2 L661.9,594.5 L664.8,593.9 L667.7,593.3 L670.6,592.9 L673.6,592.5 L676.5,592.3 L679.4,592.2 M504.3,598.4 L507.2,598.4 L510.1,598.6 L513.1,598.8 L516.0,599.2 L518.9,599.6 L521.8,600.1 L524.7,600.6 L527.6,601.1 L530.6,601.6 L533.5,602.1 L536.4,602.5 L539.3,602.8 L542.2,603.0 L545.2,603.1 L548.1,603.1 L551.0,603.0 L553.9,602.8 L556.8,602.4 L559.7,602.0 L562.7,601.5 L565.6,601.0 L568.5,600.4 L571.4,599.8 L574.3,599.2 L577.3,598.7 L580.2,598.2 L583.1,597.8 L586.0,597.5 L588.9,597.3 L591.9,597.2 L594.8,597.3 L597.7,597.5 L600.6,597.8 L603.5,598.2 L606.4,598.7 L609.4,599.2 L612.3,599.8 L615.2,600.4 L618.1,601.0 L621.0,601.5 L624.0,602.0 L626.9,602.4 L629.8,602.8 L632.7,603.0 L635.6,603.1 L638.5,603.1 L641.5,603.0 L644.4,602.8 L647.3,602.5 L650.2,602.1 L653.1,601.6 L656.1,601.1 L659.0,600.6 L661.9,600.1 L664.8,599.6 L667.7,599.2 L670.6,598.8 L673.6,598.6 L676.5,598.4 L679.4,598.4 M504.3,609.1 L507.2,609.0 L510.1,608.7 L513.1,608.3 L516.0,607.8 L518.9,607.1 L521.8,606.4 L524.7,605.6 L527.6,604.8 L530.6,604.0 L533.5,603.2 L536.4,602.6 L539.3,602.0 L542.2,601.6 L545.2,601.3 L548.1,601.2 L551.0,601.2 L553.9,601.4 L556.8,601.8 L559.7,602.3 L562.7,602.9 L565.6,603.5 L568.5,604.3 L571.4,605.0 L574.3,605.8 L577.3,606.5 L580.2,607.1 L583.1,607.6 L586.0,608.0 L588.9,608.2 L591.9,608.3 L594.8,608.2 L597.7,608.0 L600.6,607.6 L603.5,607.1 L606.4,606.5 L609.4,605.8 L612.3,605.0 L615.2,604.3 L618.1,603.5 L621.0,602.9 L624.0,602.3 L626.9,601.8 L629.8,601.4 L632.7,601.2 L635.6,601.2 L638.5,601.3 L641.5,601.6 L644.4,602.0 L647.3,602.6 L650.2,603.2 L653.1,604.0 L656.1,604.8 L659.0,605.6 L661.9,606.4 L664.8,607.1 L667.7,607.8 L670.6,608.3 L673.6,608.7 L676.5,609.0 L679.4,609.1 M504.3,610.3 L507.2,610.3 L510.1,610.5 L513.1,610.8 L516.0,611.2 L518.9,611.7 L521.8,612.2 L524.7,612.8 L527.6,613.4 L530.6,613.9 L533.5,614.4 L536.4,614.9 L539.3,615.3 L542.2,615.5 L545.2,615.6 L548.1,615.7 L551.0,615.5 L553.9,615.3 L556.8,614.9 L559.7,614.4 L562.7,613.9 L565.6,613.2 L568.5,612.6 L571.4,611.9 L574.3,611.3 L577.3,610.7 L580.2,610.1 L583.1,609.7 L586.0,609.4 L588.9,609.2 L591.9,609.1 L594.8,609.2 L597.7,609.4 L600.6,609.7 L603.5,610.1 L606.4,610.7 L609.4,611.3 L612.3,611.9 L615.2,612.6 L618.1,613.2 L621.0,613.9 L624.0,614.4 L626.9,614.9 L629.8,615.3 L632.7,615.5 L635.6,615.7 L638.5,615.6 L641.5,615.5 L644.4,615.3 L647.3,614.9 L650.2,614.4 L653.1,613.9 L656.1,613.4 L659.0,612.8 L661.9,612.2 L664.8,611.7 L667.7,611.2 L670.6,610.8 L673.6,610.5 L676.5,610.3 L679.4,610.3 M504.3,617.3 L507.2,617.3 L510.1,617.3 L513.1,617.3 L516.0,617.3 L518.9,617.3 L521.8,617.3 L524.7,617.3 L527.6,617.3 L530.6,617.3 L533.5,617.4 L536.4,617.4 L539.3,617.5 L542.2,617.6 L545.2,617.8 L548.1,617.9 L551.0,618.1 L553.9,618.3 L556.8,618.5 L559.7,618.8 L562.7,619.0 L565.6,619.3 L568.5,619.5 L571.4,619.7 L574.3,619.9 L577.3,620.1 L580.2,620.3 L583.1,620.4 L586.0,620.5 L588.9,620.6 L591.9,620.6 L594.8,620.6 L597.7,620.5 L600.6,620.4 L603.5,620.3 L606.4,620.1 L609.4,619.9 L612.3,619.7 L615.2,619.5 L618.1,619.3 L621.0,619.0 L624.0,618.8 L626.9,618.5 L629.8,618.3 L632.7,618.1 L635.6,617.9 L638.5,617.8 L641.5,617.6 L644.4,617.5 L647.3,617.4 L650.2,617.4 L653.1,617.3 L656.1,617.3 L659.0,617.3 L661.9,617.3 L664.8,617.3 L667.7,617.3 L670.6,617.3 L673.6,617.3 L676.5,617.3 L679.4,617.3 M504.3,627.5 L507.2,627.4 L510.1,627.1 L513.1,626.6 L516.0,625.9 L518.9,625.0 L521.8,624.0 L524.7,622.9 L527.6,621.8 L530.6,620.6 L533.5,619.3 L536.4,618.1 L539.3,617.0 L542.2,615.9 L545.2,614.9 L548.1,614.0 L551.0,613.2 L553.9,612.6 L556.8,612.1 L559.7,611.7 L562.7,611.4 L565.6,611.3 L568.5,611.2 L571.4,611.2 L574.3,611.3 L577.3,611.4 L580.2,611.5 L583.1,611.6 L586.0,611.6 L588.9,611.7 L591.9,611.7 L594.8,611.7 L597.7,611.6 L600.6,611.6 L603.5,611.5 L606.4,611.4 L609.4,611.3 L612.3,611.2 L615.2,611.2 L618.1,611.3 L621.0,611.4 L624.0,611.7 L626.9,612.1 L629.8,612.6 L632.7,613.2 L635.6,614.0 L638.5,614.9 L641.5,615.9 L644.4,617.0 L647.3,618.1 L650.2,619.3 L653.1,620.6 L656.1,621.8 L659.0,622.9 L661.9,624.0 L664.8,625.0 L667.7,625.9 L670.6,626.6 L673.6,627.1 L676.5,627.4 L679.4,627.5 M504.3,627.5 L507.2,627.5 L510.1,627.5 L513.1,627.6 L516.0,627.6 L518.9,627.7 L521.8,627.8 L524.7,628.0 L527.6,628.1 L530.6,628.3 L533.5,628.4 L536.4,628.6 L539.3,628.8 L542.2,629.0 L545.2,629.2 L548.1,629.3 L551.0,629.5 L553.9,629.7 L556.8,629.9 L559.7,630.1 L562.7,630.2 L565.6,630.4 L568.5,630.5 L571.4,630.7 L574.3,630.8 L577.3,630.9 L580.2,630.9 L583.1,631.0 L586.0,631.1 L588.9,631.1 L591.9,631.1 L594.8,631.1 L597.7,631.1 L600.6,631.0 L603.5,630.9 L606.4,630.9 L609.4,630.8 L612.3,630.7 L615.2,630.5 L618.1,630.4 L621.0,630.2 L624.0,630.1 L626.9,629.9 L629.8,629.7 L632.7,629.5 L635.6,629.3 L638.5,629.2 L641.5,629.0 L644.4,628.8 L647.3,628.6 L650.2,628.4 L653.1,628.3 L656.1,628.1 L659.0,628.0 L661.9,627.8 L664.8,627.7 L667.7,627.6 L670.6,627.6 L673.6,627.5 L676.5,627.5 L679.4,627.5 M504.3,635.8 L507.2,635.9 L510.1,636.0 L513.1,636.2 L516.0,636.5 L518.9,636.9 L521.8,637.3 L524.7,637.7 L527.6,638.1 L530.6,638.5 L533.5,638.9 L536.4,639.2 L539.3,639.5 L542.2,639.7 L545.2,639.8 L548.1,639.8 L551.0,639.7 L553.9,639.5 L556.8,639.2 L559.7,638.9 L562.7,638.4 L565.6,638.0 L568.5,637.5 L571.4,637.0 L574.3,636.5 L577.3,636.1 L580.2,635.7 L583.1,635.3 L586.0,635.1 L588.9,634.9 L591.9,634.9 L594.8,634.9 L597.7,635.1 L600.6,635.3 L603.5,635.7 L606.4,636.1 L609.4,636.5 L612.3,637.0 L615.2,637.5 L618.1,638.0 L621.0,638.4 L624.0,638.9 L626.9,639.2 L629.8,639.5 L632.7,639.7 L635.6,639.8 L638.5,639.8 L641.5,639.7 L644.4,639.5 L647.3,639.2 L650.2,638.9 L653.1,638.5 L656.1,638.1 L659.0,637.7 L661.9,637.3 L664.8,636.9 L667.7,636.5 L670.6,636.2 L673.6,636.0 L676.5,635.9 L679.4,635.8 M504.3,640.4 L507.2,640.3 L510.1,640.2 L513.1,640.0 L516.0,639.7 L518.9,639.3 L521.8,638.8 L524.7,638.2 L527.6,637.6 L530.6,636.9 L533.5,636.2 L536.4,635.4 L539.3,634.6 L542.2,633.7 L545.2,632.9 L548.1,632.0 L551.0,631.1 L553.9,630.3 L556.8,629.4 L559.7,628.6 L562.7,627.8 L565.6,627.1 L568.5,626.4 L571.4,625.8 L574.3,625.3 L577.3,624.8 L580.2,624.4 L583.1,624.1 L586.0,623.8 L588.9,623.7 L591.9,623.7 L594.8,623.7 L597.7,623.8 L600.6,624.1 L603.5,624.4 L606.4,624.8 L609.4,625.3 L612.3,625.8 L615.2,626.4 L618.1,627.1 L621.0,627.8 L624.0,628.6 L626.9,629.4 L629.8,630.3 L632.7,631.1 L635.6,632.0 L638.5,632.9 L641.5,633.7 L644.4,634.6 L647.3,635.4 L650.2,636.2 L653.1,636.9 L656.1,637.6 L659.0,638.2 L661.9,638.8 L664.8,639.3 L667.7,639.7 L670.6,640.0 L673.6,640.2 L676.5,640.3 L679.4,640.4 M504.3,649.2 L507.2,649.2 L510.1,649.2 L513.1,649.1 L516.0,649.0 L518.9,648.9 L521.8,648.8 L524.7,648.6 L527.6,648.4 L530.6,648.2 L533.5,647.9 L536.4,647.6 L539.3,647.3 L542.2,646.9 L545.2,646.5 L548.1,646.1 L551.0,645.6 L553.9,645.2 L556.8,644.7 L559.7,644.2 L562.7,643.7 L565.6,643.2 L568.5,642.7 L571.4,642.3 L574.3,641.8 L577.3,641.5 L580.2,641.2 L583.1,640.9 L586.0,640.8 L588.9,640.7 L591.9,640.6 L594.8,640.7 L597.7,640.8 L600.6,640.9 L603.5,641.2 L606.4,641.5 L609.4,641.8 L612.3,642.3 L615.2,642.7 L618.1,643.2 L621.0,643.7 L624.0,644.2 L626.9,644.7 L629.8,645.2 L632.7,645.6 L635.6,646.1 L638.5,646.5 L641.5,646.9 L644.4,647.3 L647.3,647.6 L650.2,647.9 L653.1,648.2 L656.1,648.4 L659.0,648.6 L661.9,648.8 L664.8,648.9 L667.7,649.0 L670.6,649.1 L673.6,649.2 L676.5,649.2 L679.4,649.2 M504.3,656.1 L507.2,656.1 L510.1,656.2 L513.1,656.4 L516.0,656.6 L518.9,656.8 L521.8,657.1 L524.7,657.5 L527.6,658.0 L530.6,658.5 L533.5,659.0 L536.4,659.7 L539.3,660.3 L542.2,661.1 L545.2,661.9 L548.1,662.7 L551.0,663.5 L553.9,664.4 L556.8,665.3 L559.7,666.2 L562.7,667.0 L565.6,667.8 L568.5,668.6 L571.4,669.4 L574.3,670.0 L577.3,670.6 L580.2,671.1 L583.1,671.5 L586.0,671.8 L588.9,672.0 L591.9,672.1 L594.8,672.0 L597.7,671.8 L600.6,671.5 L603.5,671.1 L606.4,670.6 L609.4,670.0 L612.3,669.4 L615.2,668.6 L618.1,667.8 L621.0,667.0 L624.0,666.2 L626.9,665.3 L629.8,664.4 L632.7,663.5 L635.6,662.7 L638.5,661.9 L641.5,661.1 L644.4,660.3 L647.3,659.7 L650.2,659.0 L653.1,658.5 L656.1,658.0 L659.0,657.5 L661.9,657.1 L664.8,656.8 L667.7,656.6 L670.6,656.4 L673.6,656.2 L676.5,656.1 L679.4,656.1 M504.3,658.6 L507.2,658.6 L510.1,658.7 L513.1,658.9 L516.0,659.2 L518.9,659.5 L521.8,659.9 L524.7,660.3 L527.6,660.8 L530.6,661.2 L533.5,661.8 L536.4,662.3 L539.3,662.8 L542.2,663.3 L545.2,663.9 L548.1,664.3 L551.0,664.8 L553.9,665.3 L556.8,665.7 L559.7,666.0 L562.7,666.4 L565.6,666.7 L568.5,666.9 L571.4,667.1 L574.3,667.3 L577.3,667.5 L580.2,667.6 L583.1,667.7 L586.0,667.7 L588.9,667.8 L591.9,667.8 L594.8,667.8 L597.7,667.7 L600.6,667.7 L603.5,667.6 L606.4,667.5 L609.4,667.3 L612.3,667.1 L615.2,666.9 L618.1,666.7 L621.0,666.4 L624.0,666.0 L626.9,665.7 L629.8,665.3 L632.7,664.8 L635.6,664.3 L638.5,663.9 L641.5,663.3 L644.4,662.8 L647.3,662.3 L650.2,661.8 L653.1,661.2 L656.1,660.8 L659.0,660.3 L661.9,659.9 L664.8,659.5 L667.7,659.2 L670.6,658.9 L673.6,658.7 L676.5,658.6 L679.4,658.6 M504.3,665.7 L507.2,665.8 L510.1,665.8 L513.1,666.0 L516.0,666.1 L518.9,666.3 L521.8,666.6 L524.7,666.8 L527.6,667.1 L530.6,667.4 L533.5,667.6 L536.4,667.9 L539.3,668.2 L542.2,668.4 L545.2,668.6 L548.1,668.7 L551.0,668.9 L553.9,668.9 L556.8,669.0 L559.7,669.0 L562.7,669.0 L565.6,669.0 L568.5,668.9 L571.4,668.8 L574.3,668.7 L577.3,668.7 L580.2,668.6 L583.1,668.5 L586.0,668.5 L588.9,668.4 L591.9,668.4 L594.8,668.4 L597.7,668.5 L600.6,668.5 L603.5,668.6 L606.4,668.7 L609.4,668.7 L612.3,668.8 L615.2,668.9 L618.1,669.0 L621.0,669.0 L624.0,669.0 L626.9,669.0 L629.8,668.9 L632.7,668.9 L635.6,668.7 L638.5,668.6 L641.5,668.4 L644.4,668.2 L647.3,667.9 L650.2,667.6 L653.1,667.4 L656.1,667.1 L659.0,666.8 L661.9,666.6 L664.8,666.3 L667.7,666.1 L670.6,666.0 L673.6,665.8 L676.5,665.8 L679.4,665.7" fill="none" stroke="#cacaca" stroke-width="0.9" stroke-dasharray="0.9,1.2"/>
<ellipse cx="592.2" cy="497" rx="28" ry="8" fill="#fff" opacity="0.7"/>
<path d="M504.3,598 Q592.2,575 679.4,598 L679.4,610 Q592.2,590 504.3,610 Z" fill="#fff" opacity="0.6"/>
</g>
<line x1="592.20" y1="474.10" x2="592.20" y2="658.90" stroke="#c0c0c0" stroke-width="1" />
<rect x="504.30" y="474.10" width="175.10" height="184.80" stroke="#999" stroke-width="1.1" fill="none" />
<path d="M504.30,568.60 C506.92,568.75 514.05,569.33 520.00,569.50 C525.95,569.67 533.33,569.68 540.00,569.60 C546.67,569.52 553.33,569.23 560.00,569.00 C566.67,568.77 574.63,568.40 580.00,568.20 C585.37,568.00 590.17,567.87 592.20,567.80" fill="none" stroke="#141414" stroke-width="1.75" stroke-dasharray="1.25,0.85"/>
<path d="M680.10,568.60 C677.48,568.75 670.35,569.33 664.40,569.50 C658.45,569.67 651.07,569.68 644.40,569.60 C637.73,569.52 631.07,569.23 624.40,569.00 C617.73,568.77 609.77,568.40 604.40,568.20 C599.03,568.00 594.23,567.87 592.20,567.80" fill="none" stroke="#141414" stroke-width="1.75" stroke-dasharray="1.25,0.85"/>
<path d="M504.30,571.50 C506.92,571.83 513.97,573.05 520.00,573.50 C526.03,573.95 533.83,574.37 540.50,574.20 C547.17,574.03 553.42,573.28 560.00,572.50 C566.58,571.72 574.63,570.27 580.00,569.50 C585.37,568.73 590.17,568.17 592.20,567.90" fill="none" stroke="#141414" stroke-width="1.75" stroke-dasharray="1.25,0.85"/>
<path d="M680.10,571.50 C677.48,571.83 670.43,573.05 664.40,573.50 C658.37,573.95 650.57,574.37 643.90,574.20 C637.23,574.03 630.98,573.28 624.40,572.50 C617.82,571.72 609.77,570.27 604.40,569.50 C599.03,568.73 594.23,568.17 592.20,567.90" fill="none" stroke="#141414" stroke-width="1.75" stroke-dasharray="1.25,0.85"/>
<path d="M504.30,578.00 C505.58,578.58 509.12,580.17 512.00,581.50 C514.88,582.83 518.43,584.42 521.60,586.00 C524.77,587.58 527.85,589.63 531.00,591.00 C534.15,592.37 537.67,593.87 540.50,594.20 C543.33,594.53 545.75,593.90 548.00,593.00 C550.25,592.10 551.17,590.80 554.00,588.80 C556.83,586.80 561.40,583.25 565.00,581.00 C568.60,578.75 572.27,577.13 575.60,575.30 C578.93,573.47 582.23,571.22 585.00,570.00 C587.77,568.78 591.00,568.33 592.20,568.00" fill="none" stroke="#141414" stroke-width="1.75" stroke-dasharray="1.25,0.85"/>
<path d="M680.10,578.00 C678.82,578.58 675.28,580.17 672.40,581.50 C669.52,582.83 665.97,584.42 662.80,586.00 C659.63,587.58 656.55,589.63 653.40,591.00 C650.25,592.37 646.73,593.87 643.90,594.20 C641.07,594.53 638.65,593.90 636.40,593.00 C634.15,592.10 633.23,590.80 630.40,588.80 C627.57,586.80 623.00,583.25 619.40,581.00 C615.80,578.75 612.13,577.13 608.80,575.30 C605.47,573.47 602.17,571.22 599.40,570.00 C596.63,568.78 593.40,568.33 592.20,568.00" fill="none" stroke="#141414" stroke-width="1.75" stroke-dasharray="1.25,0.85"/>
<path d="M504.30,580.70 C505.58,581.50 509.12,583.70 512.00,585.50 C514.88,587.30 518.43,589.33 521.60,591.50 C524.77,593.67 527.85,596.47 531.00,598.50 C534.15,600.53 537.33,603.20 540.50,603.70 C543.67,604.20 546.85,602.63 550.00,601.50 C553.15,600.37 556.07,599.32 559.40,596.90 C562.73,594.48 566.40,590.15 570.00,587.00 C573.60,583.85 578.00,580.67 581.00,578.00 C584.00,575.33 586.13,572.63 588.00,571.00 C589.87,569.37 591.50,568.67 592.20,568.20" fill="none" stroke="#141414" stroke-width="1.75" stroke-dasharray="1.25,0.85"/>
<path d="M680.10,580.70 C678.82,581.50 675.28,583.70 672.40,585.50 C669.52,587.30 665.97,589.33 662.80,591.50 C659.63,593.67 656.55,596.47 653.40,598.50 C650.25,600.53 647.07,603.20 643.90,603.70 C640.73,604.20 637.55,602.63 634.40,601.50 C631.25,600.37 628.33,599.32 625.00,596.90 C621.67,594.48 618.00,590.15 614.40,587.00 C610.80,583.85 606.40,580.67 603.40,578.00 C600.40,575.33 598.27,572.63 596.40,571.00 C594.53,569.37 592.90,568.67 592.20,568.20" fill="none" stroke="#141414" stroke-width="1.75" stroke-dasharray="1.25,0.85"/>
<path d="M516.20,550.20 C517.55,550.20 522.95,550.20 524.30,550.20" fill="none" stroke="#141414" stroke-width="1.7" stroke-dasharray="1.5,0.5"/>
<path d="M668.20,550.20 C666.85,550.20 661.45,550.20 660.10,550.20" fill="none" stroke="#141414" stroke-width="1.7" stroke-dasharray="1.5,0.5"/>
<path d="M532.40,547.50 C532.88,547.50 534.82,547.50 535.30,547.50" fill="none" stroke="#141414" stroke-width="1.7" stroke-dasharray="1.5,0.5"/>
<path d="M652.00,547.50 C651.52,547.50 649.58,547.50 649.10,547.50" fill="none" stroke="#141414" stroke-width="1.7" stroke-dasharray="1.5,0.5"/>
<path d="M540.50,551.60 C542.98,551.57 552.92,551.43 555.40,551.40" fill="none" stroke="#141414" stroke-width="1.7" stroke-dasharray="1.5,0.5"/>
<path d="M643.90,551.60 C641.42,551.57 631.48,551.43 629.00,551.40" fill="none" stroke="#141414" stroke-width="1.7" stroke-dasharray="1.5,0.5"/>
<path d="M510.60,557.00 C510.77,557.00 511.43,557.00 511.60,557.00" fill="none" stroke="#141414" stroke-width="1.7" stroke-dasharray="1.5,0.5"/>
<path d="M673.80,557.00 C673.63,557.00 672.97,557.00 672.80,557.00" fill="none" stroke="#141414" stroke-width="1.7" stroke-dasharray="1.5,0.5"/>
<path d="M513.50,630.00 C514.25,630.17 516.25,630.75 518.00,631.00 C519.75,631.25 522.33,631.50 524.00,631.50 C525.67,631.50 526.37,631.00 528.00,631.00 C529.63,631.00 532.83,631.42 533.80,631.50" fill="none" stroke="#141414" stroke-width="1.7" stroke-dasharray="1.5,0.5"/>
<path d="M670.90,630.00 C670.15,630.17 668.15,630.75 666.40,631.00 C664.65,631.25 662.07,631.50 660.40,631.50 C658.73,631.50 658.03,631.00 656.40,631.00 C654.77,631.00 651.57,631.42 650.60,631.50" fill="none" stroke="#141414" stroke-width="1.7" stroke-dasharray="1.5,0.5"/>
<path d="M504.80,565.00 C504.87,570.83 505.13,594.17 505.20,600.00" fill="none" stroke="#555" stroke-width="1.0" stroke-dasharray="1,2.2"/>
<path d="M679.00,565.00 C678.93,570.83 678.67,594.17 678.60,600.00" fill="none" stroke="#555" stroke-width="1.0" stroke-dasharray="1,2.2"/>
<text x="671.6" y="488.2" font-size="11.2" text-anchor="end" fill="#222" font-weight="normal" >Top surface</text>
<text x="557.6" y="646.3" font-size="12.8" text-anchor="start" fill="#222" font-weight="normal" >E<tspan font-size="8.2" dy="2.2">surf</tspan><tspan dy="-2.2">=–0.2eV</tspan></text>
<text x="502.2" y="480.7" font-size="14" text-anchor="end" fill="#222" font-weight="normal" >0.0</text>
<text x="502.2" y="663.2" font-size="14" text-anchor="end" fill="#222" font-weight="normal" >-0.5</text>
<text x="0.0" y="0.0" font-size="14" text-anchor="middle" fill="#222" font-weight="normal" transform="translate(486.6,562.5) rotate(-90)">Energy (eV)</text>
<text x="525.6" y="681.6" font-size="16" text-anchor="middle" fill="#222" font-weight="normal" >Γ</text>
<line x1="521.00" y1="666.00" x2="530.00" y2="666.00" stroke="#222" stroke-width="1" />
<text x="591.8" y="681.6" font-size="16" text-anchor="middle" fill="#222" font-weight="normal" >M</text>
<line x1="585.50" y1="666.00" x2="598.10" y2="666.00" stroke="#222" stroke-width="1" />
<text x="659.5" y="681.6" font-size="16" text-anchor="start" fill="#222" font-weight="normal" >Γ′</text>
<line x1="660.50" y1="666.00" x2="669.50" y2="666.00" stroke="#222" stroke-width="1" />
<line x1="537.00" y1="675.80" x2="572.50" y2="675.80" stroke="#111" stroke-width="2" />
<path d="M531.6,675.8 L539.5,672.0 L539.5,679.6 Z" fill="#111"/>
<line x1="616.20" y1="675.80" x2="651.00" y2="675.80" stroke="#111" stroke-width="2" />
<path d="M656.6,675.8 L648.7,672.0 L648.7,679.6 Z" fill="#111"/>
<clipPath id="clipL"><rect x="503.5" y="723.2" width="175.5" height="186.0"/></clipPath>
<g clip-path="url(#clipL)">
<rect x="503.5" y="723.2" width="175.5" height="186.0" fill="url(#dotpat)"/>
<path d="M503.5,726.9 L509.4,726.8 L515.2,726.5 L521.0,726.0 L526.9,725.3 L532.8,724.5 L538.6,723.6 L544.5,722.6 L550.3,721.6 L556.1,720.6 L562.0,719.7 L567.9,718.8 L573.7,718.2 L579.5,717.7 L585.4,717.3 L591.2,717.2 L597.1,717.3 L603.0,717.7 L608.8,718.2 L614.6,718.8 L620.5,719.7 L626.4,720.6 L632.2,721.6 L638.0,722.6 L643.9,723.6 L649.8,724.5 L655.6,725.3 L661.5,726.0 L667.3,726.5 L673.1,726.8 L679.0,726.9" fill="none" stroke="#fff" stroke-width="2.5" opacity="0.80"/>
<path d="M503.5,734.6 L509.4,734.7 L515.2,735.1 L521.0,735.7 L526.9,736.5 L532.8,737.4 L538.6,738.5 L544.5,739.7 L550.3,740.8 L556.1,742.0 L562.0,743.1 L567.9,744.0 L573.7,744.8 L579.5,745.4 L585.4,745.8 L591.2,745.9 L597.1,745.8 L603.0,745.4 L608.8,744.8 L614.6,744.0 L620.5,743.1 L626.4,742.0 L632.2,740.8 L638.0,739.7 L643.9,738.5 L649.8,737.4 L655.6,736.5 L661.5,735.7 L667.3,735.1 L673.1,734.7 L679.0,734.6" fill="none" stroke="#fff" stroke-width="2.3" opacity="0.60"/>
<path d="M503.5,736.5 L509.4,736.6 L515.2,736.8 L521.0,737.3 L526.9,737.8 L532.8,738.5 L538.6,739.3 L544.5,740.2 L550.3,741.0 L556.1,741.9 L562.0,742.7 L567.9,743.4 L573.7,743.9 L579.5,744.4 L585.4,744.6 L591.2,744.7 L597.1,744.6 L603.0,744.4 L608.8,743.9 L614.6,743.4 L620.5,742.7 L626.4,741.9 L632.2,741.0 L638.0,740.2 L643.9,739.3 L649.8,738.5 L655.6,737.8 L661.5,737.3 L667.3,736.8 L673.1,736.6 L679.0,736.5" fill="none" stroke="#fff" stroke-width="1.9" opacity="0.60"/>
<path d="M503.5,745.1 L509.4,745.1 L515.2,745.1 L521.0,745.0 L526.9,745.0 L532.8,744.9 L538.6,744.8 L544.5,744.7 L550.3,744.6 L556.1,744.5 L562.0,744.5 L567.9,744.4 L573.7,744.3 L579.5,744.3 L585.4,744.2 L591.2,744.2 L597.1,744.2 L603.0,744.3 L608.8,744.3 L614.6,744.4 L620.5,744.5 L626.4,744.5 L632.2,744.6 L638.0,744.7 L643.9,744.8 L649.8,744.9 L655.6,745.0 L661.5,745.0 L667.3,745.1 L673.1,745.1 L679.0,745.1" fill="none" stroke="#fff" stroke-width="2.2" opacity="0.66"/>
<path d="M503.5,749.5 L509.4,749.4 L515.2,749.1 L521.0,748.7 L526.9,748.1 L532.8,747.3 L538.6,746.5 L544.5,745.6 L550.3,744.7 L556.1,743.8 L562.0,742.9 L567.9,742.2 L573.7,741.5 L579.5,741.1 L585.4,740.8 L591.2,740.7 L597.1,740.8 L603.0,741.1 L608.8,741.5 L614.6,742.2 L620.5,742.9 L626.4,743.8 L632.2,744.7 L638.0,745.6 L643.9,746.5 L649.8,747.3 L655.6,748.1 L661.5,748.7 L667.3,749.1 L673.1,749.4 L679.0,749.5" fill="none" stroke="#fff" stroke-width="1.4" opacity="0.82"/>
<path d="M503.5,755.5 L509.4,755.5 L515.2,755.4 L521.0,755.4 L526.9,755.3 L532.8,755.2 L538.6,755.0 L544.5,754.9 L550.3,754.7 L556.1,754.6 L562.0,754.5 L567.9,754.3 L573.7,754.2 L579.5,754.2 L585.4,754.1 L591.2,754.1 L597.1,754.1 L603.0,754.2 L608.8,754.2 L614.6,754.3 L620.5,754.5 L626.4,754.6 L632.2,754.7 L638.0,754.9 L643.9,755.0 L649.8,755.2 L655.6,755.3 L661.5,755.4 L667.3,755.4 L673.1,755.5 L679.0,755.5" fill="none" stroke="#fff" stroke-width="1.4" opacity="0.89"/>
<path d="M503.5,761.0 L509.4,761.0 L515.2,760.9 L521.0,760.7 L526.9,760.5 L532.8,760.2 L538.6,759.9 L544.5,759.6 L550.3,759.2 L556.1,758.9 L562.0,758.6 L567.9,758.3 L573.7,758.1 L579.5,757.9 L585.4,757.8 L591.2,757.8 L597.1,757.8 L603.0,757.9 L608.8,758.1 L614.6,758.3 L620.5,758.6 L626.4,758.9 L632.2,759.2 L638.0,759.6 L643.9,759.9 L649.8,760.2 L655.6,760.5 L661.5,760.7 L667.3,760.9 L673.1,761.0 L679.0,761.0" fill="none" stroke="#fff" stroke-width="2.4" opacity="0.62"/>
<path d="M503.5,772.0 L509.4,772.0 L515.2,771.9 L521.0,771.8 L526.9,771.7 L532.8,771.6 L538.6,771.4 L544.5,771.3 L550.3,771.1 L556.1,771.0 L562.0,770.8 L567.9,770.7 L573.7,770.6 L579.5,770.5 L585.4,770.4 L591.2,770.4 L597.1,770.4 L603.0,770.5 L608.8,770.6 L614.6,770.7 L620.5,770.8 L626.4,771.0 L632.2,771.1 L638.0,771.3 L643.9,771.4 L649.8,771.6 L655.6,771.7 L661.5,771.8 L667.3,771.9 L673.1,772.0 L679.0,772.0" fill="none" stroke="#fff" stroke-width="2.1" opacity="0.57"/>
<path d="M503.5,778.2 L509.4,778.3 L515.2,778.5 L521.0,778.9 L526.9,779.4 L532.8,780.0 L538.6,780.7 L544.5,781.5 L550.3,782.2 L556.1,783.0 L562.0,783.7 L567.9,784.3 L573.7,784.8 L579.5,785.2 L585.4,785.4 L591.2,785.5 L597.1,785.4 L603.0,785.2 L608.8,784.8 L614.6,784.3 L620.5,783.7 L626.4,783.0 L632.2,782.2 L638.0,781.5 L643.9,780.7 L649.8,780.0 L655.6,779.4 L661.5,778.9 L667.3,778.5 L673.1,778.3 L679.0,778.2" fill="none" stroke="#fff" stroke-width="1.6" opacity="0.64"/>
<path d="M503.5,780.4 L509.4,780.5 L515.2,780.6 L521.0,780.8 L526.9,781.1 L532.8,781.5 L538.6,781.9 L544.5,782.3 L550.3,782.8 L556.1,783.2 L562.0,783.6 L567.9,784.0 L573.7,784.3 L579.5,784.5 L585.4,784.6 L591.2,784.7 L597.1,784.6 L603.0,784.5 L608.8,784.3 L614.6,784.0 L620.5,783.6 L626.4,783.2 L632.2,782.8 L638.0,782.3 L643.9,781.9 L649.8,781.5 L655.6,781.1 L661.5,780.8 L667.3,780.6 L673.1,780.5 L679.0,780.4" fill="none" stroke="#fff" stroke-width="1.7" opacity="0.83"/>
<path d="M503.5,788.7 L509.4,788.7 L515.2,788.6 L521.0,788.4 L526.9,788.1 L532.8,787.8 L538.6,787.4 L544.5,787.0 L550.3,786.6 L556.1,786.2 L562.0,785.8 L567.9,785.5 L573.7,785.3 L579.5,785.1 L585.4,784.9 L591.2,784.9 L597.1,784.9 L603.0,785.1 L608.8,785.3 L614.6,785.5 L620.5,785.8 L626.4,786.2 L632.2,786.6 L638.0,787.0 L643.9,787.4 L649.8,787.8 L655.6,788.1 L661.5,788.4 L667.3,788.6 L673.1,788.7 L679.0,788.7" fill="none" stroke="#fff" stroke-width="1.7" opacity="0.62"/>
<path d="M503.5,796.1 L509.4,796.1 L515.2,796.1 L521.0,796.1 L526.9,796.2 L532.8,796.2 L538.6,796.2 L544.5,796.3 L550.3,796.3 L556.1,796.4 L562.0,796.4 L567.9,796.5 L573.7,796.5 L579.5,796.5 L585.4,796.5 L591.2,796.5 L597.1,796.5 L603.0,796.5 L608.8,796.5 L614.6,796.5 L620.5,796.4 L626.4,796.4 L632.2,796.3 L638.0,796.3 L643.9,796.2 L649.8,796.2 L655.6,796.2 L661.5,796.1 L667.3,796.1 L673.1,796.1 L679.0,796.1" fill="none" stroke="#fff" stroke-width="1.5" opacity="0.69"/>
<path d="M503.5,799.1 L509.4,799.1 L515.2,799.2 L521.0,799.4 L526.9,799.6 L532.8,799.8 L538.6,800.1 L544.5,800.4 L550.3,800.7 L556.1,801.0 L562.0,801.3 L567.9,801.5 L573.7,801.7 L579.5,801.9 L585.4,802.0 L591.2,802.0 L597.1,802.0 L603.0,801.9 L608.8,801.7 L614.6,801.5 L620.5,801.3 L626.4,801.0 L632.2,800.7 L638.0,800.4 L643.9,800.1 L649.8,799.8 L655.6,799.6 L661.5,799.4 L667.3,799.2 L673.1,799.1 L679.0,799.1" fill="none" stroke="#fff" stroke-width="2.5" opacity="0.64"/>
<path d="M503.5,806.4 L509.4,806.4 L515.2,806.4 L521.0,806.3 L526.9,806.2 L532.8,806.1 L538.6,806.0 L544.5,805.9 L550.3,805.8 L556.1,805.7 L562.0,805.5 L567.9,805.4 L573.7,805.4 L579.5,805.3 L585.4,805.3 L591.2,805.2 L597.1,805.3 L603.0,805.3 L608.8,805.4 L614.6,805.4 L620.5,805.5 L626.4,805.7 L632.2,805.8 L638.0,805.9 L643.9,806.0 L649.8,806.1 L655.6,806.2 L661.5,806.3 L667.3,806.4 L673.1,806.4 L679.0,806.4" fill="none" stroke="#fff" stroke-width="1.7" opacity="0.73"/>
<path d="M503.5,810.7 L509.4,810.7 L515.2,810.9 L521.0,811.2 L526.9,811.6 L532.8,812.0 L538.6,812.5 L544.5,813.1 L550.3,813.7 L556.1,814.2 L562.0,814.7 L567.9,815.2 L573.7,815.6 L579.5,815.9 L585.4,816.0 L591.2,816.1 L597.1,816.0 L603.0,815.9 L608.8,815.6 L614.6,815.2 L620.5,814.7 L626.4,814.2 L632.2,813.7 L638.0,813.1 L643.9,812.5 L649.8,812.0 L655.6,811.6 L661.5,811.2 L667.3,810.9 L673.1,810.7 L679.0,810.7" fill="none" stroke="#fff" stroke-width="2.1" opacity="0.88"/>
<path d="M503.5,817.4 L509.4,817.5 L515.2,817.7 L521.0,818.0 L526.9,818.4 L532.8,818.9 L538.6,819.5 L544.5,820.1 L550.3,820.8 L556.1,821.4 L562.0,822.0 L567.9,822.5 L573.7,822.9 L579.5,823.2 L585.4,823.4 L591.2,823.5 L597.1,823.4 L603.0,823.2 L608.8,822.9 L614.6,822.5 L620.5,822.0 L626.4,821.4 L632.2,820.8 L638.0,820.1 L643.9,819.5 L649.8,818.9 L655.6,818.4 L661.5,818.0 L667.3,817.7 L673.1,817.5 L679.0,817.4" fill="none" stroke="#fff" stroke-width="1.7" opacity="0.64"/>
<path d="M503.5,825.6 L509.4,825.6 L515.2,825.5 L521.0,825.3 L526.9,825.1 L532.8,824.8 L538.6,824.5 L544.5,824.1 L550.3,823.8 L556.1,823.5 L562.0,823.1 L567.9,822.9 L573.7,822.6 L579.5,822.5 L585.4,822.4 L591.2,822.3 L597.1,822.4 L603.0,822.5 L608.8,822.6 L614.6,822.9 L620.5,823.1 L626.4,823.5 L632.2,823.8 L638.0,824.1 L643.9,824.5 L649.8,824.8 L655.6,825.1 L661.5,825.3 L667.3,825.5 L673.1,825.6 L679.0,825.6" fill="none" stroke="#fff" stroke-width="2.0" opacity="0.81"/>
<path d="M503.5,831.0 L509.4,831.1 L515.2,831.3 L521.0,831.5 L526.9,831.9 L532.8,832.3 L538.6,832.7 L544.5,833.2 L550.3,833.7 L556.1,834.2 L562.0,834.7 L567.9,835.1 L573.7,835.5 L579.5,835.7 L585.4,835.9 L591.2,835.9 L597.1,835.9 L603.0,835.7 L608.8,835.5 L614.6,835.1 L620.5,834.7 L626.4,834.2 L632.2,833.7 L638.0,833.2 L643.9,832.7 L649.8,832.3 L655.6,831.9 L661.5,831.5 L667.3,831.3 L673.1,831.1 L679.0,831.0" fill="none" stroke="#fff" stroke-width="2.5" opacity="0.54"/>
<path d="M503.5,837.1 L509.4,837.1 L515.2,837.1 L521.0,837.0 L526.9,836.9 L532.8,836.8 L538.6,836.7 L544.5,836.5 L550.3,836.4 L556.1,836.2 L562.0,836.1 L567.9,836.0 L573.7,835.9 L579.5,835.8 L585.4,835.8 L591.2,835.8 L597.1,835.8 L603.0,835.8 L608.8,835.9 L614.6,836.0 L620.5,836.1 L626.4,836.2 L632.2,836.4 L638.0,836.5 L643.9,836.7 L649.8,836.8 L655.6,836.9 L661.5,837.0 L667.3,837.1 L673.1,837.1 L679.0,837.1" fill="none" stroke="#fff" stroke-width="1.7" opacity="0.87"/>
<path d="M503.5,844.3 L509.4,844.4 L515.2,844.5 L521.0,844.8 L526.9,845.1 L532.8,845.4 L538.6,845.9 L544.5,846.3 L550.3,846.8 L556.1,847.3 L562.0,847.7 L567.9,848.1 L573.7,848.4 L579.5,848.6 L585.4,848.8 L591.2,848.8 L597.1,848.8 L603.0,848.6 L608.8,848.4 L614.6,848.1 L620.5,847.7 L626.4,847.3 L632.2,846.8 L638.0,846.3 L643.9,845.9 L649.8,845.4 L655.6,845.1 L661.5,844.8 L667.3,844.5 L673.1,844.4 L679.0,844.3" fill="none" stroke="#fff" stroke-width="1.6" opacity="0.82"/>
<path d="M503.5,850.9 L509.4,850.9 L515.2,850.7 L521.0,850.4 L526.9,850.1 L532.8,849.6 L538.6,849.1 L544.5,848.6 L550.3,848.0 L556.1,847.5 L562.0,846.9 L567.9,846.5 L573.7,846.1 L579.5,845.9 L585.4,845.7 L591.2,845.6 L597.1,845.7 L603.0,845.9 L608.8,846.1 L614.6,846.5 L620.5,846.9 L626.4,847.5 L632.2,848.0 L638.0,848.6 L643.9,849.1 L649.8,849.6 L655.6,850.1 L661.5,850.4 L667.3,850.7 L673.1,850.9 L679.0,850.9" fill="none" stroke="#fff" stroke-width="2.6" opacity="0.56"/>
<path d="M503.5,854.3 L509.4,854.0 L515.2,853.4 L521.0,852.4 L526.9,851.0 L532.8,849.4 L538.6,847.5 L544.5,845.5 L550.3,843.5 L556.1,841.5 L562.0,839.7 L567.9,838.0 L573.7,836.7 L579.5,835.6 L585.4,835.0 L591.2,834.8 L597.1,835.0 L603.0,835.6 L608.8,836.7 L614.6,838.0 L620.5,839.7 L626.4,841.5 L632.2,843.5 L638.0,845.5 L643.9,847.5 L649.8,849.4 L655.6,851.0 L661.5,852.4 L667.3,853.4 L673.1,854.0 L679.0,854.3" fill="none" stroke="#fff" stroke-width="2.5" opacity="0.51"/>
<path d="M503.5,863.9 L509.4,863.9 L515.2,864.1 L521.0,864.3 L526.9,864.5 L532.8,864.8 L538.6,865.2 L544.5,865.6 L550.3,866.0 L556.1,866.3 L562.0,866.7 L567.9,867.0 L573.7,867.3 L579.5,867.5 L585.4,867.6 L591.2,867.6 L597.1,867.6 L603.0,867.5 L608.8,867.3 L614.6,867.0 L620.5,866.7 L626.4,866.3 L632.2,866.0 L638.0,865.6 L643.9,865.2 L649.8,864.8 L655.6,864.5 L661.5,864.3 L667.3,864.1 L673.1,863.9 L679.0,863.9" fill="none" stroke="#fff" stroke-width="1.8" opacity="0.67"/>
<path d="M503.5,866.7 L509.4,866.6 L515.2,866.5 L521.0,866.2 L526.9,865.9 L532.8,865.4 L538.6,865.0 L544.5,864.5 L550.3,863.9 L556.1,863.4 L562.0,863.0 L567.9,862.5 L573.7,862.2 L579.5,861.9 L585.4,861.8 L591.2,861.7 L597.1,861.8 L603.0,861.9 L608.8,862.2 L614.6,862.5 L620.5,863.0 L626.4,863.4 L632.2,863.9 L638.0,864.5 L643.9,865.0 L649.8,865.4 L655.6,865.9 L661.5,866.2 L667.3,866.5 L673.1,866.6 L679.0,866.7" fill="none" stroke="#fff" stroke-width="2.3" opacity="0.63"/>
<path d="M503.5,873.6 L509.4,873.4 L515.2,872.8 L521.0,871.8 L526.9,870.5 L532.8,868.8 L538.6,867.0 L544.5,865.0 L550.3,863.0 L556.1,861.0 L562.0,859.2 L567.9,857.6 L573.7,856.2 L579.5,855.2 L585.4,854.6 L591.2,854.4 L597.1,854.6 L603.0,855.2 L608.8,856.2 L614.6,857.6 L620.5,859.2 L626.4,861.0 L632.2,863.0 L638.0,865.0 L643.9,867.0 L649.8,868.8 L655.6,870.5 L661.5,871.8 L667.3,872.8 L673.1,873.4 L679.0,873.6" fill="none" stroke="#fff" stroke-width="2.5" opacity="0.75"/>
<path d="M503.5,882.7 L509.4,882.8 L515.2,883.1 L521.0,883.6 L526.9,884.3 L532.8,885.1 L538.6,886.0 L544.5,887.0 L550.3,887.9 L556.1,888.9 L562.0,889.8 L567.9,890.6 L573.7,891.3 L579.5,891.8 L585.4,892.1 L591.2,892.2 L597.1,892.1 L603.0,891.8 L608.8,891.3 L614.6,890.6 L620.5,889.8 L626.4,888.9 L632.2,887.9 L638.0,887.0 L643.9,886.0 L649.8,885.1 L655.6,884.3 L661.5,883.6 L667.3,883.1 L673.1,882.8 L679.0,882.7" fill="none" stroke="#fff" stroke-width="1.7" opacity="0.52"/>
<path d="M503.5,887.1 L509.4,887.3 L515.2,887.7 L521.0,888.5 L526.9,889.5 L532.8,890.7 L538.6,892.1 L544.5,893.5 L550.3,895.0 L556.1,896.5 L562.0,897.9 L567.9,899.1 L573.7,900.1 L579.5,900.8 L585.4,901.3 L591.2,901.5 L597.1,901.3 L603.0,900.8 L608.8,900.1 L614.6,899.1 L620.5,897.9 L626.4,896.5 L632.2,895.0 L638.0,893.5 L643.9,892.1 L649.8,890.7 L655.6,889.5 L661.5,888.5 L667.3,887.7 L673.1,887.3 L679.0,887.1" fill="none" stroke="#fff" stroke-width="2.4" opacity="0.89"/>
<path d="M503.5,893.5 L509.4,893.5 L515.2,893.5 L521.0,893.5 L526.9,893.5 L532.8,893.6 L538.6,893.6 L544.5,893.7 L550.3,893.7 L556.1,893.8 L562.0,893.8 L567.9,893.9 L573.7,893.9 L579.5,893.9 L585.4,893.9 L591.2,893.9 L597.1,893.9 L603.0,893.9 L608.8,893.9 L614.6,893.9 L620.5,893.8 L626.4,893.8 L632.2,893.7 L638.0,893.7 L643.9,893.6 L649.8,893.6 L655.6,893.5 L661.5,893.5 L667.3,893.5 L673.1,893.5 L679.0,893.5" fill="none" stroke="#fff" stroke-width="1.6" opacity="0.61"/>
<path d="M503.5,899.8 L509.4,899.7 L515.2,899.5 L521.0,899.3 L526.9,899.0 L532.8,898.5 L538.6,898.1 L544.5,897.6 L550.3,897.1 L556.1,896.6 L562.0,896.1 L567.9,895.7 L573.7,895.4 L579.5,895.1 L585.4,895.0 L591.2,894.9 L597.1,895.0 L603.0,895.1 L608.8,895.4 L614.6,895.7 L620.5,896.1 L626.4,896.6 L632.2,897.1 L638.0,897.6 L643.9,898.1 L649.8,898.5 L655.6,899.0 L661.5,899.3 L667.3,899.5 L673.1,899.7 L679.0,899.8" fill="none" stroke="#fff" stroke-width="1.7" opacity="0.90"/>
<path d="M503.5,908.4 L509.4,908.3 L515.2,908.2 L521.0,908.1 L526.9,907.9 L532.8,907.6 L538.6,907.3 L544.5,907.0 L550.3,906.7 L556.1,906.4 L562.0,906.1 L567.9,905.8 L573.7,905.6 L579.5,905.5 L585.4,905.4 L591.2,905.3 L597.1,905.4 L603.0,905.5 L608.8,905.6 L614.6,905.8 L620.5,906.1 L626.4,906.4 L632.2,906.7 L638.0,907.0 L643.9,907.3 L649.8,907.6 L655.6,907.9 L661.5,908.1 L667.3,908.2 L673.1,908.3 L679.0,908.4" fill="none" stroke="#fff" stroke-width="2.4" opacity="0.57"/>
<path d="M503.5,714.7 L506.4,714.7 L509.4,714.7 L512.3,714.7 L515.2,714.7 L518.1,714.8 L521.0,714.8 L524.0,714.7 L526.9,714.7 L529.8,714.6 L532.8,714.4 L535.7,714.2 L538.6,713.9 L541.5,713.5 L544.5,713.0 L547.4,712.5 L550.3,711.9 L553.2,711.2 L556.1,710.5 L559.1,709.7 L562.0,708.9 L564.9,708.1 L567.9,707.3 L570.8,706.5 L573.7,705.8 L576.6,705.2 L579.5,704.6 L582.5,704.2 L585.4,703.9 L588.3,703.7 L591.2,703.6 L594.2,703.7 L597.1,703.9 L600.0,704.2 L603.0,704.6 L605.9,705.2 L608.8,705.8 L611.7,706.5 L614.6,707.3 L617.6,708.1 L620.5,708.9 L623.4,709.7 L626.4,710.5 L629.3,711.2 L632.2,711.9 L635.1,712.5 L638.0,713.0 L641.0,713.5 L643.9,713.9 L646.8,714.2 L649.8,714.4 L652.7,714.6 L655.6,714.7 L658.5,714.7 L661.5,714.8 L664.4,714.8 L667.3,714.7 L670.2,714.7 L673.1,714.7 L676.1,714.7 L679.0,714.7 M503.5,720.5 L506.4,720.5 L509.4,720.6 L512.3,720.9 L515.2,721.2 L518.1,721.5 L521.0,721.9 L524.0,722.3 L526.9,722.7 L529.8,723.0 L532.8,723.3 L535.7,723.5 L538.6,723.6 L541.5,723.5 L544.5,723.3 L547.4,723.0 L550.3,722.6 L553.2,722.0 L556.1,721.3 L559.1,720.5 L562.0,719.6 L564.9,718.7 L567.9,717.8 L570.8,716.8 L573.7,716.0 L576.6,715.2 L579.5,714.5 L582.5,713.9 L585.4,713.5 L588.3,713.2 L591.2,713.1 L594.2,713.2 L597.1,713.5 L600.0,713.9 L603.0,714.5 L605.9,715.2 L608.8,716.0 L611.7,716.8 L614.6,717.8 L617.6,718.7 L620.5,719.6 L623.4,720.5 L626.4,721.3 L629.3,722.0 L632.2,722.6 L635.1,723.0 L638.0,723.3 L641.0,723.5 L643.9,723.6 L646.8,723.5 L649.8,723.3 L652.7,723.0 L655.6,722.7 L658.5,722.3 L661.5,721.9 L664.4,721.5 L667.3,721.2 L670.2,720.9 L673.1,720.6 L676.1,720.5 L679.0,720.5 M503.5,724.1 L506.4,724.1 L509.4,724.3 L512.3,724.6 L515.2,725.0 L518.1,725.5 L521.0,726.1 L524.0,726.7 L526.9,727.3 L529.8,728.0 L532.8,728.7 L535.7,729.3 L538.6,729.9 L541.5,730.4 L544.5,730.9 L547.4,731.3 L550.3,731.6 L553.2,731.8 L556.1,731.9 L559.1,731.9 L562.0,731.9 L564.9,731.8 L567.9,731.7 L570.8,731.5 L573.7,731.3 L576.6,731.1 L579.5,730.9 L582.5,730.8 L585.4,730.7 L588.3,730.6 L591.2,730.6 L594.2,730.6 L597.1,730.7 L600.0,730.8 L603.0,730.9 L605.9,731.1 L608.8,731.3 L611.7,731.5 L614.6,731.7 L617.6,731.8 L620.5,731.9 L623.4,731.9 L626.4,731.9 L629.3,731.8 L632.2,731.6 L635.1,731.3 L638.0,730.9 L641.0,730.4 L643.9,729.9 L646.8,729.3 L649.8,728.7 L652.7,728.0 L655.6,727.3 L658.5,726.7 L661.5,726.1 L664.4,725.5 L667.3,725.0 L670.2,724.6 L673.1,724.3 L676.1,724.1 L679.0,724.1 M503.5,731.5 L506.4,731.6 L509.4,731.9 L512.3,732.3 L515.2,732.9 L518.1,733.6 L521.0,734.5 L524.0,735.4 L526.9,736.4 L529.8,737.4 L532.8,738.4 L535.7,739.4 L538.6,740.3 L541.5,741.1 L544.5,741.8 L547.4,742.4 L550.3,742.9 L553.2,743.2 L556.1,743.5 L559.1,743.5 L562.0,743.5 L564.9,743.4 L567.9,743.2 L570.8,743.0 L573.7,742.8 L576.6,742.5 L579.5,742.3 L582.5,742.0 L585.4,741.9 L588.3,741.8 L591.2,741.7 L594.2,741.8 L597.1,741.9 L600.0,742.0 L603.0,742.3 L605.9,742.5 L608.8,742.8 L611.7,743.0 L614.6,743.2 L617.6,743.4 L620.5,743.5 L623.4,743.5 L626.4,743.5 L629.3,743.2 L632.2,742.9 L635.1,742.4 L638.0,741.8 L641.0,741.1 L643.9,740.3 L646.8,739.4 L649.8,738.4 L652.7,737.4 L655.6,736.4 L658.5,735.4 L661.5,734.5 L664.4,733.6 L667.3,732.9 L670.2,732.3 L673.1,731.9 L676.1,731.6 L679.0,731.5 M503.5,737.9 L506.4,738.0 L509.4,738.2 L512.3,738.6 L515.2,739.2 L518.1,739.8 L521.0,740.5 L524.0,741.3 L526.9,742.2 L529.8,743.1 L532.8,743.9 L535.7,744.7 L538.6,745.5 L541.5,746.1 L544.5,746.7 L547.4,747.1 L550.3,747.4 L553.2,747.6 L556.1,747.7 L559.1,747.6 L562.0,747.5 L564.9,747.3 L567.9,747.0 L570.8,746.7 L573.7,746.4 L576.6,746.0 L579.5,745.7 L582.5,745.5 L585.4,745.3 L588.3,745.2 L591.2,745.1 L594.2,745.2 L597.1,745.3 L600.0,745.5 L603.0,745.7 L605.9,746.0 L608.8,746.4 L611.7,746.7 L614.6,747.0 L617.6,747.3 L620.5,747.5 L623.4,747.6 L626.4,747.7 L629.3,747.6 L632.2,747.4 L635.1,747.1 L638.0,746.7 L641.0,746.1 L643.9,745.5 L646.8,744.7 L649.8,743.9 L652.7,743.1 L655.6,742.2 L658.5,741.3 L661.5,740.5 L664.4,739.8 L667.3,739.2 L670.2,738.6 L673.1,738.2 L676.1,738.0 L679.0,737.9 M503.5,746.2 L506.4,746.2 L509.4,746.3 L512.3,746.4 L515.2,746.6 L518.1,746.8 L521.0,747.0 L524.0,747.2 L526.9,747.5 L529.8,747.7 L532.8,747.9 L535.7,748.1 L538.6,748.2 L541.5,748.3 L544.5,748.3 L547.4,748.3 L550.3,748.2 L553.2,748.0 L556.1,747.8 L559.1,747.6 L562.0,747.3 L564.9,747.0 L567.9,746.7 L570.8,746.4 L573.7,746.0 L576.6,745.7 L579.5,745.5 L582.5,745.3 L585.4,745.1 L588.3,745.0 L591.2,745.0 L594.2,745.0 L597.1,745.1 L600.0,745.3 L603.0,745.5 L605.9,745.7 L608.8,746.0 L611.7,746.4 L614.6,746.7 L617.6,747.0 L620.5,747.3 L623.4,747.6 L626.4,747.8 L629.3,748.0 L632.2,748.2 L635.1,748.3 L638.0,748.3 L641.0,748.3 L643.9,748.2 L646.8,748.1 L649.8,747.9 L652.7,747.7 L655.6,747.5 L658.5,747.2 L661.5,747.0 L664.4,746.8 L667.3,746.6 L670.2,746.4 L673.1,746.3 L676.1,746.2 L679.0,746.2 M503.5,749.2 L506.4,749.3 L509.4,749.3 L512.3,749.5 L515.2,749.7 L518.1,749.9 L521.0,750.1 L524.0,750.4 L526.9,750.6 L529.8,750.9 L532.8,751.1 L535.7,751.3 L538.6,751.4 L541.5,751.5 L544.5,751.5 L547.4,751.4 L550.3,751.3 L553.2,751.1 L556.1,750.9 L559.1,750.6 L562.0,750.2 L564.9,749.9 L567.9,749.5 L570.8,749.1 L573.7,748.7 L576.6,748.4 L579.5,748.1 L582.5,747.8 L585.4,747.7 L588.3,747.5 L591.2,747.5 L594.2,747.5 L597.1,747.7 L600.0,747.8 L603.0,748.1 L605.9,748.4 L608.8,748.7 L611.7,749.1 L614.6,749.5 L617.6,749.9 L620.5,750.2 L623.4,750.6 L626.4,750.9 L629.3,751.1 L632.2,751.3 L635.1,751.4 L638.0,751.5 L641.0,751.5 L643.9,751.4 L646.8,751.3 L649.8,751.1 L652.7,750.9 L655.6,750.6 L658.5,750.4 L661.5,750.1 L664.4,749.9 L667.3,749.7 L670.2,749.5 L673.1,749.3 L676.1,749.3 L679.0,749.2 M503.5,757.7 L506.4,757.6 L509.4,757.4 L512.3,756.9 L515.2,756.3 L518.1,755.5 L521.0,754.6 L524.0,753.6 L526.9,752.4 L529.8,751.2 L532.8,749.9 L535.7,748.6 L538.6,747.2 L541.5,745.8 L544.5,744.5 L547.4,743.2 L550.3,741.9 L553.2,740.7 L556.1,739.6 L559.1,738.5 L562.0,737.6 L564.9,736.7 L567.9,735.9 L570.8,735.3 L573.7,734.7 L576.6,734.2 L579.5,733.8 L582.5,733.5 L585.4,733.3 L588.3,733.2 L591.2,733.1 L594.2,733.2 L597.1,733.3 L600.0,733.5 L603.0,733.8 L605.9,734.2 L608.8,734.7 L611.7,735.3 L614.6,735.9 L617.6,736.7 L620.5,737.6 L623.4,738.5 L626.4,739.6 L629.3,740.7 L632.2,741.9 L635.1,743.2 L638.0,744.5 L641.0,745.8 L643.9,747.2 L646.8,748.6 L649.8,749.9 L652.7,751.2 L655.6,752.4 L658.5,753.6 L661.5,754.6 L664.4,755.5 L667.3,756.3 L670.2,756.9 L673.1,757.4 L676.1,757.6 L679.0,757.7 M503.5,767.7 L506.4,767.6 L509.4,767.4 L512.3,767.0 L515.2,766.4 L518.1,765.8 L521.0,765.0 L524.0,764.1 L526.9,763.2 L529.8,762.3 L532.8,761.4 L535.7,760.5 L538.6,759.6 L541.5,758.8 L544.5,758.2 L547.4,757.6 L550.3,757.1 L553.2,756.7 L556.1,756.5 L559.1,756.3 L562.0,756.3 L564.9,756.3 L567.9,756.4 L570.8,756.5 L573.7,756.7 L576.6,756.9 L579.5,757.1 L582.5,757.2 L585.4,757.4 L588.3,757.4 L591.2,757.5 L594.2,757.4 L597.1,757.4 L600.0,757.2 L603.0,757.1 L605.9,756.9 L608.8,756.7 L611.7,756.5 L614.6,756.4 L617.6,756.3 L620.5,756.3 L623.4,756.3 L626.4,756.5 L629.3,756.7 L632.2,757.1 L635.1,757.6 L638.0,758.2 L641.0,758.8 L643.9,759.6 L646.8,760.5 L649.8,761.4 L652.7,762.3 L655.6,763.2 L658.5,764.1 L661.5,765.0 L664.4,765.8 L667.3,766.4 L670.2,767.0 L673.1,767.4 L676.1,767.6 L679.0,767.7 M503.5,773.4 L506.4,773.4 L509.4,773.5 L512.3,773.7 L515.2,773.9 L518.1,774.2 L521.0,774.6 L524.0,775.1 L526.9,775.6 L529.8,776.2 L532.8,776.8 L535.7,777.6 L538.6,778.3 L541.5,779.1 L544.5,780.0 L547.4,780.9 L550.3,781.8 L553.2,782.8 L556.1,783.7 L559.1,784.6 L562.0,785.5 L564.9,786.4 L567.9,787.2 L570.8,788.0 L573.7,788.7 L576.6,789.3 L579.5,789.8 L582.5,790.2 L585.4,790.5 L588.3,790.7 L591.2,790.7 L594.2,790.7 L597.1,790.5 L600.0,790.2 L603.0,789.8 L605.9,789.3 L608.8,788.7 L611.7,788.0 L614.6,787.2 L617.6,786.4 L620.5,785.5 L623.4,784.6 L626.4,783.7 L629.3,782.8 L632.2,781.8 L635.1,780.9 L638.0,780.0 L641.0,779.1 L643.9,778.3 L646.8,777.6 L649.8,776.8 L652.7,776.2 L655.6,775.6 L658.5,775.1 L661.5,774.6 L664.4,774.2 L667.3,773.9 L670.2,773.7 L673.1,773.5 L676.1,773.4 L679.0,773.4 M503.5,782.4 L506.4,782.3 L509.4,782.1 L512.3,781.7 L515.2,781.1 L518.1,780.5 L521.0,779.7 L524.0,778.9 L526.9,778.0 L529.8,777.2 L532.8,776.4 L535.7,775.7 L538.6,775.1 L541.5,774.6 L544.5,774.3 L547.4,774.1 L550.3,774.1 L553.2,774.2 L556.1,774.5 L559.1,774.9 L562.0,775.5 L564.9,776.1 L567.9,776.8 L570.8,777.5 L573.7,778.1 L576.6,778.8 L579.5,779.4 L582.5,779.9 L585.4,780.2 L588.3,780.4 L591.2,780.5 L594.2,780.4 L597.1,780.2 L600.0,779.9 L603.0,779.4 L605.9,778.8 L608.8,778.1 L611.7,777.5 L614.6,776.8 L617.6,776.1 L620.5,775.5 L623.4,774.9 L626.4,774.5 L629.3,774.2 L632.2,774.1 L635.1,774.1 L638.0,774.3 L641.0,774.6 L643.9,775.1 L646.8,775.7 L649.8,776.4 L652.7,777.2 L655.6,778.0 L658.5,778.9 L661.5,779.7 L664.4,780.5 L667.3,781.1 L670.2,781.7 L673.1,782.1 L676.1,782.3 L679.0,782.4 M503.5,780.2 L506.4,780.2 L509.4,780.2 L512.3,780.2 L515.2,780.2 L518.1,780.2 L521.0,780.2 L524.0,780.1 L526.9,779.9 L529.8,779.7 L532.8,779.5 L535.7,779.1 L538.6,778.7 L541.5,778.1 L544.5,777.4 L547.4,776.7 L550.3,775.8 L553.2,774.9 L556.1,773.9 L559.1,772.9 L562.0,771.8 L564.9,770.7 L567.9,769.7 L570.8,768.7 L573.7,767.7 L576.6,766.9 L579.5,766.2 L582.5,765.6 L585.4,765.2 L588.3,764.9 L591.2,764.8 L594.2,764.9 L597.1,765.2 L600.0,765.6 L603.0,766.2 L605.9,766.9 L608.8,767.7 L611.7,768.7 L614.6,769.7 L617.6,770.7 L620.5,771.8 L623.4,772.9 L626.4,773.9 L629.3,774.9 L632.2,775.8 L635.1,776.7 L638.0,777.4 L641.0,778.1 L643.9,778.7 L646.8,779.1 L649.8,779.5 L652.7,779.7 L655.6,779.9 L658.5,780.1 L661.5,780.2 L664.4,780.2 L667.3,780.2 L670.2,780.2 L673.1,780.2 L676.1,780.2 L679.0,780.2 M503.5,785.7 L506.4,785.7 L509.4,785.8 L512.3,785.9 L515.2,786.1 L518.1,786.3 L521.0,786.5 L524.0,786.7 L526.9,786.9 L529.8,786.9 L532.8,786.9 L535.7,786.7 L538.6,786.4 L541.5,785.9 L544.5,785.3 L547.4,784.5 L550.3,783.6 L553.2,782.5 L556.1,781.3 L559.1,780.0 L562.0,778.6 L564.9,777.2 L567.9,775.8 L570.8,774.5 L573.7,773.2 L576.6,772.1 L579.5,771.1 L582.5,770.3 L585.4,769.7 L588.3,769.3 L591.2,769.2 L594.2,769.3 L597.1,769.7 L600.0,770.3 L603.0,771.1 L605.9,772.1 L608.8,773.2 L611.7,774.5 L614.6,775.8 L617.6,777.2 L620.5,778.6 L623.4,780.0 L626.4,781.3 L629.3,782.5 L632.2,783.6 L635.1,784.5 L638.0,785.3 L641.0,785.9 L643.9,786.4 L646.8,786.7 L649.8,786.9 L652.7,786.9 L655.6,786.9 L658.5,786.7 L661.5,786.5 L664.4,786.3 L667.3,786.1 L670.2,785.9 L673.1,785.8 L676.1,785.7 L679.0,785.7 M503.5,790.9 L506.4,790.9 L509.4,791.1 L512.3,791.4 L515.2,791.7 L518.1,792.2 L521.0,792.7 L524.0,793.2 L526.9,793.8 L529.8,794.4 L532.8,795.0 L535.7,795.6 L538.6,796.1 L541.5,796.5 L544.5,796.8 L547.4,797.1 L550.3,797.3 L553.2,797.4 L556.1,797.4 L559.1,797.4 L562.0,797.2 L564.9,797.1 L567.9,796.8 L570.8,796.6 L573.7,796.3 L576.6,796.1 L579.5,795.8 L582.5,795.6 L585.4,795.5 L588.3,795.4 L591.2,795.4 L594.2,795.4 L597.1,795.5 L600.0,795.6 L603.0,795.8 L605.9,796.1 L608.8,796.3 L611.7,796.6 L614.6,796.8 L617.6,797.1 L620.5,797.2 L623.4,797.4 L626.4,797.4 L629.3,797.4 L632.2,797.3 L635.1,797.1 L638.0,796.8 L641.0,796.5 L643.9,796.1 L646.8,795.6 L649.8,795.0 L652.7,794.4 L655.6,793.8 L658.5,793.2 L661.5,792.7 L664.4,792.2 L667.3,791.7 L670.2,791.4 L673.1,791.1 L676.1,790.9 L679.0,790.9 M503.5,798.8 L506.4,798.8 L509.4,798.9 L512.3,799.1 L515.2,799.4 L518.1,799.7 L521.0,800.0 L524.0,800.4 L526.9,800.8 L529.8,801.2 L532.8,801.6 L535.7,801.9 L538.6,802.3 L541.5,802.6 L544.5,802.8 L547.4,803.0 L550.3,803.1 L553.2,803.2 L556.1,803.2 L559.1,803.2 L562.0,803.1 L564.9,803.0 L567.9,802.8 L570.8,802.6 L573.7,802.5 L576.6,802.3 L579.5,802.1 L582.5,802.0 L585.4,801.9 L588.3,801.8 L591.2,801.8 L594.2,801.8 L597.1,801.9 L600.0,802.0 L603.0,802.1 L605.9,802.3 L608.8,802.5 L611.7,802.6 L614.6,802.8 L617.6,803.0 L620.5,803.1 L623.4,803.2 L626.4,803.2 L629.3,803.2 L632.2,803.1 L635.1,803.0 L638.0,802.8 L641.0,802.6 L643.9,802.3 L646.8,801.9 L649.8,801.6 L652.7,801.2 L655.6,800.8 L658.5,800.4 L661.5,800.0 L664.4,799.7 L667.3,799.4 L670.2,799.1 L673.1,798.9 L676.1,798.8 L679.0,798.8 M503.5,807.8 L506.4,807.8 L509.4,807.9 L512.3,808.0 L515.2,808.1 L518.1,808.2 L521.0,808.4 L524.0,808.6 L526.9,808.8 L529.8,808.9 L532.8,809.0 L535.7,809.1 L538.6,809.2 L541.5,809.2 L544.5,809.1 L547.4,809.0 L550.3,808.8 L553.2,808.6 L556.1,808.3 L559.1,808.0 L562.0,807.6 L564.9,807.3 L567.9,806.9 L570.8,806.5 L573.7,806.1 L576.6,805.8 L579.5,805.5 L582.5,805.3 L585.4,805.1 L588.3,805.0 L591.2,805.0 L594.2,805.0 L597.1,805.1 L600.0,805.3 L603.0,805.5 L605.9,805.8 L608.8,806.1 L611.7,806.5 L614.6,806.9 L617.6,807.3 L620.5,807.6 L623.4,808.0 L626.4,808.3 L629.3,808.6 L632.2,808.8 L635.1,809.0 L638.0,809.1 L641.0,809.2 L643.9,809.2 L646.8,809.1 L649.8,809.0 L652.7,808.9 L655.6,808.8 L658.5,808.6 L661.5,808.4 L664.4,808.2 L667.3,808.1 L670.2,808.0 L673.1,807.9 L676.1,807.8 L679.0,807.8 M503.5,810.7 L506.4,810.7 L509.4,810.7 L512.3,810.7 L515.2,810.6 L518.1,810.6 L521.0,810.5 L524.0,810.5 L526.9,810.4 L529.8,810.3 L532.8,810.1 L535.7,810.0 L538.6,809.8 L541.5,809.7 L544.5,809.5 L547.4,809.3 L550.3,809.1 L553.2,808.9 L556.1,808.6 L559.1,808.4 L562.0,808.2 L564.9,808.0 L567.9,807.7 L570.8,807.5 L573.7,807.4 L576.6,807.2 L579.5,807.1 L582.5,807.0 L585.4,806.9 L588.3,806.8 L591.2,806.8 L594.2,806.8 L597.1,806.9 L600.0,807.0 L603.0,807.1 L605.9,807.2 L608.8,807.4 L611.7,807.5 L614.6,807.7 L617.6,808.0 L620.5,808.2 L623.4,808.4 L626.4,808.6 L629.3,808.9 L632.2,809.1 L635.1,809.3 L638.0,809.5 L641.0,809.7 L643.9,809.8 L646.8,810.0 L649.8,810.1 L652.7,810.3 L655.6,810.4 L658.5,810.5 L661.5,810.5 L664.4,810.6 L667.3,810.6 L670.2,810.7 L673.1,810.7 L676.1,810.7 L679.0,810.7 M503.5,816.6 L506.4,816.6 L509.4,816.7 L512.3,816.8 L515.2,817.0 L518.1,817.2 L521.0,817.4 L524.0,817.6 L526.9,817.8 L529.8,818.0 L532.8,818.2 L535.7,818.4 L538.6,818.4 L541.5,818.5 L544.5,818.4 L547.4,818.3 L550.3,818.1 L553.2,817.9 L556.1,817.6 L559.1,817.3 L562.0,816.9 L564.9,816.5 L567.9,816.1 L570.8,815.6 L573.7,815.2 L576.6,814.9 L579.5,814.6 L582.5,814.3 L585.4,814.1 L588.3,814.0 L591.2,813.9 L594.2,814.0 L597.1,814.1 L600.0,814.3 L603.0,814.6 L605.9,814.9 L608.8,815.2 L611.7,815.6 L614.6,816.1 L617.6,816.5 L620.5,816.9 L623.4,817.3 L626.4,817.6 L629.3,817.9 L632.2,818.1 L635.1,818.3 L638.0,818.4 L641.0,818.5 L643.9,818.4 L646.8,818.4 L649.8,818.2 L652.7,818.0 L655.6,817.8 L658.5,817.6 L661.5,817.4 L664.4,817.2 L667.3,817.0 L670.2,816.8 L673.1,816.7 L676.1,816.6 L679.0,816.6 M503.5,819.4 L506.4,819.4 L509.4,819.4 L512.3,819.5 L515.2,819.5 L518.1,819.5 L521.0,819.4 L524.0,819.3 L526.9,819.1 L529.8,818.8 L532.8,818.3 L535.7,817.7 L538.6,816.9 L541.5,815.9 L544.5,814.8 L547.4,813.4 L550.3,811.9 L553.2,810.3 L556.1,808.5 L559.1,806.6 L562.0,804.7 L564.9,802.8 L567.9,800.9 L570.8,799.1 L573.7,797.4 L576.6,795.9 L579.5,794.6 L582.5,793.5 L585.4,792.8 L588.3,792.3 L591.2,792.1 L594.2,792.3 L597.1,792.8 L600.0,793.5 L603.0,794.6 L605.9,795.9 L608.8,797.4 L611.7,799.1 L614.6,800.9 L617.6,802.8 L620.5,804.7 L623.4,806.6 L626.4,808.5 L629.3,810.3 L632.2,811.9 L635.1,813.4 L638.0,814.8 L641.0,815.9 L643.9,816.9 L646.8,817.7 L649.8,818.3 L652.7,818.8 L655.6,819.1 L658.5,819.3 L661.5,819.4 L664.4,819.5 L667.3,819.5 L670.2,819.5 L673.1,819.4 L676.1,819.4 L679.0,819.4 M503.5,831.5 L506.4,831.5 L509.4,831.4 L512.3,831.3 L515.2,831.1 L518.1,830.9 L521.0,830.6 L524.0,830.3 L526.9,829.9 L529.8,829.5 L532.8,829.1 L535.7,828.6 L538.6,828.2 L541.5,827.6 L544.5,827.1 L547.4,826.6 L550.3,826.0 L553.2,825.5 L556.1,824.9 L559.1,824.4 L562.0,823.9 L564.9,823.4 L567.9,823.0 L570.8,822.6 L573.7,822.2 L576.6,821.9 L579.5,821.6 L582.5,821.4 L585.4,821.2 L588.3,821.2 L591.2,821.1 L594.2,821.2 L597.1,821.2 L600.0,821.4 L603.0,821.6 L605.9,821.9 L608.8,822.2 L611.7,822.6 L614.6,823.0 L617.6,823.4 L620.5,823.9 L623.4,824.4 L626.4,824.9 L629.3,825.5 L632.2,826.0 L635.1,826.6 L638.0,827.1 L641.0,827.6 L643.9,828.2 L646.8,828.6 L649.8,829.1 L652.7,829.5 L655.6,829.9 L658.5,830.3 L661.5,830.6 L664.4,830.9 L667.3,831.1 L670.2,831.3 L673.1,831.4 L676.1,831.5 L679.0,831.5 M503.5,837.1 L506.4,837.0 L509.4,837.0 L512.3,836.9 L515.2,836.7 L518.1,836.5 L521.0,836.3 L524.0,835.9 L526.9,835.4 L529.8,834.9 L532.8,834.2 L535.7,833.3 L538.6,832.4 L541.5,831.3 L544.5,830.1 L547.4,828.7 L550.3,827.3 L553.2,825.7 L556.1,824.1 L559.1,822.4 L562.0,820.8 L564.9,819.1 L567.9,817.5 L570.8,816.0 L573.7,814.6 L576.6,813.3 L579.5,812.3 L582.5,811.4 L585.4,810.8 L588.3,810.4 L591.2,810.3 L594.2,810.4 L597.1,810.8 L600.0,811.4 L603.0,812.3 L605.9,813.3 L608.8,814.6 L611.7,816.0 L614.6,817.5 L617.6,819.1 L620.5,820.8 L623.4,822.4 L626.4,824.1 L629.3,825.7 L632.2,827.3 L635.1,828.7 L638.0,830.1 L641.0,831.3 L643.9,832.4 L646.8,833.3 L649.8,834.2 L652.7,834.9 L655.6,835.4 L658.5,835.9 L661.5,836.3 L664.4,836.5 L667.3,836.7 L670.2,836.9 L673.1,837.0 L676.1,837.0 L679.0,837.1 M503.5,849.1 L506.4,849.0 L509.4,848.8 L512.3,848.4 L515.2,847.9 L518.1,847.2 L521.0,846.5 L524.0,845.7 L526.9,844.9 L529.8,844.1 L532.8,843.3 L535.7,842.6 L538.6,842.0 L541.5,841.4 L544.5,841.0 L547.4,840.8 L550.3,840.6 L553.2,840.7 L556.1,840.8 L559.1,841.1 L562.0,841.5 L564.9,841.9 L567.9,842.4 L570.8,843.0 L573.7,843.5 L576.6,844.1 L579.5,844.5 L582.5,844.9 L585.4,845.2 L588.3,845.4 L591.2,845.4 L594.2,845.4 L597.1,845.2 L600.0,844.9 L603.0,844.5 L605.9,844.1 L608.8,843.5 L611.7,843.0 L614.6,842.4 L617.6,841.9 L620.5,841.5 L623.4,841.1 L626.4,840.8 L629.3,840.7 L632.2,840.6 L635.1,840.8 L638.0,841.0 L641.0,841.4 L643.9,842.0 L646.8,842.6 L649.8,843.3 L652.7,844.1 L655.6,844.9 L658.5,845.7 L661.5,846.5 L664.4,847.2 L667.3,847.9 L670.2,848.4 L673.1,848.8 L676.1,849.0 L679.0,849.1 M503.5,849.8 L506.4,849.7 L509.4,849.4 L512.3,848.9 L515.2,848.2 L518.1,847.4 L521.0,846.5 L524.0,845.4 L526.9,844.3 L529.8,843.1 L532.8,841.9 L535.7,840.7 L538.6,839.5 L541.5,838.4 L544.5,837.3 L547.4,836.4 L550.3,835.5 L553.2,834.8 L556.1,834.2 L559.1,833.7 L562.0,833.3 L564.9,833.1 L567.9,832.9 L570.8,832.7 L573.7,832.7 L576.6,832.7 L579.5,832.7 L582.5,832.7 L585.4,832.7 L588.3,832.7 L591.2,832.7 L594.2,832.7 L597.1,832.7 L600.0,832.7 L603.0,832.7 L605.9,832.7 L608.8,832.7 L611.7,832.7 L614.6,832.9 L617.6,833.1 L620.5,833.3 L623.4,833.7 L626.4,834.2 L629.3,834.8 L632.2,835.5 L635.1,836.4 L638.0,837.3 L641.0,838.4 L643.9,839.5 L646.8,840.7 L649.8,841.9 L652.7,843.1 L655.6,844.3 L658.5,845.4 L661.5,846.5 L664.4,847.4 L667.3,848.2 L670.2,848.9 L673.1,849.4 L676.1,849.7 L679.0,849.8 M503.5,854.9 L506.4,855.0 L509.4,855.1 L512.3,855.4 L515.2,855.7 L518.1,856.1 L521.0,856.5 L524.0,857.0 L526.9,857.5 L529.8,857.9 L532.8,858.4 L535.7,858.7 L538.6,859.0 L541.5,859.1 L544.5,859.2 L547.4,859.1 L550.3,858.9 L553.2,858.6 L556.1,858.2 L559.1,857.7 L562.0,857.1 L564.9,856.5 L567.9,855.8 L570.8,855.2 L573.7,854.5 L576.6,853.9 L579.5,853.4 L582.5,853.0 L585.4,852.7 L588.3,852.5 L591.2,852.4 L594.2,852.5 L597.1,852.7 L600.0,853.0 L603.0,853.4 L605.9,853.9 L608.8,854.5 L611.7,855.2 L614.6,855.8 L617.6,856.5 L620.5,857.1 L623.4,857.7 L626.4,858.2 L629.3,858.6 L632.2,858.9 L635.1,859.1 L638.0,859.2 L641.0,859.1 L643.9,859.0 L646.8,858.7 L649.8,858.4 L652.7,857.9 L655.6,857.5 L658.5,857.0 L661.5,856.5 L664.4,856.1 L667.3,855.7 L670.2,855.4 L673.1,855.1 L676.1,855.0 L679.0,854.9 M503.5,864.0 L506.4,863.9 L509.4,863.7 L512.3,863.3 L515.2,862.8 L518.1,862.1 L521.0,861.4 L524.0,860.6 L526.9,859.8 L529.8,859.0 L532.8,858.2 L535.7,857.4 L538.6,856.7 L541.5,856.0 L544.5,855.5 L547.4,855.1 L550.3,854.8 L553.2,854.6 L556.1,854.5 L559.1,854.6 L562.0,854.7 L564.9,854.9 L567.9,855.2 L570.8,855.5 L573.7,855.9 L576.6,856.2 L579.5,856.5 L582.5,856.7 L585.4,856.9 L588.3,857.0 L591.2,857.1 L594.2,857.0 L597.1,856.9 L600.0,856.7 L603.0,856.5 L605.9,856.2 L608.8,855.9 L611.7,855.5 L614.6,855.2 L617.6,854.9 L620.5,854.7 L623.4,854.6 L626.4,854.5 L629.3,854.6 L632.2,854.8 L635.1,855.1 L638.0,855.5 L641.0,856.0 L643.9,856.7 L646.8,857.4 L649.8,858.2 L652.7,859.0 L655.6,859.8 L658.5,860.6 L661.5,861.4 L664.4,862.1 L667.3,862.8 L670.2,863.3 L673.1,863.7 L676.1,863.9 L679.0,864.0 M503.5,868.8 L506.4,868.8 L509.4,868.8 L512.3,868.8 L515.2,868.7 L518.1,868.7 L521.0,868.6 L524.0,868.6 L526.9,868.6 L529.8,868.5 L532.8,868.5 L535.7,868.5 L538.6,868.5 L541.5,868.5 L544.5,868.5 L547.4,868.5 L550.3,868.6 L553.2,868.6 L556.1,868.7 L559.1,868.8 L562.0,868.9 L564.9,869.0 L567.9,869.1 L570.8,869.2 L573.7,869.3 L576.6,869.4 L579.5,869.4 L582.5,869.5 L585.4,869.5 L588.3,869.6 L591.2,869.6 L594.2,869.6 L597.1,869.5 L600.0,869.5 L603.0,869.4 L605.9,869.4 L608.8,869.3 L611.7,869.2 L614.6,869.1 L617.6,869.0 L620.5,868.9 L623.4,868.8 L626.4,868.7 L629.3,868.6 L632.2,868.6 L635.1,868.5 L638.0,868.5 L641.0,868.5 L643.9,868.5 L646.8,868.5 L649.8,868.5 L652.7,868.5 L655.6,868.6 L658.5,868.6 L661.5,868.6 L664.4,868.7 L667.3,868.7 L670.2,868.8 L673.1,868.8 L676.1,868.8 L679.0,868.8 M503.5,874.2 L506.4,874.2 L509.4,874.1 L512.3,873.9 L515.2,873.7 L518.1,873.5 L521.0,873.1 L524.0,872.8 L526.9,872.4 L529.8,871.9 L532.8,871.4 L535.7,871.0 L538.6,870.4 L541.5,869.9 L544.5,869.4 L547.4,868.9 L550.3,868.4 L553.2,867.9 L556.1,867.5 L559.1,867.1 L562.0,866.6 L564.9,866.3 L567.9,865.9 L570.8,865.6 L573.7,865.4 L576.6,865.2 L579.5,865.0 L582.5,864.8 L585.4,864.7 L588.3,864.7 L591.2,864.6 L594.2,864.7 L597.1,864.7 L600.0,864.8 L603.0,865.0 L605.9,865.2 L608.8,865.4 L611.7,865.6 L614.6,865.9 L617.6,866.3 L620.5,866.6 L623.4,867.1 L626.4,867.5 L629.3,867.9 L632.2,868.4 L635.1,868.9 L638.0,869.4 L641.0,869.9 L643.9,870.4 L646.8,871.0 L649.8,871.4 L652.7,871.9 L655.6,872.4 L658.5,872.8 L661.5,873.1 L664.4,873.5 L667.3,873.7 L670.2,873.9 L673.1,874.1 L676.1,874.2 L679.0,874.2 M503.5,875.1 L506.4,875.2 L509.4,875.5 L512.3,876.1 L515.2,876.8 L518.1,877.7 L521.0,878.7 L524.0,879.9 L526.9,881.1 L529.8,882.3 L532.8,883.5 L535.7,884.7 L538.6,885.8 L541.5,886.8 L544.5,887.6 L547.4,888.3 L550.3,888.9 L553.2,889.3 L556.1,889.5 L559.1,889.6 L562.0,889.6 L564.9,889.4 L567.9,889.2 L570.8,888.9 L573.7,888.5 L576.6,888.2 L579.5,887.9 L582.5,887.6 L585.4,887.4 L588.3,887.2 L591.2,887.2 L594.2,887.2 L597.1,887.4 L600.0,887.6 L603.0,887.9 L605.9,888.2 L608.8,888.5 L611.7,888.9 L614.6,889.2 L617.6,889.4 L620.5,889.6 L623.4,889.6 L626.4,889.5 L629.3,889.3 L632.2,888.9 L635.1,888.3 L638.0,887.6 L641.0,886.8 L643.9,885.8 L646.8,884.7 L649.8,883.5 L652.7,882.3 L655.6,881.1 L658.5,879.9 L661.5,878.7 L664.4,877.7 L667.3,876.8 L670.2,876.1 L673.1,875.5 L676.1,875.2 L679.0,875.1 M503.5,885.5 L506.4,885.6 L509.4,885.7 L512.3,885.8 L515.2,886.1 L518.1,886.3 L521.0,886.6 L524.0,886.9 L526.9,887.2 L529.8,887.4 L532.8,887.7 L535.7,887.8 L538.6,887.9 L541.5,887.9 L544.5,887.8 L547.4,887.6 L550.3,887.3 L553.2,886.9 L556.1,886.4 L559.1,885.8 L562.0,885.2 L564.9,884.6 L567.9,883.9 L570.8,883.3 L573.7,882.7 L576.6,882.1 L579.5,881.6 L582.5,881.2 L585.4,880.9 L588.3,880.8 L591.2,880.7 L594.2,880.8 L597.1,880.9 L600.0,881.2 L603.0,881.6 L605.9,882.1 L608.8,882.7 L611.7,883.3 L614.6,883.9 L617.6,884.6 L620.5,885.2 L623.4,885.8 L626.4,886.4 L629.3,886.9 L632.2,887.3 L635.1,887.6 L638.0,887.8 L641.0,887.9 L643.9,887.9 L646.8,887.8 L649.8,887.7 L652.7,887.4 L655.6,887.2 L658.5,886.9 L661.5,886.6 L664.4,886.3 L667.3,886.1 L670.2,885.8 L673.1,885.7 L676.1,885.6 L679.0,885.5 M503.5,895.2 L506.4,895.1 L509.4,894.9 L512.3,894.5 L515.2,893.9 L518.1,893.3 L521.0,892.5 L524.0,891.7 L526.9,890.9 L529.8,890.1 L532.8,889.4 L535.7,888.7 L538.6,888.1 L541.5,887.7 L544.5,887.4 L547.4,887.2 L550.3,887.3 L553.2,887.5 L556.1,887.8 L559.1,888.3 L562.0,888.9 L564.9,889.5 L567.9,890.3 L570.8,891.0 L573.7,891.7 L576.6,892.4 L579.5,893.0 L582.5,893.5 L585.4,893.9 L588.3,894.1 L591.2,894.2 L594.2,894.1 L597.1,893.9 L600.0,893.5 L603.0,893.0 L605.9,892.4 L608.8,891.7 L611.7,891.0 L614.6,890.3 L617.6,889.5 L620.5,888.9 L623.4,888.3 L626.4,887.8 L629.3,887.5 L632.2,887.3 L635.1,887.2 L638.0,887.4 L641.0,887.7 L643.9,888.1 L646.8,888.7 L649.8,889.4 L652.7,890.1 L655.6,890.9 L658.5,891.7 L661.5,892.5 L664.4,893.3 L667.3,893.9 L670.2,894.5 L673.1,894.9 L676.1,895.1 L679.0,895.2 M503.5,901.8 L506.4,901.7 L509.4,901.7 L512.3,901.5 L515.2,901.3 L518.1,901.1 L521.0,900.9 L524.0,900.7 L526.9,900.6 L529.8,900.4 L532.8,900.4 L535.7,900.4 L538.6,900.5 L541.5,900.7 L544.5,901.1 L547.4,901.5 L550.3,902.1 L553.2,902.8 L556.1,903.5 L559.1,904.4 L562.0,905.3 L564.9,906.2 L567.9,907.1 L570.8,908.0 L573.7,908.8 L576.6,909.6 L579.5,910.3 L582.5,910.8 L585.4,911.2 L588.3,911.4 L591.2,911.5 L594.2,911.4 L597.1,911.2 L600.0,910.8 L603.0,910.3 L605.9,909.6 L608.8,908.8 L611.7,908.0 L614.6,907.1 L617.6,906.2 L620.5,905.3 L623.4,904.4 L626.4,903.5 L629.3,902.8 L632.2,902.1 L635.1,901.5 L638.0,901.1 L641.0,900.7 L643.9,900.5 L646.8,900.4 L649.8,900.4 L652.7,900.4 L655.6,900.6 L658.5,900.7 L661.5,900.9 L664.4,901.1 L667.3,901.3 L670.2,901.5 L673.1,901.7 L676.1,901.7 L679.0,901.8 M503.5,902.8 L506.4,902.8 L509.4,903.0 L512.3,903.3 L515.2,903.7 L518.1,904.2 L521.0,904.7 L524.0,905.3 L526.9,905.8 L529.8,906.3 L532.8,906.7 L535.7,907.1 L538.6,907.3 L541.5,907.4 L544.5,907.4 L547.4,907.2 L550.3,906.8 L553.2,906.3 L556.1,905.6 L559.1,904.9 L562.0,904.0 L564.9,903.1 L567.9,902.1 L570.8,901.2 L573.7,900.3 L576.6,899.4 L579.5,898.7 L582.5,898.1 L585.4,897.6 L588.3,897.4 L591.2,897.3 L594.2,897.4 L597.1,897.6 L600.0,898.1 L603.0,898.7 L605.9,899.4 L608.8,900.3 L611.7,901.2 L614.6,902.1 L617.6,903.1 L620.5,904.0 L623.4,904.9 L626.4,905.6 L629.3,906.3 L632.2,906.8 L635.1,907.2 L638.0,907.4 L641.0,907.4 L643.9,907.3 L646.8,907.1 L649.8,906.7 L652.7,906.3 L655.6,905.8 L658.5,905.3 L661.5,904.7 L664.4,904.2 L667.3,903.7 L670.2,903.3 L673.1,903.0 L676.1,902.8 L679.0,902.8 M503.5,915.2 L506.4,915.1 L509.4,914.8 L512.3,914.3 L515.2,913.6 L518.1,912.8 L521.0,911.9 L524.0,910.9 L526.9,909.8 L529.8,908.7 L532.8,907.7 L535.7,906.7 L538.6,905.7 L541.5,904.9 L544.5,904.2 L547.4,903.6 L550.3,903.2 L553.2,903.0 L556.1,902.9 L559.1,902.9 L562.0,903.0 L564.9,903.3 L567.9,903.6 L570.8,904.0 L573.7,904.4 L576.6,904.8 L579.5,905.1 L582.5,905.4 L585.4,905.7 L588.3,905.8 L591.2,905.9 L594.2,905.8 L597.1,905.7 L600.0,905.4 L603.0,905.1 L605.9,904.8 L608.8,904.4 L611.7,904.0 L614.6,903.6 L617.6,903.3 L620.5,903.0 L623.4,902.9 L626.4,902.9 L629.3,903.0 L632.2,903.2 L635.1,903.6 L638.0,904.2 L641.0,904.9 L643.9,905.7 L646.8,906.7 L649.8,907.7 L652.7,908.7 L655.6,909.8 L658.5,910.9 L661.5,911.9 L664.4,912.8 L667.3,913.6 L670.2,914.3 L673.1,914.8 L676.1,915.1 L679.0,915.2 M503.5,913.8 L506.4,913.9 L509.4,914.0 L512.3,914.2 L515.2,914.5 L518.1,914.9 L521.0,915.2 L524.0,915.6 L526.9,916.0 L529.8,916.4 L532.8,916.7 L535.7,917.0 L538.6,917.2 L541.5,917.2 L544.5,917.2 L547.4,917.0 L550.3,916.8 L553.2,916.4 L556.1,915.9 L559.1,915.3 L562.0,914.7 L564.9,914.0 L567.9,913.3 L570.8,912.6 L573.7,912.0 L576.6,911.3 L579.5,910.8 L582.5,910.4 L585.4,910.0 L588.3,909.8 L591.2,909.8 L594.2,909.8 L597.1,910.0 L600.0,910.4 L603.0,910.8 L605.9,911.3 L608.8,912.0 L611.7,912.6 L614.6,913.3 L617.6,914.0 L620.5,914.7 L623.4,915.3 L626.4,915.9 L629.3,916.4 L632.2,916.8 L635.1,917.0 L638.0,917.2 L641.0,917.2 L643.9,917.2 L646.8,917.0 L649.8,916.7 L652.7,916.4 L655.6,916.0 L658.5,915.6 L661.5,915.2 L664.4,914.9 L667.3,914.5 L670.2,914.2 L673.1,914.0 L676.1,913.9 L679.0,913.8" fill="none" stroke="#cacaca" stroke-width="0.9" stroke-dasharray="0.9,1.2"/>
<path d="M511.5,814 Q591.4,806 671.0,814 Q639.0,840 591.4,858 Q543.5,840 511.5,814 Z" fill="#fff" opacity="0.95"/>
</g>
<line x1="591.40" y1="723.20" x2="591.40" y2="909.20" stroke="#b8b8b8" stroke-width="1" />
<rect x="503.50" y="723.20" width="175.50" height="186.00" stroke="#999" stroke-width="1.1" fill="none" />
<path d="M503.50,808.30 C504.92,809.25 508.42,811.38 512.00,814.00 C515.58,816.62 521.17,820.67 525.00,824.00 C528.83,827.33 531.55,830.83 535.00,834.00 C538.45,837.17 542.37,840.33 545.70,843.00 C549.03,845.67 552.12,847.92 555.00,850.00 C557.88,852.08 560.08,853.92 563.00,855.50 C565.92,857.08 569.33,858.58 572.50,859.50 C575.67,860.42 578.85,860.70 582.00,861.00 C585.15,861.30 589.83,861.25 591.40,861.30" fill="none" stroke="#141414" stroke-width="1.75" stroke-dasharray="1.25,0.85"/>
<path d="M679.30,808.30 C677.88,809.25 674.38,811.38 670.80,814.00 C667.22,816.62 661.63,820.67 657.80,824.00 C653.97,827.33 651.25,830.83 647.80,834.00 C644.35,837.17 640.43,840.33 637.10,843.00 C633.77,845.67 630.68,847.92 627.80,850.00 C624.92,852.08 622.72,853.92 619.80,855.50 C616.88,857.08 613.47,858.58 610.30,859.50 C607.13,860.42 603.95,860.70 600.80,861.00 C597.65,861.30 592.97,861.25 591.40,861.30" fill="none" stroke="#141414" stroke-width="1.75" stroke-dasharray="1.25,0.85"/>
<path d="M503.50,833.80 C505.42,834.75 510.92,837.63 515.00,839.50 C519.08,841.37 523.67,843.25 528.00,845.00 C532.33,846.75 536.38,848.33 541.00,850.00 C545.62,851.67 551.37,853.50 555.70,855.00 C560.03,856.50 562.95,858.00 567.00,859.00 C571.05,860.00 575.93,860.62 580.00,861.00 C584.07,861.38 589.50,861.25 591.40,861.30" fill="none" stroke="#141414" stroke-width="1.75" stroke-dasharray="1.25,0.85"/>
<path d="M679.30,833.80 C677.38,834.75 671.88,837.63 667.80,839.50 C663.72,841.37 659.13,843.25 654.80,845.00 C650.47,846.75 646.42,848.33 641.80,850.00 C637.18,851.67 631.43,853.50 627.10,855.00 C622.77,856.50 619.85,858.00 615.80,859.00 C611.75,860.00 606.87,860.62 602.80,861.00 C598.73,861.38 593.30,861.25 591.40,861.30" fill="none" stroke="#141414" stroke-width="1.75" stroke-dasharray="1.25,0.85"/>
<path d="M528.90,854.60 C530.75,854.92 536.15,855.77 540.00,856.50 C543.85,857.23 548.17,858.17 552.00,859.00 C555.83,859.83 559.58,860.83 563.00,861.50 C566.42,862.17 569.33,862.87 572.50,863.00 C575.67,863.13 578.85,862.58 582.00,862.30 C585.15,862.02 589.83,861.47 591.40,861.30" fill="none" stroke="#141414" stroke-width="1.75" stroke-dasharray="1.25,0.85"/>
<path d="M653.90,854.60 C652.05,854.92 646.65,855.77 642.80,856.50 C638.95,857.23 634.63,858.17 630.80,859.00 C626.97,859.83 623.22,860.83 619.80,861.50 C616.38,862.17 613.47,862.87 610.30,863.00 C607.13,863.13 603.95,862.58 600.80,862.30 C597.65,862.02 592.97,861.47 591.40,861.30" fill="none" stroke="#141414" stroke-width="1.75" stroke-dasharray="1.25,0.85"/>
<text x="674.2" y="740.3" font-size="11.55" text-anchor="end" fill="#222" font-weight="normal" >Bottom surface</text>
<text x="502.2" y="729.8" font-size="14" text-anchor="end" fill="#222" font-weight="normal" >0.0</text>
<text x="502.2" y="913.4" font-size="14" text-anchor="end" fill="#222" font-weight="normal" >-0.5</text>
<text x="0.0" y="0.0" font-size="14" text-anchor="middle" fill="#222" font-weight="normal" transform="translate(486.6,812.6) rotate(-90)">Energy (eV)</text>
<text x="525.6" y="931.0" font-size="16" text-anchor="middle" fill="#222" font-weight="normal" >Γ</text>
<line x1="521.00" y1="915.40" x2="530.00" y2="915.40" stroke="#222" stroke-width="1" />
<text x="591.8" y="931.0" font-size="16" text-anchor="middle" fill="#222" font-weight="normal" >M</text>
<line x1="585.50" y1="915.40" x2="598.10" y2="915.40" stroke="#222" stroke-width="1" />
<text x="659.5" y="931.0" font-size="16" text-anchor="start" fill="#222" font-weight="normal" >Γ′</text>
<line x1="660.50" y1="915.40" x2="669.50" y2="915.40" stroke="#222" stroke-width="1" />
<line x1="537.00" y1="925.20" x2="572.50" y2="925.20" stroke="#111" stroke-width="2" />
<path d="M531.6,925.2 L539.5,921.4 L539.5,929.0 Z" fill="#111"/>
<line x1="616.20" y1="925.20" x2="651.00" y2="925.20" stroke="#111" stroke-width="2" />
<path d="M656.6,925.2 L648.7,921.4 L648.7,929.0 Z" fill="#111"/>
</svg></body></html>
